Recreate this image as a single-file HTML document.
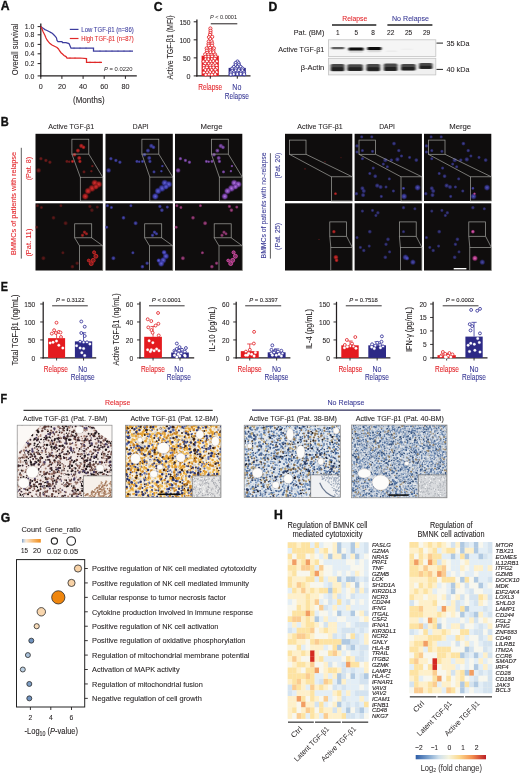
<!DOCTYPE html>
<html><head><meta charset="utf-8"><style>
html,body{margin:0;padding:0;background:#fff;}
body{width:520px;height:776px;overflow:hidden;}
svg{display:block;will-change:transform;font-family:"Liberation Sans",sans-serif;}
</style></head><body>
<svg width="520" height="776" viewBox="0 0 520 776">
<rect width="520" height="776" fill="#ffffff"/>
<text x="0.8" y="10.39" font-size="12.2" font-weight="bold" fill="#111" stroke="#111" stroke-width="0.35">A</text>
<text x="153.8" y="10.89" font-size="12.2" font-weight="bold" fill="#111" stroke="#111" stroke-width="0.35">C</text>
<text x="268.5" y="10.64" font-size="12.2" font-weight="bold" fill="#111" stroke="#111" stroke-width="0.35">D</text>
<text x="0.8" y="125.59" font-size="12.2" font-weight="bold" fill="#111" stroke="#111" stroke-width="0.35" textLength="8.0" lengthAdjust="spacingAndGlyphs">B</text>
<text x="0.8" y="291.29" font-size="12.2" font-weight="bold" fill="#111" stroke="#111" stroke-width="0.35" textLength="7.2" lengthAdjust="spacingAndGlyphs">E</text>
<text x="0.5" y="402.79" font-size="12.2" font-weight="bold" fill="#111" stroke="#111" stroke-width="0.35" textLength="6.6" lengthAdjust="spacingAndGlyphs">F</text>
<text x="0.8" y="521.89" font-size="12.2" font-weight="bold" fill="#111" stroke="#111" stroke-width="0.35">G</text>
<text x="274.0" y="518.69" font-size="12.2" font-weight="bold" fill="#111" stroke="#111" stroke-width="0.35">H</text>
<line x1="40.80" y1="23.40" x2="40.80" y2="76.40" stroke="#231f20" stroke-width="1.3" />
<line x1="40.20" y1="75.90" x2="136.80" y2="75.90" stroke="#231f20" stroke-width="1.3" />
<line x1="37.60" y1="26.60" x2="40.80" y2="26.60" stroke="#231f20" stroke-width="1.0" />
<text x="34.30" y="29.26" font-size="7.39" fill="#231f20" stroke="#231f20" stroke-width="0.08" text-anchor="end" textLength="9.60" lengthAdjust="spacingAndGlyphs" >1.0</text>
<line x1="37.60" y1="34.80" x2="40.80" y2="34.80" stroke="#231f20" stroke-width="1.0" />
<text x="34.30" y="37.46" font-size="7.39" fill="#231f20" stroke="#231f20" stroke-width="0.08" text-anchor="end" textLength="9.60" lengthAdjust="spacingAndGlyphs" >0.8</text>
<line x1="37.60" y1="44.40" x2="40.80" y2="44.40" stroke="#231f20" stroke-width="1.0" />
<text x="34.30" y="47.06" font-size="7.39" fill="#231f20" stroke="#231f20" stroke-width="0.08" text-anchor="end" textLength="9.60" lengthAdjust="spacingAndGlyphs" >0.6</text>
<line x1="37.60" y1="53.80" x2="40.80" y2="53.80" stroke="#231f20" stroke-width="1.0" />
<text x="34.30" y="56.46" font-size="7.39" fill="#231f20" stroke="#231f20" stroke-width="0.08" text-anchor="end" textLength="9.60" lengthAdjust="spacingAndGlyphs" >0.4</text>
<line x1="37.60" y1="63.60" x2="40.80" y2="63.60" stroke="#231f20" stroke-width="1.0" />
<text x="34.30" y="66.26" font-size="7.39" fill="#231f20" stroke="#231f20" stroke-width="0.08" text-anchor="end" textLength="9.60" lengthAdjust="spacingAndGlyphs" >0.2</text>
<line x1="37.60" y1="75.90" x2="40.80" y2="75.90" stroke="#231f20" stroke-width="1.0" />
<text x="34.30" y="78.56" font-size="7.39" fill="#231f20" stroke="#231f20" stroke-width="0.08" text-anchor="end" textLength="9.60" lengthAdjust="spacingAndGlyphs" >0.0</text>
<line x1="40.80" y1="75.90" x2="40.80" y2="78.90" stroke="#231f20" stroke-width="1.0" />
<text x="40.80" y="88.86" font-size="7.39" fill="#231f20" stroke="#231f20" stroke-width="0.08" text-anchor="middle" textLength="4.00" lengthAdjust="spacingAndGlyphs" >0</text>
<line x1="61.90" y1="75.90" x2="61.90" y2="78.90" stroke="#231f20" stroke-width="1.0" />
<text x="61.90" y="88.86" font-size="7.39" fill="#231f20" stroke="#231f20" stroke-width="0.08" text-anchor="middle" textLength="8.00" lengthAdjust="spacingAndGlyphs" >20</text>
<line x1="83.10" y1="75.90" x2="83.10" y2="78.90" stroke="#231f20" stroke-width="1.0" />
<text x="83.10" y="88.86" font-size="7.39" fill="#231f20" stroke="#231f20" stroke-width="0.08" text-anchor="middle" textLength="8.00" lengthAdjust="spacingAndGlyphs" >40</text>
<line x1="104.20" y1="75.90" x2="104.20" y2="78.90" stroke="#231f20" stroke-width="1.0" />
<text x="104.20" y="88.86" font-size="7.39" fill="#231f20" stroke="#231f20" stroke-width="0.08" text-anchor="middle" textLength="8.00" lengthAdjust="spacingAndGlyphs" >60</text>
<line x1="125.40" y1="75.90" x2="125.40" y2="78.90" stroke="#231f20" stroke-width="1.0" />
<text x="125.40" y="88.86" font-size="7.39" fill="#231f20" stroke="#231f20" stroke-width="0.08" text-anchor="middle" textLength="8.00" lengthAdjust="spacingAndGlyphs" >80</text>
<text x="88.80" y="102.70" font-size="9.18" fill="#231f20" stroke="#231f20" stroke-width="0.08" text-anchor="middle" textLength="31.50" lengthAdjust="spacingAndGlyphs" >(Months)</text>
<text x="14.10" y="52.95" font-size="9.86" fill="#231f20" stroke="#231f20" stroke-width="0.08" text-anchor="middle" textLength="51.50" lengthAdjust="spacingAndGlyphs" transform="rotate(-90 14.10 49.40)" >Overall survival</text>
<polyline points="41.00,26.60 42.00,27.50 43.50,28.60 45.00,29.60 46.50,30.20 48.00,31.00 49.50,31.80 51.00,32.60 52.50,33.60 54.00,35.00 55.50,36.60 56.50,38.00 57.00,40.50 58.00,41.70 62.00,41.70 62.50,42.60 66.00,42.60 69.00,43.60 70.00,45.80 71.00,48.20 93.50,48.20 93.50,51.10 133.00,51.10" fill="none" stroke="#3c3c9e" stroke-width="1.25" stroke-linejoin="miter"/>
<polyline points="41.00,26.60 42.00,29.00 43.00,31.50 44.00,33.50 45.00,35.60 46.00,38.00 47.00,40.00 48.50,41.80 50.00,43.60 52.00,45.00 55.00,46.50 57.00,47.50 58.50,49.00 59.50,50.70 61.00,52.70 62.50,54.00 64.00,55.50 66.00,56.60 67.00,58.00 80.00,58.00 86.50,58.60 86.50,62.30 102.00,62.30" fill="none" stroke="#e02828" stroke-width="1.25" stroke-linejoin="miter"/>
<line x1="100.00" y1="50.20" x2="100.00" y2="52.00" stroke="#3c3c9e" stroke-width="0.5" />
<line x1="106.00" y1="50.20" x2="106.00" y2="52.00" stroke="#3c3c9e" stroke-width="0.5" />
<line x1="112.00" y1="50.20" x2="112.00" y2="52.00" stroke="#3c3c9e" stroke-width="0.5" />
<line x1="118.00" y1="50.20" x2="118.00" y2="52.00" stroke="#3c3c9e" stroke-width="0.5" />
<line x1="124.00" y1="50.20" x2="124.00" y2="52.00" stroke="#3c3c9e" stroke-width="0.5" />
<line x1="130.00" y1="50.20" x2="130.00" y2="52.00" stroke="#3c3c9e" stroke-width="0.5" />
<line x1="74.00" y1="47.30" x2="74.00" y2="49.10" stroke="#3c3c9e" stroke-width="0.5" />
<line x1="80.00" y1="47.30" x2="80.00" y2="49.10" stroke="#3c3c9e" stroke-width="0.5" />
<line x1="86.00" y1="47.30" x2="86.00" y2="49.10" stroke="#3c3c9e" stroke-width="0.5" />
<line x1="70.00" y1="57.10" x2="70.00" y2="58.90" stroke="#e02828" stroke-width="0.5" />
<line x1="75.00" y1="57.10" x2="75.00" y2="58.90" stroke="#e02828" stroke-width="0.5" />
<line x1="90.00" y1="61.40" x2="90.00" y2="63.20" stroke="#e02828" stroke-width="0.5" />
<line x1="95.00" y1="61.40" x2="95.00" y2="63.20" stroke="#e02828" stroke-width="0.5" />
<line x1="100.00" y1="61.40" x2="100.00" y2="63.20" stroke="#e02828" stroke-width="0.5" />
<line x1="69.80" y1="29.40" x2="78.50" y2="29.40" stroke="#3c3c9e" stroke-width="1.2" />
<line x1="69.80" y1="38.50" x2="78.50" y2="38.50" stroke="#e02828" stroke-width="1.2" />
<text x="81.30" y="31.94" font-size="7.06" fill="#3c3c9e" stroke="#3c3c9e" stroke-width="0.08" textLength="52.50" lengthAdjust="spacingAndGlyphs" >Low TGF-β1 (n=86)</text>
<text x="81.30" y="41.04" font-size="7.06" fill="#e02828" stroke="#e02828" stroke-width="0.08" textLength="52.50" lengthAdjust="spacingAndGlyphs" >High TGF-β1 (n=87)</text>
<text x="104" y="70.99" font-size="5.8" fill="#231f20" textLength="28.5" lengthAdjust="spacingAndGlyphs"><tspan font-style="italic">P</tspan> = 0.0220</text>
<line x1="196.90" y1="19.60" x2="196.90" y2="76.40" stroke="#231f20" stroke-width="1.3" />
<line x1="196.30" y1="75.90" x2="250.50" y2="75.90" stroke="#231f20" stroke-width="1.3" />
<line x1="193.70" y1="75.90" x2="196.90" y2="75.90" stroke="#231f20" stroke-width="1.0" />
<text x="190.60" y="78.64" font-size="7.62" fill="#231f20" stroke="#231f20" stroke-width="0.08" text-anchor="end" textLength="4.00" lengthAdjust="spacingAndGlyphs" >0</text>
<line x1="193.70" y1="57.87" x2="196.90" y2="57.87" stroke="#231f20" stroke-width="1.0" />
<text x="190.60" y="60.61" font-size="7.62" fill="#231f20" stroke="#231f20" stroke-width="0.08" text-anchor="end" textLength="7.60" lengthAdjust="spacingAndGlyphs" >50</text>
<line x1="193.70" y1="39.83" x2="196.90" y2="39.83" stroke="#231f20" stroke-width="1.0" />
<text x="190.60" y="42.58" font-size="7.62" fill="#231f20" stroke="#231f20" stroke-width="0.08" text-anchor="end" textLength="11.20" lengthAdjust="spacingAndGlyphs" >100</text>
<line x1="193.70" y1="21.80" x2="196.90" y2="21.80" stroke="#231f20" stroke-width="1.0" />
<text x="190.60" y="24.54" font-size="7.62" fill="#231f20" stroke="#231f20" stroke-width="0.08" text-anchor="end" textLength="11.20" lengthAdjust="spacingAndGlyphs" >150</text>
<line x1="210.30" y1="75.90" x2="210.30" y2="78.70" stroke="#231f20" stroke-width="1.0" />
<line x1="237.30" y1="75.90" x2="237.30" y2="78.70" stroke="#231f20" stroke-width="1.0" />
<text x="169.60" y="50.80" font-size="9.18" fill="#231f20" stroke="#231f20" stroke-width="0.08" text-anchor="middle" textLength="64.00" lengthAdjust="spacingAndGlyphs" transform="rotate(-90 169.60 47.50)" >Active TGF-β1 (MFI)</text>
<rect x="201.60" y="55.70" width="17.20" height="20.20" fill="#e41b1f" />
<rect x="228.60" y="67.90" width="17.20" height="8.00" fill="#2d2a86" />
<circle cx="210.39" cy="28.47" r="1.60" fill="#ffffff" stroke="#e3262b" stroke-width="0.9" />
<circle cx="210.51" cy="30.80" r="1.60" fill="#ffffff" stroke="#e3262b" stroke-width="0.9" />
<circle cx="210.47" cy="32.99" r="1.60" fill="#ffffff" stroke="#e3262b" stroke-width="0.9" />
<circle cx="209.97" cy="34.86" r="1.60" fill="#ffffff" stroke="#e3262b" stroke-width="0.9" />
<circle cx="208.99" cy="37.19" r="1.60" fill="#ffffff" stroke="#e3262b" stroke-width="0.9" />
<circle cx="212.21" cy="36.81" r="1.60" fill="#ffffff" stroke="#e3262b" stroke-width="0.9" />
<circle cx="210.28" cy="39.10" r="1.60" fill="#ffffff" stroke="#e3262b" stroke-width="0.9" />
<circle cx="208.71" cy="41.52" r="1.60" fill="#ffffff" stroke="#e3262b" stroke-width="0.9" />
<circle cx="211.58" cy="41.27" r="1.60" fill="#ffffff" stroke="#e3262b" stroke-width="0.9" />
<circle cx="208.52" cy="43.96" r="1.60" fill="#ffffff" stroke="#e3262b" stroke-width="0.9" />
<circle cx="212.11" cy="43.43" r="1.60" fill="#ffffff" stroke="#e3262b" stroke-width="0.9" />
<circle cx="208.88" cy="45.61" r="1.60" fill="#ffffff" stroke="#e3262b" stroke-width="0.9" />
<circle cx="212.01" cy="45.60" r="1.60" fill="#ffffff" stroke="#e3262b" stroke-width="0.9" />
<circle cx="206.70" cy="48.32" r="1.60" fill="#ffffff" stroke="#e3262b" stroke-width="0.9" />
<circle cx="210.10" cy="47.86" r="1.60" fill="#ffffff" stroke="#e3262b" stroke-width="0.9" />
<circle cx="213.89" cy="48.32" r="1.60" fill="#ffffff" stroke="#e3262b" stroke-width="0.9" />
<circle cx="206.90" cy="50.58" r="1.60" fill="#ffffff" stroke="#e3262b" stroke-width="0.9" />
<circle cx="210.33" cy="50.38" r="1.60" fill="#ffffff" stroke="#e3262b" stroke-width="0.9" />
<circle cx="213.34" cy="50.56" r="1.60" fill="#ffffff" stroke="#e3262b" stroke-width="0.9" />
<circle cx="207.18" cy="52.77" r="1.60" fill="#ffffff" stroke="#e3262b" stroke-width="0.9" />
<circle cx="210.58" cy="52.31" r="1.60" fill="#ffffff" stroke="#e3262b" stroke-width="0.9" />
<circle cx="213.45" cy="52.21" r="1.60" fill="#ffffff" stroke="#e3262b" stroke-width="0.9" />
<circle cx="205.18" cy="54.34" r="1.60" fill="#ffffff" stroke="#e3262b" stroke-width="0.9" />
<circle cx="208.54" cy="54.72" r="1.60" fill="#ffffff" stroke="#e3262b" stroke-width="0.9" />
<circle cx="211.58" cy="54.77" r="1.60" fill="#ffffff" stroke="#e3262b" stroke-width="0.9" />
<circle cx="215.06" cy="54.51" r="1.60" fill="#ffffff" stroke="#e3262b" stroke-width="0.9" />
<circle cx="205.65" cy="56.82" r="1.60" fill="#ffffff" stroke="#e3262b" stroke-width="0.9" />
<circle cx="208.55" cy="56.82" r="1.60" fill="#ffffff" stroke="#e3262b" stroke-width="0.9" />
<circle cx="212.07" cy="56.53" r="1.60" fill="#ffffff" stroke="#e3262b" stroke-width="0.9" />
<circle cx="215.51" cy="56.50" r="1.60" fill="#ffffff" stroke="#e3262b" stroke-width="0.9" />
<circle cx="205.60" cy="59.27" r="1.60" fill="#ffffff" stroke="#e3262b" stroke-width="0.9" />
<circle cx="208.34" cy="59.23" r="1.60" fill="#ffffff" stroke="#e3262b" stroke-width="0.9" />
<circle cx="211.83" cy="59.09" r="1.60" fill="#ffffff" stroke="#e3262b" stroke-width="0.9" />
<circle cx="214.83" cy="58.72" r="1.60" fill="#ffffff" stroke="#e3262b" stroke-width="0.9" />
<circle cx="203.58" cy="61.55" r="1.60" fill="#ffffff" stroke="#e3262b" stroke-width="0.9" />
<circle cx="206.84" cy="61.41" r="1.60" fill="#ffffff" stroke="#e3262b" stroke-width="0.9" />
<circle cx="210.60" cy="61.54" r="1.60" fill="#ffffff" stroke="#e3262b" stroke-width="0.9" />
<circle cx="213.44" cy="61.13" r="1.60" fill="#ffffff" stroke="#e3262b" stroke-width="0.9" />
<circle cx="216.82" cy="61.42" r="1.60" fill="#ffffff" stroke="#e3262b" stroke-width="0.9" />
<circle cx="205.15" cy="63.60" r="1.60" fill="#ffffff" stroke="#e3262b" stroke-width="0.9" />
<circle cx="208.88" cy="63.68" r="1.60" fill="#ffffff" stroke="#e3262b" stroke-width="0.9" />
<circle cx="211.60" cy="63.74" r="1.60" fill="#ffffff" stroke="#e3262b" stroke-width="0.9" />
<circle cx="214.89" cy="63.31" r="1.60" fill="#ffffff" stroke="#e3262b" stroke-width="0.9" />
<circle cx="203.88" cy="65.91" r="1.60" fill="#ffffff" stroke="#e3262b" stroke-width="0.9" />
<circle cx="206.94" cy="65.92" r="1.60" fill="#ffffff" stroke="#e3262b" stroke-width="0.9" />
<circle cx="210.33" cy="65.49" r="1.60" fill="#ffffff" stroke="#e3262b" stroke-width="0.9" />
<circle cx="213.42" cy="65.39" r="1.60" fill="#ffffff" stroke="#e3262b" stroke-width="0.9" />
<circle cx="216.50" cy="65.37" r="1.60" fill="#ffffff" stroke="#e3262b" stroke-width="0.9" />
<circle cx="203.93" cy="68.16" r="1.60" fill="#ffffff" stroke="#e3262b" stroke-width="0.9" />
<circle cx="206.81" cy="67.50" r="1.60" fill="#ffffff" stroke="#e3262b" stroke-width="0.9" />
<circle cx="210.64" cy="67.84" r="1.60" fill="#ffffff" stroke="#e3262b" stroke-width="0.9" />
<circle cx="213.48" cy="67.63" r="1.60" fill="#ffffff" stroke="#e3262b" stroke-width="0.9" />
<circle cx="216.87" cy="68.04" r="1.60" fill="#ffffff" stroke="#e3262b" stroke-width="0.9" />
<circle cx="205.39" cy="69.95" r="1.60" fill="#ffffff" stroke="#e3262b" stroke-width="0.9" />
<circle cx="208.36" cy="70.30" r="1.60" fill="#ffffff" stroke="#e3262b" stroke-width="0.9" />
<circle cx="211.60" cy="70.01" r="1.60" fill="#ffffff" stroke="#e3262b" stroke-width="0.9" />
<circle cx="215.41" cy="69.75" r="1.60" fill="#ffffff" stroke="#e3262b" stroke-width="0.9" />
<circle cx="203.96" cy="72.52" r="1.60" fill="#ffffff" stroke="#e3262b" stroke-width="0.9" />
<circle cx="207.14" cy="72.41" r="1.60" fill="#ffffff" stroke="#e3262b" stroke-width="0.9" />
<circle cx="210.02" cy="72.16" r="1.60" fill="#ffffff" stroke="#e3262b" stroke-width="0.9" />
<circle cx="213.30" cy="72.45" r="1.60" fill="#ffffff" stroke="#e3262b" stroke-width="0.9" />
<circle cx="216.66" cy="72.17" r="1.60" fill="#ffffff" stroke="#e3262b" stroke-width="0.9" />
<circle cx="205.77" cy="74.65" r="1.60" fill="#ffffff" stroke="#e3262b" stroke-width="0.9" />
<circle cx="209.01" cy="74.37" r="1.60" fill="#ffffff" stroke="#e3262b" stroke-width="0.9" />
<circle cx="211.92" cy="74.56" r="1.60" fill="#ffffff" stroke="#e3262b" stroke-width="0.9" />
<circle cx="215.16" cy="74.25" r="1.60" fill="#ffffff" stroke="#e3262b" stroke-width="0.9" />
<circle cx="237.48" cy="61.59" r="1.65" fill="#ffffff" stroke="#34329a" stroke-width="0.9" />
<circle cx="235.64" cy="63.09" r="1.65" fill="#ffffff" stroke="#34329a" stroke-width="0.9" />
<circle cx="238.65" cy="63.33" r="1.65" fill="#ffffff" stroke="#34329a" stroke-width="0.9" />
<circle cx="235.63" cy="65.21" r="1.65" fill="#ffffff" stroke="#34329a" stroke-width="0.9" />
<circle cx="238.87" cy="65.22" r="1.65" fill="#ffffff" stroke="#34329a" stroke-width="0.9" />
<circle cx="233.86" cy="67.07" r="1.65" fill="#ffffff" stroke="#34329a" stroke-width="0.9" />
<circle cx="237.44" cy="66.83" r="1.65" fill="#ffffff" stroke="#34329a" stroke-width="0.9" />
<circle cx="240.62" cy="66.99" r="1.65" fill="#ffffff" stroke="#34329a" stroke-width="0.9" />
<circle cx="232.17" cy="68.75" r="1.65" fill="#ffffff" stroke="#34329a" stroke-width="0.9" />
<circle cx="235.83" cy="68.57" r="1.65" fill="#ffffff" stroke="#34329a" stroke-width="0.9" />
<circle cx="239.13" cy="68.83" r="1.65" fill="#ffffff" stroke="#34329a" stroke-width="0.9" />
<circle cx="242.46" cy="68.62" r="1.65" fill="#ffffff" stroke="#34329a" stroke-width="0.9" />
<circle cx="232.11" cy="70.72" r="1.65" fill="#ffffff" stroke="#34329a" stroke-width="0.9" />
<circle cx="235.83" cy="70.51" r="1.65" fill="#ffffff" stroke="#34329a" stroke-width="0.9" />
<circle cx="238.71" cy="70.36" r="1.65" fill="#ffffff" stroke="#34329a" stroke-width="0.9" />
<circle cx="242.33" cy="70.42" r="1.65" fill="#ffffff" stroke="#34329a" stroke-width="0.9" />
<circle cx="230.97" cy="72.42" r="1.65" fill="#ffffff" stroke="#34329a" stroke-width="0.9" />
<circle cx="233.82" cy="72.46" r="1.65" fill="#ffffff" stroke="#34329a" stroke-width="0.9" />
<circle cx="237.22" cy="72.63" r="1.65" fill="#ffffff" stroke="#34329a" stroke-width="0.9" />
<circle cx="240.85" cy="72.38" r="1.65" fill="#ffffff" stroke="#34329a" stroke-width="0.9" />
<circle cx="243.99" cy="72.49" r="1.65" fill="#ffffff" stroke="#34329a" stroke-width="0.9" />
<circle cx="230.88" cy="74.49" r="1.65" fill="#ffffff" stroke="#34329a" stroke-width="0.9" />
<circle cx="233.72" cy="74.12" r="1.65" fill="#ffffff" stroke="#34329a" stroke-width="0.9" />
<circle cx="237.36" cy="74.08" r="1.65" fill="#ffffff" stroke="#34329a" stroke-width="0.9" />
<circle cx="240.65" cy="73.95" r="1.65" fill="#ffffff" stroke="#34329a" stroke-width="0.9" />
<circle cx="244.13" cy="74.22" r="1.65" fill="#ffffff" stroke="#34329a" stroke-width="0.9" />
<line x1="210.80" y1="23.80" x2="237.30" y2="23.80" stroke="#231f20" stroke-width="1.0" />
<text x="223.5" y="19.36" font-size="6" fill="#231f20" text-anchor="middle" textLength="27" lengthAdjust="spacingAndGlyphs"><tspan font-style="italic">P</tspan> &lt; 0.0001</text>
<text x="210.20" y="89.78" font-size="8.29" fill="#e3262b" stroke="#e3262b" stroke-width="0.08" text-anchor="middle" textLength="24.00" lengthAdjust="spacingAndGlyphs" >Relapse</text>
<text x="236.80" y="89.78" font-size="8.29" fill="#3a3a96" stroke="#3a3a96" stroke-width="0.08" text-anchor="middle" textLength="9.00" lengthAdjust="spacingAndGlyphs" >No</text>
<text x="236.80" y="98.78" font-size="8.29" fill="#3a3a96" stroke="#3a3a96" stroke-width="0.08" text-anchor="middle" textLength="24.00" lengthAdjust="spacingAndGlyphs" >Relapse</text>
<text x="354.80" y="20.82" font-size="7.84" fill="#e3262b" stroke="#e3262b" stroke-width="0.08" text-anchor="middle" textLength="25.00" lengthAdjust="spacingAndGlyphs" >Relapse</text>
<text x="410.50" y="20.82" font-size="7.84" fill="#3a3a96" stroke="#3a3a96" stroke-width="0.08" text-anchor="middle" textLength="37.00" lengthAdjust="spacingAndGlyphs" >No Relapse</text>
<line x1="332.00" y1="25.00" x2="376.30" y2="25.00" stroke="#222" stroke-width="1.35" />
<line x1="387.40" y1="25.00" x2="432.40" y2="25.00" stroke="#222" stroke-width="1.35" />
<text x="324.30" y="35.02" font-size="7.84" fill="#231f20" stroke="#231f20" stroke-width="0.08" text-anchor="end" textLength="30.50" lengthAdjust="spacingAndGlyphs" >Pat. (BM)</text>
<text x="337.70" y="35.14" font-size="7.62" fill="#231f20" stroke="#231f20" stroke-width="0.08" text-anchor="middle" textLength="3.60" lengthAdjust="spacingAndGlyphs" >1</text>
<text x="356.20" y="35.14" font-size="7.62" fill="#231f20" stroke="#231f20" stroke-width="0.08" text-anchor="middle" textLength="3.60" lengthAdjust="spacingAndGlyphs" >5</text>
<text x="373.00" y="35.14" font-size="7.62" fill="#231f20" stroke="#231f20" stroke-width="0.08" text-anchor="middle" textLength="3.60" lengthAdjust="spacingAndGlyphs" >8</text>
<text x="390.80" y="35.14" font-size="7.62" fill="#231f20" stroke="#231f20" stroke-width="0.08" text-anchor="middle" textLength="7.40" lengthAdjust="spacingAndGlyphs" >22</text>
<text x="408.60" y="35.14" font-size="7.62" fill="#231f20" stroke="#231f20" stroke-width="0.08" text-anchor="middle" textLength="7.40" lengthAdjust="spacingAndGlyphs" >25</text>
<text x="426.60" y="35.14" font-size="7.62" fill="#231f20" stroke="#231f20" stroke-width="0.08" text-anchor="middle" textLength="7.40" lengthAdjust="spacingAndGlyphs" >29</text>
<text x="324.30" y="52.12" font-size="7.84" fill="#231f20" stroke="#231f20" stroke-width="0.08" text-anchor="end" textLength="46.00" lengthAdjust="spacingAndGlyphs" >Active TGF-β1</text>
<text x="324.30" y="70.32" font-size="7.84" fill="#231f20" stroke="#231f20" stroke-width="0.08" text-anchor="end" textLength="23.50" lengthAdjust="spacingAndGlyphs" >β-Actin</text>
<defs><filter id="blur1" x="-30%" y="-60%" width="160%" height="220%"><feGaussianBlur stdDeviation="0.9 0.7"/></filter><filter id="blur05"><feGaussianBlur stdDeviation="0.45"/></filter></defs>
<rect x="328.40" y="39.80" width="107.40" height="16.60" fill="#f5f5f5" stroke="#c4c4c4" stroke-width="0.8"/>
<rect x="328.40" y="58.30" width="107.40" height="16.60" fill="#f0f0f0" stroke="#c4c4c4" stroke-width="0.8"/>
<filter id="bb" x="-20%" y="-80%" width="140%" height="260%"><feGaussianBlur stdDeviation="0.8 0.45"/></filter>
<g filter="url(#bb)">
<rect x="331.2" y="47.0" width="13.30" height="2.2" rx="1.2" fill="#5e5e5e"/>
<rect x="348.5" y="47.4" width="15.00" height="3.6" rx="1.2" fill="#0a0a0a"/>
<rect x="367.3" y="46.9" width="14.10" height="3.4" rx="1.2" fill="#0c0c0c"/>
<rect x="349" y="50.6" width="14.00" height="2.2" rx="0.8" fill="#d8d8d8"/>
<rect x="367.5" y="50.2" width="13.50" height="2.0" rx="0.8" fill="#dadada"/>
<rect x="386" y="50.5" width="11.00" height="1.6" rx="0.8" fill="#ececec"/>
<rect x="401" y="48.5" width="12.00" height="1.4" rx="0.8" fill="#efefef"/>
<rect x="330.6" y="64.0" width="13.90" height="7.30" rx="1.6" fill="#4a4a4a"/>
<rect x="331.1" y="67.28" width="12.90" height="3.65" rx="1.2" fill="#222"/>
<rect x="347.3" y="64.2" width="15.60" height="6.80" rx="1.6" fill="#4a4a4a"/>
<rect x="347.8" y="67.26" width="14.60" height="3.40" rx="1.2" fill="#222"/>
<rect x="366.4" y="64.0" width="13.80" height="7.20" rx="1.6" fill="#4a4a4a"/>
<rect x="366.9" y="67.24" width="12.80" height="3.60" rx="1.2" fill="#222"/>
<rect x="383.8" y="63.6" width="13.70" height="7.40" rx="1.6" fill="#4a4a4a"/>
<rect x="384.3" y="66.93" width="12.70" height="3.70" rx="1.2" fill="#222"/>
<rect x="400.9" y="64.0" width="14.80" height="6.50" rx="1.6" fill="#4a4a4a"/>
<rect x="401.4" y="66.92" width="13.80" height="3.25" rx="1.2" fill="#222"/>
<rect x="419.0" y="62.9" width="13.50" height="6.10" rx="1.6" fill="#4a4a4a"/>
<rect x="419.5" y="65.64" width="12.50" height="3.05" rx="1.2" fill="#222"/>
</g>
<line x1="436.50" y1="43.10" x2="443.00" y2="43.10" stroke="#222" stroke-width="1.0" />
<line x1="436.50" y1="69.40" x2="443.00" y2="69.40" stroke="#222" stroke-width="1.0" />
<text x="446.50" y="45.94" font-size="7.62" fill="#231f20" stroke="#231f20" stroke-width="0.08" textLength="23.00" lengthAdjust="spacingAndGlyphs" >35 kDa</text>
<text x="446.50" y="71.94" font-size="7.62" fill="#231f20" stroke="#231f20" stroke-width="0.08" textLength="23.00" lengthAdjust="spacingAndGlyphs" >40 kDa</text>
<defs><filter id="gl" x="-100%" y="-100%" width="300%" height="300%"><feGaussianBlur stdDeviation="0.55"/></filter><clipPath id="cpB"><rect x="0" y="0" width="67.3" height="67.2"/></clipPath></defs>
<text x="71.20" y="129.32" font-size="7.84" fill="#231f20" stroke="#231f20" stroke-width="0.08" text-anchor="middle" textLength="46.00" lengthAdjust="spacingAndGlyphs" >Active TGF-β1</text>
<text x="140.70" y="129.32" font-size="7.84" fill="#231f20" stroke="#231f20" stroke-width="0.08" text-anchor="middle" textLength="15.70" lengthAdjust="spacingAndGlyphs" >DAPI</text>
<text x="211.50" y="129.32" font-size="7.84" fill="#231f20" stroke="#231f20" stroke-width="0.08" text-anchor="middle" textLength="22.00" lengthAdjust="spacingAndGlyphs" >Merge</text>
<text x="320.00" y="129.32" font-size="7.84" fill="#231f20" stroke="#231f20" stroke-width="0.08" text-anchor="middle" textLength="45.50" lengthAdjust="spacingAndGlyphs" >Active TGF-β1</text>
<text x="387.00" y="129.32" font-size="7.84" fill="#231f20" stroke="#231f20" stroke-width="0.08" text-anchor="middle" textLength="15.70" lengthAdjust="spacingAndGlyphs" >DAPI</text>
<text x="460.20" y="129.32" font-size="7.84" fill="#231f20" stroke="#231f20" stroke-width="0.08" text-anchor="middle" textLength="22.00" lengthAdjust="spacingAndGlyphs" >Merge</text>
<text x="13.30" y="206.22" font-size="7.84" fill="#e3262b" stroke="#e3262b" stroke-width="0.08" text-anchor="middle" textLength="103.00" lengthAdjust="spacingAndGlyphs" transform="rotate(-90 13.30 203.40)" >BMMCs of patients with relapse</text>
<line x1="21.30" y1="147.80" x2="21.30" y2="258.60" stroke="#333" stroke-width="0.8" />
<text x="28.20" y="171.42" font-size="7.84" fill="#e3262b" stroke="#e3262b" stroke-width="0.08" text-anchor="middle" textLength="23.50" lengthAdjust="spacingAndGlyphs" transform="rotate(-90 28.20 168.60)" >(Pat. 8)</text>
<text x="28.20" y="245.42" font-size="7.84" fill="#e3262b" stroke="#e3262b" stroke-width="0.08" text-anchor="middle" textLength="28.00" lengthAdjust="spacingAndGlyphs" transform="rotate(-90 28.20 242.60)" >(Pat. 11)</text>
<text x="263.20" y="208.22" font-size="7.84" fill="#3a3a96" stroke="#3a3a96" stroke-width="0.08" text-anchor="middle" textLength="106.00" lengthAdjust="spacingAndGlyphs" transform="rotate(-90 263.20 205.40)" >BMMCs of patients with no-relapse</text>
<line x1="270.40" y1="153.20" x2="270.40" y2="258.60" stroke="#333" stroke-width="0.8" />
<text x="277.20" y="168.42" font-size="7.84" fill="#3a3a96" stroke="#3a3a96" stroke-width="0.08" text-anchor="middle" textLength="26.00" lengthAdjust="spacingAndGlyphs" transform="rotate(-90 277.20 165.60)" >(Pat. 20)</text>
<text x="277.20" y="239.22" font-size="7.84" fill="#3a3a96" stroke="#3a3a96" stroke-width="0.08" text-anchor="middle" textLength="27.00" lengthAdjust="spacingAndGlyphs" transform="rotate(-90 277.20 236.40)" >(Pat. 25)</text>
<defs><radialGradient id="gR"><stop offset="0" stop-color="#dc3030"/><stop offset="0.55" stop-color="#a81e1e" stop-opacity="0.85"/><stop offset="1" stop-color="#601010" stop-opacity="0"/></radialGradient><radialGradient id="gB"><stop offset="0" stop-color="#6a6ae6"/><stop offset="0.55" stop-color="#4040b8" stop-opacity="0.85"/><stop offset="1" stop-color="#202070" stop-opacity="0"/></radialGradient><radialGradient id="gM"><stop offset="0" stop-color="#c080f0"/><stop offset="0.55" stop-color="#8848c0" stop-opacity="0.85"/><stop offset="1" stop-color="#402060" stop-opacity="0"/></radialGradient><radialGradient id="gP"><stop offset="0" stop-color="#f070c0"/><stop offset="0.55" stop-color="#b03888" stop-opacity="0.85"/><stop offset="1" stop-color="#501040" stop-opacity="0"/></radialGradient></defs>
<g transform="translate(35.50,133.80)">
<rect x="0" y="0" width="67.3" height="67.2" fill="#0f0d0d"/>
<circle cx="5.4" cy="24.9" r="2.21" fill="url(#gR)" opacity="0.52"/>
<circle cx="10.4" cy="26.6" r="2.21" fill="url(#gR)" opacity="0.52"/>
<circle cx="14.4" cy="28.4" r="2.21" fill="url(#gR)" opacity="0.52"/>
<circle cx="3.1" cy="36.6" r="2.89" fill="url(#gR)" opacity="0.52"/>
<circle cx="31.4" cy="27.6" r="2.04" fill="url(#gR)" opacity="0.52"/>
<circle cx="37" cy="27.6" r="2.04" fill="url(#gR)" opacity="0.95"/>
<circle cx="43.7" cy="24.2" r="2.55" fill="url(#gR)" opacity="0.95"/>
<circle cx="44.4" cy="27.6" r="2.21" fill="url(#gR)" opacity="0.95"/>
<circle cx="39" cy="20.9" r="2.38" fill="url(#gR)" opacity="0.95"/>
<circle cx="42.4" cy="16.8" r="2.55" fill="url(#gR)" opacity="0.95"/>
<circle cx="45.8" cy="12.1" r="2.72" fill="url(#gR)" opacity="0.95"/>
<circle cx="48" cy="13.5" r="2.38" fill="url(#gR)" opacity="0.95"/>
<circle cx="56.9" cy="32.3" r="1.70" fill="url(#gR)" opacity="0.52"/>
<circle cx="48.5" cy="38.1" r="2.04" fill="url(#gR)" opacity="0.52"/>
<circle cx="33.7" cy="27.9" r="1.70" fill="url(#gR)" opacity="0.52"/>
<circle cx="55.9" cy="37.4" r="1.70" fill="url(#gR)" opacity="0.52"/>
<rect x="44.8" y="43.5" width="22.50" height="23.70" fill="#0f0d0d"/>
<circle cx="59.2" cy="49.1" r="3.77" fill="url(#gR)" opacity="1.00"/>
<circle cx="63.3" cy="50.5" r="3.77" fill="url(#gR)" opacity="1.00"/>
<circle cx="56.5" cy="54.5" r="4.06" fill="url(#gR)" opacity="1.00"/>
<circle cx="52.5" cy="57.2" r="3.77" fill="url(#gR)" opacity="1.00"/>
<circle cx="49.8" cy="62.6" r="3.77" fill="url(#gR)" opacity="1.00"/>
<circle cx="60.5" cy="53" r="3.19" fill="url(#gR)" opacity="1.00"/>
<rect x="36.4" y="5.4" width="16.9" height="14.9" stroke="#9a9a96" stroke-width="0.75" fill="none"/>
<rect x="44.8" y="43.5" width="22.50" height="23.70" stroke="#9a9a96" stroke-width="0.75" fill="none"/>
<line x1="36.4" y1="20.3" x2="44.8" y2="43.5" stroke="#9a9a96" stroke-width="0.75" fill="none"/>
<line x1="53.3" y1="20.3" x2="67.3" y2="43.5" stroke="#9a9a96" stroke-width="0.75" fill="none"/>
</g>
<g transform="translate(105.50,133.80)">
<rect x="0" y="0" width="67.3" height="67.2" fill="#0f0d0d"/>
<circle cx="5.4" cy="24.9" r="2.21" fill="url(#gB)" opacity="0.75"/>
<circle cx="10.4" cy="26.6" r="2.21" fill="url(#gB)" opacity="0.75"/>
<circle cx="14.4" cy="28.4" r="2.21" fill="url(#gB)" opacity="0.75"/>
<circle cx="3.1" cy="36.6" r="2.89" fill="url(#gB)" opacity="0.75"/>
<circle cx="31.4" cy="27.6" r="2.04" fill="url(#gB)" opacity="0.75"/>
<circle cx="37" cy="27.6" r="2.04" fill="url(#gB)" opacity="0.75"/>
<circle cx="43.7" cy="24.2" r="2.55" fill="url(#gB)" opacity="0.75"/>
<circle cx="44.4" cy="27.6" r="2.21" fill="url(#gB)" opacity="0.75"/>
<circle cx="39" cy="20.9" r="2.38" fill="url(#gB)" opacity="0.75"/>
<circle cx="42.4" cy="16.8" r="2.55" fill="url(#gB)" opacity="0.75"/>
<circle cx="45.8" cy="12.1" r="2.72" fill="url(#gB)" opacity="0.75"/>
<circle cx="48" cy="13.5" r="2.38" fill="url(#gB)" opacity="0.75"/>
<circle cx="56.9" cy="32.3" r="1.70" fill="url(#gB)" opacity="0.75"/>
<circle cx="48.5" cy="38.1" r="2.04" fill="url(#gB)" opacity="0.75"/>
<circle cx="33.7" cy="27.9" r="1.70" fill="url(#gB)" opacity="0.75"/>
<circle cx="55.9" cy="37.4" r="1.70" fill="url(#gB)" opacity="0.75"/>
<rect x="44.3" y="43.3" width="23.00" height="23.90" fill="#0f0d0d"/>
<circle cx="59.2" cy="49.1" r="3.77" fill="url(#gB)" opacity="0.95"/>
<circle cx="63.3" cy="50.5" r="3.77" fill="url(#gB)" opacity="0.95"/>
<circle cx="56.5" cy="54.5" r="4.06" fill="url(#gB)" opacity="0.95"/>
<circle cx="52.5" cy="57.2" r="3.77" fill="url(#gB)" opacity="0.95"/>
<circle cx="49.8" cy="62.6" r="3.77" fill="url(#gB)" opacity="0.95"/>
<circle cx="60.5" cy="53" r="3.19" fill="url(#gB)" opacity="0.95"/>
<rect x="36.4" y="5.4" width="16.9" height="14.9" stroke="#9a9a96" stroke-width="0.75" fill="none"/>
<rect x="44.3" y="43.3" width="23.00" height="23.90" stroke="#9a9a96" stroke-width="0.75" fill="none"/>
<line x1="36.4" y1="20.3" x2="44.3" y2="43.3" stroke="#9a9a96" stroke-width="0.75" fill="none"/>
<line x1="53.3" y1="20.3" x2="67.3" y2="43.3" stroke="#9a9a96" stroke-width="0.75" fill="none"/>
</g>
<g transform="translate(175.00,133.80)">
<rect x="0" y="0" width="67.3" height="67.2" fill="#0f0d0d"/>
<circle cx="5.4" cy="24.9" r="2.21" fill="url(#gM)" opacity="0.75"/>
<circle cx="10.4" cy="26.6" r="2.21" fill="url(#gM)" opacity="0.75"/>
<circle cx="14.4" cy="28.4" r="2.21" fill="url(#gM)" opacity="0.75"/>
<circle cx="3.1" cy="36.6" r="2.89" fill="url(#gM)" opacity="0.75"/>
<circle cx="31.4" cy="27.6" r="2.04" fill="url(#gM)" opacity="0.75"/>
<circle cx="37" cy="27.6" r="2.04" fill="url(#gM)" opacity="0.75"/>
<circle cx="43.7" cy="24.2" r="2.55" fill="url(#gM)" opacity="0.75"/>
<circle cx="44.4" cy="27.6" r="2.21" fill="url(#gM)" opacity="0.75"/>
<circle cx="39" cy="20.9" r="2.38" fill="url(#gM)" opacity="0.75"/>
<circle cx="42.4" cy="16.8" r="2.55" fill="url(#gM)" opacity="0.75"/>
<circle cx="45.8" cy="12.1" r="2.72" fill="url(#gM)" opacity="0.75"/>
<circle cx="48" cy="13.5" r="2.38" fill="url(#gM)" opacity="0.75"/>
<circle cx="56.9" cy="32.3" r="1.70" fill="url(#gM)" opacity="0.75"/>
<circle cx="48.5" cy="38.1" r="2.04" fill="url(#gM)" opacity="0.75"/>
<circle cx="33.7" cy="27.9" r="1.70" fill="url(#gM)" opacity="0.75"/>
<circle cx="55.9" cy="37.4" r="1.70" fill="url(#gM)" opacity="0.75"/>
<rect x="44.3" y="43.3" width="23.00" height="23.90" fill="#0f0d0d"/>
<circle cx="59.2" cy="49.1" r="3.77" fill="url(#gM)" opacity="0.95"/>
<circle cx="63.3" cy="50.5" r="3.77" fill="url(#gM)" opacity="0.95"/>
<circle cx="56.5" cy="54.5" r="4.06" fill="url(#gM)" opacity="0.95"/>
<circle cx="52.5" cy="57.2" r="3.77" fill="url(#gM)" opacity="0.95"/>
<circle cx="49.8" cy="62.6" r="3.77" fill="url(#gM)" opacity="0.95"/>
<circle cx="60.5" cy="53" r="3.19" fill="url(#gM)" opacity="0.95"/>
<rect x="36.4" y="5.4" width="16.9" height="14.9" stroke="#9a9a96" stroke-width="0.75" fill="none"/>
<rect x="44.3" y="43.3" width="23.00" height="23.90" stroke="#9a9a96" stroke-width="0.75" fill="none"/>
<line x1="36.4" y1="20.3" x2="44.3" y2="43.3" stroke="#9a9a96" stroke-width="0.75" fill="none"/>
<line x1="53.3" y1="20.3" x2="67.3" y2="43.3" stroke="#9a9a96" stroke-width="0.75" fill="none"/>
</g>
<g transform="translate(35.50,203.30)">
<rect x="0" y="0" width="67.3" height="67.2" fill="#0f0d0d"/>
<circle cx="1.9" cy="2.4" r="2.04" fill="url(#gR)" opacity="0.41"/>
<circle cx="5.9" cy="4.2" r="2.04" fill="url(#gR)" opacity="0.41"/>
<circle cx="25.4" cy="2.4" r="2.04" fill="url(#gR)" opacity="0.41"/>
<circle cx="54.4" cy="3.1" r="2.21" fill="url(#gR)" opacity="0.41"/>
<circle cx="61.8" cy="3.8" r="2.04" fill="url(#gR)" opacity="0.41"/>
<circle cx="56.4" cy="6.9" r="2.38" fill="url(#gR)" opacity="0.41"/>
<circle cx="18" cy="14.5" r="2.38" fill="url(#gR)" opacity="0.41"/>
<circle cx="30.1" cy="19.9" r="2.55" fill="url(#gR)" opacity="0.41"/>
<circle cx="1.2" cy="23.9" r="2.04" fill="url(#gR)" opacity="0.41"/>
<circle cx="49" cy="28.9" r="2.21" fill="url(#gR)" opacity="0.81"/>
<circle cx="47" cy="32" r="2.21" fill="url(#gR)" opacity="0.81"/>
<circle cx="51" cy="30.5" r="2.04" fill="url(#gR)" opacity="0.81"/>
<circle cx="27.4" cy="49.5" r="2.04" fill="url(#gR)" opacity="0.41"/>
<circle cx="7.9" cy="54.9" r="2.55" fill="url(#gR)" opacity="0.41"/>
<circle cx="41.6" cy="59.9" r="2.21" fill="url(#gR)" opacity="0.41"/>
<circle cx="36.9" cy="63.4" r="2.38" fill="url(#gR)" opacity="0.41"/>
<rect x="44.0" y="42.5" width="23.30" height="24.70" fill="#0f0d0d"/>
<circle cx="60.4" cy="52.9" r="3.12" fill="url(#gR)" opacity="0.60"/>
<circle cx="60.4" cy="52.9" r="1.88" fill="none" stroke="#d02828" stroke-width="0.9" opacity="1.00"/>
<circle cx="57.7" cy="57" r="3.12" fill="url(#gR)" opacity="0.60"/>
<circle cx="57.7" cy="57" r="1.88" fill="none" stroke="#d02828" stroke-width="0.9" opacity="1.00"/>
<circle cx="55.7" cy="60.3" r="3.12" fill="url(#gR)" opacity="0.60"/>
<circle cx="55.7" cy="60.3" r="1.88" fill="none" stroke="#d02828" stroke-width="0.9" opacity="1.00"/>
<circle cx="58.6" cy="49.1" r="2.50" fill="url(#gR)" opacity="0.60"/>
<circle cx="58.6" cy="49.1" r="1.50" fill="none" stroke="#d02828" stroke-width="0.9" opacity="1.00"/>
<circle cx="53.2" cy="57.2" r="2.25" fill="url(#gR)" opacity="0.60"/>
<circle cx="53.2" cy="57.2" r="1.35" fill="none" stroke="#d02828" stroke-width="0.9" opacity="1.00"/>
<rect x="39.2" y="20.5" width="17.0" height="14.0" stroke="#9a9a96" stroke-width="0.75" fill="none"/>
<rect x="44.0" y="42.5" width="23.30" height="24.70" stroke="#9a9a96" stroke-width="0.75" fill="none"/>
<line x1="39.2" y1="34.5" x2="44.0" y2="42.5" stroke="#9a9a96" stroke-width="0.75" fill="none"/>
<line x1="56.2" y1="34.5" x2="67.3" y2="42.5" stroke="#9a9a96" stroke-width="0.75" fill="none"/>
</g>
<g transform="translate(105.50,203.30)">
<rect x="0" y="0" width="67.3" height="67.2" fill="#0f0d0d"/>
<circle cx="1.9" cy="2.4" r="2.04" fill="url(#gB)" opacity="0.75"/>
<circle cx="5.9" cy="4.2" r="2.04" fill="url(#gB)" opacity="0.75"/>
<circle cx="25.4" cy="2.4" r="2.04" fill="url(#gB)" opacity="0.75"/>
<circle cx="54.4" cy="3.1" r="2.21" fill="url(#gB)" opacity="0.75"/>
<circle cx="61.8" cy="3.8" r="2.04" fill="url(#gB)" opacity="0.75"/>
<circle cx="56.4" cy="6.9" r="2.38" fill="url(#gB)" opacity="0.75"/>
<circle cx="18" cy="14.5" r="2.38" fill="url(#gB)" opacity="0.75"/>
<circle cx="30.1" cy="19.9" r="2.55" fill="url(#gB)" opacity="0.75"/>
<circle cx="1.2" cy="23.9" r="2.04" fill="url(#gB)" opacity="0.75"/>
<circle cx="49" cy="28.9" r="2.21" fill="url(#gB)" opacity="0.75"/>
<circle cx="47" cy="32" r="2.21" fill="url(#gB)" opacity="0.75"/>
<circle cx="51" cy="30.5" r="2.04" fill="url(#gB)" opacity="0.75"/>
<circle cx="27.4" cy="49.5" r="2.04" fill="url(#gB)" opacity="0.75"/>
<circle cx="7.9" cy="54.9" r="2.55" fill="url(#gB)" opacity="0.75"/>
<circle cx="41.6" cy="59.9" r="2.21" fill="url(#gB)" opacity="0.75"/>
<circle cx="36.9" cy="63.4" r="2.38" fill="url(#gB)" opacity="0.75"/>
<rect x="44.0" y="42.5" width="23.30" height="24.70" fill="#0f0d0d"/>
<circle cx="60.4" cy="52.9" r="3.62" fill="url(#gB)" opacity="0.95"/>
<circle cx="57.7" cy="57" r="3.62" fill="url(#gB)" opacity="0.95"/>
<circle cx="55.7" cy="60.3" r="3.62" fill="url(#gB)" opacity="0.95"/>
<circle cx="58.6" cy="49.1" r="2.90" fill="url(#gB)" opacity="0.95"/>
<circle cx="53.2" cy="57.2" r="2.61" fill="url(#gB)" opacity="0.95"/>
<rect x="39.2" y="20.5" width="17.0" height="14.0" stroke="#9a9a96" stroke-width="0.75" fill="none"/>
<rect x="44.0" y="42.5" width="23.30" height="24.70" stroke="#9a9a96" stroke-width="0.75" fill="none"/>
<line x1="39.2" y1="34.5" x2="44.0" y2="42.5" stroke="#9a9a96" stroke-width="0.75" fill="none"/>
<line x1="56.2" y1="34.5" x2="67.3" y2="42.5" stroke="#9a9a96" stroke-width="0.75" fill="none"/>
</g>
<g transform="translate(175.00,203.30)">
<rect x="0" y="0" width="67.3" height="67.2" fill="#0f0d0d"/>
<circle cx="1.9" cy="2.4" r="2.04" fill="url(#gP)" opacity="0.70"/>
<circle cx="5.9" cy="4.2" r="2.04" fill="url(#gP)" opacity="0.70"/>
<circle cx="25.4" cy="2.4" r="2.04" fill="url(#gP)" opacity="0.70"/>
<circle cx="54.4" cy="3.1" r="2.21" fill="url(#gP)" opacity="0.70"/>
<circle cx="61.8" cy="3.8" r="2.04" fill="url(#gP)" opacity="0.70"/>
<circle cx="56.4" cy="6.9" r="2.38" fill="url(#gP)" opacity="0.70"/>
<circle cx="18" cy="14.5" r="2.38" fill="url(#gP)" opacity="0.70"/>
<circle cx="30.1" cy="19.9" r="2.55" fill="url(#gP)" opacity="0.70"/>
<circle cx="1.2" cy="23.9" r="2.04" fill="url(#gP)" opacity="0.70"/>
<circle cx="49" cy="28.9" r="2.21" fill="url(#gP)" opacity="0.70"/>
<circle cx="47" cy="32" r="2.21" fill="url(#gP)" opacity="0.70"/>
<circle cx="51" cy="30.5" r="2.04" fill="url(#gP)" opacity="0.70"/>
<circle cx="27.4" cy="49.5" r="2.04" fill="url(#gP)" opacity="0.70"/>
<circle cx="7.9" cy="54.9" r="2.55" fill="url(#gP)" opacity="0.70"/>
<circle cx="41.6" cy="59.9" r="2.21" fill="url(#gP)" opacity="0.70"/>
<circle cx="36.9" cy="63.4" r="2.38" fill="url(#gP)" opacity="0.70"/>
<rect x="44.0" y="42.5" width="23.30" height="24.70" fill="#0f0d0d"/>
<circle cx="60.4" cy="52.9" r="3.12" fill="url(#gP)" opacity="0.57"/>
<circle cx="60.4" cy="52.9" r="1.88" fill="none" stroke="#e050b0" stroke-width="0.9" opacity="0.95"/>
<circle cx="57.7" cy="57" r="3.12" fill="url(#gP)" opacity="0.57"/>
<circle cx="57.7" cy="57" r="1.88" fill="none" stroke="#e050b0" stroke-width="0.9" opacity="0.95"/>
<circle cx="55.7" cy="60.3" r="3.12" fill="url(#gP)" opacity="0.57"/>
<circle cx="55.7" cy="60.3" r="1.88" fill="none" stroke="#e050b0" stroke-width="0.9" opacity="0.95"/>
<circle cx="58.6" cy="49.1" r="2.50" fill="url(#gP)" opacity="0.57"/>
<circle cx="58.6" cy="49.1" r="1.50" fill="none" stroke="#e050b0" stroke-width="0.9" opacity="0.95"/>
<circle cx="53.2" cy="57.2" r="2.25" fill="url(#gP)" opacity="0.57"/>
<circle cx="53.2" cy="57.2" r="1.35" fill="none" stroke="#e050b0" stroke-width="0.9" opacity="0.95"/>
<rect x="39.2" y="20.5" width="17.0" height="14.0" stroke="#9a9a96" stroke-width="0.75" fill="none"/>
<rect x="44.0" y="42.5" width="23.30" height="24.70" stroke="#9a9a96" stroke-width="0.75" fill="none"/>
<line x1="39.2" y1="34.5" x2="44.0" y2="42.5" stroke="#9a9a96" stroke-width="0.75" fill="none"/>
<line x1="56.2" y1="34.5" x2="67.3" y2="42.5" stroke="#9a9a96" stroke-width="0.75" fill="none"/>
</g>
<g transform="translate(285.00,133.80)">
<rect x="0" y="0" width="67.3" height="67.2" fill="#0f0d0d"/>
<circle cx="20" cy="35" r="1.36" fill="url(#gR)" opacity="0.30"/>
<circle cx="40" cy="28" r="1.19" fill="url(#gR)" opacity="0.30"/>
<circle cx="56" cy="24" r="1.02" fill="url(#gR)" opacity="0.30"/>
<rect x="46.4" y="43.0" width="20.90" height="24.20" fill="#0f0d0d"/>
<circle cx="50.5" cy="59.9" r="1.89" fill="url(#gR)" opacity="0.90"/>
<rect x="4.4" y="6.3" width="16.6" height="14.2" stroke="#9a9a96" stroke-width="0.75" fill="none"/>
<rect x="46.4" y="43.0" width="20.90" height="24.20" stroke="#9a9a96" stroke-width="0.75" fill="none"/>
<line x1="4.4" y1="20.5" x2="46.4" y2="43.0" stroke="#9a9a96" stroke-width="0.75" fill="none"/>
<line x1="21.0" y1="20.5" x2="67.3" y2="43.0" stroke="#9a9a96" stroke-width="0.75" fill="none"/>
</g>
<g transform="translate(354.60,133.80)">
<rect x="0" y="0" width="67.3" height="67.2" fill="#0f0d0d"/>
<circle cx="7.1" cy="3.1" r="2.04" fill="url(#gB)" opacity="0.60"/>
<circle cx="17.2" cy="3.1" r="2.04" fill="url(#gB)" opacity="0.60"/>
<circle cx="2.4" cy="12.1" r="2.21" fill="url(#gB)" opacity="0.60"/>
<circle cx="2.4" cy="18.2" r="2.04" fill="url(#gB)" opacity="0.60"/>
<circle cx="7.8" cy="16.8" r="2.04" fill="url(#gB)" opacity="0.60"/>
<circle cx="17.9" cy="17.5" r="2.04" fill="url(#gB)" opacity="0.60"/>
<circle cx="39.4" cy="9.8" r="2.38" fill="url(#gB)" opacity="0.60"/>
<circle cx="44.2" cy="16.8" r="2.21" fill="url(#gB)" opacity="0.60"/>
<circle cx="46.9" cy="22.2" r="2.04" fill="url(#gB)" opacity="0.60"/>
<circle cx="55" cy="23.6" r="2.04" fill="url(#gB)" opacity="0.60"/>
<circle cx="61.7" cy="26.3" r="2.38" fill="url(#gB)" opacity="0.60"/>
<circle cx="30.7" cy="26.3" r="2.72" fill="url(#gB)" opacity="0.60"/>
<circle cx="36.8" cy="26.3" r="2.21" fill="url(#gB)" opacity="0.60"/>
<circle cx="42.8" cy="25.6" r="2.72" fill="url(#gB)" opacity="0.60"/>
<circle cx="28.7" cy="30.3" r="2.04" fill="url(#gB)" opacity="0.60"/>
<circle cx="32.7" cy="33" r="2.04" fill="url(#gB)" opacity="0.60"/>
<circle cx="7.8" cy="24.9" r="2.04" fill="url(#gB)" opacity="0.60"/>
<circle cx="18.6" cy="34.3" r="2.04" fill="url(#gB)" opacity="0.60"/>
<circle cx="15.2" cy="39.7" r="2.04" fill="url(#gB)" opacity="0.60"/>
<circle cx="20.6" cy="42.4" r="2.38" fill="url(#gB)" opacity="0.60"/>
<circle cx="34.7" cy="45.1" r="2.04" fill="url(#gB)" opacity="0.60"/>
<circle cx="22.6" cy="51.8" r="2.72" fill="url(#gB)" opacity="0.60"/>
<circle cx="26" cy="53.2" r="2.55" fill="url(#gB)" opacity="0.60"/>
<circle cx="31.4" cy="53.2" r="2.04" fill="url(#gB)" opacity="0.60"/>
<circle cx="7.8" cy="54.5" r="2.55" fill="url(#gB)" opacity="0.60"/>
<circle cx="9.2" cy="57.2" r="2.55" fill="url(#gB)" opacity="0.60"/>
<circle cx="1.8" cy="59.9" r="2.21" fill="url(#gB)" opacity="0.60"/>
<circle cx="8.5" cy="61.3" r="2.55" fill="url(#gB)" opacity="0.60"/>
<circle cx="38.8" cy="57.2" r="2.04" fill="url(#gB)" opacity="0.60"/>
<circle cx="26.7" cy="62.6" r="2.04" fill="url(#gB)" opacity="0.60"/>
<rect x="46.4" y="43.0" width="20.90" height="24.20" fill="#0f0d0d"/>
<circle cx="63" cy="53.8" r="3.48" fill="url(#gB)" opacity="0.80"/>
<circle cx="49.5" cy="62.6" r="3.48" fill="url(#gB)" opacity="0.80"/>
<circle cx="48.9" cy="54.5" r="1.89" fill="url(#gB)" opacity="0.80"/>
<rect x="4.4" y="6.3" width="16.6" height="14.2" stroke="#9a9a96" stroke-width="0.75" fill="none"/>
<rect x="46.4" y="43.0" width="20.90" height="24.20" stroke="#9a9a96" stroke-width="0.75" fill="none"/>
<line x1="4.4" y1="20.5" x2="46.4" y2="43.0" stroke="#9a9a96" stroke-width="0.75" fill="none"/>
<line x1="21.0" y1="20.5" x2="67.3" y2="43.0" stroke="#9a9a96" stroke-width="0.75" fill="none"/>
</g>
<g transform="translate(424.00,133.80)">
<rect x="0" y="0" width="67.3" height="67.2" fill="#0f0d0d"/>
<circle cx="7.1" cy="3.1" r="2.04" fill="url(#gB)" opacity="0.60"/>
<circle cx="17.2" cy="3.1" r="2.04" fill="url(#gB)" opacity="0.60"/>
<circle cx="2.4" cy="12.1" r="2.21" fill="url(#gB)" opacity="0.60"/>
<circle cx="2.4" cy="18.2" r="2.04" fill="url(#gB)" opacity="0.60"/>
<circle cx="7.8" cy="16.8" r="2.04" fill="url(#gB)" opacity="0.60"/>
<circle cx="17.9" cy="17.5" r="2.04" fill="url(#gB)" opacity="0.60"/>
<circle cx="39.4" cy="9.8" r="2.38" fill="url(#gB)" opacity="0.60"/>
<circle cx="44.2" cy="16.8" r="2.21" fill="url(#gB)" opacity="0.60"/>
<circle cx="46.9" cy="22.2" r="2.04" fill="url(#gB)" opacity="0.60"/>
<circle cx="55" cy="23.6" r="2.04" fill="url(#gB)" opacity="0.60"/>
<circle cx="61.7" cy="26.3" r="2.38" fill="url(#gB)" opacity="0.60"/>
<circle cx="30.7" cy="26.3" r="2.72" fill="url(#gB)" opacity="0.60"/>
<circle cx="36.8" cy="26.3" r="2.21" fill="url(#gB)" opacity="0.60"/>
<circle cx="42.8" cy="25.6" r="2.72" fill="url(#gB)" opacity="0.60"/>
<circle cx="28.7" cy="30.3" r="2.04" fill="url(#gB)" opacity="0.60"/>
<circle cx="32.7" cy="33" r="2.04" fill="url(#gB)" opacity="0.60"/>
<circle cx="7.8" cy="24.9" r="2.04" fill="url(#gB)" opacity="0.60"/>
<circle cx="18.6" cy="34.3" r="2.04" fill="url(#gB)" opacity="0.60"/>
<circle cx="15.2" cy="39.7" r="2.04" fill="url(#gB)" opacity="0.60"/>
<circle cx="20.6" cy="42.4" r="2.38" fill="url(#gB)" opacity="0.60"/>
<circle cx="34.7" cy="45.1" r="2.04" fill="url(#gB)" opacity="0.60"/>
<circle cx="22.6" cy="51.8" r="2.72" fill="url(#gB)" opacity="0.60"/>
<circle cx="26" cy="53.2" r="2.55" fill="url(#gB)" opacity="0.60"/>
<circle cx="31.4" cy="53.2" r="2.04" fill="url(#gB)" opacity="0.60"/>
<circle cx="7.8" cy="54.5" r="2.55" fill="url(#gB)" opacity="0.60"/>
<circle cx="9.2" cy="57.2" r="2.55" fill="url(#gB)" opacity="0.60"/>
<circle cx="1.8" cy="59.9" r="2.21" fill="url(#gB)" opacity="0.60"/>
<circle cx="8.5" cy="61.3" r="2.55" fill="url(#gB)" opacity="0.60"/>
<circle cx="38.8" cy="57.2" r="2.04" fill="url(#gB)" opacity="0.60"/>
<circle cx="26.7" cy="62.6" r="2.04" fill="url(#gB)" opacity="0.60"/>
<rect x="46.4" y="43.0" width="20.90" height="24.20" fill="#0f0d0d"/>
<circle cx="63" cy="53.8" r="3.48" fill="url(#gB)" opacity="0.80"/>
<circle cx="49.5" cy="62.6" r="3.48" fill="url(#gB)" opacity="0.80"/>
<circle cx="48.9" cy="54.5" r="1.89" fill="url(#gB)" opacity="0.80"/>
<circle cx="50.5" cy="59.9" r="1.74" fill="url(#gP)" opacity="0.80"/>
<rect x="4.4" y="6.3" width="16.6" height="14.2" stroke="#9a9a96" stroke-width="0.75" fill="none"/>
<rect x="46.4" y="43.0" width="20.90" height="24.20" stroke="#9a9a96" stroke-width="0.75" fill="none"/>
<line x1="4.4" y1="20.5" x2="46.4" y2="43.0" stroke="#9a9a96" stroke-width="0.75" fill="none"/>
<line x1="21.0" y1="20.5" x2="67.3" y2="43.0" stroke="#9a9a96" stroke-width="0.75" fill="none"/>
</g>
<g transform="translate(285.00,203.30)">
<rect x="0" y="0" width="67.3" height="67.2" fill="#0f0d0d"/>
<circle cx="48.9" cy="28.4" r="2.21" fill="url(#gR)" opacity="0.95"/>
<circle cx="34" cy="36" r="1.02" fill="url(#gR)" opacity="0.38"/>
<rect x="45.8" y="44.1" width="21.50" height="23.10" fill="#0f0d0d"/>
<circle cx="50.9" cy="54" r="2.90" fill="url(#gR)" opacity="1.00"/>
<circle cx="51.6" cy="57" r="2.32" fill="url(#gR)" opacity="1.00"/>
<rect x="44.8" y="18.6" width="16.8" height="14.4" stroke="#9a9a96" stroke-width="0.75" fill="none"/>
<rect x="45.8" y="44.1" width="21.50" height="23.10" stroke="#9a9a96" stroke-width="0.75" fill="none"/>
<line x1="44.8" y1="33.0" x2="45.8" y2="44.1" stroke="#9a9a96" stroke-width="0.75" fill="none"/>
<line x1="61.599999999999994" y1="33.0" x2="67.3" y2="44.1" stroke="#9a9a96" stroke-width="0.75" fill="none"/>
</g>
<g transform="translate(354.60,203.30)">
<rect x="0" y="0" width="67.3" height="67.2" fill="#0f0d0d"/>
<circle cx="7.8" cy="7.8" r="2.04" fill="url(#gB)" opacity="0.55"/>
<circle cx="17.9" cy="7.1" r="2.04" fill="url(#gB)" opacity="0.55"/>
<circle cx="23.3" cy="9.5" r="2.21" fill="url(#gB)" opacity="0.55"/>
<circle cx="21.3" cy="12.2" r="2.04" fill="url(#gB)" opacity="0.55"/>
<circle cx="48.9" cy="4.4" r="2.21" fill="url(#gB)" opacity="0.55"/>
<circle cx="60.3" cy="5.5" r="2.04" fill="url(#gB)" opacity="0.55"/>
<circle cx="15.2" cy="28.4" r="2.38" fill="url(#gB)" opacity="0.55"/>
<circle cx="2.4" cy="34.3" r="2.04" fill="url(#gB)" opacity="0.55"/>
<circle cx="33.4" cy="36" r="2.38" fill="url(#gB)" opacity="0.55"/>
<circle cx="31.4" cy="41" r="2.21" fill="url(#gB)" opacity="0.55"/>
<circle cx="14.6" cy="42.8" r="2.04" fill="url(#gB)" opacity="0.55"/>
<circle cx="5.8" cy="44.1" r="2.04" fill="url(#gB)" opacity="0.55"/>
<circle cx="9.2" cy="47.2" r="2.21" fill="url(#gB)" opacity="0.55"/>
<circle cx="35" cy="48.6" r="2.04" fill="url(#gB)" opacity="0.55"/>
<circle cx="30.7" cy="54" r="2.38" fill="url(#gB)" opacity="0.55"/>
<circle cx="48.9" cy="28.4" r="2.04" fill="url(#gB)" opacity="0.55"/>
<rect x="45.8" y="44.1" width="21.50" height="23.10" fill="#0f0d0d"/>
<circle cx="50.9" cy="54" r="3.33" fill="url(#gB)" opacity="0.75"/>
<circle cx="58.3" cy="58.9" r="3.19" fill="url(#gB)" opacity="0.75"/>
<circle cx="52.5" cy="55" r="2.61" fill="url(#gB)" opacity="0.75"/>
<rect x="44.8" y="18.6" width="16.8" height="14.4" stroke="#9a9a96" stroke-width="0.75" fill="none"/>
<rect x="45.8" y="44.1" width="21.50" height="23.10" stroke="#9a9a96" stroke-width="0.75" fill="none"/>
<line x1="44.8" y1="33.0" x2="45.8" y2="44.1" stroke="#9a9a96" stroke-width="0.75" fill="none"/>
<line x1="61.599999999999994" y1="33.0" x2="67.3" y2="44.1" stroke="#9a9a96" stroke-width="0.75" fill="none"/>
</g>
<g transform="translate(424.00,203.30)">
<rect x="0" y="0" width="67.3" height="67.2" fill="#0f0d0d"/>
<circle cx="7.8" cy="7.8" r="2.04" fill="url(#gB)" opacity="0.55"/>
<circle cx="17.9" cy="7.1" r="2.04" fill="url(#gB)" opacity="0.55"/>
<circle cx="23.3" cy="9.5" r="2.21" fill="url(#gB)" opacity="0.55"/>
<circle cx="21.3" cy="12.2" r="2.04" fill="url(#gB)" opacity="0.55"/>
<circle cx="48.9" cy="4.4" r="2.21" fill="url(#gB)" opacity="0.55"/>
<circle cx="60.3" cy="5.5" r="2.04" fill="url(#gB)" opacity="0.55"/>
<circle cx="15.2" cy="28.4" r="2.38" fill="url(#gB)" opacity="0.55"/>
<circle cx="2.4" cy="34.3" r="2.04" fill="url(#gB)" opacity="0.55"/>
<circle cx="33.4" cy="36" r="2.38" fill="url(#gB)" opacity="0.55"/>
<circle cx="31.4" cy="41" r="2.21" fill="url(#gB)" opacity="0.55"/>
<circle cx="14.6" cy="42.8" r="2.04" fill="url(#gB)" opacity="0.55"/>
<circle cx="5.8" cy="44.1" r="2.04" fill="url(#gB)" opacity="0.55"/>
<circle cx="9.2" cy="47.2" r="2.21" fill="url(#gB)" opacity="0.55"/>
<circle cx="35" cy="48.6" r="2.04" fill="url(#gB)" opacity="0.55"/>
<circle cx="30.7" cy="54" r="2.38" fill="url(#gB)" opacity="0.55"/>
<circle cx="48.9" cy="28.4" r="2.38" fill="url(#gP)" opacity="1.00"/>
<rect x="45.8" y="44.1" width="21.50" height="23.10" fill="#0f0d0d"/>
<circle cx="58.3" cy="58.9" r="3.19" fill="url(#gB)" opacity="0.70"/>
<circle cx="50.9" cy="55" r="3.33" fill="url(#gP)" opacity="1.00"/>
<rect x="44.8" y="18.6" width="16.8" height="14.4" stroke="#9a9a96" stroke-width="0.75" fill="none"/>
<rect x="45.8" y="44.1" width="21.50" height="23.10" stroke="#9a9a96" stroke-width="0.75" fill="none"/>
<line x1="44.8" y1="33.0" x2="45.8" y2="44.1" stroke="#9a9a96" stroke-width="0.75" fill="none"/>
<line x1="61.599999999999994" y1="33.0" x2="67.3" y2="44.1" stroke="#9a9a96" stroke-width="0.75" fill="none"/>
<line x1="29.70" y1="65.4" x2="42.40" y2="65.4" stroke="#ffffff" stroke-width="1.4"/>
</g>
<line x1="43.20" y1="301.80" x2="43.20" y2="358.40" stroke="#231f20" stroke-width="1.25" />
<line x1="42.60" y1="357.90" x2="96.20" y2="357.90" stroke="#231f20" stroke-width="1.25" />
<line x1="40.20" y1="357.90" x2="43.20" y2="357.90" stroke="#231f20" stroke-width="0.9" />
<text x="35.30" y="360.68" font-size="7.73" fill="#231f20" stroke="#231f20" stroke-width="0.08" text-anchor="end" textLength="3.70" lengthAdjust="spacingAndGlyphs" >0</text>
<line x1="40.20" y1="339.93" x2="43.20" y2="339.93" stroke="#231f20" stroke-width="0.9" />
<text x="35.30" y="342.72" font-size="7.73" fill="#231f20" stroke="#231f20" stroke-width="0.08" text-anchor="end" textLength="7.40" lengthAdjust="spacingAndGlyphs" >50</text>
<line x1="40.20" y1="321.97" x2="43.20" y2="321.97" stroke="#231f20" stroke-width="0.9" />
<text x="35.30" y="324.75" font-size="7.73" fill="#231f20" stroke="#231f20" stroke-width="0.08" text-anchor="end" textLength="11.00" lengthAdjust="spacingAndGlyphs" >100</text>
<line x1="40.20" y1="304.00" x2="43.20" y2="304.00" stroke="#231f20" stroke-width="0.9" />
<text x="35.30" y="306.78" font-size="7.73" fill="#231f20" stroke="#231f20" stroke-width="0.08" text-anchor="end" textLength="11.00" lengthAdjust="spacingAndGlyphs" >150</text>
<rect x="48.10" y="338.14" width="17.00" height="19.76" fill="#e41b1f" />
<rect x="74.90" y="341.37" width="17.30" height="16.53" fill="#2d2a86" />
<line x1="56.60" y1="357.90" x2="56.60" y2="360.50" stroke="#231f20" stroke-width="0.9" />
<line x1="83.55" y1="357.90" x2="83.55" y2="360.50" stroke="#231f20" stroke-width="0.9" />
<line x1="56.60" y1="338.14" x2="56.60" y2="332.75" stroke="#e3262b" stroke-width="0.8" />
<line x1="54.00" y1="332.75" x2="59.20" y2="332.75" stroke="#e3262b" stroke-width="0.8" />
<line x1="83.55" y1="341.37" x2="83.55" y2="332.75" stroke="#34329a" stroke-width="0.8" />
<line x1="80.95" y1="332.75" x2="86.15" y2="332.75" stroke="#34329a" stroke-width="0.8" />
<circle cx="56.50" cy="322.70" r="1.45" fill="#ffffff" stroke="#e3262b" stroke-width="0.85" />
<circle cx="54.10" cy="330.20" r="1.45" fill="#ffffff" stroke="#e3262b" stroke-width="0.85" />
<circle cx="58.80" cy="331.90" r="1.45" fill="#ffffff" stroke="#e3262b" stroke-width="0.85" />
<circle cx="51.80" cy="333.60" r="1.45" fill="#ffffff" stroke="#e3262b" stroke-width="0.85" />
<circle cx="55.90" cy="333.00" r="1.45" fill="#ffffff" stroke="#e3262b" stroke-width="0.85" />
<circle cx="61.00" cy="337.00" r="1.45" fill="#ffffff" stroke="#e3262b" stroke-width="0.85" />
<circle cx="50.10" cy="342.90" r="1.25" fill="#ffffff" stroke="#ffffff" stroke-width="0.3" />
<circle cx="53.00" cy="342.30" r="1.25" fill="#ffffff" stroke="#ffffff" stroke-width="0.3" />
<circle cx="56.50" cy="341.10" r="1.25" fill="#ffffff" stroke="#ffffff" stroke-width="0.3" />
<circle cx="58.80" cy="345.20" r="1.25" fill="#ffffff" stroke="#ffffff" stroke-width="0.3" />
<circle cx="62.80" cy="348.00" r="1.25" fill="#ffffff" stroke="#ffffff" stroke-width="0.3" />
<circle cx="60.50" cy="332.50" r="1.45" fill="#ffffff" stroke="#e3262b" stroke-width="0.85" />
<circle cx="81.30" cy="321.50" r="1.45" fill="#ffffff" stroke="#34329a" stroke-width="0.85" />
<circle cx="84.70" cy="326.70" r="1.45" fill="#ffffff" stroke="#34329a" stroke-width="0.85" />
<circle cx="81.30" cy="333.00" r="1.45" fill="#ffffff" stroke="#34329a" stroke-width="0.85" />
<circle cx="84.70" cy="336.00" r="1.45" fill="#ffffff" stroke="#34329a" stroke-width="0.85" />
<circle cx="76.60" cy="345.70" r="1.25" fill="#ffffff" stroke="#ffffff" stroke-width="0.3" />
<circle cx="80.10" cy="341.70" r="1.45" fill="#ffffff" stroke="#34329a" stroke-width="0.85" />
<circle cx="83.60" cy="342.30" r="1.45" fill="#ffffff" stroke="#34329a" stroke-width="0.85" />
<circle cx="87.00" cy="342.30" r="1.45" fill="#ffffff" stroke="#34329a" stroke-width="0.85" />
<circle cx="89.90" cy="344.00" r="1.25" fill="#ffffff" stroke="#ffffff" stroke-width="0.3" />
<circle cx="80.10" cy="348.00" r="1.25" fill="#ffffff" stroke="#ffffff" stroke-width="0.3" />
<circle cx="83.60" cy="348.60" r="1.25" fill="#ffffff" stroke="#ffffff" stroke-width="0.3" />
<circle cx="81.80" cy="352.70" r="1.25" fill="#ffffff" stroke="#ffffff" stroke-width="0.3" />
<circle cx="84.70" cy="355.60" r="1.25" fill="#ffffff" stroke="#ffffff" stroke-width="0.3" />
<line x1="52.10" y1="305.80" x2="87.80" y2="305.80" stroke="#231f20" stroke-width="0.9" />
<text x="70.30" y="301.83" font-size="6.2" stroke="#231f20" stroke-width="0.1" fill="#231f20" text-anchor="middle" textLength="28.5" lengthAdjust="spacingAndGlyphs"><tspan font-style="italic">P</tspan> = 0.3122</text>
<text x="55.80" y="371.78" font-size="8.29" fill="#e3262b" stroke="#e3262b" stroke-width="0.08" text-anchor="middle" textLength="24.00" lengthAdjust="spacingAndGlyphs" >Relapse</text>
<text x="82.70" y="371.78" font-size="8.29" fill="#3a3a96" stroke="#3a3a96" stroke-width="0.08" text-anchor="middle" textLength="9.00" lengthAdjust="spacingAndGlyphs" >No</text>
<text x="82.70" y="380.38" font-size="8.29" fill="#3a3a96" stroke="#3a3a96" stroke-width="0.08" text-anchor="middle" textLength="24.00" lengthAdjust="spacingAndGlyphs" >Relapse</text>
<text x="14.50" y="333.15" font-size="8.74" fill="#231f20" stroke="#231f20" stroke-width="0.08" text-anchor="middle" textLength="71.00" lengthAdjust="spacingAndGlyphs" transform="rotate(-90 14.50 330.00)" >Total TGF-β1 (ng/mL)</text>
<line x1="140.00" y1="301.80" x2="140.00" y2="358.40" stroke="#231f20" stroke-width="1.25" />
<line x1="139.40" y1="357.90" x2="194.20" y2="357.90" stroke="#231f20" stroke-width="1.25" />
<line x1="137.00" y1="357.90" x2="140.00" y2="357.90" stroke="#231f20" stroke-width="0.9" />
<text x="133.10" y="360.68" font-size="7.73" fill="#231f20" stroke="#231f20" stroke-width="0.08" text-anchor="end" textLength="3.70" lengthAdjust="spacingAndGlyphs" >0</text>
<line x1="137.00" y1="339.93" x2="140.00" y2="339.93" stroke="#231f20" stroke-width="0.9" />
<text x="133.10" y="342.72" font-size="7.73" fill="#231f20" stroke="#231f20" stroke-width="0.08" text-anchor="end" textLength="7.40" lengthAdjust="spacingAndGlyphs" >20</text>
<line x1="137.00" y1="321.97" x2="140.00" y2="321.97" stroke="#231f20" stroke-width="0.9" />
<text x="133.10" y="324.75" font-size="7.73" fill="#231f20" stroke="#231f20" stroke-width="0.08" text-anchor="end" textLength="7.40" lengthAdjust="spacingAndGlyphs" >40</text>
<line x1="137.00" y1="304.00" x2="140.00" y2="304.00" stroke="#231f20" stroke-width="0.9" />
<text x="133.10" y="306.78" font-size="7.73" fill="#231f20" stroke="#231f20" stroke-width="0.08" text-anchor="end" textLength="7.40" lengthAdjust="spacingAndGlyphs" >60</text>
<rect x="144.20" y="336.79" width="17.70" height="21.11" fill="#e41b1f" />
<rect x="171.20" y="352.51" width="17.60" height="5.39" fill="#2d2a86" />
<line x1="153.05" y1="357.90" x2="153.05" y2="360.50" stroke="#231f20" stroke-width="0.9" />
<line x1="180.00" y1="357.90" x2="180.00" y2="360.50" stroke="#231f20" stroke-width="0.9" />
<line x1="153.05" y1="336.79" x2="153.05" y2="326.46" stroke="#e3262b" stroke-width="0.8" />
<line x1="150.45" y1="326.46" x2="155.65" y2="326.46" stroke="#e3262b" stroke-width="0.8" />
<line x1="180.00" y1="352.51" x2="180.00" y2="348.92" stroke="#34329a" stroke-width="0.8" />
<line x1="177.40" y1="348.92" x2="182.60" y2="348.92" stroke="#34329a" stroke-width="0.8" />
<circle cx="158.06" cy="312.98" r="1.45" fill="#ffffff" stroke="#e3262b" stroke-width="0.85" />
<circle cx="147.71" cy="319.27" r="1.45" fill="#ffffff" stroke="#e3262b" stroke-width="0.85" />
<circle cx="151.27" cy="321.07" r="1.45" fill="#ffffff" stroke="#e3262b" stroke-width="0.85" />
<circle cx="158.38" cy="323.76" r="1.45" fill="#ffffff" stroke="#e3262b" stroke-width="0.85" />
<circle cx="155.60" cy="325.56" r="1.45" fill="#ffffff" stroke="#e3262b" stroke-width="0.85" />
<circle cx="148.28" cy="327.36" r="1.45" fill="#ffffff" stroke="#e3262b" stroke-width="0.85" />
<circle cx="151.41" cy="330.05" r="1.45" fill="#ffffff" stroke="#e3262b" stroke-width="0.85" />
<circle cx="152.61" cy="332.75" r="1.45" fill="#ffffff" stroke="#e3262b" stroke-width="0.85" />
<circle cx="158.74" cy="335.44" r="1.45" fill="#ffffff" stroke="#e3262b" stroke-width="0.85" />
<circle cx="149.12" cy="340.83" r="1.25" fill="#ffffff" stroke="#ffffff" stroke-width="0.3" />
<circle cx="152.83" cy="342.63" r="1.25" fill="#ffffff" stroke="#ffffff" stroke-width="0.3" />
<circle cx="156.60" cy="348.92" r="1.25" fill="#ffffff" stroke="#ffffff" stroke-width="0.3" />
<circle cx="151.35" cy="349.81" r="1.25" fill="#ffffff" stroke="#ffffff" stroke-width="0.3" />
<circle cx="147.62" cy="349.81" r="1.25" fill="#ffffff" stroke="#ffffff" stroke-width="0.3" />
<circle cx="154.15" cy="350.71" r="1.25" fill="#ffffff" stroke="#ffffff" stroke-width="0.3" />
<circle cx="158.95" cy="350.71" r="1.25" fill="#ffffff" stroke="#ffffff" stroke-width="0.3" />
<circle cx="150.36" cy="351.61" r="1.25" fill="#ffffff" stroke="#ffffff" stroke-width="0.3" />
<circle cx="176.82" cy="343.53" r="1.45" fill="#ffffff" stroke="#34329a" stroke-width="0.85" />
<circle cx="179.56" cy="347.12" r="1.45" fill="#ffffff" stroke="#34329a" stroke-width="0.85" />
<circle cx="185.92" cy="348.02" r="1.45" fill="#ffffff" stroke="#34329a" stroke-width="0.85" />
<circle cx="176.70" cy="348.92" r="1.45" fill="#ffffff" stroke="#34329a" stroke-width="0.85" />
<circle cx="182.02" cy="349.81" r="1.45" fill="#ffffff" stroke="#34329a" stroke-width="0.85" />
<circle cx="179.07" cy="350.71" r="1.45" fill="#ffffff" stroke="#34329a" stroke-width="0.85" />
<circle cx="174.42" cy="350.71" r="1.45" fill="#ffffff" stroke="#34329a" stroke-width="0.85" />
<circle cx="184.87" cy="351.61" r="1.45" fill="#ffffff" stroke="#34329a" stroke-width="0.85" />
<circle cx="175.58" cy="351.61" r="1.45" fill="#ffffff" stroke="#34329a" stroke-width="0.85" />
<circle cx="175.63" cy="352.51" r="1.45" fill="#ffffff" stroke="#34329a" stroke-width="0.85" />
<circle cx="181.57" cy="353.41" r="1.45" fill="#ffffff" stroke="#34329a" stroke-width="0.85" />
<circle cx="181.09" cy="353.41" r="1.45" fill="#ffffff" stroke="#34329a" stroke-width="0.85" />
<circle cx="178.27" cy="354.31" r="1.25" fill="#ffffff" stroke="#ffffff" stroke-width="0.3" />
<circle cx="174.49" cy="355.20" r="1.25" fill="#ffffff" stroke="#ffffff" stroke-width="0.3" />
<circle cx="184.65" cy="355.20" r="1.25" fill="#ffffff" stroke="#ffffff" stroke-width="0.3" />
<circle cx="179.84" cy="356.10" r="1.25" fill="#ffffff" stroke="#ffffff" stroke-width="0.3" />
<circle cx="185.18" cy="356.10" r="1.25" fill="#ffffff" stroke="#ffffff" stroke-width="0.3" />
<circle cx="176.83" cy="357.00" r="1.25" fill="#ffffff" stroke="#ffffff" stroke-width="0.3" />
<line x1="149.00" y1="305.80" x2="184.60" y2="305.80" stroke="#231f20" stroke-width="0.9" />
<text x="166.30" y="301.83" font-size="6.2" stroke="#231f20" stroke-width="0.1" fill="#231f20" text-anchor="middle" textLength="29" lengthAdjust="spacingAndGlyphs"><tspan font-style="italic">P</tspan> &lt; 0.0001</text>
<text x="152.90" y="371.78" font-size="8.29" fill="#e3262b" stroke="#e3262b" stroke-width="0.08" text-anchor="middle" textLength="24.00" lengthAdjust="spacingAndGlyphs" >Relapse</text>
<text x="178.80" y="371.78" font-size="8.29" fill="#3a3a96" stroke="#3a3a96" stroke-width="0.08" text-anchor="middle" textLength="9.00" lengthAdjust="spacingAndGlyphs" >No</text>
<text x="178.80" y="380.38" font-size="8.29" fill="#3a3a96" stroke="#3a3a96" stroke-width="0.08" text-anchor="middle" textLength="24.00" lengthAdjust="spacingAndGlyphs" >Relapse</text>
<text x="116.20" y="332.65" font-size="8.74" fill="#231f20" stroke="#231f20" stroke-width="0.08" text-anchor="middle" textLength="72.00" lengthAdjust="spacingAndGlyphs" transform="rotate(-90 116.20 329.50)" >Active TGF-β1 (ng/mL)</text>
<line x1="236.20" y1="301.80" x2="236.20" y2="358.40" stroke="#231f20" stroke-width="1.25" />
<line x1="235.60" y1="357.90" x2="290.40" y2="357.90" stroke="#231f20" stroke-width="1.25" />
<line x1="233.20" y1="357.90" x2="236.20" y2="357.90" stroke="#231f20" stroke-width="0.9" />
<text x="229.50" y="360.68" font-size="7.73" fill="#231f20" stroke="#231f20" stroke-width="0.08" text-anchor="end" textLength="3.70" lengthAdjust="spacingAndGlyphs" >0</text>
<line x1="233.20" y1="339.93" x2="236.20" y2="339.93" stroke="#231f20" stroke-width="0.9" />
<text x="229.50" y="342.72" font-size="7.73" fill="#231f20" stroke="#231f20" stroke-width="0.08" text-anchor="end" textLength="7.40" lengthAdjust="spacingAndGlyphs" >20</text>
<line x1="233.20" y1="321.97" x2="236.20" y2="321.97" stroke="#231f20" stroke-width="0.9" />
<text x="229.50" y="324.75" font-size="7.73" fill="#231f20" stroke="#231f20" stroke-width="0.08" text-anchor="end" textLength="7.40" lengthAdjust="spacingAndGlyphs" >40</text>
<line x1="233.20" y1="304.00" x2="236.20" y2="304.00" stroke="#231f20" stroke-width="0.9" />
<text x="229.50" y="306.78" font-size="7.73" fill="#231f20" stroke="#231f20" stroke-width="0.08" text-anchor="end" textLength="7.40" lengthAdjust="spacingAndGlyphs" >60</text>
<rect x="240.80" y="351.16" width="17.90" height="6.74" fill="#e41b1f" />
<rect x="267.70" y="352.33" width="17.90" height="5.57" fill="#2d2a86" />
<line x1="249.75" y1="357.90" x2="249.75" y2="360.50" stroke="#231f20" stroke-width="0.9" />
<line x1="276.65" y1="357.90" x2="276.65" y2="360.50" stroke="#231f20" stroke-width="0.9" />
<line x1="249.75" y1="351.16" x2="249.75" y2="343.98" stroke="#e3262b" stroke-width="0.8" />
<line x1="247.15" y1="343.98" x2="252.35" y2="343.98" stroke="#e3262b" stroke-width="0.8" />
<line x1="276.65" y1="352.33" x2="276.65" y2="348.92" stroke="#34329a" stroke-width="0.8" />
<line x1="274.05" y1="348.92" x2="279.25" y2="348.92" stroke="#34329a" stroke-width="0.8" />
<circle cx="254.09" cy="331.85" r="1.45" fill="#ffffff" stroke="#e3262b" stroke-width="0.85" />
<circle cx="253.85" cy="343.53" r="1.45" fill="#ffffff" stroke="#e3262b" stroke-width="0.85" />
<circle cx="249.86" cy="349.81" r="1.45" fill="#ffffff" stroke="#e3262b" stroke-width="0.85" />
<circle cx="245.91" cy="351.61" r="1.45" fill="#ffffff" stroke="#e3262b" stroke-width="0.85" />
<circle cx="255.43" cy="352.51" r="1.25" fill="#ffffff" stroke="#ffffff" stroke-width="0.3" />
<circle cx="248.69" cy="353.41" r="1.25" fill="#ffffff" stroke="#ffffff" stroke-width="0.3" />
<circle cx="251.64" cy="354.31" r="1.25" fill="#ffffff" stroke="#ffffff" stroke-width="0.3" />
<circle cx="245.68" cy="355.20" r="1.25" fill="#ffffff" stroke="#ffffff" stroke-width="0.3" />
<circle cx="247.47" cy="355.20" r="1.25" fill="#ffffff" stroke="#ffffff" stroke-width="0.3" />
<circle cx="254.11" cy="356.10" r="1.25" fill="#ffffff" stroke="#ffffff" stroke-width="0.3" />
<circle cx="272.33" cy="345.32" r="1.45" fill="#ffffff" stroke="#34329a" stroke-width="0.85" />
<circle cx="271.45" cy="349.81" r="1.45" fill="#ffffff" stroke="#34329a" stroke-width="0.85" />
<circle cx="275.19" cy="350.71" r="1.45" fill="#ffffff" stroke="#34329a" stroke-width="0.85" />
<circle cx="281.36" cy="350.71" r="1.45" fill="#ffffff" stroke="#34329a" stroke-width="0.85" />
<circle cx="277.96" cy="351.61" r="1.45" fill="#ffffff" stroke="#34329a" stroke-width="0.85" />
<circle cx="274.21" cy="351.61" r="1.45" fill="#ffffff" stroke="#34329a" stroke-width="0.85" />
<circle cx="274.04" cy="352.51" r="1.45" fill="#ffffff" stroke="#34329a" stroke-width="0.85" />
<circle cx="271.23" cy="353.41" r="1.45" fill="#ffffff" stroke="#34329a" stroke-width="0.85" />
<circle cx="282.54" cy="353.41" r="1.45" fill="#ffffff" stroke="#34329a" stroke-width="0.85" />
<circle cx="279.11" cy="354.31" r="1.25" fill="#ffffff" stroke="#ffffff" stroke-width="0.3" />
<circle cx="276.23" cy="355.20" r="1.25" fill="#ffffff" stroke="#ffffff" stroke-width="0.3" />
<circle cx="272.38" cy="355.20" r="1.25" fill="#ffffff" stroke="#ffffff" stroke-width="0.3" />
<circle cx="281.39" cy="356.10" r="1.25" fill="#ffffff" stroke="#ffffff" stroke-width="0.3" />
<line x1="245.20" y1="305.80" x2="281.20" y2="305.80" stroke="#231f20" stroke-width="0.9" />
<text x="263.50" y="301.83" font-size="6.2" stroke="#231f20" stroke-width="0.1" fill="#231f20" text-anchor="middle" textLength="28.5" lengthAdjust="spacingAndGlyphs"><tspan font-style="italic">P</tspan> = 0.3397</text>
<text x="249.60" y="371.78" font-size="8.29" fill="#e3262b" stroke="#e3262b" stroke-width="0.08" text-anchor="middle" textLength="24.00" lengthAdjust="spacingAndGlyphs" >Relapse</text>
<text x="276.50" y="371.78" font-size="8.29" fill="#3a3a96" stroke="#3a3a96" stroke-width="0.08" text-anchor="middle" textLength="9.00" lengthAdjust="spacingAndGlyphs" >No</text>
<text x="276.50" y="380.38" font-size="8.29" fill="#3a3a96" stroke="#3a3a96" stroke-width="0.08" text-anchor="middle" textLength="24.00" lengthAdjust="spacingAndGlyphs" >Relapse</text>
<text x="212.10" y="332.35" font-size="8.74" fill="#231f20" stroke="#231f20" stroke-width="0.08" text-anchor="middle" textLength="45.00" lengthAdjust="spacingAndGlyphs" transform="rotate(-90 212.10 329.20)" >IL-10 (pg/mL)</text>
<line x1="336.50" y1="301.80" x2="336.50" y2="358.40" stroke="#231f20" stroke-width="1.25" />
<line x1="335.90" y1="357.90" x2="390.40" y2="357.90" stroke="#231f20" stroke-width="1.25" />
<line x1="333.50" y1="357.90" x2="336.50" y2="357.90" stroke="#231f20" stroke-width="0.9" />
<text x="330.00" y="360.68" font-size="7.73" fill="#231f20" stroke="#231f20" stroke-width="0.08" text-anchor="end" textLength="3.70" lengthAdjust="spacingAndGlyphs" >0</text>
<line x1="333.50" y1="339.93" x2="336.50" y2="339.93" stroke="#231f20" stroke-width="0.9" />
<text x="330.00" y="342.72" font-size="7.73" fill="#231f20" stroke="#231f20" stroke-width="0.08" text-anchor="end" textLength="7.40" lengthAdjust="spacingAndGlyphs" >50</text>
<line x1="333.50" y1="321.97" x2="336.50" y2="321.97" stroke="#231f20" stroke-width="0.9" />
<text x="330.00" y="324.75" font-size="7.73" fill="#231f20" stroke="#231f20" stroke-width="0.08" text-anchor="end" textLength="11.00" lengthAdjust="spacingAndGlyphs" >100</text>
<line x1="333.50" y1="304.00" x2="336.50" y2="304.00" stroke="#231f20" stroke-width="0.9" />
<text x="330.00" y="306.78" font-size="7.73" fill="#231f20" stroke="#231f20" stroke-width="0.08" text-anchor="end" textLength="11.00" lengthAdjust="spacingAndGlyphs" >150</text>
<rect x="341.30" y="345.32" width="17.40" height="12.58" fill="#e41b1f" />
<rect x="368.30" y="345.32" width="17.70" height="12.58" fill="#2d2a86" />
<line x1="350.00" y1="357.90" x2="350.00" y2="360.50" stroke="#231f20" stroke-width="0.9" />
<line x1="377.15" y1="357.90" x2="377.15" y2="360.50" stroke="#231f20" stroke-width="0.9" />
<line x1="350.00" y1="345.32" x2="350.00" y2="341.01" stroke="#e3262b" stroke-width="0.8" />
<line x1="347.40" y1="341.01" x2="352.60" y2="341.01" stroke="#e3262b" stroke-width="0.8" />
<line x1="377.15" y1="345.32" x2="377.15" y2="341.73" stroke="#34329a" stroke-width="0.8" />
<line x1="374.55" y1="341.73" x2="379.75" y2="341.73" stroke="#34329a" stroke-width="0.8" />
<circle cx="355.29" cy="337.06" r="1.45" fill="#ffffff" stroke="#e3262b" stroke-width="0.85" />
<circle cx="346.84" cy="339.93" r="1.45" fill="#ffffff" stroke="#e3262b" stroke-width="0.85" />
<circle cx="352.01" cy="343.53" r="1.45" fill="#ffffff" stroke="#e3262b" stroke-width="0.85" />
<circle cx="344.83" cy="344.96" r="1.45" fill="#ffffff" stroke="#e3262b" stroke-width="0.85" />
<circle cx="350.40" cy="346.04" r="1.45" fill="#ffffff" stroke="#e3262b" stroke-width="0.85" />
<circle cx="353.47" cy="346.40" r="1.45" fill="#ffffff" stroke="#e3262b" stroke-width="0.85" />
<circle cx="347.34" cy="346.76" r="1.25" fill="#ffffff" stroke="#ffffff" stroke-width="0.3" />
<circle cx="344.43" cy="347.84" r="1.25" fill="#ffffff" stroke="#ffffff" stroke-width="0.3" />
<circle cx="355.93" cy="348.20" r="1.25" fill="#ffffff" stroke="#ffffff" stroke-width="0.3" />
<circle cx="381.90" cy="336.34" r="1.45" fill="#ffffff" stroke="#34329a" stroke-width="0.85" />
<circle cx="381.52" cy="341.73" r="1.45" fill="#ffffff" stroke="#34329a" stroke-width="0.85" />
<circle cx="377.19" cy="342.81" r="1.45" fill="#ffffff" stroke="#34329a" stroke-width="0.85" />
<circle cx="372.07" cy="344.25" r="1.45" fill="#ffffff" stroke="#34329a" stroke-width="0.85" />
<circle cx="380.01" cy="344.96" r="1.45" fill="#ffffff" stroke="#34329a" stroke-width="0.85" />
<circle cx="375.29" cy="345.68" r="1.45" fill="#ffffff" stroke="#34329a" stroke-width="0.85" />
<circle cx="383.02" cy="346.40" r="1.45" fill="#ffffff" stroke="#34329a" stroke-width="0.85" />
<circle cx="371.68" cy="347.12" r="1.25" fill="#ffffff" stroke="#ffffff" stroke-width="0.3" />
<circle cx="380.48" cy="347.84" r="1.25" fill="#ffffff" stroke="#ffffff" stroke-width="0.3" />
<circle cx="374.29" cy="348.56" r="1.25" fill="#ffffff" stroke="#ffffff" stroke-width="0.3" />
<line x1="345.80" y1="305.80" x2="381.70" y2="305.80" stroke="#231f20" stroke-width="0.9" />
<text x="363.50" y="301.83" font-size="6.2" stroke="#231f20" stroke-width="0.1" fill="#231f20" text-anchor="middle" textLength="28.5" lengthAdjust="spacingAndGlyphs"><tspan font-style="italic">P</tspan> = 0.7518</text>
<text x="350.40" y="371.78" font-size="8.29" fill="#e3262b" stroke="#e3262b" stroke-width="0.08" text-anchor="middle" textLength="24.00" lengthAdjust="spacingAndGlyphs" >Relapse</text>
<text x="376.90" y="371.78" font-size="8.29" fill="#3a3a96" stroke="#3a3a96" stroke-width="0.08" text-anchor="middle" textLength="9.00" lengthAdjust="spacingAndGlyphs" >No</text>
<text x="376.90" y="380.38" font-size="8.29" fill="#3a3a96" stroke="#3a3a96" stroke-width="0.08" text-anchor="middle" textLength="24.00" lengthAdjust="spacingAndGlyphs" >Relapse</text>
<text x="308.40" y="332.15" font-size="8.74" fill="#231f20" stroke="#231f20" stroke-width="0.08" text-anchor="middle" textLength="40.00" lengthAdjust="spacingAndGlyphs" transform="rotate(-90 308.40 329.00)" >IL-4 (pg/mL)</text>
<line x1="433.10" y1="301.80" x2="433.10" y2="358.40" stroke="#231f20" stroke-width="1.25" />
<line x1="432.50" y1="357.90" x2="487.50" y2="357.90" stroke="#231f20" stroke-width="1.25" />
<line x1="430.10" y1="357.90" x2="433.10" y2="357.90" stroke="#231f20" stroke-width="0.9" />
<text x="426.80" y="360.68" font-size="7.73" fill="#231f20" stroke="#231f20" stroke-width="0.08" text-anchor="end" textLength="3.70" lengthAdjust="spacingAndGlyphs" >0</text>
<line x1="430.10" y1="344.42" x2="433.10" y2="344.42" stroke="#231f20" stroke-width="0.9" />
<text x="426.80" y="347.21" font-size="7.73" fill="#231f20" stroke="#231f20" stroke-width="0.08" text-anchor="end" textLength="3.70" lengthAdjust="spacingAndGlyphs" >5</text>
<line x1="430.10" y1="330.95" x2="433.10" y2="330.95" stroke="#231f20" stroke-width="0.9" />
<text x="426.80" y="333.73" font-size="7.73" fill="#231f20" stroke="#231f20" stroke-width="0.08" text-anchor="end" textLength="7.40" lengthAdjust="spacingAndGlyphs" >10</text>
<line x1="430.10" y1="317.48" x2="433.10" y2="317.48" stroke="#231f20" stroke-width="0.9" />
<text x="426.80" y="320.26" font-size="7.73" fill="#231f20" stroke="#231f20" stroke-width="0.08" text-anchor="end" textLength="7.40" lengthAdjust="spacingAndGlyphs" >15</text>
<line x1="430.10" y1="304.00" x2="433.10" y2="304.00" stroke="#231f20" stroke-width="0.9" />
<text x="426.80" y="306.78" font-size="7.73" fill="#231f20" stroke="#231f20" stroke-width="0.08" text-anchor="end" textLength="7.40" lengthAdjust="spacingAndGlyphs" >20</text>
<rect x="437.50" y="355.20" width="18.30" height="2.69" fill="#e41b1f" />
<rect x="465.40" y="336.61" width="17.30" height="21.29" fill="#2d2a86" />
<line x1="446.65" y1="357.90" x2="446.65" y2="360.50" stroke="#231f20" stroke-width="0.9" />
<line x1="474.05" y1="357.90" x2="474.05" y2="360.50" stroke="#231f20" stroke-width="0.9" />
<line x1="446.65" y1="355.20" x2="446.65" y2="353.59" stroke="#e3262b" stroke-width="0.8" />
<line x1="444.05" y1="353.59" x2="449.25" y2="353.59" stroke="#e3262b" stroke-width="0.8" />
<line x1="474.05" y1="336.61" x2="474.05" y2="322.33" stroke="#34329a" stroke-width="0.8" />
<line x1="471.45" y1="322.33" x2="476.65" y2="322.33" stroke="#34329a" stroke-width="0.8" />
<circle cx="442.88" cy="351.97" r="1.45" fill="#ffffff" stroke="#e3262b" stroke-width="0.85" />
<circle cx="449.41" cy="353.05" r="1.45" fill="#ffffff" stroke="#e3262b" stroke-width="0.85" />
<circle cx="445.19" cy="353.86" r="1.45" fill="#ffffff" stroke="#e3262b" stroke-width="0.85" />
<circle cx="452.45" cy="354.40" r="1.45" fill="#ffffff" stroke="#e3262b" stroke-width="0.85" />
<circle cx="441.64" cy="355.20" r="1.45" fill="#ffffff" stroke="#e3262b" stroke-width="0.85" />
<circle cx="448.09" cy="355.74" r="1.45" fill="#ffffff" stroke="#e3262b" stroke-width="0.85" />
<circle cx="440.93" cy="356.28" r="1.45" fill="#ffffff" stroke="#e3262b" stroke-width="0.85" />
<circle cx="445.23" cy="356.82" r="1.25" fill="#ffffff" stroke="#ffffff" stroke-width="0.3" />
<circle cx="450.82" cy="357.09" r="1.25" fill="#ffffff" stroke="#ffffff" stroke-width="0.3" />
<circle cx="446.17" cy="357.36" r="1.25" fill="#ffffff" stroke="#ffffff" stroke-width="0.3" />
<circle cx="480.03" cy="308.85" r="1.45" fill="#ffffff" stroke="#34329a" stroke-width="0.85" />
<circle cx="471.13" cy="309.93" r="1.45" fill="#ffffff" stroke="#34329a" stroke-width="0.85" />
<circle cx="477.26" cy="310.74" r="1.45" fill="#ffffff" stroke="#34329a" stroke-width="0.85" />
<circle cx="469.75" cy="324.21" r="1.45" fill="#ffffff" stroke="#34329a" stroke-width="0.85" />
<circle cx="472.18" cy="326.10" r="1.45" fill="#ffffff" stroke="#34329a" stroke-width="0.85" />
<circle cx="470.55" cy="330.41" r="1.45" fill="#ffffff" stroke="#34329a" stroke-width="0.85" />
<circle cx="479.96" cy="333.38" r="1.45" fill="#ffffff" stroke="#34329a" stroke-width="0.85" />
<circle cx="477.69" cy="338.50" r="1.25" fill="#ffffff" stroke="#ffffff" stroke-width="0.3" />
<circle cx="479.32" cy="342.54" r="1.25" fill="#ffffff" stroke="#ffffff" stroke-width="0.3" />
<circle cx="470.74" cy="343.35" r="1.25" fill="#ffffff" stroke="#ffffff" stroke-width="0.3" />
<circle cx="474.30" cy="344.16" r="1.25" fill="#ffffff" stroke="#ffffff" stroke-width="0.3" />
<circle cx="468.16" cy="345.23" r="1.25" fill="#ffffff" stroke="#ffffff" stroke-width="0.3" />
<circle cx="474.86" cy="350.35" r="1.25" fill="#ffffff" stroke="#ffffff" stroke-width="0.3" />
<circle cx="469.51" cy="351.43" r="1.25" fill="#ffffff" stroke="#ffffff" stroke-width="0.3" />
<circle cx="479.97" cy="351.97" r="1.25" fill="#ffffff" stroke="#ffffff" stroke-width="0.3" />
<line x1="442.70" y1="305.80" x2="478.50" y2="305.80" stroke="#231f20" stroke-width="0.9" />
<text x="460.00" y="301.83" font-size="6.2" stroke="#231f20" stroke-width="0.1" fill="#231f20" text-anchor="middle" textLength="28.5" lengthAdjust="spacingAndGlyphs"><tspan font-style="italic">P</tspan> = 0.0002</text>
<text x="447.00" y="371.78" font-size="8.29" fill="#e3262b" stroke="#e3262b" stroke-width="0.08" text-anchor="middle" textLength="24.00" lengthAdjust="spacingAndGlyphs" >Relapse</text>
<text x="474.00" y="371.78" font-size="8.29" fill="#3a3a96" stroke="#3a3a96" stroke-width="0.08" text-anchor="middle" textLength="9.00" lengthAdjust="spacingAndGlyphs" >No</text>
<text x="474.00" y="380.38" font-size="8.29" fill="#3a3a96" stroke="#3a3a96" stroke-width="0.08" text-anchor="middle" textLength="24.00" lengthAdjust="spacingAndGlyphs" >Relapse</text>
<text x="408.50" y="332.65" font-size="8.74" fill="#231f20" stroke="#231f20" stroke-width="0.08" text-anchor="middle" textLength="45.00" lengthAdjust="spacingAndGlyphs" transform="rotate(-90 408.50 329.50)" >IFN-γ (pg/mL)</text>
<text x="117.70" y="405.42" font-size="7.84" fill="#e3262b" stroke="#e3262b" stroke-width="0.08" text-anchor="middle" textLength="25.50" lengthAdjust="spacingAndGlyphs" >Relapse</text>
<text x="346.00" y="405.42" font-size="7.84" fill="#3a3a96" stroke="#3a3a96" stroke-width="0.08" text-anchor="middle" textLength="37.00" lengthAdjust="spacingAndGlyphs" >No Relapse</text>
<line x1="23.50" y1="410.40" x2="212.70" y2="410.40" stroke="#3a3a3a" stroke-width="1.2" />
<line x1="252.00" y1="410.20" x2="440.50" y2="410.20" stroke="#2c2c5a" stroke-width="1.2" />
<text x="65.20" y="420.50" font-size="8.06" fill="#231f20" stroke="#231f20" stroke-width="0.08" text-anchor="middle" textLength="84.30" lengthAdjust="spacingAndGlyphs" >Active TGF-β1 (Pat. 7-BM)</text>
<text x="174.20" y="420.50" font-size="8.06" fill="#231f20" stroke="#231f20" stroke-width="0.08" text-anchor="middle" textLength="87.60" lengthAdjust="spacingAndGlyphs" >Active TGF-β1 (Pat. 12-BM)</text>
<text x="293.00" y="420.50" font-size="8.06" fill="#231f20" stroke="#231f20" stroke-width="0.08" text-anchor="middle" textLength="88.00" lengthAdjust="spacingAndGlyphs" >Active TGF-β1 (Pat. 38-BM)</text>
<text x="399.80" y="420.50" font-size="8.06" fill="#231f20" stroke="#231f20" stroke-width="0.08" text-anchor="middle" textLength="88.30" lengthAdjust="spacingAndGlyphs" >Active TGF-β1 (Pat. 40-BM)</text>
<defs><filter id="ihcb" x="0" y="0" width="100%" height="100%"><feGaussianBlur stdDeviation="0.3"/></filter></defs>
<clipPath id="cpF0"><rect x="17.2" y="425.2" width="94.8" height="72.3"/></clipPath>
<g clip-path="url(#cpF0)"><g filter="url(#ihcb)">
<rect x="17.20" y="425.20" width="94.80" height="72.30" fill="#f0e6e2" />
<path d="M22.1 424.6h0M91.9 428.1h0M37.5 430.4h0M38.3 431.9h0M93.0 434.4h0M95.3 433.3h0M32.1 434.9h0M46.6 437.6h0M65.3 438.5h0M34.7 438.9h0M69.2 439.8h0M107.2 441.4h0M29.2 444.6h0M38.0 444.5h0M47.0 445.1h0M62.6 445.7h0M51.4 446.8h0M54.4 447.6h0M90.1 445.8h0M106.0 449.7h0M16.2 451.8h0M28.3 452.1h0M38.4 453.5h0M71.9 452.6h0M40.3 453.9h0M84.8 455.7h0M41.0 457.5h0M60.1 456.1h0M96.1 456.9h0M109.8 457.3h0M54.5 460.4h0M38.5 460.4h0M30.8 462.3h0M110.4 461.8h0M31.5 464.5h0M71.9 465.8h0M87.2 466.6h0M18.6 465.8h0M75.3 468.2h0M91.8 474.4h0M109.5 477.0h0M22.1 479.9h0M29.8 482.9h0M45.3 483.0h0M94.3 484.1h0M101.3 485.4h0M110.4 486.1h0M47.0 485.9h0M73.7 487.7h0M38.2 490.6h0M77.8 490.1h0M82.3 490.7h0M90.6 490.1h0M62.7 496.2h0" stroke="#1e1418" stroke-width="2.5" stroke-linecap="round"/>
<path d="M29.5 424.2h0M30.3 424.5h0M62.7 426.3h0M81.9 426.5h0M91.0 424.0h0M51.4 426.7h0M58.5 426.6h0M66.0 425.9h0M64.0 428.1h0M79.8 430.2h0M80.9 428.3h0M47.9 431.3h0M67.3 430.0h0M73.5 432.0h0M85.7 430.6h0M88.6 433.8h0M98.8 433.7h0M36.7 435.0h0M72.7 435.6h0M91.5 434.0h0M49.3 437.3h0M38.0 439.3h0M41.0 439.3h0M51.7 440.4h0M54.5 440.2h0M55.0 438.9h0M57.2 438.6h0M66.7 438.5h0M70.5 439.7h0M85.3 438.9h0M84.3 440.7h0M100.8 442.6h0M34.6 443.6h0M110.6 443.2h0M98.3 445.4h0M36.5 446.5h0M38.6 446.5h0M59.7 446.0h0M94.7 446.8h0M108.0 447.3h0M70.6 448.6h0M79.6 449.1h0M57.1 451.0h0M67.7 451.5h0M24.8 453.3h0M104.5 454.1h0M31.4 454.5h0M34.2 453.9h0M49.6 454.3h0M51.9 455.5h0M101.5 454.3h0M40.3 457.9h0M57.3 456.7h0M91.5 456.7h0M94.2 458.1h0M102.0 457.7h0M20.1 458.2h0M26.1 460.5h0M42.3 458.1h0M64.4 458.0h0M86.1 460.2h0M87.5 460.3h0M74.6 461.1h0M84.3 460.9h0M86.7 460.9h0M26.4 463.7h0M36.4 462.2h0M73.6 462.2h0M80.4 462.8h0M90.0 463.1h0M96.0 462.1h0M51.3 464.5h0M60.0 465.3h0M84.5 465.1h0M84.3 466.3h0M32.1 466.5h0M58.9 468.0h0M89.3 466.5h0M38.5 469.7h0M51.8 469.9h0M56.2 469.6h0M61.7 470.4h0M69.8 468.0h0M40.5 469.9h0M57.8 471.9h0M71.5 471.3h0M72.7 470.4h0M100.6 472.5h0M102.1 472.4h0M104.9 470.8h0M107.5 472.1h0M110.4 471.5h0M111.2 470.0h0M20.1 474.4h0M25.6 472.2h0M46.3 473.0h0M68.1 474.4h0M84.7 472.2h0M42.2 476.2h0M68.8 474.7h0M74.0 474.6h0M23.5 477.1h0M45.5 477.6h0M53.7 476.0h0M57.7 477.9h0M80.4 477.9h0M46.2 479.2h0M32.2 481.0h0M36.2 482.4h0M54.6 480.4h0M66.3 480.3h0M82.5 481.6h0M16.5 482.9h0M22.5 483.9h0M81.3 483.9h0M108.1 484.4h0M20.8 484.7h0M36.2 486.2h0M44.5 485.4h0M49.9 486.1h0M81.7 485.8h0M82.5 486.0h0M88.2 484.3h0M102.2 485.9h0M110.7 484.4h0M30.5 485.9h0M34.2 486.5h0M37.1 487.3h0M40.6 486.6h0M66.6 486.4h0M67.9 485.9h0M106.0 485.9h0M108.2 488.3h0M58.6 490.2h0M75.3 489.7h0M27.6 489.9h0M47.1 491.6h0M90.4 491.3h0M94.4 491.4h0M108.1 491.3h0M28.0 494.2h0M36.3 494.1h0M42.8 492.5h0M110.3 494.6h0M20.6 495.9h0M20.6 495.8h0M28.1 494.3h0M98.7 495.9h0M22.4 498.5h0M72.0 496.0h0M73.9 498.3h0M81.6 498.5h0M97.9 497.3h0M107.8 498.1h0M111.0 497.4h0" stroke="#1e1418" stroke-width="2.0" stroke-linecap="round"/>
<path d="M42.7 424.4h0M86.1 425.5h0M54.5 429.8h0M87.0 436.3h0M86.0 436.9h0M95.2 439.4h0M36.6 440.1h0M57.0 442.1h0M43.2 446.3h0M49.3 445.3h0M101.1 448.0h0M112.4 448.6h0M34.8 447.9h0M21.2 450.9h0M25.2 450.7h0M37.1 451.9h0M61.4 452.8h0M28.6 454.8h0M107.3 456.2h0M32.6 455.9h0M63.6 456.8h0M77.6 456.5h0M80.4 456.6h0M87.6 458.0h0M66.9 459.4h0M68.7 459.2h0M97.9 459.1h0M28.0 462.3h0M59.8 460.9h0M76.2 461.5h0M104.6 462.5h0M49.9 464.3h0M28.5 465.6h0M58.0 464.4h0M76.6 465.5h0M56.0 467.2h0M58.7 470.5h0M37.8 472.9h0M75.5 473.9h0M28.0 475.1h0M106.3 474.8h0M36.8 476.1h0M51.5 476.9h0M71.5 479.2h0M94.2 479.5h0M92.5 480.0h0M94.1 482.3h0M56.0 482.6h0M23.3 484.2h0M87.2 483.9h0M43.8 488.0h0M55.2 487.9h0M97.1 490.4h0M100.1 489.3h0M30.5 492.6h0M74.0 492.3h0M93.7 490.0h0M99.2 491.2h0M24.1 493.7h0M36.5 495.3h0M52.2 495.3h0M89.6 494.6h0M38.0 496.9h0M61.3 498.2h0M84.5 497.5h0" stroke="#3a2630" stroke-width="1.5" stroke-linecap="round"/>
<path d="M44.9 426.2h0M59.9 430.3h0M81.2 431.7h0M50.4 433.0h0M59.1 437.9h0M75.0 437.0h0M93.9 435.9h0M45.8 438.9h0M78.1 440.3h0M37.2 440.8h0M59.6 441.5h0M40.1 441.9h0M66.5 443.4h0M16.0 445.2h0M46.0 448.4h0M102.5 447.3h0M100.1 448.6h0M27.7 452.4h0M84.3 451.1h0M95.5 450.4h0M112.3 451.7h0M66.4 454.3h0M35.0 456.6h0M47.5 457.1h0M108.6 458.0h0M49.1 460.0h0M91.2 459.9h0M90.4 459.8h0M38.8 464.5h0M58.1 462.5h0M33.9 464.6h0M34.6 470.3h0M85.9 469.1h0M87.8 472.5h0M104.5 478.2h0M96.6 481.8h0M40.8 484.0h0M99.4 482.0h0M109.9 483.6h0M85.4 484.3h0M84.8 486.8h0M110.5 487.2h0M72.4 491.1h0M98.3 490.3h0M96.5 493.9h0" stroke="#3a2630" stroke-width="2.5" stroke-linecap="round"/>
<path d="M48.4 426.3h0M44.3 427.6h0M45.7 426.4h0M84.9 429.5h0M42.3 431.0h0M64.0 437.2h0M67.5 436.5h0M99.3 436.5h0M70.2 443.7h0M53.2 443.8h0M60.6 446.0h0M40.6 446.6h0M84.4 446.0h0M101.9 452.3h0M111.8 452.3h0M81.5 454.3h0M104.1 453.9h0M26.6 457.1h0M60.6 458.6h0M76.8 459.9h0M50.0 461.8h0M55.3 462.0h0M84.6 462.6h0M101.9 462.4h0M90.3 464.8h0M100.6 465.5h0M17.9 466.3h0M50.6 468.4h0M22.5 471.0h0M96.1 472.0h0M44.4 474.3h0M64.6 474.2h0M34.3 474.7h0M93.8 474.7h0M95.8 475.8h0M34.8 479.9h0M46.9 479.1h0M36.8 482.4h0M67.2 482.6h0M69.0 484.3h0M86.6 482.2h0M26.4 485.9h0M31.3 486.4h0M48.8 484.0h0M24.0 487.6h0M112.4 486.8h0M83.9 490.6h0M92.8 488.3h0M110.5 491.0h0M52.2 494.2h0M80.1 493.2h0" stroke="#5a3a36" stroke-width="2.5" stroke-linecap="round"/>
<path d="M50.0 425.6h0M52.7 426.5h0M54.1 424.0h0M57.1 424.3h0M41.5 428.1h0M51.9 430.1h0M91.9 428.9h0M16.0 431.5h0M81.3 432.2h0M92.5 433.4h0M62.1 434.6h0M15.9 435.9h0M33.6 436.3h0M98.6 437.9h0M93.7 440.5h0M102.3 440.2h0M43.7 441.3h0M49.9 440.0h0M94.3 440.7h0M39.3 444.3h0M81.3 442.1h0M106.1 443.8h0M38.5 445.6h0M89.0 445.3h0M97.7 444.9h0M28.5 447.9h0M21.9 449.1h0M22.9 448.0h0M68.4 450.2h0M86.9 451.7h0M22.5 452.8h0M100.0 451.9h0M37.9 455.9h0M45.1 458.3h0M94.0 459.8h0M97.5 462.2h0M47.9 462.8h0M30.4 467.2h0M47.8 468.1h0M68.5 467.1h0M104.6 465.9h0M65.9 469.3h0M74.1 468.9h0M23.1 471.9h0M102.5 473.6h0M110.8 471.8h0M78.6 474.5h0M80.3 476.1h0M39.6 477.6h0M42.3 476.8h0M72.5 478.4h0M84.4 477.0h0M93.9 477.8h0M39.0 479.7h0M91.9 480.4h0M72.2 481.8h0M91.7 483.7h0M56.4 485.9h0M97.7 487.9h0M21.6 488.7h0M49.2 488.6h0M41.8 492.5h0M68.5 492.5h0M71.6 492.0h0M108.2 492.7h0M93.1 494.0h0M45.0 498.0h0M89.0 498.6h0M100.6 497.1h0M102.2 496.6h0" stroke="#f6f0ee" stroke-width="1.5" stroke-linecap="round"/>
<path d="M58.1 425.0h0M66.1 426.6h0M68.7 424.6h0M75.4 426.2h0M88.6 426.4h0M68.1 426.5h0M72.4 427.1h0M94.7 428.0h0M45.0 429.3h0M67.4 428.2h0M71.9 432.1h0M78.1 432.3h0M82.4 431.7h0M56.1 432.3h0M59.5 432.4h0M66.5 433.2h0M75.8 433.5h0M32.1 435.5h0M94.7 434.9h0M44.3 437.5h0M50.5 438.0h0M74.2 436.3h0M78.2 436.7h0M43.8 439.7h0M46.6 438.8h0M58.3 439.7h0M99.2 438.2h0M33.8 440.1h0M66.1 441.8h0M34.2 445.3h0M59.2 445.9h0M98.5 448.3h0M29.8 450.4h0M40.5 448.0h0M51.9 448.9h0M53.9 448.4h0M38.5 450.7h0M68.0 451.1h0M46.1 454.6h0M87.4 454.8h0M107.9 454.4h0M42.2 458.0h0M81.6 458.3h0M106.1 456.1h0M28.4 458.4h0M36.9 458.8h0M40.4 460.1h0M45.8 460.0h0M70.6 458.6h0M24.6 460.7h0M25.8 462.2h0M34.5 463.4h0M69.8 464.4h0M76.0 464.1h0M20.3 465.8h0M41.6 466.1h0M68.1 466.4h0M101.3 466.8h0M110.6 467.7h0M21.4 470.2h0M30.2 468.5h0M64.3 468.7h0M83.0 469.7h0M86.6 468.9h0M95.0 469.3h0M17.2 471.1h0M28.8 471.9h0M32.2 471.6h0M36.4 471.9h0M67.8 471.1h0M80.5 471.6h0M84.8 470.7h0M99.4 470.3h0M20.2 473.1h0M23.1 474.5h0M32.5 472.5h0M66.1 474.6h0M82.6 472.1h0M93.6 474.5h0M97.4 473.8h0M99.0 472.7h0M30.4 475.4h0M110.9 476.3h0M20.8 477.5h0M26.4 477.5h0M59.3 475.9h0M61.1 476.4h0M68.4 478.3h0M112.0 475.9h0M84.6 479.6h0M26.3 484.0h0M63.5 482.8h0M17.7 485.0h0M56.0 483.9h0M71.7 486.0h0M73.9 485.9h0M79.8 488.6h0M84.6 487.0h0M45.0 488.1h0M82.1 488.4h0M95.3 488.4h0M109.9 487.9h0M20.5 494.6h0M58.7 493.5h0M22.7 494.7h0M48.9 496.3h0M76.3 494.6h0M78.7 494.2h0M81.2 495.4h0M95.5 496.1h0" stroke="#1e1418" stroke-width="1.5" stroke-linecap="round"/>
<path d="M70.5 425.5h0M75.8 426.3h0M93.1 427.8h0M96.0 430.7h0M96.7 432.0h0M67.7 435.9h0M112.3 436.1h0M30.4 439.8h0M63.8 437.9h0M78.2 439.2h0M90.8 440.3h0M97.3 438.5h0M105.2 440.0h0M44.1 442.4h0M66.1 440.0h0M79.4 440.4h0M86.1 440.2h0M89.2 440.9h0M52.7 443.6h0M89.6 443.1h0M100.8 442.2h0M55.5 446.5h0M81.0 444.1h0M91.9 445.0h0M107.8 444.5h0M64.3 447.3h0M97.4 447.3h0M104.5 446.6h0M56.7 447.9h0M59.1 449.5h0M81.6 450.5h0M59.7 453.7h0M62.5 451.8h0M69.2 453.0h0M93.1 453.3h0M56.3 455.4h0M58.9 455.8h0M96.7 454.9h0M30.4 457.2h0M70.8 456.9h0M82.4 458.3h0M84.6 457.0h0M33.1 459.1h0M48.0 459.9h0M56.1 458.1h0M64.1 458.0h0M71.9 460.3h0M35.3 461.7h0M86.6 460.9h0M93.2 461.3h0M106.5 460.4h0M88.3 464.4h0M17.8 465.4h0M22.6 465.5h0M44.4 463.9h0M69.3 466.0h0M58.4 467.7h0M60.2 467.9h0M109.2 466.1h0M38.9 468.9h0M51.5 468.0h0M100.0 470.5h0M99.9 469.1h0M58.4 470.6h0M75.4 471.7h0M16.4 473.4h0M45.9 474.0h0M54.3 473.2h0M27.1 475.4h0M88.3 476.1h0M15.9 477.9h0M57.8 478.4h0M78.3 479.7h0M106.5 479.6h0M21.9 480.5h0M30.4 480.1h0M30.4 482.2h0M70.7 480.7h0M100.8 481.2h0M33.8 484.4h0M37.4 482.1h0M52.9 483.3h0M65.8 484.6h0M86.2 482.8h0M39.4 484.0h0M64.4 485.4h0M90.6 484.7h0M25.9 486.3h0M54.6 486.3h0M98.0 487.7h0M19.6 489.8h0M53.2 488.5h0M100.4 488.5h0M21.4 491.6h0M99.9 489.8h0M99.4 493.7h0M24.0 496.4h0M46.6 496.0h0M65.0 495.5h0M54.8 497.1h0" stroke="#3a2630" stroke-width="2.0" stroke-linecap="round"/>
<path d="M78.5 424.3h0M92.2 424.8h0M90.0 426.7h0M60.4 429.7h0M86.5 430.4h0M40.1 433.7h0M35.2 435.6h0M35.8 436.7h0M49.6 439.4h0M40.9 441.5h0M74.0 442.1h0M37.2 442.5h0M79.0 442.8h0M41.2 445.6h0M31.9 447.4h0M45.3 447.6h0M49.1 446.8h0M43.4 448.6h0M84.0 448.5h0M90.4 448.4h0M98.0 449.8h0M110.3 449.7h0M108.0 450.7h0M26.2 452.7h0M41.0 453.0h0M71.3 453.3h0M74.6 452.3h0M80.3 454.6h0M62.6 454.6h0M66.1 456.5h0M99.7 454.2h0M16.1 457.7h0M50.7 457.8h0M30.5 459.6h0M92.4 459.9h0M48.0 461.8h0M56.0 462.3h0M22.0 462.0h0M79.2 464.4h0M104.5 466.2h0M108.4 467.7h0M40.6 470.0h0M25.9 473.7h0M90.1 471.9h0M99.9 476.6h0M102.3 476.4h0M108.3 475.9h0M68.0 479.3h0M75.5 479.0h0M102.7 482.8h0M36.9 484.1h0M45.2 484.3h0M105.9 484.0h0M77.5 486.2h0M94.0 486.1h0M57.3 490.4h0M71.3 489.0h0M110.2 488.5h0M51.9 491.8h0M68.5 491.4h0M17.0 493.0h0M34.2 492.2h0M36.4 494.1h0M74.0 494.6h0M109.1 493.6h0M68.2 494.1h0M108.9 495.6h0M20.4 496.9h0M66.7 497.7h0" stroke="#f6f0ee" stroke-width="2.5" stroke-linecap="round"/>
<path d="M82.5 426.3h0M90.0 427.0h0M42.5 428.4h0M51.1 430.5h0M56.6 431.7h0M45.9 436.3h0M50.0 434.5h0M58.3 435.3h0M90.3 435.8h0M71.2 435.9h0M61.0 438.2h0M84.4 441.9h0M56.1 444.4h0M104.2 444.8h0M25.8 447.4h0M28.4 446.4h0M44.2 448.2h0M37.3 449.3h0M73.7 448.8h0M45.7 451.9h0M102.5 451.8h0M50.0 454.2h0M80.5 454.5h0M108.4 451.9h0M66.2 457.8h0M16.5 460.0h0M83.7 459.1h0M26.7 464.0h0M52.4 463.0h0M70.0 464.0h0M100.6 464.2h0M106.5 461.9h0M42.4 465.5h0M49.3 465.5h0M102.5 466.5h0M34.4 467.7h0M79.2 468.0h0M80.0 466.3h0M91.5 467.3h0M72.0 469.2h0M77.9 470.4h0M30.7 473.5h0M55.8 472.4h0M61.5 473.5h0M102.8 474.2h0M52.4 473.9h0M74.2 474.9h0M88.0 475.8h0M107.9 475.7h0M48.6 478.6h0M53.2 478.5h0M56.5 479.9h0M17.8 480.0h0M75.5 482.3h0M77.4 482.4h0M88.3 481.3h0M104.2 480.5h0M111.3 482.0h0M50.2 484.2h0M94.2 481.9h0M48.5 486.1h0M52.6 484.4h0M21.2 487.9h0M74.8 488.0h0M29.2 492.6h0M36.6 491.3h0M87.7 492.5h0M103.8 491.0h0M44.4 493.9h0M47.0 491.8h0M65.8 492.2h0M62.4 496.2h0M85.8 496.3h0M48.5 497.2h0M91.1 497.1h0" stroke="#7c5650" stroke-width="2.0" stroke-linecap="round"/>
<path d="M86.0 424.4h0M54.0 433.1h0M61.9 432.7h0M102.4 435.9h0M78.3 437.4h0M105.7 438.2h0M74.5 438.8h0M87.3 439.5h0M103.6 440.4h0M17.1 443.5h0M111.0 445.5h0M20.0 452.2h0M90.4 452.0h0M98.4 450.0h0M38.1 453.4h0M111.3 454.2h0M53.2 456.2h0M40.7 458.2h0M70.4 461.7h0M40.1 461.9h0M77.5 465.8h0M93.3 465.1h0M90.5 470.3h0M53.9 471.5h0M49.2 474.1h0M53.7 473.3h0M75.8 477.0h0M69.4 480.4h0M89.8 490.4h0M45.3 491.8h0M73.8 494.0h0" stroke="#7c5650" stroke-width="2.5" stroke-linecap="round"/>
<path d="M95.9 423.9h0M101.6 425.2h0M77.3 427.5h0M81.1 427.6h0M84.4 427.8h0M47.6 429.3h0M88.9 430.3h0M43.3 432.4h0M54.1 432.3h0M35.2 433.3h0M47.3 433.8h0M62.5 434.3h0M43.2 436.0h0M60.3 436.6h0M77.7 435.9h0M85.0 435.4h0M40.5 437.7h0M32.4 438.8h0M109.9 440.2h0M71.3 442.1h0M44.3 442.9h0M60.6 443.7h0M31.8 444.2h0M66.7 446.1h0M71.9 446.4h0M80.0 445.0h0M108.5 444.0h0M89.2 448.6h0M101.2 448.8h0M55.8 450.7h0M65.0 451.4h0M78.3 450.5h0M81.0 450.7h0M101.5 451.8h0M23.7 453.7h0M90.4 453.0h0M90.3 453.1h0M99.6 452.5h0M18.5 454.6h0M42.0 453.9h0M69.5 456.5h0M72.8 458.2h0M100.3 458.5h0M21.8 460.6h0M58.4 460.3h0M73.9 458.1h0M33.1 461.9h0M63.0 461.7h0M66.2 461.5h0M80.6 461.5h0M94.8 460.6h0M28.6 462.6h0M66.4 464.2h0M77.2 461.9h0M100.1 463.5h0M26.2 465.7h0M65.7 464.4h0M24.5 467.6h0M42.3 466.5h0M76.0 466.5h0M88.3 468.6h0M92.7 467.8h0M99.6 466.7h0M33.9 468.9h0M40.9 468.1h0M43.0 470.5h0M106.3 468.4h0M60.7 470.0h0M17.3 474.0h0M22.8 474.4h0M24.3 475.0h0M48.6 475.8h0M62.5 476.0h0M64.4 474.6h0M65.3 476.4h0M29.5 478.3h0M40.1 476.8h0M75.9 477.1h0M89.9 478.6h0M103.8 477.3h0M23.9 478.8h0M26.9 479.3h0M86.6 479.4h0M99.8 479.8h0M27.4 481.4h0M38.9 481.8h0M62.1 480.5h0M68.0 480.7h0M83.5 480.6h0M62.6 482.1h0M75.9 483.7h0M79.7 483.2h0M26.3 485.6h0M58.6 484.2h0M80.1 484.5h0M61.8 486.6h0M79.6 488.5h0M94.0 486.4h0M22.2 490.2h0M36.1 488.0h0M65.3 489.0h0M24.4 489.9h0M39.1 492.4h0M41.8 491.7h0M61.9 491.0h0M104.1 494.1h0M33.4 494.0h0M40.3 494.9h0M56.5 495.1h0M106.0 496.0h0M24.8 496.2h0M35.8 496.1h0M87.7 497.2h0" stroke="#f6f0ee" stroke-width="2.0" stroke-linecap="round"/>
<path d="M39.8 426.6h0M16.7 434.9h0M40.7 434.8h0M38.4 436.7h0M82.3 438.4h0M76.5 440.9h0M97.1 442.9h0M32.8 448.5h0M30.5 453.2h0M42.3 452.8h0M48.8 452.4h0M56.1 451.9h0M86.2 452.9h0M93.8 452.4h0M16.6 456.4h0M80.0 454.0h0M105.0 458.6h0M66.7 460.0h0M23.0 461.9h0M105.8 465.0h0M73.8 467.9h0M23.5 470.5h0M63.2 469.7h0M93.6 468.8h0M104.2 469.2h0M109.5 470.1h0M94.4 470.7h0M96.0 473.4h0M37.6 479.7h0M82.9 479.8h0M59.3 479.8h0M98.0 482.3h0M92.2 484.2h0M95.9 484.8h0M34.5 487.2h0M40.5 488.5h0M58.1 492.1h0M57.3 496.6h0" stroke="#a88478" stroke-width="1.5" stroke-linecap="round"/>
<path d="M58.4 427.0h0M64.2 425.9h0M38.3 428.4h0M94.4 430.4h0M47.5 430.1h0M86.8 430.1h0M40.5 436.0h0M92.9 433.9h0M60.3 437.4h0M27.7 441.0h0M82.1 440.8h0M54.3 442.2h0M60.9 442.2h0M82.8 443.8h0M102.3 443.6h0M69.9 443.9h0M82.1 446.1h0M81.2 447.5h0M41.3 452.5h0M62.0 450.6h0M90.5 451.6h0M34.2 452.4h0M68.3 453.9h0M23.6 454.9h0M58.7 457.0h0M103.2 457.8h0M20.5 461.1h0M55.7 461.7h0M58.4 461.1h0M20.5 462.2h0M79.9 465.5h0M81.4 464.1h0M98.2 463.9h0M45.7 468.6h0M63.5 467.0h0M83.6 467.4h0M95.1 467.0h0M17.4 469.4h0M18.3 469.9h0M26.3 472.0h0M80.5 472.1h0M106.7 476.5h0M18.1 477.4h0M98.3 476.2h0M48.3 478.3h0M51.2 478.9h0M60.7 479.4h0M70.8 483.8h0M76.2 483.8h0M18.5 486.4h0M28.6 488.6h0M44.5 488.4h0M72.8 488.7h0M103.1 489.4h0M106.4 491.4h0M25.9 493.6h0M55.9 491.9h0M86.9 492.9h0M44.8 495.4h0M51.6 495.7h0M28.7 498.5h0M40.2 498.2h0M68.1 496.6h0M100.2 496.9h0" stroke="#a88478" stroke-width="2.0" stroke-linecap="round"/>
<path d="M62.1 428.5h0M36.1 430.3h0M69.6 430.8h0M68.9 433.3h0M54.4 434.8h0M67.8 434.4h0M71.4 434.3h0M70.0 436.5h0M94.9 436.6h0M16.4 438.4h0M111.5 441.4h0M50.4 443.7h0M71.9 443.5h0M75.7 442.5h0M50.8 444.7h0M67.8 447.0h0M41.9 450.4h0M45.5 450.2h0M55.2 449.6h0M76.9 447.8h0M32.6 451.3h0M78.8 451.0h0M109.4 451.3h0M36.3 452.4h0M22.0 457.6h0M35.8 458.3h0M19.3 458.4h0M30.3 460.3h0M60.4 462.4h0M62.1 463.7h0M89.7 464.5h0M96.0 463.4h0M57.4 465.3h0M26.5 466.8h0M40.6 467.1h0M48.1 466.2h0M65.3 466.1h0M81.9 469.5h0M64.0 470.6h0M39.9 474.7h0M46.2 474.1h0M72.5 476.1h0M98.3 474.3h0M16.7 476.7h0M24.7 481.1h0M43.0 481.8h0M52.0 479.9h0M80.3 482.0h0M91.3 480.8h0M38.9 484.4h0M40.9 484.8h0M62.0 484.3h0M52.7 488.6h0M34.5 489.1h0M33.0 490.4h0M58.1 490.0h0M76.2 491.5h0M36.2 494.2h0M72.0 494.4h0M76.3 496.2h0M17.0 497.3h0M31.6 495.9h0M32.4 496.4h0M65.4 497.9h0M93.6 498.1h0" stroke="#5a3a36" stroke-width="1.5" stroke-linecap="round"/>
<path d="M69.1 427.6h0M84.3 430.0h0M76.1 430.8h0M52.7 432.1h0M84.5 436.2h0M50.6 442.4h0M96.1 443.6h0M75.9 445.0h0M24.0 450.4h0M103.8 455.4h0M19.4 458.2h0M24.2 457.5h0M43.8 462.5h0M59.4 463.3h0M43.4 464.5h0M26.4 469.9h0M44.0 471.9h0M51.7 473.9h0M59.1 472.1h0M21.1 475.3h0M32.3 476.1h0M84.7 476.4h0M92.1 477.3h0M79.7 479.2h0M65.2 485.6h0M80.0 492.3h0M60.4 492.1h0M76.9 493.9h0" stroke="#a88478" stroke-width="2.5" stroke-linecap="round"/>
<path d="M80.3 426.0h0M84.3 428.0h0M112.5 429.4h0M53.3 432.6h0M77.3 431.9h0M48.2 433.9h0M46.2 435.8h0M50.1 434.4h0M64.3 436.6h0M36.2 437.7h0M98.6 441.7h0M26.2 442.2h0M65.1 443.2h0M84.1 444.7h0M108.4 447.0h0M26.3 450.5h0M32.3 449.8h0M51.9 452.8h0M97.9 452.7h0M88.7 454.6h0M69.5 458.3h0M111.3 465.4h0M98.1 467.8h0M57.5 469.0h0M96.3 469.1h0M86.1 473.2h0M34.9 478.5h0M74.4 478.3h0M28.2 478.6h0M29.8 484.7h0M42.6 486.4h0M16.3 489.6h0M49.9 488.5h0M87.8 490.2h0M83.8 494.2h0M91.2 493.1h0M100.2 492.5h0M43.5 494.5h0M77.7 496.4h0" stroke="#4e4066" stroke-width="2.0" stroke-linecap="round"/>
<path d="M86.4 428.3h0M54.4 428.4h0M28.2 443.6h0M91.7 443.5h0M105.8 444.2h0M70.7 447.8h0M32.5 451.5h0M71.1 450.1h0M49.6 456.0h0M94.5 456.8h0M99.9 462.2h0M109.7 462.3h0M44.5 462.2h0M79.3 472.4h0M83.6 470.9h0M94.0 472.0h0M74.1 479.4h0M47.5 482.0h0M100.3 482.3h0M24.4 488.4h0M84.3 488.8h0M15.9 494.4h0M86.4 495.2h0" stroke="#4e4066" stroke-width="2.5" stroke-linecap="round"/>
<path d="M60.0 428.2h0M63.2 429.9h0M74.0 430.5h0M77.1 429.2h0M64.0 430.6h0M72.5 431.8h0M76.5 434.2h0M76.5 435.5h0M64.9 438.0h0M75.6 439.5h0M101.8 438.1h0M48.6 440.4h0M98.5 440.4h0M109.1 441.7h0M30.5 444.1h0M28.5 445.3h0M44.5 444.8h0M100.8 445.5h0M88.1 447.7h0M63.0 449.3h0M86.3 449.2h0M74.4 452.2h0M93.8 449.8h0M16.2 453.5h0M64.1 454.2h0M77.7 453.9h0M30.4 454.3h0M50.2 455.4h0M78.5 454.2h0M91.8 454.5h0M22.5 457.5h0M32.2 456.2h0M108.5 456.7h0M106.9 459.1h0M93.9 464.2h0M90.5 466.3h0M98.2 464.4h0M110.2 465.0h0M28.5 469.1h0M91.7 468.1h0M106.4 469.5h0M47.2 472.5h0M92.5 470.0h0M40.5 471.8h0M103.9 474.1h0M25.1 479.0h0M40.5 480.5h0M89.9 478.9h0M97.3 479.3h0M100.1 478.0h0M104.5 478.6h0M52.9 481.3h0M108.2 482.4h0M48.2 483.7h0M56.4 481.8h0M96.4 482.0h0M34.5 484.7h0M30.0 488.2h0M91.8 486.3h0M101.6 486.6h0M25.8 489.4h0M40.6 489.2h0M53.5 491.1h0M56.0 491.3h0M40.1 492.9h0M75.6 493.3h0M98.0 492.1h0M40.0 495.1h0M107.7 495.4h0M27.5 498.3h0M40.4 497.2h0M52.0 496.5h0M60.1 498.3h0" stroke="#5a3a36" stroke-width="2.0" stroke-linecap="round"/>
<path d="M64.1 434.3h0M52.5 436.6h0M81.3 436.5h0M100.7 438.5h0M37.9 438.2h0M46.7 439.9h0M108.8 443.3h0M56.6 445.5h0M64.2 448.0h0M69.4 448.5h0M51.3 452.6h0M52.0 450.2h0M25.2 454.9h0M88.0 458.0h0M35.8 458.7h0M90.5 458.3h0M101.4 461.5h0M18.1 462.1h0M63.5 465.1h0M94.7 466.5h0M25.8 471.9h0M109.0 472.0h0M19.5 474.2h0M58.5 476.6h0M64.8 479.9h0M110.4 479.0h0M27.6 481.9h0M51.3 485.9h0M60.2 488.5h0M34.3 488.6h0M47.6 490.5h0M17.3 491.9h0M62.5 490.2h0M19.8 493.4h0M69.9 494.3h0" stroke="#7c5650" stroke-width="1.5" stroke-linecap="round"/>
<path d="M91.2 437.9h0M52.3 441.2h0M72.6 443.0h0M55.4 446.1h0M84.1 448.2h0M32.1 448.6h0M71.4 448.2h0M42.5 451.1h0M73.4 450.7h0M84.2 453.2h0M90.0 460.8h0M35.5 463.5h0M50.0 471.4h0M34.0 474.3h0M71.4 474.3h0M90.8 473.2h0M90.1 476.0h0M60.2 479.3h0M57.2 481.9h0M61.4 480.9h0M20.0 486.0h0M48.4 486.8h0M62.1 489.9h0M18.4 491.1h0M64.6 491.8h0M104.7 492.0h0M84.3 496.8h0" stroke="#4e4066" stroke-width="1.5" stroke-linecap="round"/>
<polygon points="17.2,425.2 41.0,425.2 36.0,430.0 30.0,437.0 24.0,445.0 19.0,452.0 17.2,456.0" fill="#fbf8f6"/>
<polygon points="93.0,425.2 112.0,425.2 112.0,441.0 104.0,437.0 97.0,431.0" fill="#fbf8f6"/>
<ellipse cx="32.3" cy="472" rx="6.2" ry="6.0" fill="#fdfcfa" stroke="#8a7a70" stroke-width="0.4" stroke-opacity="0.5"/>
<ellipse cx="23.7" cy="483" rx="5.6" ry="5.2" fill="#fdfcfa" stroke="#8a7a70" stroke-width="0.4" stroke-opacity="0.5"/>
<ellipse cx="79.4" cy="429.8" rx="4.2" ry="3.6" fill="#fdfcfa" stroke="#8a7a70" stroke-width="0.4" stroke-opacity="0.5"/>
<ellipse cx="100" cy="468" rx="4" ry="3.5" fill="#fdfcfa" stroke="#8a7a70" stroke-width="0.4" stroke-opacity="0.5"/>
<rect x="83.30" y="475.90" width="28.70" height="21.60" fill="#f6f0ea" />
<path d="M91.4 494.0h0M106.4 497.3h0M110.9 492.2h0M111.3 496.9h0M99.2 493.9h0M95.1 495.8h0M110.8 481.9h0M99.9 496.5h0M92.0 497.3h0M97.7 490.4h0M111.2 484.5h0M99.6 492.7h0M92.3 491.1h0M104.3 492.7h0M100.0 485.6h0M96.9 488.1h0M96.1 492.5h0M93.3 496.3h0M97.8 492.1h0M93.9 497.2h0M101.2 483.7h0M98.6 493.1h0M109.3 483.7h0M104.1 494.8h0M105.7 482.4h0M100.0 485.4h0M109.9 495.3h0M94.3 496.6h0M99.0 489.1h0M92.9 491.5h0M103.5 496.0h0M105.6 483.4h0M98.2 497.0h0M98.4 494.8h0M94.8 489.9h0M97.2 491.2h0M104.4 491.4h0M102.0 493.1h0M111.2 489.9h0M105.9 494.4h0M111.5 490.1h0M98.7 487.0h0M108.8 496.9h0M92.6 493.0h0M105.7 491.2h0M93.4 492.0h0M102.9 496.9h0M105.2 492.5h0M107.2 485.1h0M102.0 486.3h0M103.6 485.4h0M107.5 488.8h0M90.0 495.7h0M95.6 489.0h0M109.2 490.7h0M110.0 488.7h0M99.0 485.5h0M106.1 497.0h0M109.4 489.0h0M88.0 494.5h0M105.0 484.0h0M92.6 495.1h0M102.5 485.0h0M86.7 494.4h0M110.0 488.7h0M95.7 493.9h0M109.9 495.7h0M84.0 493.3h0M105.6 491.3h0M104.2 490.1h0M89.2 496.0h0M106.1 481.1h0M101.0 489.2h0M109.5 493.3h0M103.1 489.3h0M97.2 487.6h0M87.4 495.0h0M101.8 490.2h0M104.7 485.5h0M109.6 490.5h0M110.1 493.1h0M100.2 491.6h0M100.9 489.4h0M99.0 493.8h0M110.3 492.4h0M100.5 496.2h0M99.5 487.1h0M95.8 493.3h0M104.1 496.0h0M102.2 495.9h0M110.5 494.9h0M86.4 494.6h0M101.5 496.2h0M103.8 492.9h0M101.3 482.0h0M99.4 495.2h0M100.2 488.8h0M94.3 492.1h0M111.1 486.1h0M101.8 487.4h0M90.6 495.5h0M109.8 488.3h0M94.0 492.1h0M102.9 489.3h0M110.6 483.9h0M110.0 491.2h0M107.9 493.8h0M105.9 493.3h0M87.8 493.8h0M103.5 488.0h0M99.0 491.8h0M110.7 492.6h0M97.5 488.0h0M106.6 481.6h0M91.4 492.2h0M94.9 494.5h0M102.5 490.0h0M104.3 493.8h0M102.1 482.8h0M104.5 495.8h0M99.3 489.3h0M100.5 496.0h0M111.2 490.2h0M102.8 486.4h0M104.8 488.2h0M91.2 496.5h0M86.0 495.0h0M86.3 494.4h0M101.9 491.2h0M85.2 495.6h0M108.4 493.1h0M109.8 483.3h0M109.6 490.6h0M106.5 485.9h0" stroke="#b78e70" stroke-width="1.6" stroke-linecap="round"/>
<path d="M91.4 494.0h0M111.3 496.9h0M110.8 481.9h0M97.7 490.4h0M92.3 491.1h0M96.9 488.1h0M97.8 492.1h0M98.6 493.1h0M105.7 482.4h0M94.3 496.6h0M103.5 496.0h0M98.4 494.8h0M104.4 491.4h0M105.9 494.4h0M108.8 496.9h0M93.4 492.0h0M107.2 485.1h0M107.5 488.8h0M109.2 490.7h0M106.1 497.0h0M105.0 484.0h0M86.7 494.4h0M109.9 495.7h0M104.2 490.1h0M101.0 489.2h0M97.2 487.6h0M104.7 485.5h0M100.2 491.6h0M110.3 492.4h0M95.8 493.3h0M110.5 494.9h0M103.8 492.9h0M100.2 488.8h0M101.8 487.4h0M94.0 492.1h0M110.0 491.2h0M87.8 493.8h0M110.7 492.6h0M91.4 492.2h0M104.3 493.8h0M99.3 489.3h0M102.8 486.4h0M86.0 495.0h0M85.2 495.6h0M109.6 490.6h0" stroke="#8a5e48" stroke-width="1.0" stroke-linecap="round"/>
<rect x="83.3" y="475.9" width="28.70" height="21.60" fill="none" stroke="#6a6a6a" stroke-width="0.6"/>
</g></g>
<rect x="17.2" y="425.2" width="94.8" height="72.3" fill="none" stroke="#8a8a8a" stroke-width="0.7"/>
<clipPath id="cpF1"><rect x="125.4" y="425.2" width="95.6" height="72.3"/></clipPath>
<g clip-path="url(#cpF1)"><g filter="url(#ihcb)">
<rect x="125.40" y="425.20" width="95.60" height="72.30" fill="#f6efe0" />
<path d="M125.8 425.7h0M133.1 426.2h0M164.2 424.8h0M218.6 425.3h0M154.4 426.0h0M141.0 428.6h0M169.3 428.4h0M194.4 428.5h0M134.0 430.3h0M151.4 431.0h0M172.0 430.0h0M146.1 434.3h0M189.1 434.9h0M200.3 434.7h0M201.4 435.1h0M171.9 435.9h0M198.9 436.4h0M134.5 440.1h0M219.7 439.6h0M138.6 439.9h0M142.0 441.8h0M174.5 440.3h0M189.3 442.2h0M199.0 440.6h0M206.1 441.4h0M218.3 441.1h0M219.4 439.9h0M197.3 442.2h0M166.7 445.9h0M187.3 447.7h0M150.6 449.3h0M179.6 450.5h0M126.2 450.1h0M151.4 450.0h0M160.1 451.2h0M169.8 451.9h0M199.9 451.2h0M186.4 452.8h0M197.3 455.5h0M214.7 454.2h0M135.0 458.4h0M205.5 458.3h0M126.0 462.3h0M176.0 462.0h0M181.1 461.1h0M184.6 461.9h0M220.8 460.5h0M165.9 462.3h0M171.0 466.0h0M144.7 467.3h0M152.5 470.1h0M173.8 471.2h0M191.0 472.2h0M145.2 475.1h0M200.8 475.4h0M205.5 473.9h0M134.7 477.5h0M210.4 477.5h0M216.3 478.3h0M138.9 478.9h0M192.9 478.1h0M212.1 480.5h0M169.3 480.7h0M183.8 481.6h0M209.9 482.4h0M190.2 481.9h0M192.9 483.7h0M195.4 484.5h0M166.1 484.0h0M178.4 485.5h0M217.3 485.8h0M147.7 487.6h0M169.6 486.0h0M215.9 487.5h0M204.6 488.7h0M125.3 492.2h0M152.1 491.5h0M166.4 492.3h0M174.3 490.8h0M147.1 492.8h0M132.7 494.0h0M207.5 496.5h0M138.5 496.1h0M140.8 496.1h0M177.6 496.8h0M218.1 496.1h0" stroke="#e4a030" stroke-width="1.5" stroke-linecap="round"/>
<path d="M126.8 426.1h0M160.7 428.5h0M170.6 427.2h0M126.6 430.9h0M202.2 432.2h0M128.2 433.0h0M134.2 433.9h0M184.7 432.1h0M129.0 436.1h0M156.7 433.9h0M179.9 435.9h0M207.1 437.9h0M212.7 437.3h0M220.2 437.3h0M177.7 441.8h0M186.1 442.4h0M203.1 442.4h0M218.8 443.3h0M139.6 446.2h0M144.7 446.5h0M149.0 446.1h0M152.3 445.0h0M160.5 446.2h0M189.3 445.6h0M194.8 445.2h0M204.6 446.0h0M134.1 447.5h0M134.5 447.7h0M172.0 448.2h0M182.1 447.9h0M152.6 450.6h0M165.4 450.9h0M182.3 451.9h0M204.0 451.5h0M134.1 453.7h0M172.4 452.6h0M199.5 453.9h0M212.8 452.0h0M220.5 451.9h0M146.1 455.7h0M131.4 457.8h0M163.3 457.1h0M208.5 457.3h0M150.2 460.0h0M168.3 458.4h0M208.5 458.8h0M137.6 460.1h0M202.6 462.0h0M138.3 463.9h0M133.9 466.6h0M137.7 468.2h0M168.6 466.9h0M175.6 467.8h0M192.7 467.8h0M124.2 471.4h0M176.1 470.1h0M192.7 472.0h0M198.6 470.8h0M144.6 473.2h0M178.5 472.2h0M198.1 474.0h0M209.1 473.6h0M177.8 474.6h0M144.1 478.8h0M197.9 478.4h0M174.0 480.1h0M204.1 481.0h0M124.1 483.7h0M135.2 483.8h0M171.2 484.3h0M206.8 484.2h0M212.7 482.5h0M176.2 486.5h0M170.3 487.6h0M172.4 488.3h0M182.2 487.9h0M197.7 487.3h0M206.6 486.5h0M159.0 488.1h0M167.3 489.2h0M138.5 491.8h0M137.6 492.3h0M166.2 493.0h0M203.3 492.7h0M207.8 493.7h0M152.4 496.6h0M174.4 493.9h0M191.3 495.1h0M168.6 496.8h0M196.6 496.8h0M205.5 498.2h0" stroke="#5a6aa8" stroke-width="2.5" stroke-linecap="round"/>
<path d="M129.9 424.2h0M218.7 430.0h0M150.1 430.8h0M152.3 430.0h0M175.7 431.0h0M198.8 435.3h0M138.1 437.1h0M208.6 439.8h0M150.1 441.8h0M187.4 440.2h0M216.5 440.1h0M130.6 447.5h0M158.3 447.3h0M166.4 447.4h0M217.4 450.2h0M172.9 453.2h0M201.4 454.9h0M155.2 457.4h0M172.6 460.3h0M182.5 462.2h0M208.6 462.6h0M131.0 463.0h0M128.2 465.2h0M188.8 470.0h0M132.4 475.7h0M180.5 475.1h0M206.6 480.1h0M148.3 484.9h0M170.8 490.5h0M215.8 490.3h0M152.3 498.0h0" stroke="#c88228" stroke-width="1.5" stroke-linecap="round"/>
<path d="M130.2 426.1h0M140.0 423.9h0M179.9 425.7h0M188.1 425.4h0M206.6 425.0h0M126.5 426.7h0M136.1 426.7h0M156.0 426.5h0M180.7 427.0h0M193.9 426.1h0M207.0 426.7h0M153.2 428.3h0M185.6 428.3h0M188.5 428.2h0M210.3 429.6h0M218.8 428.1h0M187.8 431.7h0M132.0 434.6h0M140.5 433.8h0M142.7 432.2h0M144.6 433.9h0M157.5 433.1h0M159.0 433.2h0M162.3 433.4h0M216.3 433.2h0M142.1 434.7h0M151.1 436.2h0M155.9 434.2h0M164.7 434.5h0M175.8 434.1h0M212.1 436.0h0M136.1 436.2h0M140.5 437.8h0M156.4 435.9h0M160.0 437.8h0M164.4 436.8h0M189.2 437.5h0M202.4 436.8h0M132.7 439.5h0M140.5 438.5h0M140.3 439.2h0M146.6 438.4h0M162.7 439.2h0M175.7 438.9h0M181.7 439.7h0M222.6 438.8h0M128.0 441.6h0M164.7 440.6h0M169.7 440.7h0M198.8 442.0h0M124.1 443.8h0M136.9 444.2h0M170.7 442.3h0M206.6 444.3h0M172.8 446.4h0M216.8 443.9h0M126.6 447.9h0M146.8 447.9h0M176.9 447.3h0M186.4 448.0h0M190.2 446.3h0M208.5 448.5h0M138.1 449.9h0M184.1 448.8h0M187.3 449.5h0M196.9 450.5h0M214.4 448.2h0M132.5 450.6h0M140.3 450.8h0M145.8 450.5h0M162.6 450.5h0M168.6 450.8h0M174.2 451.2h0M148.2 454.1h0M148.6 453.2h0M154.6 454.2h0M160.3 453.6h0M156.4 454.0h0M178.0 454.6h0M190.6 455.4h0M220.4 454.5h0M170.2 457.8h0M182.7 456.8h0M194.6 457.1h0M212.5 456.0h0M214.0 456.4h0M125.2 459.6h0M142.2 458.4h0M154.5 459.2h0M163.5 458.5h0M164.7 458.9h0M171.2 460.5h0M184.8 460.4h0M200.8 459.4h0M212.6 459.9h0M146.4 461.6h0M154.6 460.3h0M168.6 462.3h0M170.1 461.3h0M218.0 462.3h0M127.5 463.8h0M139.8 463.8h0M188.6 463.5h0M189.4 462.7h0M206.6 463.7h0M210.4 464.5h0M134.4 464.4h0M150.4 466.0h0M152.8 464.7h0M156.7 464.5h0M164.3 465.0h0M175.0 464.8h0M183.1 465.9h0M219.0 465.3h0M165.8 466.9h0M174.7 467.3h0M176.2 466.7h0M181.0 467.3h0M184.2 467.1h0M204.0 466.4h0M131.7 468.2h0M213.8 470.1h0M126.4 472.6h0M136.8 470.2h0M154.1 472.1h0M175.0 470.2h0M162.3 472.5h0M184.2 473.3h0M203.7 474.2h0M206.1 472.0h0M218.3 474.1h0M136.4 475.9h0M150.6 474.6h0M152.0 474.1h0M193.7 474.7h0M200.5 474.6h0M210.7 475.3h0M130.1 477.7h0M136.6 476.7h0M160.0 476.5h0M178.8 477.9h0M203.6 476.0h0M136.5 478.4h0M148.9 477.8h0M160.3 478.7h0M181.7 479.2h0M208.5 478.5h0M216.1 480.0h0M222.8 480.6h0M134.3 480.6h0M179.7 481.9h0M192.8 480.1h0M205.5 481.4h0M215.5 481.4h0M132.1 484.1h0M196.1 483.7h0M202.7 484.0h0M130.2 485.9h0M134.1 485.2h0M146.6 485.0h0M156.5 484.9h0M190.7 486.0h0M198.7 485.8h0M213.8 486.2h0M140.9 486.4h0M161.8 485.9h0M166.9 486.2h0M178.6 486.4h0M198.3 488.1h0M203.1 488.6h0M126.6 488.4h0M146.4 488.6h0M155.5 490.0h0M174.3 488.6h0M190.6 490.4h0M194.1 489.8h0M218.7 487.9h0M141.7 492.2h0M162.9 491.4h0M134.2 494.0h0M154.2 493.3h0M160.4 492.7h0M184.5 493.7h0M195.0 493.5h0M211.6 492.2h0M160.8 496.5h0M182.2 494.8h0M186.5 496.3h0M146.6 498.3h0M169.8 496.3h0M172.9 496.9h0M178.5 497.3h0M186.1 497.7h0" stroke="#e4a030" stroke-width="2.5" stroke-linecap="round"/>
<path d="M135.4 424.1h0M144.0 426.5h0M165.7 428.5h0M218.6 428.2h0M221.0 426.3h0M157.5 429.3h0M166.9 427.9h0M181.1 428.4h0M220.0 428.4h0M138.2 430.2h0M184.6 430.1h0M155.3 432.7h0M161.0 432.3h0M172.5 435.4h0M181.7 436.2h0M154.9 437.6h0M166.7 438.4h0M205.3 438.4h0M172.2 438.0h0M182.3 439.5h0M216.4 439.7h0M148.2 442.1h0M210.5 440.6h0M212.9 442.3h0M140.9 444.7h0M195.4 447.9h0M134.7 448.9h0M177.4 449.3h0M126.5 451.7h0M166.7 453.5h0M130.6 454.6h0M194.5 455.6h0M208.3 454.3h0M153.7 456.0h0M181.9 458.1h0M135.2 459.1h0M148.3 457.9h0M206.0 459.2h0M150.3 461.1h0M193.6 464.9h0M126.3 467.2h0M138.6 465.8h0M213.9 467.2h0M177.8 469.7h0M196.1 469.5h0M208.0 470.5h0M152.4 473.4h0M163.8 473.9h0M166.5 475.4h0M202.9 474.1h0M210.7 474.2h0M170.1 477.2h0M187.6 475.9h0M140.4 479.6h0M153.7 480.5h0M190.9 479.1h0M210.6 479.7h0M137.6 482.3h0M191.7 480.8h0M177.4 482.1h0M180.7 483.3h0M127.8 484.1h0M167.8 484.6h0M170.3 485.7h0M194.7 485.3h0M210.8 488.4h0M136.5 490.5h0M176.8 493.9h0M129.8 497.4h0M134.1 498.4h0M138.4 497.6h0" stroke="#d8d2c8" stroke-width="2.5" stroke-linecap="round"/>
<path d="M137.2 424.2h0M198.4 424.1h0M213.5 425.9h0M127.7 428.0h0M196.5 427.0h0M138.8 428.4h0M208.6 427.9h0M149.3 434.0h0M152.3 433.9h0M203.8 434.1h0M208.5 432.8h0M177.7 435.4h0M180.3 435.9h0M132.9 436.1h0M169.6 438.2h0M176.8 437.0h0M194.3 436.8h0M136.7 438.9h0M152.4 439.7h0M152.3 438.5h0M166.7 439.1h0M140.5 441.3h0M176.8 441.4h0M184.8 440.1h0M149.6 443.5h0M166.1 442.7h0M176.9 444.4h0M191.7 442.9h0M157.1 444.7h0M186.3 445.8h0M219.2 443.8h0M161.2 446.9h0M174.8 447.3h0M144.7 449.8h0M153.6 448.2h0M171.2 450.4h0M190.5 450.5h0M200.2 451.9h0M213.5 451.7h0M157.1 452.4h0M182.6 451.9h0M218.7 454.0h0M173.1 456.1h0M183.2 454.1h0M125.5 458.6h0M179.0 456.2h0M139.2 458.4h0M158.6 458.6h0M167.2 459.0h0M190.4 457.9h0M198.9 460.2h0M124.9 460.8h0M160.1 461.4h0M186.3 460.2h0M191.3 462.5h0M199.5 461.9h0M202.0 462.2h0M164.5 463.4h0M174.1 462.5h0M125.6 466.0h0M143.4 464.3h0M180.2 465.4h0M132.7 467.7h0M149.5 466.8h0M196.3 467.2h0M207.0 467.5h0M135.4 468.2h0M144.0 468.7h0M160.3 470.3h0M161.5 468.7h0M200.4 469.2h0M208.4 468.5h0M216.7 470.0h0M160.0 470.6h0M184.6 470.6h0M216.7 472.1h0M141.0 472.2h0M212.9 472.1h0M124.1 473.9h0M175.0 474.7h0M125.3 476.8h0M129.7 477.9h0M158.1 476.5h0M204.7 477.6h0M207.6 475.9h0M186.0 479.7h0M186.1 477.9h0M162.2 481.1h0M172.0 480.8h0M136.4 482.8h0M147.9 483.5h0M154.7 483.5h0M181.5 486.2h0M185.3 486.3h0M202.7 486.1h0M159.8 488.5h0M204.2 486.6h0M130.5 490.3h0M158.8 490.1h0M190.9 488.7h0M212.2 488.1h0M128.7 491.4h0M133.2 490.3h0M144.4 490.2h0M145.4 490.3h0M150.5 491.5h0M193.5 492.2h0M202.4 492.1h0M206.2 490.9h0M139.6 495.1h0M164.5 496.7h0M190.8 496.8h0" stroke="#f0c060" stroke-width="2.5" stroke-linecap="round"/>
<path d="M141.2 425.5h0M150.3 425.0h0M143.9 427.3h0M160.6 428.4h0M174.5 427.5h0M129.2 427.9h0M130.2 430.4h0M172.4 434.2h0M195.2 433.4h0M219.8 434.0h0M160.4 434.1h0M194.4 435.9h0M212.4 433.9h0M216.1 434.0h0M125.8 439.8h0M186.4 438.6h0M202.1 438.0h0M161.9 442.6h0M193.9 440.5h0M132.9 443.5h0M211.3 442.0h0M130.4 445.6h0M171.1 444.1h0M198.3 446.0h0M208.2 448.2h0M215.0 447.6h0M221.2 448.4h0M140.8 450.9h0M176.7 452.2h0M206.1 451.4h0M154.9 454.2h0M167.5 452.0h0M187.7 453.5h0M160.2 454.6h0M204.9 455.4h0M128.6 457.9h0M137.7 456.0h0M146.7 463.4h0M152.3 464.2h0M153.9 463.6h0M192.2 463.7h0M195.7 461.9h0M203.6 463.4h0M169.0 465.3h0M216.9 468.4h0M146.5 468.7h0M151.1 470.3h0M156.8 468.4h0M193.1 468.4h0M132.4 472.0h0M203.6 470.9h0M218.2 471.4h0M130.0 474.6h0M195.7 474.3h0M155.6 475.1h0M148.4 478.0h0M152.3 475.9h0M166.0 476.3h0M175.5 478.1h0M201.4 480.0h0M140.2 482.2h0M190.2 485.8h0M204.5 484.7h0M192.6 487.3h0M127.1 488.0h0M173.3 488.2h0M176.1 490.0h0M214.6 489.2h0M174.5 490.9h0M200.1 490.3h0M191.3 493.5h0M196.9 494.1h0M199.8 493.4h0M142.0 494.3h0M188.6 495.6h0M126.5 496.0h0" stroke="#c88228" stroke-width="2.0" stroke-linecap="round"/>
<path d="M145.0 425.7h0M144.7 428.2h0M183.8 428.2h0M146.6 432.5h0M190.4 431.3h0M219.7 432.2h0M211.5 432.4h0M195.8 435.9h0M147.4 436.2h0M135.8 442.2h0M163.1 442.9h0M180.8 446.5h0M204.0 448.2h0M216.3 454.4h0M156.6 457.4h0M220.8 458.3h0M189.4 462.6h0M216.6 463.0h0M186.3 466.1h0M208.6 464.5h0M156.2 468.6h0M164.5 468.9h0M167.5 471.4h0M169.0 471.0h0M183.3 471.3h0M200.1 469.8h0M146.8 474.0h0M176.6 474.2h0M189.8 475.5h0M185.9 476.1h0M200.3 476.7h0M165.6 478.2h0M160.9 480.1h0M146.1 483.9h0M199.2 484.9h0M206.8 486.6h0M144.9 486.4h0M156.1 490.2h0M190.3 491.7h0M184.3 492.7h0M177.1 495.0h0M184.5 496.0h0M214.2 494.8h0" stroke="#2c3670" stroke-width="1.5" stroke-linecap="round"/>
<path d="M147.0 425.2h0M172.5 424.6h0M204.3 430.9h0M125.3 432.7h0M128.8 432.2h0M182.0 432.9h0M144.8 435.1h0M204.3 436.5h0M128.9 438.0h0M154.2 438.1h0M178.6 439.8h0M156.7 441.2h0M158.9 440.0h0M200.8 440.4h0M124.8 446.0h0M127.0 449.0h0M147.5 448.4h0M206.1 448.7h0M148.8 451.7h0M197.5 454.5h0M208.9 453.6h0M218.4 453.7h0M162.3 457.2h0M187.0 458.5h0M194.6 458.8h0M142.4 463.1h0M200.1 462.2h0M159.9 467.0h0M187.2 471.2h0M222.6 473.7h0M137.1 475.2h0M170.5 476.6h0M170.6 474.4h0M172.2 477.1h0M198.1 477.7h0M146.4 479.5h0M180.3 481.9h0M144.5 484.2h0M130.1 494.6h0M170.3 494.4h0M221.0 494.4h0M207.3 496.6h0M214.1 496.5h0" stroke="#3a2414" stroke-width="2.0" stroke-linecap="round"/>
<path d="M151.1 426.0h0M153.9 423.9h0M154.1 425.1h0M177.9 425.8h0M195.5 425.5h0M204.9 426.4h0M136.6 428.3h0M177.1 427.5h0M211.2 426.7h0M164.7 428.0h0M175.9 429.5h0M192.5 428.2h0M198.3 428.2h0M200.4 428.6h0M205.5 428.0h0M126.3 432.3h0M135.7 432.6h0M136.9 430.8h0M168.9 431.8h0M198.7 432.4h0M206.2 430.4h0M210.6 430.7h0M141.7 434.3h0M164.8 432.9h0M196.9 433.7h0M209.7 433.4h0M128.2 435.5h0M135.4 436.2h0M170.8 434.9h0M185.2 435.9h0M142.1 435.9h0M150.8 436.9h0M160.1 437.5h0M185.2 437.4h0M203.1 438.3h0M214.3 436.8h0M220.7 435.9h0M190.8 440.6h0M198.8 439.4h0M211.1 438.6h0M212.0 439.7h0M214.8 440.2h0M124.1 442.6h0M128.6 442.0h0M134.6 440.1h0M152.8 441.7h0M155.1 442.0h0M162.2 440.8h0M178.5 440.0h0M202.3 441.0h0M214.3 440.1h0M130.6 442.4h0M150.7 443.5h0M157.8 442.7h0M199.5 443.2h0M200.2 443.2h0M124.5 445.1h0M153.2 446.5h0M165.6 446.6h0M216.9 444.7h0M152.6 448.2h0M173.7 446.1h0M199.1 447.1h0M218.3 446.6h0M222.6 447.0h0M124.8 448.0h0M130.0 449.7h0M166.6 448.4h0M190.5 448.5h0M200.3 448.8h0M132.7 450.5h0M180.6 451.7h0M184.7 450.0h0M196.0 451.7h0M210.8 450.3h0M217.5 450.7h0M134.4 453.1h0M174.7 453.1h0M145.5 455.3h0M166.5 455.6h0M170.6 455.4h0M180.5 455.1h0M203.6 456.2h0M222.7 454.1h0M130.3 456.8h0M140.6 458.1h0M144.4 457.4h0M151.1 456.7h0M166.4 457.5h0M132.0 459.6h0M134.1 458.1h0M142.2 460.4h0M186.2 458.4h0M188.5 458.7h0M140.1 462.1h0M193.4 462.0h0M196.4 461.5h0M214.9 461.8h0M158.5 462.0h0M132.9 465.4h0M159.2 464.6h0M161.9 464.0h0M172.2 465.9h0M180.2 465.1h0M188.2 465.7h0M205.4 465.4h0M142.0 467.2h0M144.3 466.9h0M154.1 467.1h0M172.4 467.3h0M178.7 466.8h0M183.7 466.1h0M211.7 466.1h0M216.3 466.6h0M134.7 469.5h0M137.6 469.5h0M140.3 469.0h0M145.9 468.1h0M167.6 469.1h0M180.1 468.8h0M182.5 468.5h0M134.5 471.4h0M140.4 470.3h0M146.7 471.4h0M150.7 471.9h0M190.4 470.1h0M204.4 470.8h0M166.3 473.7h0M183.9 472.5h0M204.9 472.7h0M126.2 475.4h0M148.8 476.3h0M181.0 474.0h0M186.1 474.3h0M140.5 476.3h0M150.0 478.5h0M162.0 477.4h0M174.2 476.6h0M181.7 477.3h0M191.9 476.9h0M214.6 476.5h0M218.6 478.2h0M134.8 480.2h0M152.3 481.2h0M158.9 481.7h0M152.4 482.3h0M156.2 482.9h0M169.2 484.3h0M200.2 482.7h0M209.7 482.8h0M220.6 483.2h0M129.6 484.2h0M141.1 484.6h0M220.4 485.7h0M138.4 488.6h0M140.4 486.6h0M150.2 486.9h0M152.2 487.2h0M193.0 488.3h0M212.0 486.5h0M209.8 489.0h0M220.1 490.1h0M213.5 492.6h0M156.5 492.7h0M188.1 493.1h0M193.9 494.0h0M201.4 494.3h0M216.9 493.6h0M154.2 495.1h0M160.5 494.9h0M196.7 495.0h0M212.1 495.8h0M214.5 494.9h0M220.6 494.9h0M156.8 497.1h0M160.6 498.5h0M164.3 497.7h0M182.2 496.3h0M208.5 496.1h0" stroke="#e4a030" stroke-width="2.0" stroke-linecap="round"/>
<path d="M158.7 425.1h0M160.5 425.9h0M209.1 428.5h0M160.4 428.7h0M198.5 428.0h0M156.1 431.8h0M192.5 430.0h0M194.5 430.0h0M142.5 439.9h0M154.0 442.1h0M182.9 448.6h0M179.9 452.4h0M206.4 454.2h0M153.2 455.2h0M210.2 454.0h0M168.5 462.2h0M193.7 462.5h0M127.9 468.0h0M168.6 466.4h0M205.8 467.8h0M153.6 467.9h0M153.5 473.7h0M165.4 472.4h0M128.6 475.9h0M167.4 477.3h0M194.1 479.8h0M136.5 486.5h0M140.8 485.8h0M153.6 486.8h0M210.2 491.6h0M130.3 494.1h0M172.5 495.8h0M194.7 494.8h0" stroke="#d8d2c8" stroke-width="1.5" stroke-linecap="round"/>
<path d="M165.7 426.6h0M180.7 425.0h0M190.2 426.3h0M184.9 426.8h0M189.0 426.8h0M202.7 427.1h0M171.3 430.3h0M208.2 428.5h0M214.5 429.0h0M172.5 431.4h0M168.5 433.0h0M185.0 431.9h0M202.0 432.9h0M208.7 435.9h0M131.1 436.2h0M140.8 436.9h0M216.1 438.4h0M145.4 438.3h0M149.1 439.3h0M167.2 439.9h0M176.9 438.6h0M194.9 439.6h0M138.6 443.2h0M147.9 444.1h0M160.2 444.4h0M176.4 442.6h0M210.0 443.4h0M132.1 444.2h0M191.1 445.5h0M192.2 446.1h0M170.2 448.0h0M193.0 446.9h0M148.2 450.5h0M130.7 450.7h0M170.4 451.7h0M188.4 451.2h0M215.8 452.3h0M134.5 455.0h0M174.0 456.4h0M197.5 455.9h0M126.9 459.1h0M152.7 459.0h0M175.1 458.2h0M180.3 457.8h0M205.3 457.9h0M133.7 460.2h0M210.4 462.1h0M136.4 464.5h0M149.3 464.2h0M148.7 465.0h0M157.4 464.9h0M178.1 465.7h0M195.2 465.1h0M209.5 465.8h0M217.0 466.0h0M163.3 468.2h0M202.3 467.5h0M130.0 471.2h0M145.6 470.2h0M158.6 471.8h0M162.6 471.5h0M178.5 470.8h0M140.4 473.1h0M210.7 473.2h0M218.4 472.5h0M138.1 474.2h0M138.2 478.0h0M183.0 477.3h0M194.5 477.9h0M135.0 479.3h0M168.6 480.6h0M143.9 482.5h0M165.6 482.5h0M143.1 484.5h0M125.3 484.3h0M162.1 484.4h0M125.1 486.7h0M175.8 486.2h0M176.5 486.5h0M171.6 489.9h0M210.5 491.1h0M220.4 490.0h0M150.2 494.0h0M213.2 492.3h0M220.2 492.2h0M125.7 495.4h0M134.6 495.5h0M152.5 494.9h0M156.0 497.2h0M186.6 496.9h0M198.3 497.7h0" stroke="#d8d2c8" stroke-width="2.0" stroke-linecap="round"/>
<path d="M166.9 426.0h0M210.7 425.1h0M132.1 428.1h0M140.5 426.7h0M150.6 427.2h0M127.7 428.3h0M188.3 434.4h0M173.5 438.1h0M192.3 436.4h0M142.6 442.4h0M193.9 444.2h0M222.7 443.3h0M185.4 445.9h0M213.3 447.9h0M154.7 449.9h0M174.6 449.3h0M194.5 450.4h0M154.6 452.3h0M142.7 453.9h0M195.0 453.6h0M168.7 457.9h0M172.7 458.2h0M200.2 456.5h0M202.4 458.0h0M144.3 461.3h0M157.7 460.5h0M174.7 462.5h0M215.5 463.8h0M128.3 469.0h0M138.2 470.1h0M164.0 469.9h0M221.9 468.0h0M181.9 469.9h0M126.1 474.3h0M198.3 473.0h0M140.5 474.2h0M156.4 474.2h0M136.2 477.8h0M173.1 478.3h0M197.8 480.9h0M208.0 481.8h0M186.8 484.4h0M211.1 485.5h0M201.0 487.0h0M210.6 487.5h0M188.1 490.2h0M128.1 494.2h0M161.6 491.8h0M204.2 495.6h0M221.9 497.5h0" stroke="#3a2414" stroke-width="2.5" stroke-linecap="round"/>
<path d="M169.5 425.1h0M186.5 426.0h0M203.2 424.3h0M216.7 425.4h0M220.8 426.4h0M146.2 427.2h0M178.9 430.6h0M196.7 430.3h0M137.3 433.7h0M176.7 432.4h0M191.5 434.2h0M184.6 436.9h0M128.3 438.1h0M206.6 440.2h0M160.9 444.3h0M166.1 442.6h0M187.3 441.8h0M168.8 445.9h0M184.1 443.9h0M131.2 447.8h0M202.2 447.6h0M210.4 448.2h0M129.3 449.7h0M162.8 449.2h0M206.6 449.6h0M191.2 451.9h0M197.0 451.9h0M136.4 452.2h0M190.1 452.7h0M152.2 455.9h0M200.5 454.3h0M217.5 456.6h0M137.2 458.7h0M154.5 459.7h0M157.4 460.1h0M178.3 460.0h0M220.3 459.6h0M144.2 462.3h0M154.3 463.2h0M173.7 463.7h0M218.2 463.0h0M188.1 466.3h0M135.5 466.9h0M192.8 467.6h0M195.8 467.4h0M125.2 470.1h0M176.0 469.7h0M198.0 468.6h0M200.6 471.7h0M130.7 472.4h0M136.5 472.7h0M156.1 472.6h0M156.0 473.2h0M168.8 474.3h0M166.4 476.2h0M214.1 474.1h0M127.7 476.6h0M145.3 477.6h0M161.4 479.1h0M144.6 480.5h0M217.5 482.5h0M129.2 483.7h0M182.5 483.3h0M208.3 481.9h0M218.9 484.5h0M158.6 485.9h0M182.5 486.6h0M218.8 486.7h0M142.4 487.9h0M152.0 490.0h0M158.4 490.4h0M181.5 490.8h0M207.0 491.0h0M218.7 491.4h0M142.2 492.1h0M145.2 493.2h0M170.9 493.4h0M220.2 492.5h0M157.2 496.5h0M178.5 494.2h0M196.1 496.6h0M148.5 496.3h0M153.7 497.4h0M192.8 496.1h0" stroke="#2c3670" stroke-width="2.0" stroke-linecap="round"/>
<path d="M184.6 426.5h0M138.5 426.3h0M203.0 427.8h0M136.5 427.9h0M152.1 430.1h0M162.6 429.7h0M165.9 430.6h0M146.0 430.2h0M126.3 436.6h0M149.8 434.4h0M154.7 435.4h0M160.9 435.2h0M148.9 436.5h0M158.4 438.3h0M163.6 439.3h0M170.6 438.2h0M198.1 440.3h0M168.0 441.8h0M182.4 440.3h0M128.1 443.1h0M134.5 445.7h0M158.3 444.1h0M213.2 444.5h0M138.1 450.2h0M140.2 452.1h0M170.7 452.9h0M175.1 456.6h0M180.0 454.7h0M186.0 455.5h0M210.4 456.3h0M185.5 457.6h0M219.0 458.6h0M144.3 460.1h0M162.0 461.0h0M146.6 462.3h0M162.4 464.5h0M184.4 464.1h0M198.7 464.3h0M202.1 464.1h0M141.0 466.4h0M152.6 464.8h0M162.3 466.2h0M168.5 466.0h0M201.6 465.7h0M129.6 468.4h0M198.6 467.4h0M219.7 468.0h0M170.4 470.2h0M204.5 468.4h0M156.7 471.4h0M142.0 474.8h0M176.3 476.3h0M182.5 480.3h0M194.6 480.1h0M203.7 478.2h0M149.2 482.4h0M177.8 481.0h0M201.7 479.8h0M210.7 481.4h0M138.5 482.8h0M166.3 483.3h0M174.1 483.6h0M152.5 486.1h0M215.5 485.9h0M130.6 486.2h0M130.6 488.1h0M188.1 488.1h0M205.7 489.5h0M168.3 491.7h0M152.8 493.9h0M188.9 492.9h0M166.6 495.3h0" stroke="#5a6aa8" stroke-width="2.0" stroke-linecap="round"/>
<path d="M191.1 424.1h0M197.1 424.5h0M216.9 425.2h0M129.1 426.9h0M163.2 427.3h0M187.3 426.3h0M149.1 429.7h0M154.3 429.2h0M130.1 432.1h0M130.1 432.2h0M153.2 433.8h0M170.4 432.9h0M220.5 434.4h0M131.9 435.4h0M134.3 434.6h0M167.5 436.2h0M192.7 435.9h0M212.1 436.3h0M134.4 441.1h0M149.9 439.9h0M170.6 443.9h0M176.8 444.9h0M205.5 444.5h0M205.7 446.4h0M176.1 449.9h0M135.8 451.8h0M212.0 451.8h0M127.8 451.9h0M144.7 451.8h0M184.6 453.9h0M188.1 453.2h0M126.1 456.2h0M142.3 454.0h0M185.5 454.0h0M194.4 455.3h0M146.2 455.9h0M188.8 458.5h0M160.0 460.1h0M198.1 458.5h0M210.4 458.6h0M217.2 460.6h0M129.1 461.7h0M154.4 461.2h0M176.1 460.7h0M220.7 460.9h0M166.2 462.9h0M169.4 462.0h0M213.4 462.7h0M140.1 466.6h0M199.3 464.4h0M208.2 468.2h0M195.7 471.0h0M210.2 472.6h0M218.3 472.3h0M202.6 473.2h0M160.7 476.0h0M182.8 475.8h0M185.4 474.0h0M144.1 477.8h0M210.4 478.3h0M125.2 480.6h0M147.0 479.4h0M150.0 478.2h0M155.3 478.2h0M169.3 480.5h0M218.9 480.6h0M148.4 480.0h0M189.8 482.2h0M200.0 480.6h0M214.1 480.3h0M218.1 482.3h0M150.5 483.2h0M164.7 483.4h0M167.3 483.0h0M173.9 482.9h0M222.5 483.9h0M130.1 485.9h0M132.7 488.3h0M162.3 486.5h0M164.7 488.4h0M126.8 492.4h0M150.8 491.6h0M195.4 490.6h0M204.7 492.1h0M150.7 492.1h0M164.3 493.4h0M173.6 493.7h0M144.4 494.0h0M164.6 494.3h0M209.9 494.4h0M147.3 496.6h0M190.7 497.9h0M195.8 498.3h0" stroke="#f0c060" stroke-width="2.0" stroke-linecap="round"/>
<path d="M201.8 426.4h0M212.1 426.1h0M176.4 428.4h0M213.4 431.6h0M146.3 434.0h0M182.5 436.1h0M186.6 437.6h0M132.4 440.1h0M209.7 441.9h0M154.1 444.2h0M180.7 443.6h0M156.7 445.7h0M175.8 445.0h0M198.8 444.7h0M206.7 446.2h0M210.8 445.6h0M204.7 451.9h0M205.4 451.8h0M133.4 457.9h0M178.2 457.6h0M192.0 458.4h0M206.2 460.8h0M210.1 462.8h0M152.6 466.7h0M178.1 474.1h0M158.9 474.9h0M195.4 476.1h0M127.0 482.7h0M160.2 484.6h0M189.8 483.6h0M200.6 484.5h0M133.5 486.6h0M186.9 487.4h0M140.2 489.0h0M150.8 488.1h0M154.5 488.8h0M170.7 488.5h0M135.9 489.9h0M159.9 490.7h0M164.6 492.9h0M205.0 494.2h0M203.2 496.6h0M218.1 496.5h0" stroke="#f0c060" stroke-width="1.5" stroke-linecap="round"/>
<path d="M210.0 424.3h0M147.1 427.0h0M191.8 426.9h0M216.3 426.9h0M126.2 428.5h0M163.6 431.6h0M177.0 432.6h0M186.0 431.4h0M193.7 429.9h0M202.3 431.4h0M216.7 432.3h0M147.6 433.9h0M174.4 433.2h0M199.3 431.9h0M168.4 435.5h0M221.9 434.4h0M166.6 437.8h0M205.7 441.6h0M180.1 444.4h0M183.5 442.1h0M137.5 444.9h0M139.0 448.3h0M168.5 448.1h0M180.6 447.9h0M136.2 448.3h0M169.6 448.3h0M149.9 451.6h0M172.3 450.1h0M131.2 454.3h0M141.6 453.4h0M150.2 453.3h0M214.6 454.1h0M137.0 453.9h0M160.3 455.5h0M150.7 456.5h0M195.9 458.1h0M130.1 460.6h0M220.4 459.0h0M142.8 461.9h0M180.4 463.1h0M221.9 464.6h0M126.8 465.7h0M130.5 466.1h0M190.6 466.4h0M210.1 465.2h0M212.9 465.8h0M190.7 466.4h0M126.1 470.5h0M130.8 470.0h0M142.7 471.4h0M165.9 470.4h0M148.9 474.1h0M174.2 472.6h0M174.6 475.4h0M212.7 475.4h0M160.0 476.0h0M215.3 475.9h0M164.6 479.9h0M176.9 478.8h0M222.6 480.5h0M184.0 484.4h0M185.4 484.3h0M187.3 483.3h0M212.3 482.6h0M158.1 486.5h0M170.2 484.8h0M175.8 484.0h0M190.2 487.4h0M194.2 488.3h0M139.9 488.4h0M184.3 490.0h0M184.8 490.5h0M175.7 495.7h0" stroke="#c88228" stroke-width="2.5" stroke-linecap="round"/>
<path d="M130.5 426.4h0M189.9 429.4h0M144.1 430.4h0M211.7 432.1h0M214.2 433.4h0M219.1 434.5h0M131.3 441.9h0M145.5 441.0h0M220.4 440.9h0M166.6 456.4h0M169.9 457.1h0M160.4 462.2h0M161.2 466.8h0M160.1 471.4h0M195.1 476.3h0M170.8 478.3h0M178.0 478.6h0M128.9 482.2h0M132.0 488.8h0M208.6 493.2h0M127.4 496.3h0M198.3 495.2h0M215.8 496.5h0" stroke="#e4a030" stroke-width="3.0" stroke-linecap="round"/>
<path d="M153.2 426.9h0M168.8 428.4h0M182.5 427.3h0M198.5 427.6h0M206.0 427.2h0M134.5 429.3h0M139.5 430.0h0M165.5 430.9h0M197.8 430.6h0M136.4 432.1h0M170.6 432.1h0M186.2 433.2h0M215.2 433.8h0M206.5 435.9h0M128.0 437.2h0M176.6 437.0h0M210.4 436.3h0M172.4 442.3h0M184.5 441.4h0M190.9 442.5h0M195.3 442.4h0M128.8 442.2h0M216.5 442.9h0M148.6 446.3h0M178.5 446.1h0M210.3 446.2h0M137.5 446.0h0M141.2 447.6h0M139.2 449.8h0M164.3 450.4h0M189.5 449.0h0M198.1 450.2h0M220.6 448.7h0M162.2 450.6h0M194.5 450.5h0M222.0 450.5h0M130.3 453.6h0M128.6 454.0h0M133.5 454.9h0M144.6 455.1h0M149.4 454.1h0M211.1 455.9h0M177.9 458.3h0M166.0 461.6h0M178.9 460.8h0M128.5 464.3h0M132.4 463.8h0M156.4 466.3h0M148.1 469.9h0M126.7 474.4h0M180.1 472.3h0M187.5 472.3h0M190.6 472.5h0M194.7 473.2h0M162.2 474.2h0M198.3 474.8h0M208.4 474.9h0M217.1 474.0h0M189.3 476.6h0M221.5 477.9h0M127.3 478.9h0M129.2 480.3h0M172.8 479.8h0M131.4 482.2h0M167.7 481.7h0M176.2 481.0h0M131.9 482.4h0M140.7 481.8h0M172.2 485.2h0M126.6 486.9h0M136.3 485.9h0M218.5 486.6h0M146.8 490.6h0M168.9 489.0h0M179.1 488.7h0M194.1 489.5h0M201.6 488.2h0M210.9 490.2h0M220.8 489.7h0M136.0 491.8h0M198.2 490.0h0M182.1 493.3h0M216.7 491.8h0M136.3 494.8h0M148.2 495.4h0M166.5 494.0h0M217.2 495.1h0M142.7 498.0h0M160.7 497.8h0M172.7 497.3h0" stroke="#2c3670" stroke-width="2.5" stroke-linecap="round"/>
<path d="M173.0 426.9h0M146.5 430.1h0M221.0 431.4h0M193.9 439.1h0M142.4 448.6h0M194.8 449.7h0" stroke="#3a2414" stroke-width="3.0" stroke-linecap="round"/>
<path d="M173.3 430.0h0M126.7 444.1h0M208.8 448.6h0" stroke="#5a6aa8" stroke-width="3.0" stroke-linecap="round"/>
<path d="M157.2 430.0h0M124.8 436.8h0M206.7 439.1h0M142.6 441.9h0M184.2 447.5h0M159.7 448.9h0M158.1 453.0h0M140.1 461.4h0M137.3 464.4h0M184.6 464.5h0M191.3 468.6h0M200.1 468.7h0M217.3 468.2h0M218.8 470.6h0M206.1 479.6h0M126.4 480.9h0M162.4 482.9h0M217.5 483.6h0M184.5 484.9h0M204.6 484.9h0M182.7 490.0h0M184.4 488.6h0M176.4 497.3h0" stroke="#3a2414" stroke-width="1.5" stroke-linecap="round"/>
<path d="M162.8 430.0h0M216.0 434.3h0M186.4 439.7h0M190.5 439.6h0M142.6 445.8h0M164.5 453.3h0M132.2 455.2h0M132.1 479.0h0M197.4 490.5h0" stroke="#d8d2c8" stroke-width="3.0" stroke-linecap="round"/>
<path d="M217.9 430.1h0M192.3 433.7h0M130.1 437.8h0M142.1 450.3h0M163.2 453.9h0M206.6 462.6h0M146.1 465.3h0M204.3 464.0h0M221.7 464.8h0M168.1 469.0h0M171.8 472.1h0M154.5 474.8h0M124.5 480.2h0M152.8 481.8h0M146.2 483.9h0M149.5 483.4h0M152.6 486.6h0M185.2 486.0h0M177.3 491.5h0" stroke="#5a6aa8" stroke-width="1.5" stroke-linecap="round"/>
<path d="M138.2 434.0h0M133.8 445.1h0M221.9 446.5h0M156.2 448.0h0M142.2 449.9h0M172.6 455.3h0M194.7 460.2h0M221.8 467.5h0M222.4 474.4h0M188.2 481.5h0" stroke="#c88228" stroke-width="3.0" stroke-linecap="round"/>
<path d="M211.7 453.2h0M159.4 462.1h0M157.4 481.9h0M191.8 490.1h0M177.4 494.1h0M178.1 492.5h0M143.1 494.4h0M202.5 494.5h0" stroke="#2c3670" stroke-width="3.0" stroke-linecap="round"/>
<path d="M172.1 463.3h0M209.5 468.5h0M214.3 483.4h0M160.3 485.4h0M199.2 488.0h0M185.4 491.8h0M150.3 494.9h0M201.9 496.5h0" stroke="#f0c060" stroke-width="3.0" stroke-linecap="round"/>
<ellipse cx="163.4" cy="448" rx="6.2" ry="5.6" fill="#fdfcfa" stroke="#8a7a70" stroke-width="0.4" stroke-opacity="0.5"/>
<ellipse cx="135.5" cy="458.6" rx="5" ry="5.2" fill="#fdfcfa" stroke="#8a7a70" stroke-width="0.4" stroke-opacity="0.5"/>
<ellipse cx="180.7" cy="457.6" rx="4.6" ry="4.4" fill="#fdfcfa" stroke="#8a7a70" stroke-width="0.4" stroke-opacity="0.5"/>
<ellipse cx="199.9" cy="434.5" rx="4" ry="4.4" fill="#fdfcfa" stroke="#8a7a70" stroke-width="0.4" stroke-opacity="0.5"/>
<ellipse cx="215.3" cy="441.3" rx="4" ry="4.8" fill="#fdfcfa" stroke="#8a7a70" stroke-width="0.4" stroke-opacity="0.5"/>
<ellipse cx="153.8" cy="474" rx="4" ry="3.6" fill="#fdfcfa" stroke="#8a7a70" stroke-width="0.4" stroke-opacity="0.5"/>
<ellipse cx="160" cy="467" rx="3" ry="2.6" fill="#fdfcfa" stroke="#8a7a70" stroke-width="0.4" stroke-opacity="0.5"/>
<ellipse cx="140" cy="440" rx="2.5" ry="2.5" fill="#fdfcfa" stroke="#8a7a70" stroke-width="0.4" stroke-opacity="0.5"/>
<rect x="192.20" y="475.90" width="28.80" height="21.60" fill="#e2e2e2" />
<path d="M206.9 482.6h0M212.2 479.2h0M204.1 478.5h0M205.9 494.8h0M200.8 493.3h0M212.7 481.5h0M220.6 493.0h0M219.8 477.8h0M195.3 480.8h0M200.3 480.7h0M204.9 480.1h0M215.7 491.2h0M195.0 484.7h0M217.0 493.1h0M212.6 494.0h0M202.2 479.9h0M216.2 487.6h0M203.8 495.8h0M197.4 479.5h0M200.1 492.4h0M209.8 487.7h0M207.2 491.3h0M207.2 490.6h0M219.5 489.2h0M206.1 488.1h0M206.8 479.2h0M218.5 491.3h0M192.6 491.6h0M213.9 494.1h0M200.0 479.6h0M200.8 489.0h0M196.0 492.7h0M215.9 496.2h0M214.0 478.3h0M193.9 495.9h0M218.1 492.4h0M219.5 495.0h0M215.0 482.4h0M219.4 488.0h0M195.9 490.8h0M202.5 491.2h0M217.2 485.7h0M194.9 478.3h0M218.0 490.4h0M205.6 481.0h0M212.3 488.1h0M199.9 489.1h0M203.6 481.2h0M215.3 486.3h0M218.8 479.8h0M218.7 489.7h0M214.0 477.2h0M192.5 486.7h0M209.4 494.3h0M198.8 494.5h0M202.2 495.9h0M197.3 496.4h0M198.4 492.4h0M208.1 494.7h0M216.2 479.9h0M217.1 485.4h0M200.8 492.5h0M206.2 491.8h0M217.4 490.4h0M202.6 495.6h0M211.6 493.4h0M192.5 479.6h0M204.4 479.5h0M197.0 487.5h0M207.6 481.0h0M211.8 480.4h0M207.8 486.9h0M218.0 479.8h0M194.4 478.3h0M198.9 497.0h0M193.0 477.5h0M201.4 480.7h0M206.5 482.8h0M200.5 491.5h0M199.3 479.8h0M203.8 485.0h0M219.5 482.6h0M208.8 494.6h0M194.9 489.5h0M216.3 486.6h0M194.5 481.8h0M193.0 495.0h0M208.4 487.0h0M219.1 480.4h0M217.4 493.1h0M194.3 496.2h0M202.2 495.0h0M196.8 494.5h0M211.9 496.1h0M199.9 490.7h0M207.1 489.4h0M202.4 477.7h0M205.0 477.1h0M216.1 483.7h0M214.6 484.1h0M214.6 495.7h0M214.5 496.3h0M197.9 489.5h0M196.4 496.1h0M208.2 489.6h0M194.7 487.8h0M209.6 478.9h0M204.1 495.3h0M199.6 493.0h0M213.1 489.0h0M197.0 478.5h0M200.4 477.5h0M199.1 493.5h0M220.1 478.9h0M200.5 485.4h0M205.6 494.9h0M199.9 489.1h0M220.3 480.2h0M208.1 477.1h0M194.0 481.1h0M207.0 479.9h0M207.8 494.4h0M199.5 484.2h0M205.6 482.2h0M193.6 489.2h0M201.9 484.1h0M213.7 482.4h0M202.5 481.9h0M213.5 482.7h0M216.7 476.1h0M200.8 497.3h0M205.5 483.9h0M204.7 483.4h0M213.0 494.0h0M208.9 483.9h0M208.7 479.1h0M218.6 487.1h0M193.4 479.6h0M209.0 493.0h0M207.2 484.2h0M192.6 483.3h0M196.3 486.3h0M210.6 494.6h0M216.2 485.1h0M210.0 492.5h0M197.3 495.4h0M202.4 493.4h0M207.5 494.8h0M207.5 483.3h0M199.5 491.3h0M193.6 489.2h0M213.5 483.7h0M192.4 489.9h0M201.6 477.5h0M200.8 484.9h0M207.1 492.0h0M207.6 483.4h0M212.6 479.5h0M209.9 490.0h0M199.4 490.5h0M219.9 488.4h0M201.6 489.2h0M192.5 485.9h0M211.2 481.2h0M207.3 492.3h0M205.9 480.3h0M202.9 483.1h0M215.9 485.4h0M218.5 480.8h0M193.6 479.6h0M215.9 487.9h0M195.3 476.1h0M211.8 489.4h0M215.3 488.5h0M214.0 478.5h0M218.1 490.6h0M194.3 487.1h0M199.9 489.1h0M216.1 483.0h0M215.3 485.2h0M214.9 484.8h0M213.0 480.6h0M199.1 489.3h0M198.7 478.9h0M208.2 484.0h0M202.5 485.9h0M204.1 480.9h0M211.2 490.7h0M208.4 487.6h0M202.1 491.1h0M211.1 489.1h0M208.4 486.2h0M219.8 489.1h0M210.7 476.1h0M216.1 482.5h0M194.4 479.6h0M195.5 488.2h0M206.3 490.7h0M208.4 483.3h0M195.1 482.0h0" stroke="#9a9ca4" stroke-width="0.9" stroke-linecap="round"/>
<path d="M197.4 487.0h0M209.8 489.7h0M216.3 479.4h0M204.2 481.3h0M203.2 478.7h0M206.2 481.5h0M193.2 479.8h0M198.0 486.2h0M198.9 486.7h0M210.9 478.2h0M210.2 480.1h0M198.0 489.8h0M202.8 491.6h0M199.8 490.8h0M195.7 482.6h0M200.9 489.7h0M215.7 484.9h0M200.1 477.9h0M203.2 492.3h0M195.4 496.3h0M216.1 479.1h0M200.4 487.5h0M194.8 483.0h0M203.5 485.8h0M200.9 493.3h0M196.6 493.1h0M209.9 489.5h0M215.0 488.1h0M194.6 479.9h0M209.9 480.8h0M193.3 478.5h0M204.7 487.9h0M207.5 484.0h0M199.4 495.0h0M199.5 479.2h0M195.4 484.1h0M216.7 482.7h0M198.5 482.5h0M210.0 490.8h0M218.0 479.1h0M217.3 476.8h0M220.9 486.6h0M193.2 496.0h0M209.7 496.6h0M203.4 490.9h0M206.5 478.4h0M202.9 491.0h0M204.2 491.5h0M203.0 486.4h0M199.7 491.9h0M196.6 483.7h0M199.8 478.8h0M216.5 495.9h0M207.6 484.2h0M209.5 494.6h0M195.0 485.5h0M201.7 478.5h0M216.5 490.6h0M207.3 480.6h0M216.9 490.5h0" stroke="#f8f8f8" stroke-width="1.2" stroke-linecap="round"/>
<rect x="192.2" y="475.9" width="28.80" height="21.60" fill="none" stroke="#6a6a6a" stroke-width="0.6"/>
<line x1="157.60" y1="494.30" x2="180.70" y2="494.30" stroke="#111" stroke-width="1.6" />
</g></g>
<rect x="125.4" y="425.2" width="95.6" height="72.3" fill="none" stroke="#8a8a8a" stroke-width="0.7"/>
<clipPath id="cpF2"><rect x="244.2" y="425.2" width="96.2" height="72.3"/></clipPath>
<g clip-path="url(#cpF2)"><g filter="url(#ihcb)">
<rect x="244.20" y="425.20" width="96.20" height="72.30" fill="#e4e9ee" />
<path d="M244.7 425.7h0M301.7 426.1h0M326.4 424.8h0M340.5 424.3h0M261.5 426.9h0M291.8 427.8h0M320.1 426.8h0M258.0 427.9h0M268.5 429.0h0M299.1 427.8h0M261.8 431.5h0M289.6 431.1h0M296.3 431.8h0M297.3 430.2h0M256.8 433.5h0M291.5 433.6h0M300.7 431.5h0M317.1 431.2h0M323.7 432.8h0M333.9 432.3h0M305.0 433.8h0M326.3 435.2h0M245.4 436.7h0M262.1 435.3h0M267.7 437.1h0M304.8 436.5h0M284.8 437.1h0M293.4 436.7h0M316.5 438.8h0M318.8 438.7h0M273.1 439.4h0M301.7 439.9h0M304.5 440.8h0M319.3 439.0h0M320.7 438.7h0M244.9 442.5h0M270.3 441.6h0M309.9 442.2h0M318.9 441.8h0M324.0 440.2h0M328.7 441.7h0M247.6 442.2h0M259.2 443.0h0M266.8 443.2h0M277.9 442.4h0M297.0 443.4h0M300.2 442.5h0M320.8 444.1h0M324.5 442.2h0M340.6 442.9h0M246.5 444.4h0M257.2 445.9h0M296.6 444.0h0M331.6 445.5h0M255.6 445.9h0M328.2 447.7h0M333.5 447.1h0M253.5 447.4h0M254.4 447.6h0M279.6 448.8h0M246.7 453.1h0M286.4 451.3h0M317.3 453.3h0M270.4 454.0h0M273.6 455.0h0M283.0 453.9h0M303.9 454.2h0M309.7 455.0h0M334.6 454.7h0M257.0 454.6h0M303.4 456.5h0M333.7 456.2h0M335.8 456.3h0M288.6 458.0h0M290.2 456.9h0M292.1 456.9h0M295.6 458.5h0M311.4 456.5h0M259.4 459.4h0M262.3 459.3h0M266.9 459.8h0M263.5 460.7h0M316.2 460.8h0M322.2 460.7h0M248.0 464.1h0M282.7 463.2h0M290.2 463.9h0M317.6 463.1h0M284.6 465.3h0M324.0 465.8h0M331.2 464.6h0M333.4 464.6h0M255.5 466.7h0M261.1 466.4h0M289.2 466.1h0M293.6 467.4h0M245.3 468.7h0M267.2 467.9h0M284.9 467.4h0M314.4 467.7h0M250.7 470.5h0M258.4 470.6h0M275.6 470.7h0M288.1 471.0h0M323.9 469.9h0M338.6 469.6h0M261.8 472.5h0M285.3 471.1h0M289.3 473.1h0M295.7 472.9h0M255.4 473.5h0M286.9 473.1h0M315.8 474.8h0M319.4 474.7h0M340.2 472.7h0M286.2 475.6h0M312.8 476.4h0M320.8 475.3h0M272.3 477.2h0M246.2 479.7h0M264.1 479.7h0M277.5 479.5h0M288.5 479.3h0M304.6 480.2h0M306.9 478.3h0M317.4 478.3h0M325.8 477.9h0M250.4 480.2h0M271.9 480.0h0M285.7 480.3h0M301.0 480.3h0M327.0 480.4h0M328.1 481.7h0M331.3 482.2h0M243.0 481.8h0M246.6 483.9h0M271.9 481.9h0M322.4 481.7h0M328.0 482.6h0M331.7 482.8h0M252.8 485.8h0M297.4 484.9h0M322.5 483.3h0M244.7 486.2h0M314.9 486.6h0M320.6 485.7h0M334.9 486.6h0M283.6 488.4h0M307.0 488.5h0M311.3 487.3h0M252.5 490.0h0M279.3 492.3h0M282.1 492.7h0M294.9 491.3h0M323.8 490.9h0M257.5 494.4h0M276.0 494.6h0M292.2 493.5h0M335.6 493.0h0M245.4 496.5h0M275.9 494.8h0M281.5 496.3h0M295.0 494.3h0M330.1 495.6h0M256.1 497.7h0M335.4 498.1h0M339.2 498.0h0" stroke="#c8d4e2" stroke-width="1.5" stroke-linecap="round"/>
<path d="M245.1 424.5h0M265.6 427.2h0M272.1 425.8h0M317.8 425.8h0M268.3 429.0h0M289.5 427.6h0M317.4 431.5h0M329.5 433.4h0M250.8 435.0h0M255.0 435.0h0M272.8 434.0h0M293.6 433.5h0M245.0 436.7h0M265.2 435.2h0M277.7 435.2h0M314.6 436.0h0M244.7 438.6h0M254.0 438.7h0M289.7 437.7h0M259.0 438.5h0M269.2 438.8h0M255.1 440.4h0M261.9 440.3h0M285.0 448.0h0M308.0 446.2h0M319.9 445.7h0M266.0 448.4h0M297.7 449.7h0M281.1 450.0h0M294.6 449.4h0M250.8 452.7h0M268.7 451.9h0M278.5 452.4h0M298.7 453.0h0M264.8 455.8h0M271.4 457.8h0M314.9 458.1h0M338.7 460.3h0M274.4 469.6h0M295.1 468.9h0M329.9 467.6h0M255.0 471.4h0M272.1 472.4h0M306.6 474.8h0M274.5 476.3h0M284.9 475.9h0M338.0 476.7h0M307.4 476.5h0M329.0 478.1h0M247.5 477.9h0M263.3 479.7h0M270.5 478.9h0M266.7 485.0h0M333.6 485.8h0M333.8 487.7h0M264.6 490.7h0M297.2 490.2h0M286.3 494.8h0M295.6 493.5h0M325.9 497.2h0" stroke="#b8a070" stroke-width="1.5" stroke-linecap="round"/>
<path d="M247.1 424.7h0M252.6 426.1h0M307.1 424.9h0M337.0 425.2h0M257.2 427.3h0M258.3 427.8h0M297.4 425.8h0M297.2 427.6h0M302.1 427.7h0M313.6 425.8h0M324.6 427.2h0M245.1 428.1h0M261.4 427.8h0M263.2 428.0h0M310.4 429.0h0M245.4 431.6h0M252.2 429.9h0M255.7 430.1h0M257.2 429.5h0M300.2 430.8h0M313.1 429.9h0M314.8 429.5h0M328.2 429.6h0M329.5 431.8h0M338.8 430.6h0M259.4 431.8h0M269.0 431.3h0M273.9 432.7h0M281.4 433.1h0M286.7 431.5h0M289.1 432.5h0M318.7 431.7h0M332.5 431.5h0M257.3 434.4h0M261.5 434.8h0M261.1 434.0h0M276.7 433.6h0M278.6 435.3h0M289.9 435.2h0M297.9 434.6h0M321.0 434.1h0M323.5 433.4h0M259.7 435.5h0M275.7 435.9h0M282.9 435.4h0M287.2 436.5h0M324.2 437.0h0M331.4 436.8h0M339.5 436.4h0M251.9 438.1h0M261.3 436.8h0M261.5 438.1h0M280.3 438.0h0M295.8 437.9h0M300.8 437.7h0M337.8 438.0h0M244.8 439.3h0M254.2 440.2h0M292.0 438.6h0M299.3 439.4h0M310.6 439.2h0M338.5 438.9h0M266.8 440.4h0M277.4 442.3h0M290.1 440.5h0M295.6 440.4h0M315.0 441.7h0M334.9 440.2h0M255.0 443.3h0M255.6 442.9h0M275.0 442.3h0M293.8 442.7h0M306.4 444.4h0M315.1 444.3h0M248.4 444.1h0M252.1 445.4h0M280.9 445.6h0M308.6 445.2h0M330.2 444.6h0M258.3 446.6h0M268.7 446.6h0M280.8 447.4h0M293.3 446.9h0M295.7 447.5h0M301.6 446.4h0M313.2 446.5h0M316.3 447.6h0M245.0 449.0h0M258.3 449.8h0M261.2 447.6h0M268.0 449.2h0M283.3 448.5h0M300.8 447.6h0M332.8 447.7h0M245.4 449.4h0M248.6 450.3h0M313.6 450.9h0M324.4 451.5h0M246.9 451.4h0M257.0 452.5h0M258.3 451.2h0M274.5 451.2h0M275.3 452.4h0M295.8 453.1h0M322.3 453.4h0M324.7 451.9h0M331.0 451.5h0M332.4 452.1h0M277.7 454.0h0M288.2 455.2h0M312.6 454.8h0M320.3 452.8h0M328.8 454.7h0M265.6 456.8h0M271.1 455.6h0M275.3 455.4h0M290.1 456.1h0M245.0 457.8h0M245.7 458.4h0M255.9 456.5h0M280.4 457.5h0M305.7 457.6h0M323.2 457.1h0M331.0 457.3h0M261.2 458.7h0M290.7 459.1h0M248.8 461.5h0M257.7 460.0h0M268.3 462.1h0M271.0 461.6h0M280.3 462.1h0M285.8 462.1h0M295.8 460.8h0M312.1 461.8h0M338.6 461.5h0M263.6 462.9h0M267.2 461.7h0M274.9 462.5h0M286.8 462.8h0M298.2 462.2h0M315.3 462.2h0M318.7 463.9h0M253.7 464.5h0M258.6 464.9h0M261.6 464.6h0M265.3 463.7h0M268.1 465.3h0M277.1 465.0h0M319.6 463.8h0M247.3 466.4h0M282.7 467.7h0M286.4 466.7h0M297.9 466.8h0M324.5 465.9h0M245.2 469.4h0M262.6 468.4h0M273.1 467.8h0M281.4 469.1h0M289.8 467.6h0M305.5 469.6h0M306.7 469.5h0M313.0 468.5h0M318.8 467.6h0M261.2 469.0h0M263.7 470.9h0M301.0 470.2h0M310.2 470.3h0M320.2 470.1h0M325.8 470.8h0M331.3 471.1h0M264.7 471.3h0M290.5 472.4h0M295.6 470.9h0M310.4 472.7h0M328.8 470.9h0M247.4 473.4h0M259.0 474.8h0M261.9 473.0h0M280.2 474.8h0M291.3 474.4h0M243.3 474.3h0M309.7 474.7h0M316.8 475.3h0M324.5 475.7h0M245.2 477.5h0M258.3 477.2h0M266.8 477.3h0M281.4 476.3h0M283.3 476.5h0M285.3 477.6h0M333.4 476.7h0M335.0 477.4h0M258.0 479.5h0M258.6 479.6h0M298.7 479.9h0M314.8 478.1h0M320.4 479.6h0M243.4 481.0h0M257.9 480.9h0M273.7 480.9h0M287.6 481.1h0M305.6 481.4h0M315.0 480.4h0M250.7 482.2h0M256.0 482.5h0M265.0 481.8h0M281.1 481.8h0M294.9 483.7h0M305.5 484.0h0M310.1 482.9h0M283.7 484.4h0M313.1 484.5h0M320.6 483.4h0M255.4 487.3h0M274.3 485.3h0M283.8 485.4h0M304.8 486.6h0M312.1 487.0h0M317.0 486.2h0M322.2 487.0h0M325.8 487.4h0M246.8 489.3h0M275.0 487.9h0M284.4 488.1h0M294.5 488.9h0M317.2 489.5h0M337.8 487.0h0M243.9 488.9h0M253.9 490.6h0M279.0 491.2h0M328.9 489.9h0M335.5 489.7h0M339.5 490.0h0M273.7 492.6h0M297.6 491.7h0M298.3 492.8h0M330.0 491.5h0M284.0 492.6h0M291.6 493.7h0M295.0 494.1h0M306.3 493.6h0M322.2 494.7h0M332.7 494.8h0M245.1 494.2h0M262.6 496.1h0M296.2 495.1h0M306.4 494.3h0M332.5 495.9h0M338.0 496.2h0M252.4 497.1h0M266.5 497.3h0M295.5 496.8h0M299.2 498.4h0M301.8 497.7h0M306.4 497.9h0M337.7 496.6h0" stroke="#7a98c0" stroke-width="2.0" stroke-linecap="round"/>
<path d="M248.4 424.6h0M259.7 425.3h0M272.2 426.0h0M290.2 425.8h0M297.3 426.1h0M302.7 426.0h0M304.5 424.0h0M332.1 425.1h0M335.0 424.4h0M244.2 428.1h0M250.6 427.6h0M282.1 428.0h0M327.6 427.8h0M334.2 427.3h0M249.9 428.2h0M250.4 428.7h0M271.0 428.0h0M295.2 428.1h0M301.0 428.8h0M315.2 429.4h0M318.0 428.9h0M332.2 428.0h0M250.9 430.0h0M264.1 430.1h0M320.4 430.1h0M336.3 429.8h0M338.8 429.9h0M245.4 432.8h0M252.9 433.6h0M271.4 431.2h0M273.5 431.7h0M281.3 432.4h0M293.5 432.4h0M329.4 431.7h0M245.3 433.7h0M250.2 433.8h0M252.8 433.0h0M269.4 434.6h0M285.0 434.2h0M311.4 434.6h0M317.7 434.0h0M330.5 435.1h0M334.4 434.2h0M337.2 434.2h0M253.9 435.0h0M269.2 436.7h0M271.5 435.7h0M279.2 436.1h0M290.0 436.6h0M293.8 437.0h0M296.3 435.5h0M298.2 435.1h0M308.2 435.8h0M308.4 436.8h0M337.0 435.9h0M270.4 438.0h0M272.1 439.0h0M285.8 438.3h0M308.5 437.8h0M327.7 438.9h0M336.5 436.6h0M255.6 438.9h0M261.1 438.4h0M277.3 439.0h0M248.1 441.5h0M280.0 440.5h0M293.5 441.9h0M318.9 440.7h0M327.5 441.0h0M331.6 440.4h0M337.0 442.6h0M243.3 444.4h0M263.1 443.9h0M270.9 444.1h0M272.6 442.1h0M282.3 443.1h0M289.1 443.7h0M315.3 443.5h0M329.9 442.8h0M335.0 443.3h0M249.0 445.5h0M259.3 445.2h0M260.6 445.3h0M268.7 445.6h0M270.8 444.2h0M272.9 445.1h0M279.7 444.1h0M299.1 446.2h0M333.4 444.4h0M338.7 444.2h0M249.7 447.6h0M259.6 446.1h0M273.9 447.7h0M275.8 446.9h0M282.0 446.5h0M286.4 445.8h0M328.5 446.9h0M334.1 446.7h0M270.2 447.6h0M277.7 449.8h0M288.9 448.3h0M290.2 448.8h0M322.4 448.3h0M279.0 449.4h0M288.5 450.0h0M293.0 450.6h0M305.2 450.8h0M308.1 449.2h0M331.8 451.2h0M260.4 453.4h0M271.6 453.2h0M337.9 453.3h0M259.2 455.0h0M261.6 453.2h0M266.6 454.5h0M301.3 454.5h0M306.6 454.3h0M317.0 453.0h0M247.0 454.6h0M251.6 456.7h0M253.4 455.2h0M326.4 454.6h0M248.2 457.7h0M273.7 458.1h0M276.1 456.8h0M300.9 456.9h0M306.8 456.9h0M314.1 456.9h0M335.4 458.6h0M293.7 458.2h0M312.6 458.3h0M331.0 460.2h0M245.8 460.5h0M248.8 460.2h0M303.9 461.6h0M326.2 461.2h0M331.8 460.6h0M284.0 463.9h0M297.4 462.9h0M307.1 463.6h0M313.9 463.8h0M324.1 463.4h0M256.1 465.1h0M264.7 465.8h0M269.0 466.0h0M275.5 464.7h0M300.1 464.5h0M331.9 466.0h0M287.6 467.6h0M293.7 467.8h0M302.4 465.4h0M302.5 467.8h0M311.8 465.8h0M314.2 467.0h0M332.8 467.5h0M336.5 466.9h0M247.8 468.2h0M253.1 468.5h0M259.3 467.4h0M279.5 469.2h0M280.7 469.1h0M317.3 468.9h0M319.6 468.8h0M321.3 468.9h0M246.5 471.1h0M249.4 470.6h0M284.3 471.2h0M247.6 470.9h0M273.6 472.3h0M297.0 471.5h0M302.7 472.6h0M316.9 472.0h0M327.2 471.7h0M331.8 471.3h0M333.8 472.1h0M336.8 473.0h0M339.0 471.8h0M255.6 472.8h0M278.8 474.0h0M293.1 472.6h0M309.8 474.2h0M313.2 474.6h0M247.0 474.7h0M250.8 475.9h0M252.0 475.3h0M254.6 476.0h0M261.1 476.9h0M267.2 475.1h0M303.4 475.0h0M329.1 474.3h0M334.7 475.2h0M256.8 477.9h0M270.3 476.7h0M277.5 476.4h0M297.6 476.7h0M303.2 477.1h0M318.9 476.6h0M320.7 477.8h0M328.0 477.5h0M323.4 479.2h0M338.7 479.8h0M269.8 481.2h0M275.2 481.5h0M288.8 480.6h0M311.3 482.2h0M283.8 481.6h0M291.0 482.9h0M309.7 481.8h0M319.5 483.7h0M334.3 481.6h0M263.5 484.2h0M290.9 483.5h0M257.9 485.9h0M262.8 486.3h0M269.8 486.9h0M282.8 486.4h0M288.4 486.2h0M293.5 485.6h0M298.1 486.6h0M317.4 487.3h0M263.8 487.2h0M270.4 489.0h0M288.1 488.9h0M298.3 488.0h0M308.7 489.3h0M312.8 488.1h0M333.5 488.1h0M250.7 488.8h0M254.6 490.5h0M276.7 491.0h0M280.7 490.6h0M284.6 490.5h0M309.9 489.1h0M245.4 492.7h0M271.9 492.8h0M283.7 492.4h0M304.7 490.6h0M250.2 494.0h0M263.1 494.2h0M289.8 493.0h0M299.1 494.0h0M318.5 492.7h0M248.4 494.6h0M252.9 495.9h0M256.2 496.1h0M264.9 494.5h0M286.8 494.8h0M288.0 495.3h0M326.2 496.4h0M243.6 498.4h0M249.1 496.4h0M263.2 496.8h0M270.5 496.9h0M273.8 498.4h0M279.1 497.7h0M286.8 497.0h0M324.2 496.7h0M329.6 498.4h0" stroke="#4a6a9a" stroke-width="2.0" stroke-linecap="round"/>
<path d="M252.2 426.0h0M318.6 424.2h0M254.0 427.5h0M254.4 426.1h0M309.6 427.6h0M248.0 427.7h0M284.6 430.9h0M312.6 433.0h0M314.7 433.4h0M264.0 433.9h0M316.9 433.8h0M294.3 438.4h0M310.5 437.1h0M280.9 438.4h0M306.2 440.4h0M328.0 440.2h0M331.5 440.7h0M308.4 443.8h0M317.9 444.3h0M336.6 443.1h0M267.0 444.3h0M247.8 446.1h0M292.3 448.9h0M334.0 449.6h0M259.8 449.5h0M265.3 450.4h0M300.9 451.4h0M327.5 452.0h0M248.3 454.1h0M250.4 457.0h0M299.1 456.1h0M307.9 454.8h0M262.9 458.5h0M303.1 458.5h0M248.7 459.9h0M297.2 458.6h0M265.1 460.1h0M252.4 462.7h0M323.5 462.0h0M245.7 466.8h0M254.7 467.5h0M339.4 469.0h0M245.0 473.1h0M301.6 470.8h0M266.5 472.8h0M317.5 472.6h0M324.0 473.6h0M244.6 478.3h0M262.5 477.2h0M311.6 476.4h0M338.8 476.2h0M308.8 480.0h0M311.0 478.1h0M247.9 480.8h0M261.3 480.3h0M306.1 481.3h0M313.8 480.3h0M246.7 485.4h0M258.3 484.6h0M268.5 484.7h0M333.6 487.0h0M336.7 486.6h0M313.6 489.3h0M286.5 490.9h0M332.6 489.3h0M286.8 491.8h0M306.0 492.4h0M271.5 494.1h0M286.2 494.4h0M320.2 492.7h0M290.5 495.3h0M310.1 495.7h0M286.4 496.1h0" stroke="#b8a070" stroke-width="2.0" stroke-linecap="round"/>
<path d="M254.8 424.9h0M261.9 424.3h0M280.3 424.0h0M284.0 424.1h0M290.4 425.4h0M324.6 425.9h0M263.2 427.5h0M286.4 427.5h0M288.5 426.6h0M293.7 425.7h0M305.2 426.5h0M336.6 425.9h0M252.6 429.4h0M305.2 428.5h0M306.7 429.3h0M319.7 428.6h0M322.5 430.0h0M328.7 428.4h0M339.3 429.5h0M248.7 431.2h0M273.7 431.6h0M275.2 430.2h0M278.7 430.9h0M293.0 430.2h0M294.2 430.5h0M322.0 431.5h0M331.8 429.4h0M325.7 431.5h0M281.3 434.4h0M304.1 435.4h0M337.2 434.9h0M249.1 435.8h0M273.8 437.1h0M284.6 436.5h0M327.2 436.8h0M338.3 435.4h0M274.3 437.2h0M314.3 437.6h0M326.1 438.6h0M246.7 438.9h0M247.7 439.2h0M274.2 440.6h0M286.6 440.5h0M290.2 438.6h0M318.0 439.2h0M325.3 440.7h0M276.0 442.5h0M284.1 442.3h0M299.7 441.4h0M335.8 440.5h0M250.5 444.2h0M268.5 443.5h0M302.9 444.2h0M308.2 444.4h0M313.7 442.3h0M255.1 444.2h0M262.9 444.5h0M315.9 445.1h0M327.4 446.0h0M276.7 446.3h0M318.1 447.4h0M330.1 447.4h0M261.3 449.1h0M272.8 448.3h0M313.2 449.2h0M250.3 449.7h0M270.1 449.3h0M285.2 451.3h0M306.8 450.9h0M317.3 450.6h0M245.4 453.4h0M264.3 451.1h0M295.8 452.3h0M340.7 452.3h0M274.1 453.9h0M285.1 453.2h0M306.6 454.4h0M324.0 453.8h0M331.1 453.7h0M285.3 456.0h0M311.6 454.9h0M329.8 456.2h0M260.6 458.1h0M265.3 457.9h0M268.5 458.6h0M294.1 458.5h0M318.7 457.8h0M338.5 457.5h0M284.2 460.2h0M291.6 458.6h0M295.6 458.2h0M308.4 459.0h0M324.0 458.5h0M336.6 459.9h0M274.5 462.3h0M278.1 461.9h0M292.3 460.6h0M278.3 463.0h0M286.6 463.1h0M294.8 462.3h0M322.7 462.6h0M331.3 463.4h0M291.4 464.1h0M326.3 463.8h0M336.0 464.9h0M255.7 466.6h0M262.4 467.4h0M268.8 465.5h0M272.6 466.1h0M274.5 467.6h0M279.4 465.8h0M296.8 465.5h0M316.8 466.1h0M247.9 470.9h0M266.4 469.1h0M268.3 471.0h0M270.8 470.6h0M297.5 470.5h0M243.4 472.1h0M263.4 470.8h0M279.6 472.1h0M284.3 472.4h0M315.1 471.7h0M337.6 472.8h0M268.9 474.5h0M272.1 475.1h0M304.7 473.0h0M331.3 473.7h0M247.6 475.9h0M262.7 475.1h0M278.9 474.5h0M289.9 475.0h0M292.6 476.8h0M301.0 474.9h0M306.3 476.7h0M330.7 474.9h0M255.0 478.4h0M261.6 477.6h0M291.6 478.0h0M293.8 477.2h0M314.2 476.9h0M332.6 477.5h0M243.1 478.8h0M272.3 478.8h0M280.6 478.1h0M286.4 479.4h0M336.5 480.2h0M246.9 480.9h0M250.6 482.0h0M260.0 481.4h0M292.5 481.4h0M295.6 481.1h0M257.0 482.9h0M270.3 483.6h0M273.7 483.0h0M288.8 483.9h0M296.4 482.1h0M245.2 484.9h0M285.8 485.8h0M286.9 483.4h0M304.9 485.5h0M315.9 484.3h0M249.5 485.9h0M271.2 485.6h0M291.4 487.2h0M305.6 487.2h0M339.2 487.5h0M251.4 488.2h0M291.8 487.3h0M302.6 487.1h0M259.7 490.9h0M262.1 488.9h0M302.8 490.6h0M249.4 491.9h0M254.2 492.1h0M315.6 492.4h0M333.5 492.1h0M335.1 492.1h0M335.6 491.4h0M340.3 491.5h0M256.0 492.5h0M256.2 494.8h0M268.7 494.3h0M311.8 494.2h0M338.9 492.5h0M259.8 495.6h0M269.5 494.2h0M277.2 495.2h0M301.6 495.8h0M306.6 494.9h0M320.0 496.1h0M334.1 494.4h0M276.5 496.2h0M278.0 497.5h0" stroke="#7a98c0" stroke-width="1.5" stroke-linecap="round"/>
<path d="M257.6 426.0h0M273.5 424.3h0M309.6 425.6h0M312.8 425.5h0M313.5 425.3h0M321.4 425.5h0M329.7 425.0h0M330.0 425.1h0M315.1 426.8h0M325.2 425.9h0M326.0 426.8h0M331.8 426.1h0M266.4 428.4h0M271.9 428.3h0M277.6 428.4h0M286.7 428.4h0M309.9 428.4h0M313.7 429.8h0M250.5 430.9h0M266.6 431.6h0M270.2 430.3h0M284.9 430.9h0M308.8 430.0h0M317.5 429.7h0M248.6 432.5h0M290.1 431.8h0M305.3 432.1h0M266.0 434.1h0M288.6 433.1h0M333.4 434.2h0M260.0 436.7h0M292.1 436.1h0M324.4 435.7h0M277.8 437.8h0M249.3 439.0h0M268.2 440.5h0M271.7 439.9h0M305.9 440.4h0M317.4 439.6h0M328.3 440.6h0M253.1 441.9h0M272.6 440.3h0M297.9 442.9h0M322.8 443.1h0M323.3 443.1h0M269.0 445.7h0M288.6 445.1h0M313.8 445.3h0M335.1 444.9h0M286.3 445.9h0M320.5 445.7h0M338.8 447.1h0M252.3 449.0h0M284.6 449.2h0M306.6 448.2h0M315.0 447.8h0M280.5 449.3h0M291.1 450.0h0M300.9 449.3h0M302.6 449.6h0M311.5 451.5h0M320.1 451.6h0M322.8 450.7h0M261.7 451.0h0M266.7 452.6h0M304.5 451.7h0M308.2 452.5h0M312.8 451.5h0M315.5 451.9h0M293.6 453.2h0M294.2 453.5h0M297.8 454.7h0M326.8 453.3h0M337.1 454.3h0M268.4 456.4h0M268.4 454.6h0M301.1 456.7h0M323.6 456.6h0M340.6 456.9h0M257.5 458.5h0M268.6 456.4h0M272.5 456.4h0M286.7 457.1h0M309.7 457.3h0M252.2 458.6h0M254.4 459.1h0M280.3 458.5h0M332.9 458.2h0M243.3 462.2h0M268.8 462.1h0M277.4 459.9h0M301.7 460.8h0M309.7 460.9h0M335.1 461.8h0M243.1 462.5h0M257.0 462.6h0M275.5 463.6h0M299.1 463.6h0M335.4 463.3h0M277.8 463.7h0M337.3 464.9h0M339.2 464.9h0M259.7 465.9h0M266.5 465.9h0M277.7 467.6h0M290.7 466.5h0M306.1 465.7h0M316.5 466.1h0M324.0 466.1h0M286.6 467.5h0M299.3 468.3h0M308.9 467.8h0M268.7 471.1h0M277.8 469.8h0M280.2 471.1h0M302.5 471.2h0M315.4 471.2h0M255.2 471.2h0M277.3 472.8h0M281.4 471.8h0M313.8 472.6h0M320.7 471.8h0M324.4 472.0h0M275.5 473.3h0M277.5 472.8h0M297.1 475.0h0M301.6 474.6h0M307.0 473.4h0M333.9 474.2h0M268.2 475.8h0M290.9 474.6h0M303.0 476.7h0M314.3 476.0h0M315.5 474.5h0M323.5 477.2h0M330.0 477.9h0M271.3 478.4h0M284.0 478.3h0M338.7 478.2h0M256.4 479.8h0M265.1 480.4h0M277.8 480.3h0M302.2 480.0h0M326.1 481.4h0M253.5 483.9h0M298.6 482.5h0M301.9 482.3h0M314.4 483.5h0M331.4 483.0h0M335.9 482.6h0M250.8 484.8h0M257.5 483.4h0M260.4 483.9h0M265.3 484.1h0M273.1 485.7h0M281.5 484.4h0M293.1 484.4h0M325.4 485.0h0M326.4 483.3h0M245.6 485.6h0M248.4 485.7h0M255.5 486.2h0M277.5 485.3h0M295.3 485.9h0M250.2 487.5h0M277.6 487.0h0M297.5 488.6h0M323.6 489.3h0M328.5 488.6h0M340.0 488.1h0M272.3 490.5h0M273.4 490.3h0M294.7 489.2h0M297.2 490.2h0M313.9 491.2h0M318.4 489.0h0M327.6 488.9h0M244.8 492.8h0M261.9 492.3h0M266.5 491.0h0M266.7 490.7h0M305.1 491.2h0M244.2 493.7h0M268.1 492.5h0M281.5 494.7h0M335.1 494.4h0M249.6 495.3h0M258.0 494.2h0M263.7 494.6h0M298.7 496.3h0M304.8 494.5h0M311.5 495.1h0M257.5 497.2h0M261.2 496.1h0M292.7 496.3h0M303.0 497.0h0M311.3 497.5h0M333.6 497.2h0" stroke="#c8d4e2" stroke-width="2.0" stroke-linecap="round"/>
<path d="M259.2 424.3h0M255.1 429.6h0M274.6 427.7h0M268.9 431.2h0M310.4 431.5h0M335.0 433.2h0M257.5 435.1h0M284.7 435.3h0M297.1 434.0h0M327.9 433.9h0M306.5 435.2h0M309.6 437.0h0M318.3 436.6h0M319.0 437.2h0M333.8 436.6h0M320.9 436.8h0M260.9 438.7h0M263.5 439.0h0M308.4 439.2h0M333.0 439.1h0M337.1 439.1h0M340.4 440.8h0M248.6 440.3h0M304.2 441.0h0M292.0 442.9h0M310.4 443.3h0M251.3 445.8h0M300.9 446.2h0M321.6 445.5h0M339.0 445.4h0M245.0 446.9h0M308.3 446.1h0M295.7 447.9h0M330.1 448.7h0M339.9 448.6h0M276.5 450.4h0M332.0 451.2h0M337.8 450.3h0M280.7 451.7h0M289.2 451.5h0M316.9 454.8h0M292.1 455.6h0M321.0 455.0h0M291.4 457.0h0M279.2 460.2h0M302.3 460.5h0M324.1 458.5h0M254.1 460.4h0M313.9 460.9h0M339.3 461.8h0M261.3 464.1h0M273.2 463.2h0M301.2 464.0h0M326.2 464.1h0M251.4 464.2h0M288.6 464.3h0M313.2 464.3h0M253.0 466.8h0M309.0 465.4h0M310.3 467.3h0M333.3 467.6h0M335.1 468.0h0M297.8 471.0h0M312.7 471.0h0M334.0 471.0h0M337.1 471.2h0M268.0 471.2h0M292.7 473.2h0M272.2 473.2h0M295.4 476.4h0M279.9 476.9h0M301.1 476.1h0M255.4 480.1h0M266.7 480.0h0M273.7 480.3h0M285.5 479.9h0M280.6 482.1h0M282.9 481.8h0M261.2 482.9h0M300.3 484.3h0M329.5 484.3h0M332.6 485.7h0M261.5 486.5h0M295.5 485.6h0M337.0 486.2h0M287.3 489.0h0M286.9 491.0h0M334.5 490.7h0M338.0 492.8h0M274.1 494.6h0M252.1 494.5h0M273.9 496.5h0M245.9 496.0h0M282.3 497.8h0M312.4 496.8h0" stroke="#8a7050" stroke-width="1.5" stroke-linecap="round"/>
<path d="M263.2 424.9h0M277.4 424.5h0M295.3 425.5h0M247.4 426.3h0M303.9 426.7h0M276.9 429.2h0M299.6 428.0h0M329.8 428.1h0M248.5 431.8h0M283.1 433.0h0M273.8 435.4h0M308.2 432.9h0M254.1 435.8h0M330.6 435.3h0M254.1 439.0h0M340.4 436.6h0M300.8 439.8h0M259.0 442.6h0M306.5 441.3h0M264.9 442.0h0M285.2 443.6h0M283.2 444.2h0M310.9 445.1h0M252.4 446.1h0M261.3 446.4h0M277.3 446.5h0M288.1 449.5h0M308.3 448.7h0M317.6 449.3h0M259.0 450.1h0M267.1 450.9h0M319.1 451.1h0M303.6 453.0h0M283.3 453.0h0M292.1 454.4h0M299.7 455.2h0M276.8 456.5h0M293.9 457.0h0M306.4 454.6h0M309.6 454.8h0M317.8 456.7h0M282.8 456.9h0M282.7 457.0h0M326.1 457.4h0M248.6 460.3h0M256.6 460.6h0M267.6 458.3h0M254.0 462.0h0M291.6 460.4h0M298.3 460.7h0M306.4 460.8h0M318.4 460.9h0M253.5 462.1h0M261.2 462.3h0M279.8 461.9h0M305.0 462.2h0M334.4 463.4h0M245.4 465.0h0M320.8 464.4h0M259.0 467.9h0M274.1 469.2h0M285.6 471.3h0M287.7 470.8h0M308.3 469.5h0M314.4 469.5h0M331.7 469.4h0M286.5 471.8h0M330.1 472.0h0M337.9 474.4h0M281.3 474.9h0M288.5 478.4h0M252.2 480.3h0M265.0 480.9h0M261.2 482.8h0M300.0 483.3h0M274.4 484.0h0M296.5 485.1h0M337.2 485.5h0M263.5 485.6h0M279.2 486.4h0M288.1 487.6h0M329.5 486.8h0M255.8 487.3h0M268.0 488.5h0M247.8 490.6h0M257.5 490.5h0M300.6 490.7h0M317.1 491.1h0M317.3 490.7h0M265.6 492.5h0M329.5 493.1h0M273.2 495.7h0M323.1 495.4h0M256.2 497.9h0M308.3 498.2h0M314.9 498.0h0" stroke="#2a3a60" stroke-width="2.0" stroke-linecap="round"/>
<path d="M268.2 426.3h0M292.1 424.8h0M299.5 424.9h0M317.4 424.7h0M245.4 427.1h0M270.2 426.1h0M295.9 429.0h0M326.5 429.0h0M337.9 428.6h0M311.5 431.6h0M244.1 431.4h0M288.2 431.4h0M321.2 433.3h0M247.0 433.9h0M300.2 437.0h0M279.0 438.6h0M291.8 437.4h0M252.3 440.4h0M290.8 441.2h0M245.3 443.0h0M252.6 443.4h0M265.7 443.6h0M276.3 442.7h0M326.9 444.0h0M243.6 444.7h0M276.2 444.5h0M288.3 444.2h0M294.9 443.9h0M301.2 446.1h0M324.1 443.9h0M270.3 447.9h0M275.9 449.7h0M282.8 447.9h0M302.4 449.9h0M310.2 448.0h0M324.3 449.5h0M252.4 450.3h0M275.9 449.8h0M328.0 451.3h0M334.6 450.8h0M253.2 452.6h0M274.0 453.2h0M283.8 451.8h0M290.9 452.1h0M321.8 452.8h0M333.5 452.5h0M255.4 453.2h0M265.4 455.1h0M310.4 455.1h0M315.6 454.4h0M248.2 456.8h0M260.9 455.1h0M261.3 455.0h0M320.1 455.3h0M329.3 455.8h0M251.9 458.6h0M333.1 457.2h0M334.4 457.9h0M265.1 460.1h0M306.0 458.9h0M307.1 458.7h0M329.9 460.1h0M304.5 463.2h0M311.0 461.8h0M339.6 461.9h0M313.2 464.2h0M248.4 466.0h0M300.2 466.0h0M255.8 468.9h0M264.5 469.4h0M324.5 468.2h0M328.3 467.5h0M299.4 469.0h0M254.1 471.7h0M253.0 474.1h0M313.4 472.8h0M321.1 473.6h0M326.8 474.1h0M329.9 472.7h0M272.3 476.1h0M337.0 475.7h0M269.9 476.3h0M325.0 477.7h0M248.9 478.2h0M252.1 478.7h0M260.4 479.4h0M276.4 479.3h0M302.9 479.3h0M275.7 480.5h0M309.7 481.4h0M321.1 480.3h0M337.6 481.0h0M268.5 481.7h0M286.3 482.2h0M255.8 484.9h0M293.5 484.2h0M309.0 485.1h0M335.0 484.7h0M320.2 488.5h0M256.2 489.8h0M260.2 490.7h0M291.8 491.0h0M271.2 490.5h0M301.9 492.8h0M321.8 491.4h0M254.3 492.5h0M260.7 494.9h0M303.8 493.4h0M290.1 495.7h0M321.2 494.8h0M272.8 498.0h0M288.3 497.0h0M298.8 497.8h0" stroke="#2a3a60" stroke-width="1.5" stroke-linecap="round"/>
<path d="M270.3 425.6h0M277.2 424.8h0M280.7 426.5h0M287.3 425.6h0M296.4 425.3h0M277.3 427.9h0M280.0 426.8h0M286.4 426.3h0M310.9 426.2h0M257.0 428.6h0M284.7 428.8h0M324.3 428.2h0M279.8 429.5h0M305.9 430.2h0M335.4 431.8h0M299.4 433.0h0M302.8 433.5h0M327.1 431.5h0M338.6 433.0h0M281.0 434.5h0M288.0 433.5h0M309.6 432.9h0M251.1 437.1h0M272.6 435.7h0M302.3 436.8h0M246.6 438.0h0M262.9 438.6h0M302.5 438.4h0M304.6 437.7h0M308.3 436.6h0M318.1 438.8h0M284.7 438.7h0M286.1 440.7h0M285.3 440.2h0M301.4 441.2h0M322.4 441.8h0M279.8 444.2h0M283.3 442.2h0M300.7 442.4h0M330.2 444.3h0M336.7 444.3h0M285.2 446.2h0M308.3 444.4h0M320.0 445.6h0M268.2 446.0h0M304.7 447.8h0M310.3 446.6h0M312.2 447.8h0M323.1 446.1h0M337.2 446.4h0M338.4 447.7h0M299.4 447.8h0M320.8 449.7h0M321.4 449.4h0M327.3 448.5h0M246.9 449.2h0M250.6 449.2h0M283.1 451.4h0M287.6 451.0h0M295.5 451.4h0M326.6 451.5h0M335.0 451.3h0M340.2 449.5h0M286.3 452.9h0M292.9 451.7h0M302.4 453.2h0M310.2 451.1h0M316.4 452.0h0M328.3 451.3h0M250.2 454.7h0M263.1 454.8h0M269.0 454.7h0M296.7 453.3h0M335.4 454.1h0M278.0 456.3h0M284.6 455.9h0M295.7 455.5h0M313.3 456.9h0M331.8 456.0h0M256.6 457.4h0M322.0 456.8h0M327.6 458.3h0M271.9 459.2h0M299.7 459.8h0M304.3 458.8h0M315.7 459.4h0M272.9 461.7h0M288.4 460.7h0M289.7 462.0h0M336.7 460.9h0M259.1 464.2h0M270.8 463.6h0M257.8 465.0h0M293.8 464.3h0M303.9 464.6h0M323.3 465.4h0M268.2 466.2h0M304.9 466.2h0M319.1 466.0h0M320.7 467.5h0M327.8 467.1h0M330.8 466.1h0M338.9 467.3h0M250.0 469.2h0M266.7 469.2h0M275.4 468.0h0M300.7 469.2h0M324.4 467.2h0M325.8 467.7h0M319.0 469.9h0M324.4 470.4h0M329.9 469.4h0M338.9 469.7h0M252.2 472.9h0M268.5 471.9h0M273.7 471.7h0M279.4 471.4h0M305.9 470.9h0M326.1 471.9h0M295.2 472.6h0M300.6 474.8h0M325.3 473.1h0M335.7 473.5h0M259.4 476.3h0M285.5 476.2h0M294.2 475.2h0M311.4 475.8h0M250.7 476.5h0M299.3 477.6h0M298.8 478.1h0M338.6 477.2h0M266.4 479.6h0M280.8 479.5h0M292.2 478.8h0M293.7 480.3h0M317.8 479.3h0M331.9 480.2h0M254.0 479.9h0M255.5 480.5h0M281.0 481.5h0M339.2 481.8h0M247.2 483.8h0M287.6 481.9h0M292.6 482.5h0M317.3 482.3h0M272.3 484.9h0M276.9 484.6h0M278.8 484.9h0M303.6 484.1h0M318.0 485.8h0M321.1 484.2h0M300.2 486.8h0M303.0 487.0h0M307.5 485.2h0M311.1 486.3h0M326.5 486.9h0M244.5 489.2h0M254.3 488.5h0M281.7 489.4h0M248.5 489.5h0M265.9 489.4h0M268.3 489.0h0M288.0 489.9h0M306.2 489.1h0M320.8 488.8h0M260.3 493.0h0M270.2 493.0h0M275.6 490.8h0M278.8 491.4h0M289.9 490.7h0M289.9 492.9h0M320.7 492.1h0M328.0 492.5h0M261.0 494.1h0M272.2 493.7h0M278.5 494.4h0M309.9 494.7h0M310.6 493.6h0M293.3 496.2h0M312.7 495.6h0M313.3 494.9h0M315.0 495.1h0M330.6 494.5h0M268.5 498.3h0M294.7 497.4h0M319.6 498.4h0M322.2 496.6h0M332.4 497.7h0" stroke="#4a6a9a" stroke-width="1.5" stroke-linecap="round"/>
<path d="M274.1 425.5h0M275.0 428.0h0M336.7 425.8h0M245.4 427.9h0M324.3 428.1h0M301.5 429.9h0M308.3 431.1h0M316.2 431.0h0M324.4 430.8h0M268.5 432.3h0M303.9 433.6h0M338.9 431.9h0M315.5 433.6h0M315.0 434.9h0M304.7 436.7h0M313.8 437.4h0M324.2 438.4h0M277.9 440.3h0M315.5 440.8h0M252.1 441.4h0M272.1 441.7h0M304.6 440.8h0M313.3 440.9h0M275.8 445.5h0M290.5 444.6h0M305.0 444.2h0M257.2 446.6h0M295.3 446.7h0M248.8 448.8h0M306.1 447.8h0M329.2 447.8h0M282.8 451.9h0M274.0 455.9h0M324.5 454.7h0M338.8 456.5h0M254.3 458.2h0M297.3 457.4h0M311.7 458.1h0M316.5 456.9h0M317.4 457.0h0M340.0 456.4h0M268.4 459.5h0M311.7 459.3h0M319.9 458.8h0M260.3 461.8h0M308.0 460.2h0M264.7 463.8h0M248.5 464.4h0M329.4 464.5h0M243.2 466.1h0M263.5 467.3h0M271.8 467.6h0M325.8 466.2h0M288.9 469.5h0M292.8 468.7h0M295.6 469.3h0M298.4 467.7h0M256.5 470.6h0M321.5 469.5h0M245.0 475.0h0M247.2 472.8h0M249.9 474.9h0M263.2 474.5h0M252.2 475.5h0M280.9 476.0h0M308.1 475.1h0M327.9 475.9h0M250.3 477.6h0M252.9 477.7h0M266.2 477.6h0M311.8 478.5h0M321.2 479.5h0M266.6 480.1h0M303.7 480.6h0M316.9 479.8h0M264.7 481.9h0M280.9 482.7h0M312.5 483.9h0M325.9 482.9h0M248.7 483.5h0M301.9 484.4h0M314.0 484.3h0M267.5 487.0h0M273.8 487.1h0M319.2 485.3h0M317.1 487.2h0M335.1 487.5h0M302.6 490.1h0M315.8 489.0h0M253.3 492.2h0M315.0 493.8h0M317.1 493.3h0M326.5 492.5h0M316.7 496.1h0" stroke="#8a7050" stroke-width="2.0" stroke-linecap="round"/>
<path d="M284.4 424.8h0M338.4 425.6h0M265.9 429.4h0M296.6 432.0h0M259.8 442.3h0M323.9 444.7h0M266.5 446.4h0M319.7 453.0h0M252.5 453.5h0M288.5 452.8h0M277.5 457.9h0M297.6 460.5h0M261.4 472.7h0M298.8 475.4h0M323.5 474.7h0M306.4 476.6h0M306.2 484.0h0M262.8 484.4h0M307.4 484.2h0M310.6 484.1h0M340.8 484.6h0M310.2 485.6h0M324.7 489.3h0M291.8 488.8h0M323.9 489.1h0M264.6 491.3h0M312.5 491.7h0M248.4 493.7h0M322.7 494.6h0M331.6 492.9h0" stroke="#7a98c0" stroke-width="2.5" stroke-linecap="round"/>
<path d="M324.1 424.2h0M266.7 426.6h0M270.5 426.5h0M280.0 429.8h0M264.4 432.4h0M249.0 436.5h0M255.6 436.7h0M250.4 436.6h0M335.9 449.3h0M336.0 453.0h0M279.5 457.0h0M264.3 458.1h0M282.2 458.5h0M285.9 459.4h0M289.1 458.9h0M249.8 464.1h0M310.7 463.6h0M308.0 470.8h0M251.4 473.6h0M263.8 478.0h0M286.2 477.1h0M324.8 480.2h0M331.4 478.5h0M252.7 487.0h0M277.7 485.7h0M278.9 487.2h0M283.0 494.4h0M247.4 496.5h0" stroke="#4a6a9a" stroke-width="2.5" stroke-linecap="round"/>
<path d="M263.8 427.8h0M294.7 477.9h0" stroke="#1a1e28" stroke-width="2.5" stroke-linecap="round"/>
<path d="M278.4 427.1h0M307.4 427.1h0M315.3 426.1h0M310.7 441.3h0M292.9 444.6h0M302.6 445.8h0M298.1 449.9h0M300.1 449.4h0M245.2 454.8h0M324.6 453.2h0M286.4 455.5h0M315.9 455.3h0M275.6 459.3h0M326.5 458.2h0M293.7 469.1h0M306.4 469.6h0M300.4 473.2h0M288.2 473.4h0M311.1 493.0h0" stroke="#1a1e28" stroke-width="1.5" stroke-linecap="round"/>
<path d="M284.2 426.1h0M303.3 430.0h0M255.1 431.9h0M322.0 435.4h0M338.1 449.0h0M263.0 449.2h0M284.6 460.4h0M317.9 464.8h0M264.6 475.0h0M274.1 478.2h0M284.5 486.2h0M330.5 488.6h0M300.9 492.5h0M263.8 497.2h0M291.4 497.5h0" stroke="#c8d4e2" stroke-width="2.5" stroke-linecap="round"/>
<path d="M332.6 426.5h0M264.5 428.7h0M251.8 433.5h0M264.1 441.8h0M287.5 443.8h0M318.8 444.4h0M252.1 447.9h0M290.3 447.9h0M329.8 462.0h0M251.8 467.8h0M285.3 468.7h0M254.4 469.7h0M281.1 469.6h0M309.0 473.2h0M321.9 478.2h0M253.3 488.7h0M336.0 494.8h0" stroke="#b8a070" stroke-width="2.5" stroke-linecap="round"/>
<path d="M281.1 429.4h0M312.4 433.1h0M270.2 437.4h0M332.3 437.0h0M322.5 439.7h0M245.1 440.9h0M298.0 442.4h0M313.4 440.2h0M332.3 442.2h0M312.0 448.4h0M280.9 456.4h0M302.4 457.4h0M274.6 458.4h0M331.3 462.0h0M246.3 463.9h0M339.4 465.7h0M309.2 471.3h0M331.2 475.2h0M312.1 477.2h0M258.0 491.5h0M329.6 491.8h0M301.0 493.4h0M339.1 496.3h0" stroke="#1a1e28" stroke-width="2.0" stroke-linecap="round"/>
<path d="M321.5 435.5h0M286.7 437.6h0M294.3 439.6h0M277.3 453.4h0M299.0 454.9h0M294.4 465.0h0M304.5 468.6h0M291.0 469.7h0M299.2 480.4h0M278.9 487.4h0M247.0 492.4h0M340.9 492.8h0" stroke="#8a7050" stroke-width="2.5" stroke-linecap="round"/>
<path d="M339.2 440.4h0M320.4 454.3h0M287.7 465.9h0M305.5 463.8h0M333.5 466.3h0M331.4 468.7h0M255.8 471.8h0M283.4 472.6h0M275.6 477.3h0M247.1 489.4h0" stroke="#2a3a60" stroke-width="2.5" stroke-linecap="round"/>
<ellipse cx="290.1" cy="434.5" rx="3.6" ry="6.2" fill="#fdfcfa" stroke="#8a7a70" stroke-width="0.4" stroke-opacity="0.5"/>
<ellipse cx="300.7" cy="451.8" rx="4.2" ry="6.6" fill="#fdfcfa" stroke="#8a7a70" stroke-width="0.4" stroke-opacity="0.5"/>
<ellipse cx="257.4" cy="473" rx="5.2" ry="5" fill="#fdfcfa" stroke="#8a7a70" stroke-width="0.4" stroke-opacity="0.5"/>
<ellipse cx="288.2" cy="478.8" rx="4.6" ry="4.8" fill="#fdfcfa" stroke="#8a7a70" stroke-width="0.4" stroke-opacity="0.5"/>
<ellipse cx="275.7" cy="485" rx="3.6" ry="3.6" fill="#fdfcfa" stroke="#8a7a70" stroke-width="0.4" stroke-opacity="0.5"/>
<ellipse cx="249.7" cy="446" rx="2.5" ry="2.5" fill="#fdfcfa" stroke="#8a7a70" stroke-width="0.4" stroke-opacity="0.5"/>
<ellipse cx="336.2" cy="430.7" rx="3" ry="3.2" fill="#fdfcfa" stroke="#8a7a70" stroke-width="0.4" stroke-opacity="0.5"/>
<ellipse cx="320.8" cy="461.5" rx="3" ry="3.5" fill="#fdfcfa" stroke="#8a7a70" stroke-width="0.4" stroke-opacity="0.5"/>
<rect x="310.80" y="474.90" width="29.60" height="22.60" fill="#f0f1f3" />
<path d="M333.8 488.6h0M334.1 478.4h0M328.9 482.2h0M323.7 478.4h0M338.6 480.2h0M335.9 480.4h0M337.5 494.1h0M325.9 479.6h0M328.3 476.6h0M337.1 478.1h0M325.2 475.0h0M321.7 476.2h0M326.2 475.3h0M336.8 487.0h0M337.6 497.4h0M335.9 477.5h0M336.5 493.7h0M333.9 480.0h0M338.7 488.0h0M336.0 479.2h0M331.5 481.8h0M329.3 482.9h0M335.7 492.3h0M333.3 483.5h0M338.7 476.4h0M335.8 489.7h0M339.7 480.0h0M335.7 481.6h0M332.4 476.9h0M334.6 488.8h0M337.2 497.2h0M338.0 481.4h0M322.9 478.6h0M337.8 483.9h0M333.9 486.0h0M331.2 478.2h0M338.0 483.3h0M324.1 478.4h0M327.9 481.5h0M339.6 484.6h0M322.3 477.2h0M339.5 476.3h0M333.7 481.0h0M340.1 494.2h0M329.7 478.8h0M337.4 475.3h0M327.3 478.0h0M338.6 488.0h0M329.1 478.0h0M337.4 484.9h0M338.5 491.4h0M333.9 477.9h0M337.2 490.6h0M340.4 491.5h0M335.2 484.0h0M328.6 480.1h0M337.6 497.1h0M325.5 480.6h0M340.2 494.1h0M335.3 490.5h0M340.0 491.7h0M324.4 476.8h0M338.9 483.1h0M338.6 488.4h0M323.8 475.1h0M331.7 485.0h0M330.0 477.6h0M332.2 487.6h0M338.4 477.8h0M331.5 478.8h0M339.5 486.9h0M338.0 484.0h0M334.1 479.5h0M339.4 491.0h0M326.3 477.6h0M322.2 479.2h0M335.5 481.9h0M330.8 484.4h0M336.0 491.6h0M336.9 486.8h0M328.4 475.0h0M339.0 496.5h0M334.7 494.7h0M337.7 489.8h0M336.2 490.9h0M337.7 477.8h0M322.9 479.4h0M334.5 479.9h0M335.1 495.7h0M335.7 481.7h0M336.4 483.1h0M339.0 495.1h0M338.4 475.4h0M340.0 476.0h0M336.9 490.6h0M336.7 478.4h0M334.7 478.0h0M338.6 483.6h0M333.7 490.4h0M327.2 477.7h0M330.4 474.9h0M336.9 490.3h0" stroke="#9aa6b8" stroke-width="1.3" stroke-linecap="round"/>
<path d="M319.7 482.8 Q324.1 494.1 336.0 497.5" stroke="#6a7890" stroke-width="1.2" fill="none"/>
<rect x="310.8" y="474.9" width="29.60" height="22.60" fill="none" stroke="#6a6a6a" stroke-width="0.6"/>
</g></g>
<rect x="244.2" y="425.2" width="96.2" height="72.3" fill="none" stroke="#8a8a8a" stroke-width="0.7"/>
<clipPath id="cpF3"><rect x="351.5" y="425.0" width="95.5" height="72.8"/></clipPath>
<g clip-path="url(#cpF3)"><g filter="url(#ihcb)">
<rect x="351.50" y="425.00" width="95.50" height="72.80" fill="#d2dae4" />
<path d="M351.9 425.3h0M358.3 424.4h0M373.7 425.4h0M386.9 424.7h0M407.4 424.6h0M409.2 423.9h0M418.0 425.4h0M439.5 425.7h0M357.2 426.5h0M366.4 425.8h0M381.9 426.6h0M382.8 425.5h0M385.3 426.0h0M428.5 426.7h0M362.3 427.7h0M374.3 428.1h0M431.5 427.2h0M374.0 429.6h0M378.3 430.5h0M390.7 429.8h0M399.0 430.6h0M409.5 428.6h0M407.8 432.0h0M422.0 433.5h0M393.2 434.2h0M416.4 434.1h0M447.0 434.8h0M351.8 436.6h0M389.4 435.8h0M398.1 436.3h0M410.0 435.0h0M422.3 434.9h0M431.0 435.4h0M447.7 435.6h0M365.4 438.0h0M368.4 438.2h0M397.7 437.6h0M435.2 437.1h0M377.8 439.5h0M395.9 438.7h0M402.1 438.4h0M425.7 439.0h0M435.3 438.8h0M441.6 439.4h0M447.8 438.3h0M367.9 441.0h0M396.4 441.2h0M418.9 441.3h0M447.5 439.5h0M356.9 441.4h0M421.4 441.3h0M425.5 442.2h0M380.4 442.6h0M356.7 445.9h0M373.3 446.0h0M373.9 445.8h0M377.3 445.7h0M422.3 444.4h0M357.0 445.9h0M401.6 446.6h0M403.5 446.5h0M352.1 448.7h0M354.6 448.1h0M399.9 448.6h0M428.2 449.3h0M441.9 448.9h0M391.3 450.8h0M361.4 450.9h0M364.4 450.9h0M385.4 451.7h0M407.6 450.9h0M408.6 451.5h0M364.8 453.7h0M367.7 451.8h0M371.5 452.2h0M405.1 452.9h0M364.3 455.3h0M390.8 455.5h0M407.9 454.5h0M441.5 453.4h0M443.6 455.5h0M375.5 456.0h0M384.7 456.2h0M419.2 455.0h0M427.7 456.5h0M408.7 456.9h0M423.1 457.3h0M428.0 457.6h0M365.9 458.3h0M369.0 458.8h0M404.8 460.0h0M416.2 458.2h0M436.8 459.6h0M352.5 459.8h0M374.0 460.2h0M397.3 460.7h0M420.7 461.2h0M434.2 461.1h0M445.9 459.9h0M361.6 462.2h0M370.3 463.3h0M405.4 461.3h0M361.7 463.0h0M408.5 464.4h0M411.2 464.1h0M425.9 462.7h0M431.1 463.7h0M437.5 464.0h0M358.0 466.1h0M376.8 466.4h0M419.2 464.5h0M431.8 465.0h0M371.9 467.7h0M399.9 465.9h0M408.8 466.1h0M427.1 466.0h0M434.4 468.5h0M440.8 467.9h0M360.2 468.9h0M369.4 470.4h0M386.6 470.7h0M398.3 469.3h0M411.2 470.6h0M423.7 469.0h0M362.6 471.3h0M372.5 472.1h0M416.8 472.5h0M417.5 471.2h0M442.5 472.0h0M446.1 471.0h0M359.2 472.8h0M436.0 472.7h0M405.2 474.5h0M440.1 474.8h0M350.9 476.1h0M360.2 476.1h0M393.9 476.3h0M411.2 475.9h0M354.7 478.2h0M409.3 476.8h0M440.2 477.1h0M445.4 476.9h0M377.0 479.6h0M396.1 479.6h0M434.5 478.5h0M440.7 478.9h0M390.4 481.6h0M442.7 481.0h0M358.4 482.6h0M385.1 482.3h0M389.8 482.9h0M359.0 484.9h0M365.0 483.7h0M370.9 486.5h0M382.0 486.3h0M391.7 486.1h0M398.1 486.5h0M403.5 486.5h0M434.2 484.6h0M436.5 484.7h0M355.1 486.2h0M371.2 486.7h0M382.2 487.0h0M390.6 487.8h0M412.5 487.6h0M423.3 487.4h0M438.5 487.4h0M400.1 487.6h0M402.3 488.9h0M364.0 489.5h0M425.2 489.9h0M371.1 492.7h0M376.0 491.2h0M417.5 492.0h0M420.5 490.9h0M437.5 491.8h0M369.3 495.1h0M378.5 495.2h0M379.2 495.2h0M397.1 495.2h0M402.2 494.4h0M414.5 493.8h0M425.4 495.5h0M427.1 497.2h0M353.7 497.5h0M366.1 498.5h0M392.7 498.3h0M401.1 496.8h0M429.2 497.6h0M447.1 497.2h0" stroke="#e8eaec" stroke-width="1.5" stroke-linecap="round"/>
<path d="M353.6 425.3h0M370.5 425.1h0M371.9 424.1h0M405.9 423.9h0M412.8 425.8h0M417.5 424.1h0M418.7 425.8h0M427.2 425.4h0M436.9 425.9h0M443.7 425.6h0M353.7 426.5h0M360.2 425.7h0M376.3 427.5h0M383.6 426.2h0M388.1 426.3h0M389.1 426.1h0M413.5 427.2h0M434.2 426.1h0M436.7 425.7h0M378.4 429.2h0M386.6 428.8h0M397.9 428.8h0M403.3 429.1h0M405.2 428.0h0M423.5 427.4h0M431.3 428.5h0M434.0 428.5h0M439.0 428.6h0M359.8 429.7h0M377.1 430.7h0M386.7 429.2h0M392.6 429.3h0M397.6 429.7h0M440.4 430.2h0M352.7 431.1h0M364.1 430.7h0M369.6 430.5h0M372.0 431.1h0M373.0 431.3h0M377.3 430.9h0M379.3 431.1h0M396.5 431.1h0M401.8 432.1h0M405.2 430.5h0M415.2 431.6h0M425.8 431.2h0M428.1 431.0h0M432.0 430.4h0M437.6 430.3h0M376.2 432.0h0M387.9 432.9h0M395.7 432.1h0M399.0 432.7h0M408.1 433.0h0M417.4 432.2h0M419.9 432.1h0M434.4 432.0h0M446.0 431.7h0M350.9 433.3h0M358.6 434.4h0M384.3 435.1h0M399.0 433.4h0M399.3 433.2h0M423.4 434.3h0M425.6 433.8h0M430.5 434.8h0M445.2 434.3h0M357.1 435.8h0M360.9 436.9h0M364.0 435.1h0M372.8 435.9h0M379.9 436.0h0M392.6 435.8h0M403.5 435.8h0M404.8 436.1h0M417.2 436.0h0M424.7 435.9h0M434.5 435.8h0M355.6 436.5h0M361.6 437.2h0M362.8 437.7h0M367.9 438.0h0M374.3 437.6h0M381.0 437.7h0M384.6 436.6h0M389.2 437.4h0M405.9 437.7h0M408.0 438.3h0M412.6 437.9h0M419.1 438.2h0M423.1 438.3h0M428.6 436.7h0M438.7 436.9h0M440.8 438.1h0M357.0 438.3h0M358.3 438.3h0M369.4 439.3h0M391.0 438.6h0M406.6 439.7h0M430.4 438.9h0M433.0 438.4h0M446.2 438.6h0M360.4 441.3h0M363.1 439.6h0M373.8 440.0h0M379.8 440.7h0M389.0 441.0h0M423.5 440.4h0M428.0 439.8h0M443.4 441.2h0M351.8 443.0h0M354.0 441.5h0M363.6 441.4h0M376.8 442.0h0M382.9 442.3h0M384.7 441.3h0M388.0 442.6h0M389.2 441.3h0M395.6 442.1h0M417.4 441.4h0M431.7 441.3h0M437.8 441.4h0M439.9 441.5h0M442.9 442.3h0M382.6 442.6h0M423.7 443.1h0M439.6 443.6h0M447.4 443.3h0M401.7 445.4h0M403.6 444.3h0M412.0 446.1h0M419.2 445.5h0M445.4 444.2h0M359.8 445.7h0M412.5 445.7h0M423.6 447.7h0M435.2 446.6h0M438.7 447.5h0M352.9 449.2h0M363.1 448.2h0M364.7 447.4h0M375.5 449.0h0M376.5 447.7h0M377.2 448.7h0M387.8 447.9h0M395.1 448.8h0M408.4 448.4h0M414.2 447.7h0M418.1 447.9h0M423.8 447.9h0M424.9 447.6h0M435.2 448.0h0M447.0 448.1h0M351.1 449.6h0M374.5 450.6h0M377.0 449.6h0M405.0 449.9h0M413.7 448.7h0M422.2 450.8h0M428.8 450.6h0M438.1 450.1h0M369.2 451.7h0M376.8 452.0h0M380.1 452.3h0M392.7 451.2h0M398.7 451.8h0M414.4 450.6h0M419.2 452.3h0M436.9 451.6h0M438.9 451.0h0M440.9 450.5h0M442.1 451.6h0M448.0 450.6h0M352.8 452.1h0M369.1 452.0h0M375.1 453.5h0M394.6 452.4h0M396.2 453.6h0M401.9 452.7h0M412.9 453.0h0M417.4 452.3h0M419.1 452.3h0M435.9 453.9h0M437.2 452.6h0M442.5 452.4h0M445.5 451.9h0M448.6 452.1h0M368.8 454.5h0M373.1 455.2h0M382.5 455.0h0M395.7 454.9h0M415.0 454.6h0M421.6 455.1h0M437.5 453.8h0M445.7 454.1h0M364.9 456.4h0M369.5 456.8h0M382.0 456.4h0M386.3 457.0h0M391.0 456.0h0M392.8 455.2h0M432.9 455.2h0M434.4 455.7h0M440.5 456.7h0M351.0 458.3h0M355.7 457.0h0M360.1 458.3h0M366.8 458.3h0M377.1 457.0h0M396.4 457.4h0M400.5 458.3h0M403.6 457.5h0M406.8 457.8h0M421.6 457.1h0M432.2 458.5h0M438.5 456.5h0M444.0 458.3h0M384.0 458.9h0M413.3 459.4h0M415.9 458.6h0M417.6 459.8h0M359.2 459.7h0M381.1 460.5h0M383.8 461.2h0M401.6 460.5h0M403.4 460.8h0M403.5 461.2h0M423.6 461.2h0M428.0 461.1h0M430.9 461.5h0M444.4 461.2h0M374.8 461.1h0M387.4 462.6h0M393.5 462.5h0M418.6 462.1h0M420.6 461.9h0M427.8 461.4h0M431.0 461.2h0M354.3 464.5h0M358.4 463.3h0M361.4 464.0h0M367.6 462.8h0M395.9 463.4h0M400.9 464.7h0M403.1 464.6h0M412.8 464.8h0M415.5 463.2h0M419.7 463.9h0M428.8 464.1h0M442.1 464.8h0M352.2 465.9h0M356.3 464.9h0M368.4 465.6h0M383.1 465.0h0M405.6 466.1h0M428.4 466.3h0M355.1 467.2h0M361.4 467.3h0M394.2 466.3h0M417.5 467.8h0M431.1 466.5h0M434.6 466.2h0M438.2 466.5h0M447.9 467.3h0M355.1 467.4h0M364.5 467.4h0M369.6 467.4h0M377.5 467.9h0M387.4 469.0h0M405.1 469.0h0M416.9 468.8h0M442.4 467.9h0M355.2 469.3h0M361.4 470.1h0M368.0 470.6h0M377.5 470.5h0M386.2 469.5h0M389.5 469.2h0M389.6 469.5h0M400.3 470.0h0M412.3 470.4h0M413.2 469.0h0M438.2 469.3h0M389.4 471.6h0M392.7 472.1h0M395.7 470.6h0M400.0 471.0h0M410.6 471.6h0M413.8 472.0h0M415.4 472.3h0M438.1 471.6h0M353.4 472.6h0M354.7 472.5h0M366.2 473.4h0M369.2 473.2h0M378.8 474.1h0M388.8 473.7h0M389.3 473.9h0M397.0 472.9h0M405.0 473.3h0M408.1 472.1h0M410.3 473.6h0M425.7 472.8h0M428.6 474.1h0M356.9 473.7h0M361.4 474.4h0M376.8 475.2h0M390.5 475.4h0M398.7 475.6h0M408.1 474.3h0M425.3 474.5h0M436.3 474.0h0M447.0 475.6h0M357.7 477.2h0M363.6 476.2h0M365.5 476.5h0M367.3 476.9h0M379.8 475.6h0M383.3 475.9h0M390.6 477.2h0M396.7 477.0h0M398.6 476.7h0M401.0 477.2h0M405.0 477.0h0M415.8 477.1h0M423.0 476.8h0M442.4 476.7h0M351.5 477.8h0M396.3 478.3h0M403.8 477.7h0M423.0 477.8h0M425.4 477.5h0M442.3 477.9h0M448.0 476.9h0M367.5 478.3h0M375.6 480.0h0M385.3 478.6h0M399.1 479.4h0M420.6 478.4h0M422.1 479.3h0M436.5 478.9h0M438.6 480.0h0M442.5 478.5h0M445.5 479.1h0M356.8 481.0h0M369.6 480.9h0M395.4 481.6h0M402.5 480.8h0M410.0 480.4h0M419.5 480.7h0M422.1 481.2h0M425.7 479.9h0M433.2 479.8h0M440.7 480.7h0M444.4 480.4h0M445.3 480.7h0M366.0 483.0h0M367.0 483.1h0M372.8 483.1h0M382.4 483.0h0M395.8 482.2h0M397.6 482.2h0M406.7 481.7h0M411.2 481.5h0M420.6 482.8h0M422.6 482.3h0M423.3 482.9h0M426.7 481.4h0M353.6 482.9h0M367.9 483.6h0M373.0 484.5h0M384.8 484.1h0M418.6 484.3h0M422.6 484.7h0M435.8 482.8h0M356.3 485.7h0M358.2 486.1h0M372.4 484.6h0M388.1 485.2h0M405.6 486.2h0M414.5 485.4h0M438.2 486.0h0M448.5 484.4h0M362.8 486.6h0M371.5 487.9h0M377.3 487.4h0M379.7 487.2h0M384.4 487.5h0M419.6 486.8h0M432.2 487.0h0M434.0 487.4h0M436.2 487.5h0M441.0 486.2h0M444.6 487.2h0M379.3 488.1h0M384.5 487.8h0M387.8 487.7h0M400.3 487.6h0M405.4 487.8h0M422.1 488.9h0M429.9 488.0h0M432.8 488.9h0M438.8 487.9h0M445.5 488.1h0M447.7 489.4h0M358.2 490.9h0M362.3 491.1h0M370.2 489.2h0M373.0 491.1h0M373.7 491.2h0M377.1 489.6h0M389.5 489.0h0M402.1 489.9h0M409.4 490.3h0M414.4 490.8h0M420.5 490.2h0M441.5 489.5h0M379.0 492.6h0M383.0 491.7h0M390.2 492.0h0M402.2 492.5h0M426.8 492.7h0M427.8 492.4h0M430.8 492.4h0M445.4 491.9h0M351.7 493.0h0M359.1 493.6h0M378.8 492.1h0M381.5 493.1h0M398.1 494.0h0M399.8 493.2h0M405.4 493.6h0M418.7 494.1h0M421.3 493.1h0M435.9 493.6h0M354.8 495.3h0M356.8 495.1h0M358.5 494.5h0M363.3 495.6h0M366.5 495.6h0M372.3 495.8h0M384.0 493.8h0M391.5 494.2h0M395.0 495.1h0M400.4 494.0h0M412.5 493.7h0M421.9 495.6h0M424.4 495.3h0M428.5 493.9h0M442.5 494.1h0M372.3 496.8h0M377.0 496.2h0M385.8 495.9h0M387.9 496.0h0M390.5 495.6h0M396.2 495.9h0M402.3 495.3h0M404.8 495.5h0M406.3 497.0h0M409.6 496.8h0M412.8 496.2h0M413.5 496.5h0M414.8 495.7h0M418.2 497.3h0M422.3 495.3h0M430.4 497.2h0M353.7 497.4h0M360.3 497.4h0M367.6 498.2h0M378.7 498.3h0M420.0 498.4h0M422.1 497.9h0M425.4 498.4h0M430.1 498.3h0" stroke="#7c96ba" stroke-width="1.5" stroke-linecap="round"/>
<path d="M355.2 424.2h0M364.2 424.3h0M414.4 424.0h0M429.8 425.3h0M363.3 426.4h0M374.1 426.7h0M375.4 427.2h0M404.7 426.6h0M411.0 426.2h0M429.8 426.8h0M417.3 428.8h0M428.4 428.6h0M425.0 432.2h0M411.4 432.1h0M426.7 432.1h0M357.7 435.3h0M367.6 435.9h0M408.1 435.9h0M412.9 435.5h0M395.0 437.3h0M432.7 437.3h0M359.6 439.8h0M369.8 438.3h0M353.9 439.6h0M357.8 440.8h0M380.4 440.9h0M391.2 441.6h0M434.4 441.3h0M436.9 439.8h0M373.6 442.1h0M400.9 441.2h0M401.9 442.2h0M414.6 442.3h0M417.0 442.8h0M357.7 444.4h0M384.8 442.8h0M399.1 442.7h0M407.3 442.8h0M433.8 444.6h0M382.6 444.8h0M416.9 445.9h0M430.0 445.5h0M440.0 446.2h0M355.0 446.9h0M384.2 446.5h0M420.7 446.3h0M428.3 446.7h0M356.1 449.2h0M366.1 448.3h0M428.5 448.3h0M429.8 448.1h0M371.2 448.7h0M406.2 450.1h0M415.8 450.3h0M381.5 452.2h0M443.7 451.9h0M415.8 452.9h0M420.5 452.1h0M434.7 453.2h0M351.2 454.3h0M375.8 455.2h0M417.4 453.8h0M381.8 455.2h0M417.0 455.1h0M435.8 456.8h0M378.9 458.6h0M358.5 458.7h0M385.7 459.4h0M378.1 460.9h0M397.9 460.9h0M409.6 459.7h0M431.8 461.5h0M448.3 461.6h0M350.6 462.1h0M357.0 462.2h0M442.9 461.9h0M371.1 464.6h0M379.5 463.5h0M422.3 464.4h0M438.7 464.2h0M359.9 466.2h0M380.9 466.0h0M427.5 466.1h0M440.1 466.0h0M367.9 467.6h0M394.3 467.9h0M420.5 466.1h0M367.2 469.2h0M395.5 469.0h0M408.5 469.4h0M422.0 469.3h0M424.7 467.6h0M392.3 470.8h0M431.1 470.1h0M354.9 471.9h0M367.9 472.1h0M398.4 470.7h0M431.0 471.7h0M375.1 473.8h0M383.9 473.9h0M393.7 472.4h0M441.0 473.1h0M377.1 474.2h0M411.7 474.9h0M422.3 475.5h0M429.0 474.2h0M445.7 475.2h0M378.2 476.8h0M426.2 475.4h0M447.4 476.1h0M361.0 478.2h0M395.9 477.4h0M406.6 477.0h0M431.9 478.1h0M392.8 480.0h0M352.0 481.1h0M352.4 481.7h0M365.3 480.4h0M379.1 479.9h0M400.1 481.0h0M437.4 481.7h0M350.6 483.1h0M380.3 482.4h0M393.4 481.5h0M394.9 483.2h0M432.8 481.9h0M394.7 484.5h0M396.4 482.9h0M420.9 483.1h0M431.1 483.2h0M420.6 486.3h0M355.9 486.3h0M367.8 486.9h0M368.5 487.8h0M399.9 486.4h0M447.4 487.7h0M390.7 488.3h0M397.4 489.6h0M416.3 489.6h0M352.2 489.3h0M353.7 490.5h0M419.2 491.1h0M396.0 491.8h0M444.6 491.9h0M395.9 493.2h0M363.5 495.1h0M370.8 495.1h0M397.0 494.6h0M411.9 493.9h0M371.6 496.0h0M382.9 495.8h0M366.1 497.8h0M416.0 497.2h0M416.0 497.3h0" stroke="#4e6e9c" stroke-width="2.0" stroke-linecap="round"/>
<path d="M355.6 425.7h0M358.1 424.3h0M398.9 425.3h0M401.5 425.9h0M406.4 426.4h0M369.4 427.9h0M389.3 429.1h0M411.9 429.2h0M425.9 429.1h0M369.2 429.1h0M446.8 429.8h0M389.7 430.3h0M440.9 430.5h0M388.7 432.6h0M400.3 431.8h0M405.0 432.9h0M435.1 431.8h0M435.1 434.6h0M429.4 436.1h0M387.1 439.5h0M417.9 439.7h0M359.4 441.5h0M361.4 440.8h0M361.7 443.6h0M414.9 444.1h0M418.4 443.9h0M393.4 444.2h0M438.4 444.3h0M362.0 445.9h0M369.4 446.0h0M370.8 447.1h0M422.3 446.7h0M384.7 449.0h0M400.8 451.1h0M406.6 450.4h0M410.3 451.7h0M363.3 452.3h0M355.6 454.1h0M396.1 454.9h0M421.7 455.3h0M430.2 457.4h0M362.9 459.2h0M370.3 458.7h0M370.8 461.5h0M440.8 461.6h0M436.2 463.1h0M396.9 465.7h0M420.0 465.1h0M432.7 464.8h0M356.0 470.2h0M375.7 473.0h0M397.2 473.6h0M431.7 474.3h0M418.0 475.3h0M357.0 477.3h0M363.1 479.8h0M428.0 480.7h0M435.9 480.3h0M401.3 481.8h0M366.0 485.7h0M411.9 485.9h0M439.4 485.3h0M414.3 487.7h0M446.7 486.4h0M412.5 487.8h0M442.4 488.9h0M386.7 491.8h0M412.9 490.7h0M434.3 494.0h0M387.4 494.2h0M436.3 494.4h0M424.1 496.8h0" stroke="#34507a" stroke-width="1.0" stroke-linecap="round"/>
<path d="M362.6 425.8h0M374.6 428.2h0M407.7 429.0h0M412.2 429.8h0M437.5 429.1h0M446.9 428.6h0M368.8 430.5h0M397.5 431.9h0M378.7 433.7h0M387.5 433.6h0M412.9 435.3h0M372.1 436.1h0M437.4 435.1h0M386.7 437.8h0M416.4 439.0h0M424.8 439.9h0M372.6 441.7h0M359.9 443.6h0M426.9 443.4h0M355.6 445.7h0M394.1 447.2h0M424.0 449.8h0M350.5 451.5h0M433.0 451.6h0M380.5 452.6h0M387.2 453.0h0M400.2 453.0h0M416.6 453.4h0M427.0 453.3h0M354.6 454.8h0M423.1 455.2h0M433.1 455.5h0M361.8 456.4h0M396.3 456.2h0M366.0 457.9h0M391.3 457.6h0M381.8 458.2h0M411.1 458.7h0M428.1 458.5h0M362.9 460.0h0M394.4 461.0h0M438.9 461.1h0M387.7 463.0h0M354.3 465.4h0M361.9 467.6h0M363.2 469.3h0M375.0 468.6h0M397.2 469.3h0M409.9 467.8h0M436.1 468.9h0M378.9 469.8h0M401.9 469.6h0M359.3 472.1h0M360.0 471.7h0M403.6 472.2h0M443.5 473.6h0M370.9 475.3h0M382.2 475.1h0M434.1 475.4h0M419.2 475.6h0M420.9 476.7h0M353.0 477.1h0M373.8 478.4h0M387.9 477.2h0M352.6 478.2h0M389.2 478.8h0M407.1 478.7h0M397.5 481.1h0M370.3 484.5h0M390.6 485.3h0M415.3 487.9h0M429.2 487.2h0M364.0 489.3h0M380.3 489.6h0M384.9 488.7h0M409.7 487.9h0M420.4 488.4h0M432.3 488.5h0M442.2 490.7h0M397.8 490.8h0M422.2 492.1h0M362.6 492.9h0M388.0 492.3h0M393.6 492.7h0M440.8 492.3h0M370.6 497.2h0M444.8 497.4h0M412.4 497.0h0M440.1 497.3h0" stroke="#a8b4c4" stroke-width="1.0" stroke-linecap="round"/>
<path d="M364.8 424.9h0M366.1 425.7h0M374.2 424.1h0M376.5 426.0h0M378.1 424.9h0M381.9 425.8h0M392.2 424.2h0M393.1 425.6h0M394.1 424.4h0M420.4 424.4h0M433.0 425.1h0M441.0 425.9h0M442.1 425.8h0M369.5 426.8h0M403.7 425.5h0M408.0 426.2h0M430.2 427.5h0M432.9 425.9h0M438.6 427.5h0M444.6 426.5h0M363.8 427.3h0M392.4 428.9h0M400.8 429.2h0M409.3 428.9h0M412.8 429.0h0M414.9 428.2h0M419.2 428.3h0M420.9 428.0h0M435.3 427.8h0M443.5 427.7h0M350.7 429.4h0M355.5 430.1h0M362.1 430.7h0M365.8 429.1h0M366.8 429.7h0M381.6 429.3h0M383.7 430.4h0M393.8 429.4h0M394.9 429.1h0M404.9 428.8h0M413.9 430.7h0M415.2 430.2h0M417.7 428.7h0M428.1 429.2h0M431.6 429.7h0M434.6 430.7h0M440.9 430.0h0M352.1 431.9h0M355.1 430.6h0M367.4 431.1h0M378.2 431.5h0M380.3 431.4h0M383.5 431.5h0M385.6 431.5h0M391.1 430.7h0M394.7 430.7h0M407.0 430.9h0M411.6 430.9h0M412.6 430.7h0M422.0 431.6h0M429.2 432.1h0M365.1 433.2h0M370.6 433.1h0M390.4 432.0h0M399.1 432.3h0M411.4 432.3h0M356.9 433.7h0M359.9 434.8h0M373.8 435.3h0M374.8 434.7h0M377.1 433.6h0M378.6 435.0h0M387.6 433.5h0M389.6 434.9h0M411.3 433.2h0M427.5 434.1h0M442.2 434.6h0M443.4 435.2h0M368.0 435.7h0M370.4 435.5h0M377.1 435.4h0M384.4 436.3h0M391.2 436.0h0M406.3 436.7h0M415.6 435.1h0M418.8 435.5h0M426.7 436.8h0M435.9 436.0h0M443.8 436.8h0M386.1 438.3h0M390.6 437.1h0M396.6 436.4h0M399.9 437.7h0M410.3 437.7h0M413.0 436.7h0M445.7 438.4h0M362.8 440.0h0M363.5 439.8h0M365.8 439.6h0M372.6 438.9h0M373.3 438.3h0M382.0 439.1h0M383.1 438.3h0M386.5 439.2h0M393.0 438.2h0M443.7 439.5h0M370.4 439.5h0M375.2 441.2h0M395.8 439.7h0M397.9 440.6h0M401.2 440.1h0M406.7 439.5h0M410.2 439.5h0M419.7 439.5h0M434.7 440.5h0M440.8 440.3h0M440.9 439.4h0M445.8 440.6h0M352.6 442.9h0M358.4 441.6h0M379.8 442.4h0M400.5 442.6h0M407.7 442.0h0M407.8 441.7h0M424.7 441.3h0M433.8 443.1h0M434.7 441.3h0M355.3 444.2h0M357.2 443.1h0M366.9 443.7h0M387.3 443.7h0M390.9 443.8h0M392.4 442.8h0M410.7 443.4h0M412.5 443.7h0M420.5 443.1h0M445.4 443.6h0M351.0 445.4h0M364.4 444.4h0M372.2 445.3h0M378.2 445.6h0M395.9 444.5h0M414.0 445.0h0M441.3 444.1h0M364.4 447.3h0M373.3 446.3h0M381.4 446.9h0M415.7 447.6h0M426.1 446.1h0M427.5 445.9h0M433.0 447.3h0M437.7 446.1h0M440.7 446.9h0M358.4 447.4h0M405.4 447.3h0M407.0 447.5h0M413.7 448.9h0M436.1 448.3h0M355.6 450.2h0M361.5 449.5h0M362.6 450.6h0M365.5 450.5h0M375.6 450.1h0M384.8 450.8h0M389.5 449.6h0M403.4 449.5h0M406.2 449.0h0M411.4 449.5h0M418.7 449.8h0M423.6 448.8h0M433.0 450.2h0M435.2 450.5h0M440.5 449.4h0M446.8 449.0h0M355.2 451.2h0M370.6 450.4h0M374.4 451.2h0M390.5 452.0h0M394.7 451.0h0M412.6 450.5h0M416.3 451.7h0M425.0 451.7h0M426.4 452.2h0M430.1 451.0h0M358.0 453.8h0M360.9 452.8h0M380.3 452.1h0M386.5 453.4h0M389.3 453.8h0M399.7 452.1h0M403.7 452.9h0M407.5 453.9h0M431.4 451.9h0M442.4 454.0h0M356.9 453.7h0M370.3 454.0h0M371.3 453.4h0M379.9 454.1h0M384.9 455.5h0M384.7 454.6h0M393.6 453.6h0M397.5 453.5h0M419.4 454.1h0M423.3 453.7h0M425.7 453.5h0M435.0 453.9h0M440.6 454.8h0M354.3 456.7h0M367.8 456.5h0M371.0 455.4h0M376.3 456.4h0M388.7 456.3h0M400.6 456.6h0M403.5 456.0h0M410.2 455.9h0M411.0 456.5h0M412.8 456.0h0M417.8 455.0h0M437.5 455.0h0M442.2 455.7h0M446.6 456.2h0M363.5 458.2h0M369.4 458.5h0M369.9 457.6h0M374.5 457.7h0M394.0 458.1h0M397.7 457.7h0M424.4 458.3h0M434.9 457.9h0M444.2 457.6h0M445.0 456.8h0M358.4 458.2h0M362.4 459.5h0M364.8 459.0h0M386.5 459.7h0M395.9 459.5h0M399.9 459.3h0M401.9 459.9h0M408.1 458.2h0M412.8 460.1h0M421.8 458.8h0M421.9 458.0h0M425.3 459.0h0M430.9 458.9h0M434.1 459.5h0M440.3 458.2h0M354.4 461.7h0M368.5 459.7h0M375.8 460.2h0M381.9 460.6h0M384.8 460.0h0M386.1 459.7h0M407.3 461.2h0M440.7 460.2h0M441.8 461.0h0M354.7 462.0h0M359.8 462.1h0M364.2 462.7h0M365.8 461.8h0M383.5 461.4h0M399.5 461.6h0M400.2 461.9h0M406.5 461.5h0M409.9 462.5h0M424.4 463.0h0M429.6 462.2h0M432.8 462.9h0M354.1 463.6h0M364.9 463.9h0M376.8 463.3h0M387.8 463.0h0M403.9 463.1h0M406.8 463.8h0M413.5 462.7h0M425.0 464.5h0M433.0 463.6h0M446.8 463.2h0M361.8 465.9h0M365.4 464.5h0M387.7 464.3h0M403.0 464.6h0M403.5 464.9h0M407.8 466.2h0M412.8 465.5h0M416.1 465.6h0M435.2 464.5h0M446.6 465.2h0M357.5 467.6h0M366.3 467.8h0M367.6 466.8h0M386.3 466.5h0M391.2 467.5h0M398.4 467.3h0M404.2 466.2h0M405.5 467.6h0M406.4 466.1h0M419.6 467.2h0M428.1 466.7h0M435.4 466.2h0M437.3 467.7h0M445.3 466.7h0M360.3 468.6h0M372.4 467.7h0M379.2 468.1h0M381.7 468.6h0M384.9 469.1h0M406.6 467.6h0M432.0 468.6h0M443.0 467.5h0M443.5 467.8h0M358.8 470.1h0M366.0 470.6h0M375.0 470.4h0M376.9 468.9h0M405.2 469.7h0M407.2 469.2h0M408.8 470.4h0M417.3 470.8h0M426.8 469.1h0M431.0 469.8h0M436.7 469.5h0M440.5 470.0h0M446.3 469.6h0M351.1 471.8h0M358.1 472.6h0M374.3 471.1h0M391.3 470.5h0M394.0 471.5h0M400.7 470.6h0M408.0 472.0h0M420.3 471.1h0M420.8 470.6h0M423.6 470.8h0M441.4 472.0h0M448.0 470.6h0M356.0 473.8h0M360.4 472.2h0M386.5 472.7h0M401.8 474.0h0M411.3 474.0h0M417.2 473.8h0M420.5 474.1h0M420.8 473.8h0M434.2 473.0h0M437.4 473.1h0M350.7 475.5h0M352.2 475.5h0M363.1 475.0h0M364.3 474.4h0M369.3 474.1h0M371.3 473.7h0M372.2 474.2h0M380.1 474.2h0M384.1 474.0h0M403.3 474.2h0M409.6 475.4h0M416.8 475.5h0M419.3 475.1h0M423.4 475.4h0M438.3 474.1h0M443.3 473.9h0M381.7 476.3h0M386.0 476.0h0M399.7 475.6h0M403.3 477.2h0M407.2 476.0h0M429.1 476.5h0M429.9 476.4h0M444.9 476.0h0M363.4 478.5h0M366.8 477.2h0M379.2 476.7h0M384.5 477.0h0M410.5 477.1h0M415.7 478.6h0M417.6 477.1h0M420.9 477.5h0M428.2 477.2h0M429.1 477.8h0M433.4 478.1h0M356.7 478.2h0M371.0 479.1h0M371.6 479.5h0M372.2 480.0h0M379.9 478.8h0M404.8 479.6h0M408.9 479.1h0M411.3 479.3h0M418.4 479.2h0M422.3 478.9h0M428.4 479.9h0M431.2 478.3h0M447.3 480.1h0M359.9 479.9h0M371.1 480.2h0M373.8 480.1h0M378.5 480.4h0M391.0 481.7h0M394.3 480.3h0M395.0 481.7h0M408.0 479.8h0M416.1 481.6h0M423.2 480.6h0M431.6 480.3h0M439.8 481.0h0M354.1 482.4h0M416.0 481.6h0M417.2 483.1h0M420.7 483.2h0M427.4 483.2h0M430.6 481.6h0M443.7 482.7h0M447.4 482.5h0M354.5 483.6h0M357.1 483.1h0M361.6 483.3h0M363.0 483.5h0M368.0 483.3h0M375.0 483.2h0M380.7 483.2h0M381.8 484.6h0M383.0 484.9h0M420.6 483.7h0M429.6 483.3h0M433.6 484.2h0M446.6 483.7h0M447.8 484.3h0M359.1 485.0h0M363.6 486.0h0M367.3 485.5h0M369.3 484.7h0M374.6 486.4h0M379.0 484.5h0M389.0 485.0h0M394.7 484.6h0M418.6 484.7h0M420.4 486.0h0M423.1 484.5h0M426.6 484.5h0M432.6 485.4h0M353.1 488.1h0M357.9 487.1h0M365.4 487.2h0M373.6 486.5h0M387.2 486.4h0M424.5 488.1h0M428.4 487.6h0M430.3 487.4h0M439.8 487.0h0M444.0 487.5h0M356.2 489.4h0M359.5 487.8h0M374.3 487.6h0M390.1 488.2h0M394.4 487.7h0M405.0 488.8h0M407.5 489.6h0M410.3 488.4h0M422.3 488.0h0M437.2 488.4h0M442.7 488.8h0M352.7 490.9h0M355.8 489.5h0M376.9 491.1h0M388.8 491.1h0M392.4 490.5h0M396.6 490.1h0M406.6 489.0h0M411.8 489.4h0M426.4 490.4h0M440.4 491.1h0M355.0 490.7h0M364.4 490.8h0M367.4 492.1h0M383.0 491.5h0M390.8 492.5h0M404.9 491.9h0M414.3 491.8h0M433.1 491.6h0M436.9 491.9h0M442.2 492.4h0M365.1 494.1h0M368.6 494.0h0M369.8 493.3h0M376.6 493.5h0M387.4 492.4h0M390.3 493.4h0M404.7 492.5h0M408.2 494.2h0M412.5 494.1h0M414.3 493.1h0M420.7 493.7h0M436.2 493.7h0M442.1 493.0h0M446.1 492.8h0M366.2 494.8h0M383.2 495.8h0M389.3 494.6h0M403.2 495.6h0M405.2 494.6h0M409.1 494.7h0M417.2 493.8h0M420.5 495.0h0M425.4 494.1h0M430.7 494.8h0M431.7 495.7h0M354.2 496.0h0M359.6 497.1h0M364.7 497.4h0M374.6 495.5h0M376.7 495.7h0M389.5 496.7h0M371.5 498.3h0M380.2 497.5h0M381.0 498.5h0M382.4 498.4h0M387.5 496.9h0M389.6 497.3h0M399.8 496.9h0M436.3 498.8h0" stroke="#4e6e9c" stroke-width="1.5" stroke-linecap="round"/>
<path d="M369.1 424.2h0M403.3 425.6h0M435.8 424.0h0M366.6 426.0h0M393.9 426.3h0M414.1 426.9h0M422.5 425.7h0M364.8 428.1h0M376.9 427.1h0M428.9 428.9h0M387.1 429.0h0M407.9 428.8h0M431.0 428.9h0M404.2 430.3h0M441.7 431.4h0M361.0 432.7h0M381.8 432.1h0M440.8 432.4h0M444.1 432.0h0M420.3 434.6h0M353.4 434.8h0M362.0 435.4h0M405.0 435.6h0M420.8 435.6h0M404.3 436.9h0M426.2 437.2h0M432.6 439.8h0M445.3 439.2h0M390.3 441.5h0M360.9 441.9h0M369.5 443.0h0M364.4 444.3h0M417.2 444.0h0M384.9 446.0h0M388.1 445.9h0M406.7 445.0h0M414.5 444.7h0M420.6 445.9h0M432.4 445.6h0M446.2 445.5h0M371.1 449.1h0M383.2 449.2h0M387.1 448.5h0M404.3 449.2h0M433.1 448.2h0M360.3 450.6h0M397.1 449.6h0M368.9 451.1h0M421.7 452.0h0M433.0 450.9h0M354.4 453.2h0M406.1 454.1h0M414.1 455.1h0M361.3 458.2h0M379.5 456.5h0M416.4 458.1h0M419.5 457.2h0M448.5 458.1h0M376.3 459.0h0M412.9 461.7h0M432.7 461.3h0M371.2 461.3h0M391.9 463.2h0M447.7 462.6h0M373.5 463.8h0M426.6 463.2h0M373.6 466.0h0M383.8 464.7h0M395.6 464.6h0M402.0 464.8h0M430.7 465.9h0M382.9 466.0h0M440.5 466.1h0M445.9 466.4h0M398.9 468.2h0M414.7 468.6h0M421.0 468.0h0M430.1 468.7h0M446.3 468.8h0M351.1 470.2h0M358.4 470.8h0M372.8 469.4h0M369.6 472.5h0M382.1 471.8h0M387.9 471.7h0M435.0 472.2h0M358.5 473.5h0M373.4 472.9h0M415.2 473.7h0M438.8 472.3h0M405.6 474.8h0M413.5 475.0h0M406.7 476.4h0M358.4 478.7h0M424.9 477.4h0M441.9 478.4h0M360.5 479.8h0M384.3 478.5h0M400.1 482.9h0M408.9 483.0h0M410.8 483.4h0M418.8 482.8h0M371.8 484.9h0M399.1 483.8h0M405.6 483.4h0M408.2 483.1h0M425.0 483.1h0M425.5 483.9h0M427.4 484.6h0M361.4 486.4h0M396.2 485.3h0M407.5 486.1h0M446.0 484.8h0M362.7 486.5h0M426.7 487.7h0M370.9 489.5h0M378.5 487.7h0M389.5 487.9h0M425.7 489.0h0M360.8 489.4h0M397.5 489.4h0M372.9 492.4h0M383.1 492.3h0M385.5 492.9h0M395.5 492.7h0M356.0 493.9h0M427.1 493.8h0M437.6 494.8h0M391.5 496.5h0M397.5 496.3h0M432.6 496.2h0M408.3 497.5h0M418.2 498.3h0M431.3 498.4h0" stroke="#7c96ba" stroke-width="1.0" stroke-linecap="round"/>
<path d="M379.0 426.0h0M388.3 425.9h0M396.8 424.4h0M424.7 425.4h0M425.3 425.5h0M353.6 425.7h0M426.4 426.8h0M439.1 426.0h0M445.8 425.5h0M354.3 428.5h0M360.2 428.5h0M387.4 428.6h0M392.9 427.5h0M419.7 427.9h0M423.6 428.1h0M424.8 429.3h0M426.6 429.7h0M436.6 428.7h0M403.4 432.1h0M443.1 431.5h0M361.9 433.5h0M369.1 432.3h0M379.5 433.7h0M380.4 432.5h0M413.0 432.8h0M423.5 432.5h0M424.5 432.1h0M352.3 433.2h0M366.2 433.9h0M386.3 434.0h0M411.4 433.3h0M414.4 433.3h0M437.6 433.6h0M388.2 434.8h0M352.4 437.4h0M356.9 438.3h0M371.1 438.5h0M375.3 437.0h0M403.3 437.2h0M407.8 436.7h0M415.7 437.6h0M419.2 437.7h0M426.8 437.9h0M351.2 438.9h0M399.9 439.7h0M401.2 438.5h0M415.2 439.4h0M423.6 439.6h0M366.2 440.4h0M407.7 440.5h0M415.9 440.5h0M426.9 440.9h0M431.2 440.1h0M366.0 441.9h0M380.1 441.2h0M404.9 442.0h0M426.6 442.1h0M428.1 442.8h0M363.0 444.6h0M377.4 443.0h0M378.6 443.0h0M392.9 443.3h0M405.4 443.6h0M442.7 444.2h0M354.8 445.0h0M355.1 445.3h0M358.8 446.2h0M359.8 444.3h0M423.6 444.9h0M424.6 445.3h0M435.8 444.3h0M378.6 446.8h0M395.5 447.5h0M406.2 446.9h0M409.7 446.4h0M445.8 446.7h0M384.9 448.3h0M423.0 448.2h0M394.5 450.4h0M411.2 449.1h0M428.2 450.3h0M357.8 450.8h0M373.1 450.3h0M399.3 452.2h0M365.0 452.7h0M377.7 453.2h0M393.4 452.6h0M409.3 453.2h0M411.4 452.6h0M354.1 453.5h0M358.6 455.1h0M400.4 454.0h0M404.3 453.6h0M410.4 455.5h0M393.3 455.3h0M438.1 455.8h0M443.8 455.0h0M355.1 456.7h0M371.5 457.0h0M373.0 456.8h0M394.6 458.4h0M355.3 458.1h0M376.8 458.8h0M397.2 458.3h0M356.8 460.8h0M357.1 460.1h0M391.6 460.4h0M394.0 460.4h0M404.9 461.4h0M418.4 461.7h0M423.7 460.7h0M372.4 462.6h0M384.2 461.5h0M422.8 463.0h0M439.0 462.1h0M350.8 463.4h0M394.1 464.0h0M431.2 464.7h0M440.4 462.7h0M371.4 465.0h0M388.3 464.9h0M392.3 465.4h0M422.7 466.3h0M369.8 467.3h0M401.8 467.3h0M409.7 467.8h0M440.2 466.5h0M376.3 467.6h0M420.6 469.4h0M442.2 470.3h0M356.4 471.8h0M366.3 472.4h0M370.4 472.4h0M381.2 471.1h0M427.1 472.2h0M350.6 472.5h0M370.9 472.6h0M371.3 472.5h0M382.1 473.1h0M385.2 473.1h0M392.0 473.6h0M396.7 473.7h0M412.5 474.1h0M386.1 474.0h0M386.4 473.7h0M389.4 475.3h0M428.1 474.5h0M358.7 475.9h0M363.0 475.9h0M426.4 476.1h0M435.5 476.3h0M365.7 476.9h0M375.2 478.2h0M381.1 477.4h0M397.1 477.9h0M431.2 476.6h0M356.9 479.5h0M416.1 479.2h0M442.2 479.5h0M369.1 480.3h0M400.7 479.9h0M424.7 479.9h0M433.0 481.2h0M356.1 481.8h0M364.7 482.7h0M375.7 481.7h0M405.5 481.3h0M376.8 484.1h0M392.6 483.8h0M408.0 483.2h0M381.0 485.1h0M408.4 486.0h0M415.5 485.3h0M443.7 485.1h0M378.1 487.2h0M385.5 487.1h0M353.1 488.5h0M363.1 487.9h0M395.7 488.3h0M413.3 488.6h0M435.7 489.5h0M446.4 488.1h0M369.2 490.0h0M379.8 490.1h0M382.9 489.7h0M387.4 491.1h0M400.2 490.7h0M400.9 489.0h0M423.1 489.9h0M423.7 490.6h0M430.9 489.8h0M434.1 489.9h0M353.3 490.8h0M363.8 490.8h0M366.8 493.2h0M377.5 494.3h0M384.8 493.6h0M411.0 492.4h0M414.3 493.2h0M427.6 493.0h0M369.3 493.7h0M439.7 495.8h0M442.1 495.7h0M443.8 494.4h0M362.8 496.3h0M380.5 496.4h0M432.7 496.0h0M357.1 498.1h0M383.1 497.7h0M407.9 498.3h0M443.5 498.4h0M444.7 497.9h0" stroke="#34507a" stroke-width="1.5" stroke-linecap="round"/>
<path d="M380.6 424.5h0M390.2 424.7h0M358.3 426.4h0M420.8 425.5h0M355.2 428.0h0M388.5 427.2h0M394.4 429.1h0M402.7 428.7h0M358.0 431.1h0M375.3 432.2h0M392.6 430.9h0M397.0 431.8h0M399.1 431.2h0M410.4 432.0h0M358.7 432.8h0M431.0 431.9h0M438.3 432.6h0M442.0 433.7h0M372.4 435.2h0M404.9 434.9h0M409.8 434.5h0M440.1 434.7h0M376.2 435.7h0M384.7 434.8h0M420.0 436.0h0M439.0 436.4h0M363.8 437.0h0M394.4 436.5h0M421.4 437.4h0M375.0 439.4h0M383.1 439.9h0M420.3 441.3h0M371.0 442.4h0M385.0 441.6h0M392.8 441.9h0M351.0 442.9h0M386.7 443.8h0M409.2 443.9h0M420.1 442.5h0M432.8 442.6h0M427.5 444.9h0M429.6 444.2h0M435.2 444.8h0M353.8 446.1h0M363.1 446.7h0M390.5 447.4h0M391.5 446.1h0M394.4 446.1h0M422.6 446.7h0M440.3 447.0h0M381.9 449.2h0M391.3 449.0h0M402.7 448.3h0M438.2 449.3h0M357.9 449.6h0M379.6 450.4h0M386.4 450.9h0M409.5 450.7h0M416.1 450.0h0M433.2 450.8h0M428.9 450.9h0M446.3 452.3h0M431.8 452.9h0M439.3 453.4h0M439.8 452.0h0M409.5 456.9h0M421.9 456.1h0M430.5 455.1h0M389.0 457.1h0M412.5 458.4h0M416.0 456.6h0M417.3 457.5h0M352.1 460.1h0M432.4 458.6h0M410.2 461.2h0M369.0 463.0h0M390.2 461.3h0M396.3 461.2h0M404.8 461.4h0M367.8 463.0h0M381.2 463.5h0M384.9 463.4h0M392.5 464.7h0M378.3 466.3h0M440.5 465.6h0M444.6 465.8h0M358.5 466.6h0M377.1 466.6h0M381.7 467.2h0M352.7 468.8h0M379.9 467.7h0M447.9 467.6h0M415.8 470.1h0M421.7 470.7h0M428.8 469.0h0M376.1 471.3h0M403.2 470.6h0M408.5 471.0h0M429.7 472.4h0M434.6 471.7h0M380.5 472.9h0M358.6 474.4h0M364.4 473.7h0M373.1 475.8h0M387.3 475.5h0M387.8 476.1h0M433.1 475.6h0M437.4 476.0h0M437.2 476.1h0M446.9 475.3h0M362.5 478.2h0M369.9 477.4h0M415.9 478.8h0M398.7 479.0h0M403.2 479.2h0M429.8 478.4h0M381.8 481.5h0M408.2 481.3h0M411.4 481.6h0M412.7 480.2h0M379.0 482.6h0M440.6 481.7h0M442.5 482.4h0M412.9 484.9h0M354.9 484.4h0M385.0 484.6h0M430.0 485.2h0M442.0 484.5h0M350.7 486.2h0M394.1 486.1h0M403.2 486.4h0M409.0 487.1h0M366.3 489.0h0M375.7 488.7h0M440.1 488.7h0M414.5 490.1h0M432.3 489.6h0M445.5 489.8h0M351.0 492.6h0M356.4 491.8h0M374.8 491.4h0M407.9 492.4h0M356.6 492.7h0M364.2 492.6h0M417.0 493.2h0M426.8 493.6h0M404.7 495.4h0M411.2 494.5h0M421.5 495.0h0M408.3 495.7h0M446.6 497.3h0M388.5 498.1h0M396.1 498.7h0M402.1 498.1h0M412.8 498.8h0M437.3 496.9h0" stroke="#4e6e9c" stroke-width="1.0" stroke-linecap="round"/>
<path d="M385.0 424.5h0M385.8 426.0h0M447.0 425.1h0M371.1 425.5h0M378.7 426.5h0M403.8 426.7h0M421.8 427.6h0M448.5 426.0h0M353.7 427.4h0M358.7 427.1h0M367.0 429.0h0M375.8 429.1h0M383.0 428.1h0M445.5 428.1h0M353.8 428.8h0M372.4 430.3h0M405.2 429.7h0M417.1 430.0h0M421.6 430.5h0M434.8 430.3h0M442.0 428.7h0M355.6 430.4h0M360.8 431.6h0M362.1 430.4h0M437.3 431.1h0M352.9 431.9h0M368.7 432.2h0M385.3 432.0h0M402.8 433.4h0M406.4 432.7h0M415.9 433.0h0M428.6 433.0h0M431.5 432.9h0M435.7 433.0h0M361.8 435.2h0M366.9 433.9h0M423.9 434.8h0M359.9 436.5h0M374.5 436.0h0M382.7 436.5h0M395.2 436.7h0M397.2 435.5h0M402.0 434.8h0M426.6 436.1h0M445.7 436.6h0M377.2 436.6h0M391.5 436.6h0M401.4 436.4h0M447.3 437.3h0M354.7 438.0h0M359.9 439.3h0M366.1 438.6h0M398.0 438.9h0M405.3 439.8h0M411.7 439.0h0M414.0 439.8h0M424.7 438.3h0M436.5 439.7h0M438.1 438.4h0M385.1 441.3h0M400.5 440.5h0M408.3 439.8h0M412.2 441.1h0M439.2 439.4h0M361.6 442.4h0M393.5 441.1h0M409.4 441.8h0M411.8 443.0h0M441.2 442.1h0M360.4 443.5h0M395.5 443.0h0M396.1 444.3h0M400.1 443.3h0M426.5 443.4h0M441.6 443.7h0M444.3 444.4h0M352.1 446.1h0M363.6 444.8h0M380.1 444.8h0M386.6 444.9h0M390.2 444.4h0M405.2 445.7h0M409.2 445.7h0M367.3 446.4h0M376.2 447.5h0M386.3 447.3h0M403.9 445.6h0M406.9 446.3h0M414.5 445.9h0M356.8 447.8h0M360.8 447.2h0M367.0 447.8h0M367.6 448.8h0M378.4 448.6h0M383.3 447.2h0M409.5 448.2h0M416.0 447.7h0M418.7 448.3h0M429.6 450.3h0M352.6 452.2h0M360.6 450.8h0M365.7 450.4h0M367.6 452.3h0M380.1 452.3h0M389.5 452.2h0M392.1 452.2h0M396.0 450.9h0M376.3 452.0h0M360.7 453.4h0M361.4 454.3h0M367.7 454.1h0M375.4 455.1h0M386.9 455.1h0M389.4 454.9h0M409.0 455.4h0M411.0 455.3h0M426.9 454.8h0M428.2 455.4h0M437.8 453.5h0M358.8 456.9h0M361.7 455.4h0M363.2 455.5h0M406.6 456.7h0M353.0 457.0h0M401.7 457.4h0M425.4 457.6h0M426.4 458.2h0M439.0 457.4h0M371.0 458.8h0M392.5 459.5h0M448.2 458.9h0M364.5 460.0h0M366.8 459.8h0M369.3 460.5h0M376.7 460.3h0M387.6 459.6h0M425.3 461.3h0M438.1 461.4h0M442.6 460.8h0M367.2 461.1h0M378.9 461.6h0M395.0 463.1h0M398.3 462.6h0M431.1 462.8h0M436.0 463.3h0M436.4 463.0h0M446.7 461.9h0M364.4 463.6h0M397.9 463.0h0M405.2 464.7h0M361.6 464.9h0M363.3 464.8h0M367.1 464.2h0M379.4 464.6h0M391.2 464.3h0M446.9 466.2h0M353.3 467.7h0M356.5 466.4h0M364.6 465.8h0M372.2 467.4h0M374.2 466.6h0M383.9 465.8h0M387.7 466.4h0M396.0 467.5h0M401.2 466.8h0M412.3 466.9h0M412.5 466.2h0M414.7 467.5h0M422.1 467.4h0M358.0 467.7h0M417.8 468.4h0M372.0 471.0h0M381.5 469.4h0M383.9 470.5h0M395.7 470.2h0M402.2 469.3h0M424.0 470.6h0M363.9 470.8h0M374.0 471.0h0M378.7 472.0h0M405.6 471.4h0M429.0 471.8h0M366.6 472.2h0M400.2 473.9h0M406.1 473.7h0M408.9 473.3h0M433.0 473.1h0M443.6 473.4h0M354.1 474.5h0M358.1 474.5h0M374.2 475.2h0M390.9 475.6h0M401.7 475.6h0M414.0 474.7h0M417.1 474.4h0M423.6 475.1h0M435.2 474.2h0M444.8 475.4h0M356.7 476.3h0M368.1 475.7h0M395.0 475.2h0M408.7 476.3h0M414.0 476.2h0M414.9 476.1h0M423.4 475.9h0M432.8 477.0h0M439.7 476.3h0M391.0 476.8h0M399.3 477.9h0M401.8 476.7h0M419.9 478.3h0M444.5 478.3h0M351.7 480.3h0M361.7 479.0h0M364.5 478.4h0M380.9 479.0h0M400.4 480.2h0M405.6 479.8h0M411.5 478.5h0M426.9 478.4h0M429.3 478.4h0M376.5 479.9h0M387.1 480.8h0M417.1 481.9h0M435.0 480.4h0M372.1 482.0h0M385.0 483.0h0M386.8 483.1h0M438.7 482.7h0M445.4 482.4h0M417.4 483.1h0M435.5 483.3h0M443.1 484.9h0M445.4 484.1h0M351.0 485.0h0M362.1 485.2h0M377.4 484.9h0M384.6 486.0h0M409.4 484.5h0M430.3 486.0h0M434.6 485.9h0M358.2 488.1h0M389.1 487.2h0M391.9 486.1h0M403.3 487.3h0M406.2 486.8h0M406.9 487.2h0M419.0 487.6h0M437.1 487.3h0M354.5 487.9h0M359.9 488.8h0M371.0 487.9h0M373.8 488.6h0M382.4 488.3h0M393.5 488.4h0M414.4 487.7h0M418.5 489.3h0M429.8 488.8h0M357.7 490.0h0M416.9 490.9h0M439.4 490.7h0M447.5 490.5h0M360.2 492.6h0M361.7 491.9h0M367.9 492.2h0M380.6 490.7h0M411.3 491.7h0M428.8 492.0h0M432.3 491.4h0M440.7 491.9h0M447.5 491.5h0M352.2 493.1h0M374.9 494.0h0M423.6 494.2h0M430.5 494.2h0M374.9 495.8h0M377.0 494.8h0M351.8 495.7h0M384.9 495.7h0M399.3 495.2h0M400.1 496.4h0M435.5 496.9h0M441.2 495.5h0M443.0 495.5h0M447.3 497.3h0M352.3 498.9h0M357.0 498.6h0M360.6 497.4h0M370.4 498.3h0M373.2 497.0h0M375.1 496.8h0M420.6 498.0h0M438.5 497.7h0" stroke="#a8b4c4" stroke-width="1.5" stroke-linecap="round"/>
<path d="M399.0 424.9h0M390.8 426.5h0M416.7 426.2h0M433.0 431.0h0M426.5 432.4h0M437.7 434.9h0M441.1 436.8h0M378.1 440.9h0M403.2 440.3h0M413.3 439.6h0M412.5 441.5h0M419.7 443.0h0M437.4 441.7h0M405.3 443.4h0M447.2 445.2h0M358.7 446.4h0M388.3 446.4h0M400.6 445.8h0M418.0 446.6h0M420.8 448.2h0M443.8 447.9h0M355.1 448.7h0M352.1 452.1h0M377.5 455.3h0M444.2 455.3h0M398.9 455.8h0M414.3 457.0h0M424.6 455.7h0M400.8 457.9h0M435.9 456.6h0M361.2 458.6h0M423.6 459.5h0M378.9 461.5h0M390.0 462.7h0M423.8 463.2h0M425.1 466.2h0M426.8 467.5h0M355.7 468.0h0M370.7 467.5h0M412.8 468.0h0M439.4 471.0h0M444.6 472.4h0M380.4 474.1h0M366.6 474.9h0M370.0 477.2h0M375.4 477.1h0M437.0 478.5h0M395.3 479.8h0M413.1 478.2h0M373.9 481.3h0M437.3 482.2h0M370.2 484.6h0M398.8 483.9h0M414.0 484.2h0M428.7 484.7h0M401.5 485.5h0M415.5 484.5h0M368.5 488.3h0M367.1 491.2h0M392.5 497.5h0" stroke="#e8eaec" stroke-width="2.0" stroke-linecap="round"/>
<path d="M402.5 426.0h0M448.5 427.4h0M388.5 430.8h0M355.1 431.7h0M367.9 433.0h0M394.2 433.5h0M358.2 438.0h0M444.2 437.0h0M394.0 437.9h0M375.3 440.2h0M445.0 442.4h0M398.0 443.0h0M433.4 444.9h0M379.0 447.1h0M372.3 450.2h0M391.9 450.0h0M445.1 449.5h0M428.3 450.9h0M417.8 454.2h0M358.5 457.8h0M389.3 456.9h0M443.9 459.2h0M415.8 459.6h0M437.5 464.2h0M443.3 464.3h0M390.9 469.3h0M435.0 468.5h0M444.7 470.2h0M446.6 470.9h0M411.2 471.8h0M353.1 475.9h0M382.0 477.8h0M368.8 479.6h0M403.4 482.5h0M429.7 481.4h0M389.2 483.3h0M392.8 490.3h0M442.2 490.6h0M355.3 492.2h0M415.9 495.4h0M398.2 497.5h0" stroke="#9a8668" stroke-width="2.0" stroke-linecap="round"/>
<path d="M415.5 426.0h0M429.6 424.7h0M433.6 425.3h0M438.5 424.7h0M356.5 427.6h0M392.3 426.5h0M418.3 425.5h0M443.0 426.1h0M351.4 428.6h0M368.0 427.8h0M427.1 427.4h0M358.3 429.2h0M389.4 429.3h0M397.2 430.2h0M400.4 430.6h0M420.5 428.6h0M423.4 429.7h0M364.7 430.1h0M383.2 431.0h0M417.3 431.8h0M435.9 430.8h0M364.9 433.5h0M442.0 433.1h0M355.0 435.1h0M396.1 434.0h0M405.2 434.0h0M429.4 435.2h0M414.2 435.0h0M443.9 435.4h0M359.5 437.2h0M375.8 437.2h0M380.3 436.6h0M392.4 438.5h0M409.7 438.6h0M381.9 439.4h0M386.9 441.3h0M431.6 442.8h0M367.5 443.0h0M376.0 443.9h0M401.6 443.8h0M435.8 443.8h0M438.2 442.9h0M362.3 445.1h0M388.2 444.4h0M399.0 446.1h0M426.4 445.5h0M380.5 445.8h0M431.0 446.4h0M433.0 447.5h0M370.7 448.9h0M396.1 447.5h0M398.6 447.6h0M411.7 447.8h0M440.5 448.9h0M364.2 448.9h0M380.5 450.8h0M439.1 450.5h0M402.1 450.5h0M434.5 452.2h0M358.9 452.9h0M370.2 453.1h0M372.8 452.3h0M431.4 455.5h0M377.3 455.1h0M400.4 455.0h0M425.1 455.1h0M440.2 455.9h0M383.0 457.9h0M386.1 458.0h0M434.3 457.1h0M374.8 458.1h0M394.0 458.0h0M418.9 459.8h0M441.1 460.0h0M446.8 459.9h0M351.4 460.9h0M360.8 460.6h0M362.6 461.3h0M353.9 462.1h0M359.8 462.1h0M376.7 462.9h0M416.0 462.4h0M426.2 461.4h0M359.7 463.3h0M399.6 463.5h0M417.4 463.4h0M444.0 463.4h0M374.8 465.0h0M414.5 465.6h0M437.9 465.1h0M378.0 466.4h0M360.4 467.5h0M402.4 468.8h0M404.3 467.4h0M353.8 470.9h0M365.2 469.6h0M433.3 469.9h0M439.9 471.7h0M427.1 472.7h0M436.8 473.3h0M377.1 476.4h0M382.6 476.1h0M386.4 477.5h0M403.2 478.6h0M366.3 480.2h0M358.7 481.8h0M426.7 480.1h0M448.0 480.2h0M353.9 485.1h0M425.2 486.3h0M443.6 486.2h0M381.4 486.3h0M411.3 486.2h0M352.6 488.2h0M372.3 489.8h0M386.3 489.5h0M436.2 489.1h0M377.6 491.0h0M400.2 490.9h0M401.0 492.4h0M405.4 492.2h0M420.4 491.6h0M360.2 493.8h0M431.3 493.4h0M384.8 494.1h0M432.6 495.4h0M353.6 495.6h0M361.1 497.3h0M423.1 495.5h0M440.7 497.0h0M386.3 498.0h0M447.8 497.2h0" stroke="#7c96ba" stroke-width="2.0" stroke-linecap="round"/>
<path d="M422.3 424.1h0M445.1 425.7h0M413.0 426.4h0M424.4 426.3h0M434.4 426.7h0M440.7 426.5h0M371.8 427.1h0M381.6 428.3h0M441.6 429.1h0M352.3 429.6h0M363.0 430.6h0M370.4 429.0h0M387.5 432.1h0M430.7 432.0h0M377.5 433.1h0M384.8 432.0h0M447.2 432.2h0M363.8 433.4h0M369.2 433.9h0M418.5 434.2h0M433.2 433.7h0M365.5 436.2h0M392.7 435.1h0M439.8 436.9h0M352.5 438.2h0M381.7 438.0h0M415.3 438.1h0M433.0 437.3h0M440.7 438.8h0M351.5 439.7h0M428.3 441.2h0M367.8 441.7h0M375.8 442.0h0M445.1 441.6h0M447.7 441.8h0M375.4 443.0h0M422.1 443.7h0M429.8 442.6h0M430.0 444.6h0M378.9 445.5h0M395.8 444.3h0M375.5 447.5h0M410.7 447.2h0M416.4 446.2h0M373.3 448.0h0M392.7 449.2h0M439.6 448.9h0M427.0 450.8h0M443.2 449.0h0M356.1 451.8h0M383.0 451.0h0M438.0 450.6h0M392.5 452.1h0M447.0 453.2h0M358.6 456.8h0M379.4 456.3h0M388.1 456.1h0M358.0 457.0h0M384.5 458.4h0M407.0 457.7h0M442.1 458.1h0M400.9 459.9h0M408.7 459.9h0M416.5 459.8h0M419.5 459.9h0M378.3 461.3h0M412.4 461.5h0M413.5 462.8h0M356.4 464.2h0M369.6 464.1h0M352.0 464.7h0M370.7 464.7h0M390.7 465.3h0M420.7 465.7h0M380.0 467.3h0M387.5 467.6h0M383.9 469.4h0M389.7 469.0h0M392.4 468.6h0M412.7 469.1h0M426.2 469.1h0M396.1 470.8h0M353.0 470.7h0M390.5 470.5h0M424.7 472.5h0M394.7 475.4h0M378.2 477.2h0M412.6 476.7h0M376.2 479.3h0M381.5 479.8h0M388.0 480.0h0M425.4 478.4h0M364.9 481.4h0M375.0 479.9h0M389.3 480.7h0M405.4 481.5h0M353.2 481.5h0M358.4 481.5h0M388.5 482.9h0M391.1 482.0h0M439.7 482.9h0M351.2 484.3h0M386.8 483.9h0M400.3 484.8h0M401.7 484.0h0M440.2 484.7h0M428.5 486.1h0M396.3 486.6h0M397.1 486.6h0M421.0 487.3h0M357.5 488.6h0M365.5 489.3h0M381.4 490.6h0M404.7 489.9h0M358.6 492.7h0M358.6 491.9h0M386.6 492.7h0M406.7 491.5h0M411.9 492.3h0M436.0 492.1h0M357.3 493.9h0M401.4 492.1h0M429.4 493.0h0M446.6 492.5h0M360.6 494.9h0M355.7 496.9h0M393.2 496.4h0M404.7 495.8h0M425.6 498.6h0M433.8 498.7h0" stroke="#9a8668" stroke-width="1.5" stroke-linecap="round"/>
<path d="M350.7 427.3h0M363.6 427.3h0M398.9 427.3h0M409.0 431.5h0M355.7 433.7h0M373.0 432.7h0M380.2 435.0h0M391.5 434.5h0M400.3 436.9h0M409.9 439.2h0M428.1 439.6h0M393.5 441.5h0M414.8 440.3h0M374.6 441.2h0M389.7 444.5h0M366.6 445.6h0M391.7 444.5h0M448.5 447.8h0M436.4 449.5h0M448.6 449.7h0M378.6 452.4h0M421.4 451.9h0M381.9 452.8h0M383.8 453.4h0M414.3 452.0h0M366.2 454.7h0M402.0 454.6h0M353.0 455.2h0M356.0 456.4h0M412.9 457.4h0M356.9 459.3h0M413.6 461.4h0M386.2 462.9h0M388.9 461.2h0M417.5 463.1h0M398.9 465.0h0M400.7 469.3h0M439.0 468.3h0M425.2 470.6h0M416.5 472.8h0M445.6 473.1h0M358.8 478.3h0M415.1 479.0h0M354.5 480.6h0M404.5 481.7h0M413.0 481.6h0M389.8 484.8h0M391.9 484.6h0M410.1 482.9h0M440.4 484.3h0M375.8 487.5h0M429.7 490.4h0M371.2 491.4h0M445.0 492.2h0M446.6 495.6h0M447.4 495.5h0M394.9 496.0h0M420.2 496.9h0M427.7 497.2h0" stroke="#34507a" stroke-width="2.0" stroke-linecap="round"/>
<path d="M394.4 426.5h0M380.5 427.2h0M396.9 427.2h0M436.2 427.3h0M357.7 429.0h0M419.6 432.2h0M406.8 435.1h0M419.0 433.9h0M354.4 435.3h0M436.5 437.3h0M389.2 439.7h0M357.0 441.4h0M432.0 439.7h0M388.9 441.1h0M398.4 442.3h0M370.8 443.7h0M372.4 443.2h0M368.0 444.4h0M351.9 447.3h0M445.3 447.2h0M401.0 448.8h0M392.9 448.8h0M397.4 449.0h0M359.2 452.1h0M386.7 451.8h0M411.5 450.5h0M422.0 452.1h0M428.9 453.8h0M446.6 454.6h0M374.3 456.1h0M448.4 456.9h0M426.6 460.1h0M400.5 461.3h0M436.5 460.0h0M440.6 464.4h0M385.7 466.4h0M398.6 465.8h0M408.4 465.4h0M416.7 465.6h0M431.9 465.8h0M350.6 468.8h0M372.0 467.6h0M390.7 468.0h0M383.3 470.4h0M392.2 469.0h0M405.1 470.3h0M422.7 470.7h0M380.1 473.8h0M397.2 475.5h0M408.3 473.5h0M441.9 473.9h0M388.9 478.4h0M389.9 477.7h0M414.2 477.2h0M383.2 481.6h0M405.0 480.3h0M370.2 482.1h0M377.2 483.2h0M439.4 485.0h0M393.7 485.5h0M403.3 485.9h0M425.2 487.8h0M428.4 488.4h0M384.4 489.4h0M394.6 490.6h0M409.1 489.9h0M437.6 489.2h0M393.7 490.8h0M370.8 494.2h0M391.8 494.2h0M381.1 494.3h0M406.9 494.2h0M369.2 497.1h0M438.6 497.3h0M363.2 497.0h0M404.2 496.8h0" stroke="#a8b4c4" stroke-width="2.0" stroke-linecap="round"/>
<path d="M396.8 426.0h0M398.6 426.1h0M360.0 427.3h0M409.5 427.2h0M440.9 427.3h0M444.4 428.7h0M380.2 430.0h0M408.0 429.0h0M421.9 430.4h0M358.7 432.3h0M391.6 431.7h0M400.8 434.3h0M418.8 439.4h0M402.0 440.8h0M443.9 440.5h0M355.5 442.1h0M372.7 442.7h0M369.3 446.1h0M442.1 444.4h0M383.5 450.6h0M387.7 452.6h0M403.0 456.5h0M387.8 458.4h0M409.6 456.8h0M372.2 458.8h0M435.4 459.6h0M403.3 462.1h0M448.6 463.1h0M409.6 466.3h0M389.5 466.5h0M416.2 470.9h0M436.9 472.4h0M363.2 472.8h0M394.3 474.7h0M431.0 475.2h0M371.1 475.9h0M391.7 475.6h0M376.9 478.3h0M353.8 480.1h0M366.5 480.4h0M360.0 482.1h0M362.3 484.1h0M403.6 484.2h0M376.8 486.5h0M402.1 486.4h0M366.4 488.2h0M373.9 490.8h0M408.3 493.1h0M393.8 495.6h0M367.3 497.0h0M379.7 496.9h0M416.1 496.9h0" stroke="#e8eaec" stroke-width="1.0" stroke-linecap="round"/>
<path d="M401.1 425.9h0M400.6 427.5h0M444.9 430.8h0M369.4 435.3h0M431.1 434.3h0M424.7 436.5h0M376.5 438.0h0M378.4 438.1h0M381.6 438.0h0M421.8 439.7h0M367.8 441.3h0M405.5 442.6h0M399.9 444.4h0M369.2 447.5h0M442.1 446.8h0M429.6 455.6h0M389.5 459.6h0M439.2 459.1h0M381.5 461.4h0M418.1 462.1h0M429.1 468.4h0M384.0 471.7h0M365.0 472.4h0M447.0 472.0h0M353.6 475.3h0M410.7 476.5h0M437.4 478.3h0M445.5 480.1h0M356.9 481.3h0M434.7 483.2h0M360.5 486.2h0M351.9 495.1h0M387.9 494.1h0M364.6 497.1h0M376.0 498.0h0M406.5 498.0h0" stroke="#9a8668" stroke-width="1.0" stroke-linecap="round"/>
<ellipse cx="364.4" cy="473.4" rx="6.6" ry="4.6" fill="#fdfcfa" stroke="#8a7a70" stroke-width="0.4" stroke-opacity="0.5"/>
<ellipse cx="380.7" cy="482.6" rx="8.6" ry="7.6" fill="#fdfcfa" stroke="#8a7a70" stroke-width="0.4" stroke-opacity="0.5"/>
<ellipse cx="406.7" cy="463.4" rx="2.2" ry="2.2" fill="#fdfcfa" stroke="#8a7a70" stroke-width="0.4" stroke-opacity="0.5"/>
<rect x="418.20" y="474.90" width="28.80" height="22.90" fill="#d9dbde" />
<path d="M419.9 486.0h0M442.2 485.9h0M442.8 495.3h0M444.6 478.6h0M421.1 477.6h0M428.9 478.0h0M429.3 485.6h0M443.1 494.2h0M420.9 487.9h0M435.2 477.7h0M421.5 482.2h0M425.1 491.9h0M443.2 475.2h0M424.9 484.2h0M419.7 497.5h0M422.4 487.8h0M433.8 483.3h0M442.2 490.0h0M426.6 491.1h0M444.3 481.9h0M431.4 482.0h0M432.3 482.5h0M425.6 488.8h0M440.1 479.0h0M429.2 488.1h0M427.6 488.2h0M431.1 489.4h0M443.4 482.6h0M420.4 482.7h0M443.6 477.2h0M419.3 485.9h0M444.4 488.0h0M428.7 491.9h0M425.8 497.6h0M420.1 492.5h0M423.5 491.3h0M421.8 481.1h0M440.3 492.4h0M421.4 488.3h0M438.3 495.5h0M429.1 497.7h0M420.5 494.6h0M446.2 476.1h0M422.6 485.7h0M445.2 485.7h0M430.8 478.9h0M443.7 484.6h0M435.0 491.1h0M423.3 487.4h0M431.5 482.6h0M443.2 488.3h0M430.4 482.6h0M446.5 492.6h0M435.7 478.8h0M418.6 490.4h0M435.1 495.1h0M427.5 493.1h0M429.4 477.9h0M425.5 494.6h0M435.8 483.6h0M434.4 476.9h0M440.3 483.8h0M423.2 482.1h0M444.7 490.1h0M444.4 490.4h0M429.6 493.6h0M419.8 491.0h0M431.4 479.1h0M440.8 479.2h0M435.2 493.5h0M421.1 491.7h0M427.3 488.1h0M435.2 481.6h0M438.4 487.6h0M419.2 495.7h0M442.5 486.7h0M425.5 478.6h0M429.6 494.0h0M429.8 488.3h0M440.5 494.2h0M441.2 495.1h0M424.0 492.5h0M439.6 495.8h0M424.9 475.2h0M437.1 496.3h0M440.1 490.4h0M422.3 496.1h0M422.3 485.6h0M421.7 487.9h0M446.5 483.9h0M441.0 477.4h0M433.4 488.1h0M426.1 476.1h0M425.0 480.2h0M435.6 493.5h0M431.6 476.5h0M444.2 480.7h0M429.2 480.6h0M445.2 496.9h0M433.8 495.8h0M426.5 490.9h0M441.4 494.0h0M428.8 475.2h0M420.2 476.2h0M433.0 497.7h0M419.9 492.0h0M437.5 487.2h0M439.8 478.2h0M441.1 490.3h0M434.6 479.7h0M439.6 483.2h0M427.9 491.2h0M428.0 482.2h0M427.4 497.6h0M438.5 489.7h0M446.4 479.9h0M440.9 493.2h0M438.6 493.8h0M429.4 488.8h0M434.0 479.0h0M422.1 485.0h0M424.0 488.4h0M438.8 475.7h0M446.4 480.7h0M443.4 483.9h0M425.8 484.0h0M431.0 497.0h0M435.7 489.6h0M425.2 478.1h0M440.8 484.8h0M438.4 495.5h0M422.5 492.7h0M436.2 482.5h0M435.0 494.6h0M427.3 489.4h0M440.6 484.1h0M441.5 477.4h0M440.1 490.0h0M423.2 484.5h0M437.9 476.0h0M428.1 482.0h0M442.0 492.6h0M440.1 494.9h0M431.1 493.0h0M439.6 497.2h0M430.1 483.5h0M424.2 478.4h0M433.8 475.4h0M424.9 484.1h0M430.9 486.4h0M434.9 493.3h0M440.9 487.3h0M428.5 494.5h0M423.6 481.7h0M420.5 481.8h0M433.3 478.9h0M419.3 497.4h0M438.6 490.4h0M434.6 496.3h0M434.3 478.9h0M445.5 476.7h0M433.3 480.0h0M442.4 478.7h0M444.6 493.4h0M442.9 481.9h0M435.5 489.4h0M439.5 496.0h0M432.9 496.2h0M437.5 485.8h0M425.5 475.3h0M421.8 486.5h0M439.4 493.7h0M443.9 482.7h0M440.3 480.3h0M431.7 489.3h0M430.4 485.2h0M426.7 482.6h0M429.3 483.9h0M445.2 493.2h0M443.7 497.6h0M436.5 475.1h0M425.7 488.3h0M423.0 491.9h0M437.1 482.8h0M438.8 486.3h0M443.6 486.0h0M436.1 477.3h0M437.5 493.9h0M434.4 491.3h0M430.3 483.2h0M421.8 485.5h0M440.7 485.4h0M421.3 479.5h0M422.4 496.6h0M438.3 494.7h0M427.6 484.8h0M442.6 479.4h0M445.8 480.9h0M438.0 478.5h0M440.2 484.2h0M446.3 497.5h0M427.5 490.7h0M433.5 488.8h0M439.7 485.4h0M421.6 491.2h0M440.6 486.9h0M440.0 488.1h0M423.9 491.8h0M424.9 476.9h0M446.7 495.9h0M437.9 494.7h0M425.7 496.7h0M424.6 483.7h0M445.1 496.0h0M445.1 482.7h0M428.7 493.7h0M428.2 488.6h0M444.5 478.0h0M441.6 476.3h0M418.4 494.1h0" stroke="#b0b4ba" stroke-width="1.0" stroke-linecap="round"/>
<path d="M434.0 477.4h0M420.7 490.3h0M420.8 497.7h0M436.9 483.0h0M430.5 480.6h0M438.2 491.3h0M442.8 478.1h0M426.0 477.8h0M419.4 482.5h0M438.9 493.4h0M425.6 487.2h0M439.4 480.3h0M443.0 479.4h0M440.8 493.7h0M431.5 476.6h0M419.4 492.9h0M425.5 477.1h0M426.8 475.8h0M443.1 479.9h0M440.3 495.5h0M434.4 489.8h0M429.9 478.9h0M429.3 482.3h0M426.6 485.1h0M421.0 493.9h0" stroke="#ffffff" stroke-width="1.3" stroke-linecap="round"/>
<rect x="418.2" y="474.9" width="28.80" height="22.90" fill="none" stroke="#6a6a6a" stroke-width="0.6"/>
<line x1="388.40" y1="495.10" x2="408.60" y2="495.10" stroke="#111" stroke-width="1.6" />
</g></g>
<rect x="351.5" y="425.0" width="95.5" height="72.8" fill="none" stroke="#8a8a8a" stroke-width="0.7"/>
<text x="31.40" y="532.42" font-size="7.84" fill="#231f20" stroke="#231f20" stroke-width="0.08" text-anchor="middle" textLength="19.80" lengthAdjust="spacingAndGlyphs" >Count</text>
<text x="63.00" y="532.42" font-size="7.84" fill="#231f20" stroke="#231f20" stroke-width="0.08" text-anchor="middle" textLength="35.60" lengthAdjust="spacingAndGlyphs" >Gene_ratio</text>
<defs><linearGradient id="gcnt" x1="0" x2="1" y1="0" y2="0"><stop offset="0" stop-color="#7f9cc0"/><stop offset="0.1" stop-color="#c9d5e0"/><stop offset="0.22" stop-color="#fbe7d2"/><stop offset="0.6" stop-color="#f5b870"/><stop offset="1" stop-color="#ef8c1c"/></linearGradient></defs>
<rect x="22.00" y="539.00" width="18.80" height="3.60" fill="url(#gcnt)" />
<circle cx="54.40" cy="541.00" r="3.10" fill="#ffffff" stroke="#222" stroke-width="1.1" />
<circle cx="71.20" cy="541.00" r="4.30" fill="#ffffff" stroke="#222" stroke-width="1.1" />
<text x="24.50" y="553.04" font-size="7.62" fill="#231f20" stroke="#231f20" stroke-width="0.08" text-anchor="middle" textLength="7.00" lengthAdjust="spacingAndGlyphs" >15</text>
<text x="37.00" y="553.04" font-size="7.62" fill="#231f20" stroke="#231f20" stroke-width="0.08" text-anchor="middle" textLength="8.00" lengthAdjust="spacingAndGlyphs" >20</text>
<text x="54.20" y="553.74" font-size="7.62" fill="#231f20" stroke="#231f20" stroke-width="0.08" text-anchor="middle" textLength="14.50" lengthAdjust="spacingAndGlyphs" >0.02</text>
<text x="70.80" y="553.74" font-size="7.62" fill="#231f20" stroke="#231f20" stroke-width="0.08" text-anchor="middle" textLength="14.50" lengthAdjust="spacingAndGlyphs" >0.05</text>
<rect x="16.5" y="559.6" width="68.2" height="147.4" fill="none" stroke="#222" stroke-width="1.0"/>
<line x1="84.70" y1="568.50" x2="87.80" y2="568.50" stroke="#231f20" stroke-width="0.9" />
<text x="92.10" y="571.32" font-size="7.84" fill="#231f20" stroke="#231f20" stroke-width="0.08" textLength="164.40" lengthAdjust="spacingAndGlyphs" >Positive regulation of NK cell mediated cytotoxicity</text>
<line x1="84.70" y1="582.93" x2="87.80" y2="582.93" stroke="#231f20" stroke-width="0.9" />
<text x="92.10" y="585.75" font-size="7.84" fill="#231f20" stroke="#231f20" stroke-width="0.08" textLength="156.80" lengthAdjust="spacingAndGlyphs" >Positive regulation of NK cell mediated immunity</text>
<line x1="84.70" y1="597.36" x2="87.80" y2="597.36" stroke="#231f20" stroke-width="0.9" />
<text x="92.10" y="600.18" font-size="7.84" fill="#231f20" stroke="#231f20" stroke-width="0.08" textLength="133.90" lengthAdjust="spacingAndGlyphs" >Cellular response to tumor necrosis factor</text>
<line x1="84.70" y1="611.79" x2="87.80" y2="611.79" stroke="#231f20" stroke-width="0.9" />
<text x="92.10" y="614.61" font-size="7.84" fill="#231f20" stroke="#231f20" stroke-width="0.08" textLength="160.90" lengthAdjust="spacingAndGlyphs" >Cytokine production involved in immune response</text>
<line x1="84.70" y1="626.22" x2="87.80" y2="626.22" stroke="#231f20" stroke-width="0.9" />
<text x="92.10" y="629.04" font-size="7.84" fill="#231f20" stroke="#231f20" stroke-width="0.08" textLength="126.30" lengthAdjust="spacingAndGlyphs" >Positive regulation of NK cell activation</text>
<line x1="84.70" y1="640.65" x2="87.80" y2="640.65" stroke="#231f20" stroke-width="0.9" />
<text x="92.10" y="643.47" font-size="7.84" fill="#231f20" stroke="#231f20" stroke-width="0.08" textLength="153.30" lengthAdjust="spacingAndGlyphs" >Positive regulation of oxidative phosphorylation</text>
<line x1="84.70" y1="655.08" x2="87.80" y2="655.08" stroke="#231f20" stroke-width="0.9" />
<text x="92.10" y="657.90" font-size="7.84" fill="#231f20" stroke="#231f20" stroke-width="0.08" textLength="157.40" lengthAdjust="spacingAndGlyphs" >Regulation of mitochondrial membrane potential</text>
<line x1="84.70" y1="669.51" x2="87.80" y2="669.51" stroke="#231f20" stroke-width="0.9" />
<text x="92.10" y="672.33" font-size="7.84" fill="#231f20" stroke="#231f20" stroke-width="0.08" textLength="87.50" lengthAdjust="spacingAndGlyphs" >Activation of MAPK activity</text>
<line x1="84.70" y1="683.94" x2="87.80" y2="683.94" stroke="#231f20" stroke-width="0.9" />
<text x="92.10" y="686.76" font-size="7.84" fill="#231f20" stroke="#231f20" stroke-width="0.08" textLength="110.70" lengthAdjust="spacingAndGlyphs" >Regulation of mitochondrial fusion</text>
<line x1="84.70" y1="698.37" x2="87.80" y2="698.37" stroke="#231f20" stroke-width="0.9" />
<text x="92.10" y="701.19" font-size="7.84" fill="#231f20" stroke="#231f20" stroke-width="0.08" textLength="109.70" lengthAdjust="spacingAndGlyphs" >Negative regulation of cell growth</text>
<circle cx="78.00" cy="568.50" r="3.60" fill="#f8d2a6" stroke="#2a2a2a" stroke-width="0.8" />
<circle cx="71.50" cy="582.93" r="3.60" fill="#f8d2a6" stroke="#2a2a2a" stroke-width="0.8" />
<circle cx="58.30" cy="597.36" r="6.60" fill="#ef860e" stroke="#2a2a2a" stroke-width="0.8" />
<circle cx="41.30" cy="611.79" r="4.20" fill="#f8d6ae" stroke="#2a2a2a" stroke-width="0.8" />
<circle cx="36.70" cy="626.22" r="2.60" fill="#f8dcba" stroke="#2a2a2a" stroke-width="0.8" />
<circle cx="31.30" cy="640.65" r="2.50" fill="#6f93bf" stroke="#2a2a2a" stroke-width="0.8" />
<circle cx="27.90" cy="655.08" r="2.50" fill="#a9c1da" stroke="#2a2a2a" stroke-width="0.8" />
<circle cx="22.80" cy="669.51" r="2.50" fill="#bcd0e3" stroke="#2a2a2a" stroke-width="0.8" />
<circle cx="29.30" cy="683.94" r="2.50" fill="#7e9fc6" stroke="#2a2a2a" stroke-width="0.8" />
<circle cx="29.30" cy="698.37" r="2.50" fill="#7193bf" stroke="#2a2a2a" stroke-width="0.8" />
<line x1="30.40" y1="707.00" x2="30.40" y2="710.00" stroke="#231f20" stroke-width="0.9" />
<text x="30.40" y="720.14" font-size="7.62" fill="#231f20" stroke="#231f20" stroke-width="0.08" text-anchor="middle" textLength="3.80" lengthAdjust="spacingAndGlyphs" >2</text>
<line x1="50.80" y1="707.00" x2="50.80" y2="710.00" stroke="#231f20" stroke-width="0.9" />
<text x="50.80" y="720.14" font-size="7.62" fill="#231f20" stroke="#231f20" stroke-width="0.08" text-anchor="middle" textLength="3.80" lengthAdjust="spacingAndGlyphs" >4</text>
<line x1="71.50" y1="707.00" x2="71.50" y2="710.00" stroke="#231f20" stroke-width="0.9" />
<text x="71.50" y="720.14" font-size="7.62" fill="#231f20" stroke="#231f20" stroke-width="0.08" text-anchor="middle" textLength="3.80" lengthAdjust="spacingAndGlyphs" >6</text>
<text x="51.3" y="733.98" font-size="9.4" fill="#231f20" stroke="#231f20" stroke-width="0.1" text-anchor="middle" textLength="53.5" lengthAdjust="spacingAndGlyphs">-Log<tspan font-size="6.6" dy="2.0">10</tspan><tspan dy="-2.0"> (</tspan><tspan font-style="italic">P</tspan>-value)</text>
<text x="327.50" y="527.98" font-size="8.29" fill="#231f20" stroke="#231f20" stroke-width="0.08" text-anchor="middle" textLength="80.00" lengthAdjust="spacingAndGlyphs" >Regulation of BMNK cell</text>
<text x="327.50" y="537.28" font-size="8.29" fill="#231f20" stroke="#231f20" stroke-width="0.08" text-anchor="middle" textLength="70.00" lengthAdjust="spacingAndGlyphs" >mediated cytotoxicity</text>
<text x="451.20" y="527.98" font-size="8.29" fill="#231f20" stroke="#231f20" stroke-width="0.08" text-anchor="middle" textLength="42.50" lengthAdjust="spacingAndGlyphs" >Regulation of</text>
<text x="451.00" y="537.28" font-size="8.29" fill="#231f20" stroke="#231f20" stroke-width="0.08" text-anchor="middle" textLength="67.00" lengthAdjust="spacingAndGlyphs" >BMNK cell activation</text>
<defs><filter id="hmb" x="-2%" y="-2%" width="104%" height="104%"><feGaussianBlur stdDeviation="0.55"/></filter></defs>
<g filter="url(#hmb)">
<rect x="287.7" y="542.3" width="80.80" height="176.50" fill="#f6f4e8"/>
<rect x="287.70" y="542.30" width="4.54" height="5.74" fill="#fde3a2"/>
<rect x="292.19" y="542.30" width="4.54" height="5.74" fill="#fde3a2"/>
<rect x="296.68" y="542.30" width="4.54" height="5.74" fill="#fef0ca"/>
<rect x="301.17" y="542.30" width="4.54" height="5.74" fill="#fde3a2"/>
<rect x="305.66" y="542.30" width="4.54" height="5.74" fill="#fde3a2"/>
<rect x="310.14" y="542.30" width="4.54" height="5.74" fill="#e3eef6"/>
<rect x="314.63" y="542.30" width="4.54" height="5.74" fill="#fde3a2"/>
<rect x="319.12" y="542.30" width="4.54" height="5.74" fill="#e3eef6"/>
<rect x="323.61" y="542.30" width="4.54" height="5.74" fill="#f8f7ee"/>
<rect x="328.10" y="542.30" width="4.54" height="5.74" fill="#f8f7ee"/>
<rect x="332.59" y="542.30" width="4.54" height="5.74" fill="#fef0ca"/>
<rect x="337.08" y="542.30" width="4.54" height="5.74" fill="#b0c9e2"/>
<rect x="341.57" y="542.30" width="4.54" height="5.74" fill="#e3eef6"/>
<rect x="346.06" y="542.30" width="4.54" height="5.74" fill="#e3eef6"/>
<rect x="350.54" y="542.30" width="4.54" height="5.74" fill="#b0c9e2"/>
<rect x="355.03" y="542.30" width="4.54" height="5.74" fill="#fef0ca"/>
<rect x="359.52" y="542.30" width="4.54" height="5.74" fill="#e3eef6"/>
<rect x="364.01" y="542.30" width="4.54" height="5.74" fill="#d4e3f0"/>
<rect x="287.70" y="547.99" width="4.54" height="5.74" fill="#e3eef6"/>
<rect x="292.19" y="547.99" width="4.54" height="5.74" fill="#fde3a2"/>
<rect x="296.68" y="547.99" width="4.54" height="5.74" fill="#fde3a2"/>
<rect x="301.17" y="547.99" width="4.54" height="5.74" fill="#fde3a2"/>
<rect x="305.66" y="547.99" width="4.54" height="5.74" fill="#fde3a2"/>
<rect x="310.14" y="547.99" width="4.54" height="5.74" fill="#fde3a2"/>
<rect x="314.63" y="547.99" width="4.54" height="5.74" fill="#e3eef6"/>
<rect x="319.12" y="547.99" width="4.54" height="5.74" fill="#fef0ca"/>
<rect x="323.61" y="547.99" width="4.54" height="5.74" fill="#fde3a2"/>
<rect x="328.10" y="547.99" width="4.54" height="5.74" fill="#f8f7ee"/>
<rect x="332.59" y="547.99" width="4.54" height="5.74" fill="#fef0ca"/>
<rect x="337.08" y="547.99" width="4.54" height="5.74" fill="#b0c9e2"/>
<rect x="341.57" y="547.99" width="4.54" height="5.74" fill="#f8f7ee"/>
<rect x="346.06" y="547.99" width="4.54" height="5.74" fill="#e3eef6"/>
<rect x="350.54" y="547.99" width="4.54" height="5.74" fill="#b0c9e2"/>
<rect x="355.03" y="547.99" width="4.54" height="5.74" fill="#e3eef6"/>
<rect x="359.52" y="547.99" width="4.54" height="5.74" fill="#e3eef6"/>
<rect x="364.01" y="547.99" width="4.54" height="5.74" fill="#d4e3f0"/>
<rect x="287.70" y="553.69" width="4.54" height="5.74" fill="#fde3a2"/>
<rect x="292.19" y="553.69" width="4.54" height="5.74" fill="#f8f7ee"/>
<rect x="296.68" y="553.69" width="4.54" height="5.74" fill="#fde3a2"/>
<rect x="301.17" y="553.69" width="4.54" height="5.74" fill="#fde3a2"/>
<rect x="305.66" y="553.69" width="4.54" height="5.74" fill="#f8f7ee"/>
<rect x="310.14" y="553.69" width="4.54" height="5.74" fill="#fef0ca"/>
<rect x="314.63" y="553.69" width="4.54" height="5.74" fill="#f8f7ee"/>
<rect x="319.12" y="553.69" width="4.54" height="5.74" fill="#e3eef6"/>
<rect x="323.61" y="553.69" width="4.54" height="5.74" fill="#fef0ca"/>
<rect x="328.10" y="553.69" width="4.54" height="5.74" fill="#b0c9e2"/>
<rect x="332.59" y="553.69" width="4.54" height="5.74" fill="#fef0ca"/>
<rect x="337.08" y="553.69" width="4.54" height="5.74" fill="#fef0ca"/>
<rect x="341.57" y="553.69" width="4.54" height="5.74" fill="#b0c9e2"/>
<rect x="346.06" y="553.69" width="4.54" height="5.74" fill="#e3eef6"/>
<rect x="350.54" y="553.69" width="4.54" height="5.74" fill="#fef0ca"/>
<rect x="355.03" y="553.69" width="4.54" height="5.74" fill="#b0c9e2"/>
<rect x="359.52" y="553.69" width="4.54" height="5.74" fill="#e3eef6"/>
<rect x="364.01" y="553.69" width="4.54" height="5.74" fill="#f8f7ee"/>
<rect x="287.70" y="559.38" width="4.54" height="5.74" fill="#fef0ca"/>
<rect x="292.19" y="559.38" width="4.54" height="5.74" fill="#f29e64"/>
<rect x="296.68" y="559.38" width="4.54" height="5.74" fill="#fef0ca"/>
<rect x="301.17" y="559.38" width="4.54" height="5.74" fill="#fde3a2"/>
<rect x="305.66" y="559.38" width="4.54" height="5.74" fill="#f29e64"/>
<rect x="310.14" y="559.38" width="4.54" height="5.74" fill="#fef0ca"/>
<rect x="314.63" y="559.38" width="4.54" height="5.74" fill="#fde3a2"/>
<rect x="319.12" y="559.38" width="4.54" height="5.74" fill="#f8f7ee"/>
<rect x="323.61" y="559.38" width="4.54" height="5.74" fill="#e3eef6"/>
<rect x="328.10" y="559.38" width="4.54" height="5.74" fill="#e3eef6"/>
<rect x="332.59" y="559.38" width="4.54" height="5.74" fill="#e3eef6"/>
<rect x="337.08" y="559.38" width="4.54" height="5.74" fill="#e3eef6"/>
<rect x="341.57" y="559.38" width="4.54" height="5.74" fill="#e3eef6"/>
<rect x="346.06" y="559.38" width="4.54" height="5.74" fill="#f8f7ee"/>
<rect x="350.54" y="559.38" width="4.54" height="5.74" fill="#f8f7ee"/>
<rect x="355.03" y="559.38" width="4.54" height="5.74" fill="#e3eef6"/>
<rect x="359.52" y="559.38" width="4.54" height="5.74" fill="#f8f7ee"/>
<rect x="364.01" y="559.38" width="4.54" height="5.74" fill="#e3eef6"/>
<rect x="287.70" y="565.07" width="4.54" height="5.74" fill="#fde3a2"/>
<rect x="292.19" y="565.07" width="4.54" height="5.74" fill="#fde3a2"/>
<rect x="296.68" y="565.07" width="4.54" height="5.74" fill="#fef0ca"/>
<rect x="301.17" y="565.07" width="4.54" height="5.74" fill="#fbcc90"/>
<rect x="305.66" y="565.07" width="4.54" height="5.74" fill="#fbcc90"/>
<rect x="310.14" y="565.07" width="4.54" height="5.74" fill="#fde3a2"/>
<rect x="314.63" y="565.07" width="4.54" height="5.74" fill="#e3eef6"/>
<rect x="319.12" y="565.07" width="4.54" height="5.74" fill="#fbcc90"/>
<rect x="323.61" y="565.07" width="4.54" height="5.74" fill="#f8f7ee"/>
<rect x="328.10" y="565.07" width="4.54" height="5.74" fill="#f8f7ee"/>
<rect x="332.59" y="565.07" width="4.54" height="5.74" fill="#e3eef6"/>
<rect x="337.08" y="565.07" width="4.54" height="5.74" fill="#e3eef6"/>
<rect x="341.57" y="565.07" width="4.54" height="5.74" fill="#e3eef6"/>
<rect x="346.06" y="565.07" width="4.54" height="5.74" fill="#e3eef6"/>
<rect x="350.54" y="565.07" width="4.54" height="5.74" fill="#f8f7ee"/>
<rect x="355.03" y="565.07" width="4.54" height="5.74" fill="#f8f7ee"/>
<rect x="359.52" y="565.07" width="4.54" height="5.74" fill="#f8f7ee"/>
<rect x="364.01" y="565.07" width="4.54" height="5.74" fill="#e3eef6"/>
<rect x="287.70" y="570.77" width="4.54" height="5.74" fill="#fef0ca"/>
<rect x="292.19" y="570.77" width="4.54" height="5.74" fill="#fde3a2"/>
<rect x="296.68" y="570.77" width="4.54" height="5.74" fill="#f8f7ee"/>
<rect x="301.17" y="570.77" width="4.54" height="5.74" fill="#f8f7ee"/>
<rect x="305.66" y="570.77" width="4.54" height="5.74" fill="#f8f7ee"/>
<rect x="310.14" y="570.77" width="4.54" height="5.74" fill="#fde3a2"/>
<rect x="314.63" y="570.77" width="4.54" height="5.74" fill="#f29e64"/>
<rect x="319.12" y="570.77" width="4.54" height="5.74" fill="#fef0ca"/>
<rect x="323.61" y="570.77" width="4.54" height="5.74" fill="#f8f7ee"/>
<rect x="328.10" y="570.77" width="4.54" height="5.74" fill="#f8f7ee"/>
<rect x="332.59" y="570.77" width="4.54" height="5.74" fill="#e3eef6"/>
<rect x="337.08" y="570.77" width="4.54" height="5.74" fill="#f8f7ee"/>
<rect x="341.57" y="570.77" width="4.54" height="5.74" fill="#e3eef6"/>
<rect x="346.06" y="570.77" width="4.54" height="5.74" fill="#f8f7ee"/>
<rect x="350.54" y="570.77" width="4.54" height="5.74" fill="#e3eef6"/>
<rect x="355.03" y="570.77" width="4.54" height="5.74" fill="#fef0ca"/>
<rect x="359.52" y="570.77" width="4.54" height="5.74" fill="#f8f7ee"/>
<rect x="364.01" y="570.77" width="4.54" height="5.74" fill="#e3eef6"/>
<rect x="287.70" y="576.46" width="4.54" height="5.74" fill="#fde3a2"/>
<rect x="292.19" y="576.46" width="4.54" height="5.74" fill="#fef0ca"/>
<rect x="296.68" y="576.46" width="4.54" height="5.74" fill="#fef0ca"/>
<rect x="301.17" y="576.46" width="4.54" height="5.74" fill="#fef0ca"/>
<rect x="305.66" y="576.46" width="4.54" height="5.74" fill="#fde3a2"/>
<rect x="310.14" y="576.46" width="4.54" height="5.74" fill="#fde3a2"/>
<rect x="314.63" y="576.46" width="4.54" height="5.74" fill="#e3eef6"/>
<rect x="319.12" y="576.46" width="4.54" height="5.74" fill="#fde3a2"/>
<rect x="323.61" y="576.46" width="4.54" height="5.74" fill="#e3eef6"/>
<rect x="328.10" y="576.46" width="4.54" height="5.74" fill="#fef0ca"/>
<rect x="332.59" y="576.46" width="4.54" height="5.74" fill="#fef0ca"/>
<rect x="337.08" y="576.46" width="4.54" height="5.74" fill="#b0c9e2"/>
<rect x="341.57" y="576.46" width="4.54" height="5.74" fill="#e3eef6"/>
<rect x="346.06" y="576.46" width="4.54" height="5.74" fill="#b0c9e2"/>
<rect x="350.54" y="576.46" width="4.54" height="5.74" fill="#b0c9e2"/>
<rect x="355.03" y="576.46" width="4.54" height="5.74" fill="#d4e3f0"/>
<rect x="359.52" y="576.46" width="4.54" height="5.74" fill="#e3eef6"/>
<rect x="364.01" y="576.46" width="4.54" height="5.74" fill="#d4e3f0"/>
<rect x="287.70" y="582.15" width="4.54" height="5.74" fill="#fde3a2"/>
<rect x="292.19" y="582.15" width="4.54" height="5.74" fill="#fef0ca"/>
<rect x="296.68" y="582.15" width="4.54" height="5.74" fill="#fbcc90"/>
<rect x="301.17" y="582.15" width="4.54" height="5.74" fill="#fde3a2"/>
<rect x="305.66" y="582.15" width="4.54" height="5.74" fill="#fef0ca"/>
<rect x="310.14" y="582.15" width="4.54" height="5.74" fill="#f8f7ee"/>
<rect x="314.63" y="582.15" width="4.54" height="5.74" fill="#f8f7ee"/>
<rect x="319.12" y="582.15" width="4.54" height="5.74" fill="#f8f7ee"/>
<rect x="323.61" y="582.15" width="4.54" height="5.74" fill="#e3eef6"/>
<rect x="328.10" y="582.15" width="4.54" height="5.74" fill="#d4e3f0"/>
<rect x="332.59" y="582.15" width="4.54" height="5.74" fill="#fef0ca"/>
<rect x="337.08" y="582.15" width="4.54" height="5.74" fill="#fef0ca"/>
<rect x="341.57" y="582.15" width="4.54" height="5.74" fill="#d4e3f0"/>
<rect x="346.06" y="582.15" width="4.54" height="5.74" fill="#fef0ca"/>
<rect x="350.54" y="582.15" width="4.54" height="5.74" fill="#f8f7ee"/>
<rect x="355.03" y="582.15" width="4.54" height="5.74" fill="#b0c9e2"/>
<rect x="359.52" y="582.15" width="4.54" height="5.74" fill="#f8f7ee"/>
<rect x="364.01" y="582.15" width="4.54" height="5.74" fill="#e3eef6"/>
<rect x="287.70" y="587.85" width="4.54" height="5.74" fill="#e3eef6"/>
<rect x="292.19" y="587.85" width="4.54" height="5.74" fill="#fde3a2"/>
<rect x="296.68" y="587.85" width="4.54" height="5.74" fill="#fef0ca"/>
<rect x="301.17" y="587.85" width="4.54" height="5.74" fill="#fbcc90"/>
<rect x="305.66" y="587.85" width="4.54" height="5.74" fill="#fef0ca"/>
<rect x="310.14" y="587.85" width="4.54" height="5.74" fill="#fde3a2"/>
<rect x="314.63" y="587.85" width="4.54" height="5.74" fill="#fef0ca"/>
<rect x="319.12" y="587.85" width="4.54" height="5.74" fill="#fde3a2"/>
<rect x="323.61" y="587.85" width="4.54" height="5.74" fill="#fde3a2"/>
<rect x="328.10" y="587.85" width="4.54" height="5.74" fill="#b0c9e2"/>
<rect x="332.59" y="587.85" width="4.54" height="5.74" fill="#fde3a2"/>
<rect x="337.08" y="587.85" width="4.54" height="5.74" fill="#fef0ca"/>
<rect x="341.57" y="587.85" width="4.54" height="5.74" fill="#e3eef6"/>
<rect x="346.06" y="587.85" width="4.54" height="5.74" fill="#f8f7ee"/>
<rect x="350.54" y="587.85" width="4.54" height="5.74" fill="#fef0ca"/>
<rect x="355.03" y="587.85" width="4.54" height="5.74" fill="#d4e3f0"/>
<rect x="359.52" y="587.85" width="4.54" height="5.74" fill="#fef0ca"/>
<rect x="364.01" y="587.85" width="4.54" height="5.74" fill="#d4e3f0"/>
<rect x="287.70" y="593.54" width="4.54" height="5.74" fill="#fef0ca"/>
<rect x="292.19" y="593.54" width="4.54" height="5.74" fill="#fef0ca"/>
<rect x="296.68" y="593.54" width="4.54" height="5.74" fill="#fef0ca"/>
<rect x="301.17" y="593.54" width="4.54" height="5.74" fill="#fef0ca"/>
<rect x="305.66" y="593.54" width="4.54" height="5.74" fill="#fde3a2"/>
<rect x="310.14" y="593.54" width="4.54" height="5.74" fill="#fef0ca"/>
<rect x="314.63" y="593.54" width="4.54" height="5.74" fill="#fef0ca"/>
<rect x="319.12" y="593.54" width="4.54" height="5.74" fill="#f8f7ee"/>
<rect x="323.61" y="593.54" width="4.54" height="5.74" fill="#e3eef6"/>
<rect x="328.10" y="593.54" width="4.54" height="5.74" fill="#d4e3f0"/>
<rect x="332.59" y="593.54" width="4.54" height="5.74" fill="#fef0ca"/>
<rect x="337.08" y="593.54" width="4.54" height="5.74" fill="#d4e3f0"/>
<rect x="341.57" y="593.54" width="4.54" height="5.74" fill="#e3eef6"/>
<rect x="346.06" y="593.54" width="4.54" height="5.74" fill="#f8f7ee"/>
<rect x="350.54" y="593.54" width="4.54" height="5.74" fill="#d4e3f0"/>
<rect x="355.03" y="593.54" width="4.54" height="5.74" fill="#e3eef6"/>
<rect x="359.52" y="593.54" width="4.54" height="5.74" fill="#e3eef6"/>
<rect x="364.01" y="593.54" width="4.54" height="5.74" fill="#e3eef6"/>
<rect x="287.70" y="599.24" width="4.54" height="5.74" fill="#e3eef6"/>
<rect x="292.19" y="599.24" width="4.54" height="5.74" fill="#f8f7ee"/>
<rect x="296.68" y="599.24" width="4.54" height="5.74" fill="#fef0ca"/>
<rect x="301.17" y="599.24" width="4.54" height="5.74" fill="#fef0ca"/>
<rect x="305.66" y="599.24" width="4.54" height="5.74" fill="#fde3a2"/>
<rect x="310.14" y="599.24" width="4.54" height="5.74" fill="#fef0ca"/>
<rect x="314.63" y="599.24" width="4.54" height="5.74" fill="#fbcc90"/>
<rect x="319.12" y="599.24" width="4.54" height="5.74" fill="#e3eef6"/>
<rect x="323.61" y="599.24" width="4.54" height="5.74" fill="#f8f7ee"/>
<rect x="328.10" y="599.24" width="4.54" height="5.74" fill="#d4e3f0"/>
<rect x="332.59" y="599.24" width="4.54" height="5.74" fill="#e3eef6"/>
<rect x="337.08" y="599.24" width="4.54" height="5.74" fill="#fde3a2"/>
<rect x="341.57" y="599.24" width="4.54" height="5.74" fill="#e3eef6"/>
<rect x="346.06" y="599.24" width="4.54" height="5.74" fill="#d4e3f0"/>
<rect x="350.54" y="599.24" width="4.54" height="5.74" fill="#f8f7ee"/>
<rect x="355.03" y="599.24" width="4.54" height="5.74" fill="#e3eef6"/>
<rect x="359.52" y="599.24" width="4.54" height="5.74" fill="#f8f7ee"/>
<rect x="364.01" y="599.24" width="4.54" height="5.74" fill="#e3eef6"/>
<rect x="287.70" y="604.93" width="4.54" height="5.74" fill="#f8f7ee"/>
<rect x="292.19" y="604.93" width="4.54" height="5.74" fill="#f8f7ee"/>
<rect x="296.68" y="604.93" width="4.54" height="5.74" fill="#fde3a2"/>
<rect x="301.17" y="604.93" width="4.54" height="5.74" fill="#fef0ca"/>
<rect x="305.66" y="604.93" width="4.54" height="5.74" fill="#fde3a2"/>
<rect x="310.14" y="604.93" width="4.54" height="5.74" fill="#fef0ca"/>
<rect x="314.63" y="604.93" width="4.54" height="5.74" fill="#f8f7ee"/>
<rect x="319.12" y="604.93" width="4.54" height="5.74" fill="#fbcc90"/>
<rect x="323.61" y="604.93" width="4.54" height="5.74" fill="#d4e3f0"/>
<rect x="328.10" y="604.93" width="4.54" height="5.74" fill="#e3eef6"/>
<rect x="332.59" y="604.93" width="4.54" height="5.74" fill="#fef0ca"/>
<rect x="337.08" y="604.93" width="4.54" height="5.74" fill="#e3eef6"/>
<rect x="341.57" y="604.93" width="4.54" height="5.74" fill="#e3eef6"/>
<rect x="346.06" y="604.93" width="4.54" height="5.74" fill="#fef0ca"/>
<rect x="350.54" y="604.93" width="4.54" height="5.74" fill="#e3eef6"/>
<rect x="355.03" y="604.93" width="4.54" height="5.74" fill="#e3eef6"/>
<rect x="359.52" y="604.93" width="4.54" height="5.74" fill="#e3eef6"/>
<rect x="364.01" y="604.93" width="4.54" height="5.74" fill="#e3eef6"/>
<rect x="287.70" y="610.62" width="4.54" height="5.74" fill="#f8f7ee"/>
<rect x="292.19" y="610.62" width="4.54" height="5.74" fill="#fde3a2"/>
<rect x="296.68" y="610.62" width="4.54" height="5.74" fill="#fde3a2"/>
<rect x="301.17" y="610.62" width="4.54" height="5.74" fill="#fde3a2"/>
<rect x="305.66" y="610.62" width="4.54" height="5.74" fill="#f29e64"/>
<rect x="310.14" y="610.62" width="4.54" height="5.74" fill="#fde3a2"/>
<rect x="314.63" y="610.62" width="4.54" height="5.74" fill="#e3eef6"/>
<rect x="319.12" y="610.62" width="4.54" height="5.74" fill="#f8f7ee"/>
<rect x="323.61" y="610.62" width="4.54" height="5.74" fill="#f8f7ee"/>
<rect x="328.10" y="610.62" width="4.54" height="5.74" fill="#e3eef6"/>
<rect x="332.59" y="610.62" width="4.54" height="5.74" fill="#f8f7ee"/>
<rect x="337.08" y="610.62" width="4.54" height="5.74" fill="#b0c9e2"/>
<rect x="341.57" y="610.62" width="4.54" height="5.74" fill="#e3eef6"/>
<rect x="346.06" y="610.62" width="4.54" height="5.74" fill="#e3eef6"/>
<rect x="350.54" y="610.62" width="4.54" height="5.74" fill="#b0c9e2"/>
<rect x="355.03" y="610.62" width="4.54" height="5.74" fill="#f8f7ee"/>
<rect x="359.52" y="610.62" width="4.54" height="5.74" fill="#fef0ca"/>
<rect x="364.01" y="610.62" width="4.54" height="5.74" fill="#d4e3f0"/>
<rect x="287.70" y="616.32" width="4.54" height="5.74" fill="#fde3a2"/>
<rect x="292.19" y="616.32" width="4.54" height="5.74" fill="#fbcc90"/>
<rect x="296.68" y="616.32" width="4.54" height="5.74" fill="#fbcc90"/>
<rect x="301.17" y="616.32" width="4.54" height="5.74" fill="#fef0ca"/>
<rect x="305.66" y="616.32" width="4.54" height="5.74" fill="#fde3a2"/>
<rect x="310.14" y="616.32" width="4.54" height="5.74" fill="#fef0ca"/>
<rect x="314.63" y="616.32" width="4.54" height="5.74" fill="#b0c9e2"/>
<rect x="319.12" y="616.32" width="4.54" height="5.74" fill="#e3eef6"/>
<rect x="323.61" y="616.32" width="4.54" height="5.74" fill="#fef0ca"/>
<rect x="328.10" y="616.32" width="4.54" height="5.74" fill="#e3eef6"/>
<rect x="332.59" y="616.32" width="4.54" height="5.74" fill="#e3eef6"/>
<rect x="337.08" y="616.32" width="4.54" height="5.74" fill="#f8f7ee"/>
<rect x="341.57" y="616.32" width="4.54" height="5.74" fill="#f8f7ee"/>
<rect x="346.06" y="616.32" width="4.54" height="5.74" fill="#e3eef6"/>
<rect x="350.54" y="616.32" width="4.54" height="5.74" fill="#e3eef6"/>
<rect x="355.03" y="616.32" width="4.54" height="5.74" fill="#e3eef6"/>
<rect x="359.52" y="616.32" width="4.54" height="5.74" fill="#f8f7ee"/>
<rect x="364.01" y="616.32" width="4.54" height="5.74" fill="#fef0ca"/>
<rect x="287.70" y="622.01" width="4.54" height="5.74" fill="#e3eef6"/>
<rect x="292.19" y="622.01" width="4.54" height="5.74" fill="#fef0ca"/>
<rect x="296.68" y="622.01" width="4.54" height="5.74" fill="#e3eef6"/>
<rect x="301.17" y="622.01" width="4.54" height="5.74" fill="#fef0ca"/>
<rect x="305.66" y="622.01" width="4.54" height="5.74" fill="#fde3a2"/>
<rect x="310.14" y="622.01" width="4.54" height="5.74" fill="#fde3a2"/>
<rect x="314.63" y="622.01" width="4.54" height="5.74" fill="#fef0ca"/>
<rect x="319.12" y="622.01" width="4.54" height="5.74" fill="#f8f7ee"/>
<rect x="323.61" y="622.01" width="4.54" height="5.74" fill="#d4e3f0"/>
<rect x="328.10" y="622.01" width="4.54" height="5.74" fill="#fef0ca"/>
<rect x="332.59" y="622.01" width="4.54" height="5.74" fill="#fef0ca"/>
<rect x="337.08" y="622.01" width="4.54" height="5.74" fill="#e3eef6"/>
<rect x="341.57" y="622.01" width="4.54" height="5.74" fill="#e3eef6"/>
<rect x="346.06" y="622.01" width="4.54" height="5.74" fill="#f8f7ee"/>
<rect x="350.54" y="622.01" width="4.54" height="5.74" fill="#e3eef6"/>
<rect x="355.03" y="622.01" width="4.54" height="5.74" fill="#d4e3f0"/>
<rect x="359.52" y="622.01" width="4.54" height="5.74" fill="#d4e3f0"/>
<rect x="364.01" y="622.01" width="4.54" height="5.74" fill="#d4e3f0"/>
<rect x="287.70" y="627.70" width="4.54" height="5.74" fill="#d4e3f0"/>
<rect x="292.19" y="627.70" width="4.54" height="5.74" fill="#e3eef6"/>
<rect x="296.68" y="627.70" width="4.54" height="5.74" fill="#fde3a2"/>
<rect x="301.17" y="627.70" width="4.54" height="5.74" fill="#fde3a2"/>
<rect x="305.66" y="627.70" width="4.54" height="5.74" fill="#fde3a2"/>
<rect x="310.14" y="627.70" width="4.54" height="5.74" fill="#fbcc90"/>
<rect x="314.63" y="627.70" width="4.54" height="5.74" fill="#f8f7ee"/>
<rect x="319.12" y="627.70" width="4.54" height="5.74" fill="#fef0ca"/>
<rect x="323.61" y="627.70" width="4.54" height="5.74" fill="#fde3a2"/>
<rect x="328.10" y="627.70" width="4.54" height="5.74" fill="#fef0ca"/>
<rect x="332.59" y="627.70" width="4.54" height="5.74" fill="#fef0ca"/>
<rect x="337.08" y="627.70" width="4.54" height="5.74" fill="#e3eef6"/>
<rect x="341.57" y="627.70" width="4.54" height="5.74" fill="#d4e3f0"/>
<rect x="346.06" y="627.70" width="4.54" height="5.74" fill="#d4e3f0"/>
<rect x="350.54" y="627.70" width="4.54" height="5.74" fill="#d4e3f0"/>
<rect x="355.03" y="627.70" width="4.54" height="5.74" fill="#e3eef6"/>
<rect x="359.52" y="627.70" width="4.54" height="5.74" fill="#d4e3f0"/>
<rect x="364.01" y="627.70" width="4.54" height="5.74" fill="#e3eef6"/>
<rect x="287.70" y="633.40" width="4.54" height="5.74" fill="#fef0ca"/>
<rect x="292.19" y="633.40" width="4.54" height="5.74" fill="#fde3a2"/>
<rect x="296.68" y="633.40" width="4.54" height="5.74" fill="#fbcc90"/>
<rect x="301.17" y="633.40" width="4.54" height="5.74" fill="#fbcc90"/>
<rect x="305.66" y="633.40" width="4.54" height="5.74" fill="#fde3a2"/>
<rect x="310.14" y="633.40" width="4.54" height="5.74" fill="#fef0ca"/>
<rect x="314.63" y="633.40" width="4.54" height="5.74" fill="#f8f7ee"/>
<rect x="319.12" y="633.40" width="4.54" height="5.74" fill="#f8f7ee"/>
<rect x="323.61" y="633.40" width="4.54" height="5.74" fill="#f8f7ee"/>
<rect x="328.10" y="633.40" width="4.54" height="5.74" fill="#fef0ca"/>
<rect x="332.59" y="633.40" width="4.54" height="5.74" fill="#d4e3f0"/>
<rect x="337.08" y="633.40" width="4.54" height="5.74" fill="#e3eef6"/>
<rect x="341.57" y="633.40" width="4.54" height="5.74" fill="#d4e3f0"/>
<rect x="346.06" y="633.40" width="4.54" height="5.74" fill="#f8f7ee"/>
<rect x="350.54" y="633.40" width="4.54" height="5.74" fill="#fde3a2"/>
<rect x="355.03" y="633.40" width="4.54" height="5.74" fill="#d4e3f0"/>
<rect x="359.52" y="633.40" width="4.54" height="5.74" fill="#e3eef6"/>
<rect x="364.01" y="633.40" width="4.54" height="5.74" fill="#fef0ca"/>
<rect x="287.70" y="639.09" width="4.54" height="5.74" fill="#fde3a2"/>
<rect x="292.19" y="639.09" width="4.54" height="5.74" fill="#fde3a2"/>
<rect x="296.68" y="639.09" width="4.54" height="5.74" fill="#fef0ca"/>
<rect x="301.17" y="639.09" width="4.54" height="5.74" fill="#fef0ca"/>
<rect x="305.66" y="639.09" width="4.54" height="5.74" fill="#f8f7ee"/>
<rect x="310.14" y="639.09" width="4.54" height="5.74" fill="#fde3a2"/>
<rect x="314.63" y="639.09" width="4.54" height="5.74" fill="#fbcc90"/>
<rect x="319.12" y="639.09" width="4.54" height="5.74" fill="#fde3a2"/>
<rect x="323.61" y="639.09" width="4.54" height="5.74" fill="#fde3a2"/>
<rect x="328.10" y="639.09" width="4.54" height="5.74" fill="#fde3a2"/>
<rect x="332.59" y="639.09" width="4.54" height="5.74" fill="#fde3a2"/>
<rect x="337.08" y="639.09" width="4.54" height="5.74" fill="#fde3a2"/>
<rect x="341.57" y="639.09" width="4.54" height="5.74" fill="#b0c9e2"/>
<rect x="346.06" y="639.09" width="4.54" height="5.74" fill="#b0c9e2"/>
<rect x="350.54" y="639.09" width="4.54" height="5.74" fill="#d4e3f0"/>
<rect x="355.03" y="639.09" width="4.54" height="5.74" fill="#d4e3f0"/>
<rect x="359.52" y="639.09" width="4.54" height="5.74" fill="#e3eef6"/>
<rect x="364.01" y="639.09" width="4.54" height="5.74" fill="#fef0ca"/>
<rect x="287.70" y="644.78" width="4.54" height="5.74" fill="#f8f7ee"/>
<rect x="292.19" y="644.78" width="4.54" height="5.74" fill="#f8f7ee"/>
<rect x="296.68" y="644.78" width="4.54" height="5.74" fill="#fde3a2"/>
<rect x="301.17" y="644.78" width="4.54" height="5.74" fill="#e3eef6"/>
<rect x="305.66" y="644.78" width="4.54" height="5.74" fill="#f8f7ee"/>
<rect x="310.14" y="644.78" width="4.54" height="5.74" fill="#fef0ca"/>
<rect x="314.63" y="644.78" width="4.54" height="5.74" fill="#fef0ca"/>
<rect x="319.12" y="644.78" width="4.54" height="5.74" fill="#fef0ca"/>
<rect x="323.61" y="644.78" width="4.54" height="5.74" fill="#e3eef6"/>
<rect x="328.10" y="644.78" width="4.54" height="5.74" fill="#f8f7ee"/>
<rect x="332.59" y="644.78" width="4.54" height="5.74" fill="#fde3a2"/>
<rect x="337.08" y="644.78" width="4.54" height="5.74" fill="#b0c9e2"/>
<rect x="341.57" y="644.78" width="4.54" height="5.74" fill="#f8f7ee"/>
<rect x="346.06" y="644.78" width="4.54" height="5.74" fill="#d4e3f0"/>
<rect x="350.54" y="644.78" width="4.54" height="5.74" fill="#b0c9e2"/>
<rect x="355.03" y="644.78" width="4.54" height="5.74" fill="#e3eef6"/>
<rect x="359.52" y="644.78" width="4.54" height="5.74" fill="#d4e3f0"/>
<rect x="364.01" y="644.78" width="4.54" height="5.74" fill="#d4e3f0"/>
<rect x="287.70" y="650.48" width="4.54" height="5.74" fill="#fde3a2"/>
<rect x="292.19" y="650.48" width="4.54" height="5.74" fill="#fef0ca"/>
<rect x="296.68" y="650.48" width="4.54" height="5.74" fill="#fef0ca"/>
<rect x="301.17" y="650.48" width="4.54" height="5.74" fill="#fde3a2"/>
<rect x="305.66" y="650.48" width="4.54" height="5.74" fill="#fef0ca"/>
<rect x="310.14" y="650.48" width="4.54" height="5.74" fill="#d42a22"/>
<rect x="314.63" y="650.48" width="4.54" height="5.74" fill="#fef0ca"/>
<rect x="319.12" y="650.48" width="4.54" height="5.74" fill="#f8f7ee"/>
<rect x="323.61" y="650.48" width="4.54" height="5.74" fill="#f8f7ee"/>
<rect x="328.10" y="650.48" width="4.54" height="5.74" fill="#fde3a2"/>
<rect x="332.59" y="650.48" width="4.54" height="5.74" fill="#fbcc90"/>
<rect x="337.08" y="650.48" width="4.54" height="5.74" fill="#fef0ca"/>
<rect x="341.57" y="650.48" width="4.54" height="5.74" fill="#e3eef6"/>
<rect x="346.06" y="650.48" width="4.54" height="5.74" fill="#f8f7ee"/>
<rect x="350.54" y="650.48" width="4.54" height="5.74" fill="#e3eef6"/>
<rect x="355.03" y="650.48" width="4.54" height="5.74" fill="#e3eef6"/>
<rect x="359.52" y="650.48" width="4.54" height="5.74" fill="#d4e3f0"/>
<rect x="364.01" y="650.48" width="4.54" height="5.74" fill="#e3eef6"/>
<rect x="287.70" y="656.17" width="4.54" height="5.74" fill="#fef0ca"/>
<rect x="292.19" y="656.17" width="4.54" height="5.74" fill="#fbcc90"/>
<rect x="296.68" y="656.17" width="4.54" height="5.74" fill="#fef0ca"/>
<rect x="301.17" y="656.17" width="4.54" height="5.74" fill="#f8f7ee"/>
<rect x="305.66" y="656.17" width="4.54" height="5.74" fill="#f8f7ee"/>
<rect x="310.14" y="656.17" width="4.54" height="5.74" fill="#d42a22"/>
<rect x="314.63" y="656.17" width="4.54" height="5.74" fill="#fef0ca"/>
<rect x="319.12" y="656.17" width="4.54" height="5.74" fill="#fde3a2"/>
<rect x="323.61" y="656.17" width="4.54" height="5.74" fill="#e3eef6"/>
<rect x="328.10" y="656.17" width="4.54" height="5.74" fill="#e3eef6"/>
<rect x="332.59" y="656.17" width="4.54" height="5.74" fill="#e3eef6"/>
<rect x="337.08" y="656.17" width="4.54" height="5.74" fill="#e3eef6"/>
<rect x="341.57" y="656.17" width="4.54" height="5.74" fill="#f8f7ee"/>
<rect x="346.06" y="656.17" width="4.54" height="5.74" fill="#fde3a2"/>
<rect x="350.54" y="656.17" width="4.54" height="5.74" fill="#fef0ca"/>
<rect x="355.03" y="656.17" width="4.54" height="5.74" fill="#d4e3f0"/>
<rect x="359.52" y="656.17" width="4.54" height="5.74" fill="#d4e3f0"/>
<rect x="364.01" y="656.17" width="4.54" height="5.74" fill="#e3eef6"/>
<rect x="287.70" y="661.86" width="4.54" height="5.74" fill="#f8f7ee"/>
<rect x="292.19" y="661.86" width="4.54" height="5.74" fill="#fef0ca"/>
<rect x="296.68" y="661.86" width="4.54" height="5.74" fill="#fde3a2"/>
<rect x="301.17" y="661.86" width="4.54" height="5.74" fill="#fde3a2"/>
<rect x="305.66" y="661.86" width="4.54" height="5.74" fill="#fef0ca"/>
<rect x="310.14" y="661.86" width="4.54" height="5.74" fill="#fbcc90"/>
<rect x="314.63" y="661.86" width="4.54" height="5.74" fill="#f8f7ee"/>
<rect x="319.12" y="661.86" width="4.54" height="5.74" fill="#f8f7ee"/>
<rect x="323.61" y="661.86" width="4.54" height="5.74" fill="#fef0ca"/>
<rect x="328.10" y="661.86" width="4.54" height="5.74" fill="#d4e3f0"/>
<rect x="332.59" y="661.86" width="4.54" height="5.74" fill="#f8f7ee"/>
<rect x="337.08" y="661.86" width="4.54" height="5.74" fill="#e3eef6"/>
<rect x="341.57" y="661.86" width="4.54" height="5.74" fill="#d4e3f0"/>
<rect x="346.06" y="661.86" width="4.54" height="5.74" fill="#f29e64"/>
<rect x="350.54" y="661.86" width="4.54" height="5.74" fill="#fde3a2"/>
<rect x="355.03" y="661.86" width="4.54" height="5.74" fill="#fde3a2"/>
<rect x="359.52" y="661.86" width="4.54" height="5.74" fill="#f8f7ee"/>
<rect x="364.01" y="661.86" width="4.54" height="5.74" fill="#fef0ca"/>
<rect x="287.70" y="667.56" width="4.54" height="5.74" fill="#fde3a2"/>
<rect x="292.19" y="667.56" width="4.54" height="5.74" fill="#fde3a2"/>
<rect x="296.68" y="667.56" width="4.54" height="5.74" fill="#fef0ca"/>
<rect x="301.17" y="667.56" width="4.54" height="5.74" fill="#f8f7ee"/>
<rect x="305.66" y="667.56" width="4.54" height="5.74" fill="#fde3a2"/>
<rect x="310.14" y="667.56" width="4.54" height="5.74" fill="#fde3a2"/>
<rect x="314.63" y="667.56" width="4.54" height="5.74" fill="#f29e64"/>
<rect x="319.12" y="667.56" width="4.54" height="5.74" fill="#f8f7ee"/>
<rect x="323.61" y="667.56" width="4.54" height="5.74" fill="#fef0ca"/>
<rect x="328.10" y="667.56" width="4.54" height="5.74" fill="#fde3a2"/>
<rect x="332.59" y="667.56" width="4.54" height="5.74" fill="#fde3a2"/>
<rect x="337.08" y="667.56" width="4.54" height="5.74" fill="#fef0ca"/>
<rect x="341.57" y="667.56" width="4.54" height="5.74" fill="#d4e3f0"/>
<rect x="346.06" y="667.56" width="4.54" height="5.74" fill="#e3eef6"/>
<rect x="350.54" y="667.56" width="4.54" height="5.74" fill="#d4e3f0"/>
<rect x="355.03" y="667.56" width="4.54" height="5.74" fill="#e3eef6"/>
<rect x="359.52" y="667.56" width="4.54" height="5.74" fill="#e3eef6"/>
<rect x="364.01" y="667.56" width="4.54" height="5.74" fill="#fef0ca"/>
<rect x="287.70" y="673.25" width="4.54" height="5.74" fill="#fde3a2"/>
<rect x="292.19" y="673.25" width="4.54" height="5.74" fill="#fde3a2"/>
<rect x="296.68" y="673.25" width="4.54" height="5.74" fill="#fde3a2"/>
<rect x="301.17" y="673.25" width="4.54" height="5.74" fill="#fde3a2"/>
<rect x="305.66" y="673.25" width="4.54" height="5.74" fill="#fbcc90"/>
<rect x="310.14" y="673.25" width="4.54" height="5.74" fill="#fde3a2"/>
<rect x="314.63" y="673.25" width="4.54" height="5.74" fill="#e3eef6"/>
<rect x="319.12" y="673.25" width="4.54" height="5.74" fill="#e3eef6"/>
<rect x="323.61" y="673.25" width="4.54" height="5.74" fill="#fef0ca"/>
<rect x="328.10" y="673.25" width="4.54" height="5.74" fill="#e3eef6"/>
<rect x="332.59" y="673.25" width="4.54" height="5.74" fill="#fef0ca"/>
<rect x="337.08" y="673.25" width="4.54" height="5.74" fill="#b0c9e2"/>
<rect x="341.57" y="673.25" width="4.54" height="5.74" fill="#d4e3f0"/>
<rect x="346.06" y="673.25" width="4.54" height="5.74" fill="#f8f7ee"/>
<rect x="350.54" y="673.25" width="4.54" height="5.74" fill="#b0c9e2"/>
<rect x="355.03" y="673.25" width="4.54" height="5.74" fill="#e3eef6"/>
<rect x="359.52" y="673.25" width="4.54" height="5.74" fill="#d4e3f0"/>
<rect x="364.01" y="673.25" width="4.54" height="5.74" fill="#b0c9e2"/>
<rect x="287.70" y="678.95" width="4.54" height="5.74" fill="#fef0ca"/>
<rect x="292.19" y="678.95" width="4.54" height="5.74" fill="#fde3a2"/>
<rect x="296.68" y="678.95" width="4.54" height="5.74" fill="#fbcc90"/>
<rect x="301.17" y="678.95" width="4.54" height="5.74" fill="#fef0ca"/>
<rect x="305.66" y="678.95" width="4.54" height="5.74" fill="#fde3a2"/>
<rect x="310.14" y="678.95" width="4.54" height="5.74" fill="#fde3a2"/>
<rect x="314.63" y="678.95" width="4.54" height="5.74" fill="#e3eef6"/>
<rect x="319.12" y="678.95" width="4.54" height="5.74" fill="#d4e3f0"/>
<rect x="323.61" y="678.95" width="4.54" height="5.74" fill="#fbcc90"/>
<rect x="328.10" y="678.95" width="4.54" height="5.74" fill="#fde3a2"/>
<rect x="332.59" y="678.95" width="4.54" height="5.74" fill="#e3eef6"/>
<rect x="337.08" y="678.95" width="4.54" height="5.74" fill="#b0c9e2"/>
<rect x="341.57" y="678.95" width="4.54" height="5.74" fill="#fef0ca"/>
<rect x="346.06" y="678.95" width="4.54" height="5.74" fill="#e3eef6"/>
<rect x="350.54" y="678.95" width="4.54" height="5.74" fill="#e3eef6"/>
<rect x="355.03" y="678.95" width="4.54" height="5.74" fill="#e3eef6"/>
<rect x="359.52" y="678.95" width="4.54" height="5.74" fill="#d4e3f0"/>
<rect x="364.01" y="678.95" width="4.54" height="5.74" fill="#d4e3f0"/>
<rect x="287.70" y="684.64" width="4.54" height="5.74" fill="#d4e3f0"/>
<rect x="292.19" y="684.64" width="4.54" height="5.74" fill="#fbcc90"/>
<rect x="296.68" y="684.64" width="4.54" height="5.74" fill="#fde3a2"/>
<rect x="301.17" y="684.64" width="4.54" height="5.74" fill="#fef0ca"/>
<rect x="305.66" y="684.64" width="4.54" height="5.74" fill="#e3eef6"/>
<rect x="310.14" y="684.64" width="4.54" height="5.74" fill="#fbcc90"/>
<rect x="314.63" y="684.64" width="4.54" height="5.74" fill="#fef0ca"/>
<rect x="319.12" y="684.64" width="4.54" height="5.74" fill="#fde3a2"/>
<rect x="323.61" y="684.64" width="4.54" height="5.74" fill="#fef0ca"/>
<rect x="328.10" y="684.64" width="4.54" height="5.74" fill="#f8f7ee"/>
<rect x="332.59" y="684.64" width="4.54" height="5.74" fill="#d4e3f0"/>
<rect x="337.08" y="684.64" width="4.54" height="5.74" fill="#e3eef6"/>
<rect x="341.57" y="684.64" width="4.54" height="5.74" fill="#d4e3f0"/>
<rect x="346.06" y="684.64" width="4.54" height="5.74" fill="#e3eef6"/>
<rect x="350.54" y="684.64" width="4.54" height="5.74" fill="#e3eef6"/>
<rect x="355.03" y="684.64" width="4.54" height="5.74" fill="#e3eef6"/>
<rect x="359.52" y="684.64" width="4.54" height="5.74" fill="#f8f7ee"/>
<rect x="364.01" y="684.64" width="4.54" height="5.74" fill="#e3eef6"/>
<rect x="287.70" y="690.33" width="4.54" height="5.74" fill="#d4e3f0"/>
<rect x="292.19" y="690.33" width="4.54" height="5.74" fill="#e3eef6"/>
<rect x="296.68" y="690.33" width="4.54" height="5.74" fill="#fef0ca"/>
<rect x="301.17" y="690.33" width="4.54" height="5.74" fill="#fef0ca"/>
<rect x="305.66" y="690.33" width="4.54" height="5.74" fill="#fef0ca"/>
<rect x="310.14" y="690.33" width="4.54" height="5.74" fill="#fde3a2"/>
<rect x="314.63" y="690.33" width="4.54" height="5.74" fill="#e3eef6"/>
<rect x="319.12" y="690.33" width="4.54" height="5.74" fill="#e3eef6"/>
<rect x="323.61" y="690.33" width="4.54" height="5.74" fill="#e3eef6"/>
<rect x="328.10" y="690.33" width="4.54" height="5.74" fill="#e3eef6"/>
<rect x="332.59" y="690.33" width="4.54" height="5.74" fill="#fef0ca"/>
<rect x="337.08" y="690.33" width="4.54" height="5.74" fill="#fde3a2"/>
<rect x="341.57" y="690.33" width="4.54" height="5.74" fill="#e3eef6"/>
<rect x="346.06" y="690.33" width="4.54" height="5.74" fill="#fef0ca"/>
<rect x="350.54" y="690.33" width="4.54" height="5.74" fill="#e3eef6"/>
<rect x="355.03" y="690.33" width="4.54" height="5.74" fill="#d4e3f0"/>
<rect x="359.52" y="690.33" width="4.54" height="5.74" fill="#d4e3f0"/>
<rect x="364.01" y="690.33" width="4.54" height="5.74" fill="#d4e3f0"/>
<rect x="287.70" y="696.03" width="4.54" height="5.74" fill="#fef0ca"/>
<rect x="292.19" y="696.03" width="4.54" height="5.74" fill="#fef0ca"/>
<rect x="296.68" y="696.03" width="4.54" height="5.74" fill="#f29e64"/>
<rect x="301.17" y="696.03" width="4.54" height="5.74" fill="#fde3a2"/>
<rect x="305.66" y="696.03" width="4.54" height="5.74" fill="#f8f7ee"/>
<rect x="310.14" y="696.03" width="4.54" height="5.74" fill="#fde3a2"/>
<rect x="314.63" y="696.03" width="4.54" height="5.74" fill="#fef0ca"/>
<rect x="319.12" y="696.03" width="4.54" height="5.74" fill="#f8f7ee"/>
<rect x="323.61" y="696.03" width="4.54" height="5.74" fill="#fbcc90"/>
<rect x="328.10" y="696.03" width="4.54" height="5.74" fill="#e3eef6"/>
<rect x="332.59" y="696.03" width="4.54" height="5.74" fill="#f8f7ee"/>
<rect x="337.08" y="696.03" width="4.54" height="5.74" fill="#fef0ca"/>
<rect x="341.57" y="696.03" width="4.54" height="5.74" fill="#d4e3f0"/>
<rect x="346.06" y="696.03" width="4.54" height="5.74" fill="#e3eef6"/>
<rect x="350.54" y="696.03" width="4.54" height="5.74" fill="#e3eef6"/>
<rect x="355.03" y="696.03" width="4.54" height="5.74" fill="#e3eef6"/>
<rect x="359.52" y="696.03" width="4.54" height="5.74" fill="#fef0ca"/>
<rect x="364.01" y="696.03" width="4.54" height="5.74" fill="#e3eef6"/>
<rect x="287.70" y="701.72" width="4.54" height="5.74" fill="#fef0ca"/>
<rect x="292.19" y="701.72" width="4.54" height="5.74" fill="#fef0ca"/>
<rect x="296.68" y="701.72" width="4.54" height="5.74" fill="#f8f7ee"/>
<rect x="301.17" y="701.72" width="4.54" height="5.74" fill="#f29e64"/>
<rect x="305.66" y="701.72" width="4.54" height="5.74" fill="#fef0ca"/>
<rect x="310.14" y="701.72" width="4.54" height="5.74" fill="#fef0ca"/>
<rect x="314.63" y="701.72" width="4.54" height="5.74" fill="#d4e3f0"/>
<rect x="319.12" y="701.72" width="4.54" height="5.74" fill="#fde3a2"/>
<rect x="323.61" y="701.72" width="4.54" height="5.74" fill="#e3eef6"/>
<rect x="328.10" y="701.72" width="4.54" height="5.74" fill="#f8f7ee"/>
<rect x="332.59" y="701.72" width="4.54" height="5.74" fill="#fef0ca"/>
<rect x="337.08" y="701.72" width="4.54" height="5.74" fill="#b0c9e2"/>
<rect x="341.57" y="701.72" width="4.54" height="5.74" fill="#e3eef6"/>
<rect x="346.06" y="701.72" width="4.54" height="5.74" fill="#d4e3f0"/>
<rect x="350.54" y="701.72" width="4.54" height="5.74" fill="#e3eef6"/>
<rect x="355.03" y="701.72" width="4.54" height="5.74" fill="#d4e3f0"/>
<rect x="359.52" y="701.72" width="4.54" height="5.74" fill="#e3eef6"/>
<rect x="364.01" y="701.72" width="4.54" height="5.74" fill="#fde3a2"/>
<rect x="287.70" y="707.41" width="4.54" height="5.74" fill="#fef0ca"/>
<rect x="292.19" y="707.41" width="4.54" height="5.74" fill="#fde3a2"/>
<rect x="296.68" y="707.41" width="4.54" height="5.74" fill="#f8f7ee"/>
<rect x="301.17" y="707.41" width="4.54" height="5.74" fill="#fef0ca"/>
<rect x="305.66" y="707.41" width="4.54" height="5.74" fill="#fbcc90"/>
<rect x="310.14" y="707.41" width="4.54" height="5.74" fill="#fde3a2"/>
<rect x="314.63" y="707.41" width="4.54" height="5.74" fill="#f8f7ee"/>
<rect x="319.12" y="707.41" width="4.54" height="5.74" fill="#fde3a2"/>
<rect x="323.61" y="707.41" width="4.54" height="5.74" fill="#fef0ca"/>
<rect x="328.10" y="707.41" width="4.54" height="5.74" fill="#fef0ca"/>
<rect x="332.59" y="707.41" width="4.54" height="5.74" fill="#d4e3f0"/>
<rect x="337.08" y="707.41" width="4.54" height="5.74" fill="#fef0ca"/>
<rect x="341.57" y="707.41" width="4.54" height="5.74" fill="#e3eef6"/>
<rect x="346.06" y="707.41" width="4.54" height="5.74" fill="#b0c9e2"/>
<rect x="350.54" y="707.41" width="4.54" height="5.74" fill="#f8f7ee"/>
<rect x="355.03" y="707.41" width="4.54" height="5.74" fill="#d4e3f0"/>
<rect x="359.52" y="707.41" width="4.54" height="5.74" fill="#b0c9e2"/>
<rect x="364.01" y="707.41" width="4.54" height="5.74" fill="#e3eef6"/>
<rect x="287.70" y="713.11" width="4.54" height="5.74" fill="#fef0ca"/>
<rect x="292.19" y="713.11" width="4.54" height="5.74" fill="#f8f7ee"/>
<rect x="296.68" y="713.11" width="4.54" height="5.74" fill="#fbcc90"/>
<rect x="301.17" y="713.11" width="4.54" height="5.74" fill="#fde3a2"/>
<rect x="305.66" y="713.11" width="4.54" height="5.74" fill="#e3eef6"/>
<rect x="310.14" y="713.11" width="4.54" height="5.74" fill="#fde3a2"/>
<rect x="314.63" y="713.11" width="4.54" height="5.74" fill="#fef0ca"/>
<rect x="319.12" y="713.11" width="4.54" height="5.74" fill="#e3eef6"/>
<rect x="323.61" y="713.11" width="4.54" height="5.74" fill="#fbcc90"/>
<rect x="328.10" y="713.11" width="4.54" height="5.74" fill="#fef0ca"/>
<rect x="332.59" y="713.11" width="4.54" height="5.74" fill="#fef0ca"/>
<rect x="337.08" y="713.11" width="4.54" height="5.74" fill="#fef0ca"/>
<rect x="341.57" y="713.11" width="4.54" height="5.74" fill="#fde3a2"/>
<rect x="346.06" y="713.11" width="4.54" height="5.74" fill="#d4e3f0"/>
<rect x="350.54" y="713.11" width="4.54" height="5.74" fill="#d4e3f0"/>
<rect x="355.03" y="713.11" width="4.54" height="5.74" fill="#e3eef6"/>
<rect x="359.52" y="713.11" width="4.54" height="5.74" fill="#d4e3f0"/>
<rect x="364.01" y="713.11" width="4.54" height="5.74" fill="#f8f7ee"/>
</g>
<text x="371.9" y="547.29" font-size="5.95" font-style="italic" fill="#231f20" stroke="#231f20" stroke-width="0.12">FASLG</text>
<text x="371.9" y="552.98" font-size="5.95" font-style="italic" fill="#231f20" stroke="#231f20" stroke-width="0.12">GZMA</text>
<text x="371.9" y="558.68" font-size="5.95" font-style="italic" fill="#231f20" stroke="#231f20" stroke-width="0.12">NRAS</text>
<text x="371.9" y="564.37" font-size="5.95" font-style="italic" fill="#231f20" stroke="#231f20" stroke-width="0.12">PRF1</text>
<text x="371.9" y="570.06" font-size="5.95" font-style="italic" fill="#231f20" stroke="#231f20" stroke-width="0.12">TNF</text>
<text x="371.9" y="575.76" font-size="5.95" font-style="italic" fill="#231f20" stroke="#231f20" stroke-width="0.12">GZMB</text>
<text x="371.9" y="581.45" font-size="5.95" font-style="italic" fill="#231f20" stroke="#231f20" stroke-width="0.12">LCK</text>
<text x="371.9" y="587.14" font-size="5.95" font-style="italic" fill="#231f20" stroke="#231f20" stroke-width="0.12">SH2D1A</text>
<text x="371.9" y="592.84" font-size="5.95" font-style="italic" fill="#231f20" stroke="#231f20" stroke-width="0.12">KIR2DL3</text>
<text x="371.9" y="598.53" font-size="5.95" font-style="italic" fill="#231f20" stroke="#231f20" stroke-width="0.12">NCR3</text>
<text x="371.9" y="604.22" font-size="5.95" font-style="italic" fill="#231f20" stroke="#231f20" stroke-width="0.12">CD244</text>
<text x="371.9" y="609.92" font-size="5.95" font-style="italic" fill="#231f20" stroke="#231f20" stroke-width="0.12">IFNG</text>
<text x="371.9" y="615.61" font-size="5.95" font-style="italic" fill="#231f20" stroke="#231f20" stroke-width="0.12">ITGAL</text>
<text x="371.9" y="621.30" font-size="5.95" font-style="italic" fill="#231f20" stroke="#231f20" stroke-width="0.12">CSF2</text>
<text x="371.9" y="627.00" font-size="5.95" font-style="italic" fill="#231f20" stroke="#231f20" stroke-width="0.12">IFNA1</text>
<text x="371.9" y="632.69" font-size="5.95" font-style="italic" fill="#231f20" stroke="#231f20" stroke-width="0.12">KIR3DL1</text>
<text x="371.9" y="638.39" font-size="5.95" font-style="italic" fill="#231f20" stroke="#231f20" stroke-width="0.12">NCR2</text>
<text x="371.9" y="644.08" font-size="5.95" font-style="italic" fill="#231f20" stroke="#231f20" stroke-width="0.12">GNLY</text>
<text x="371.9" y="649.77" font-size="5.95" font-style="italic" fill="#231f20" stroke="#231f20" stroke-width="0.12">HLA-B</text>
<text x="371.9" y="655.47" font-size="5.95" font-style="italic" fill="#231f20" stroke="#231f20" stroke-width="0.12">TRAIL</text>
<text x="371.9" y="661.16" font-size="5.95" font-style="italic" fill="#231f20" stroke="#231f20" stroke-width="0.12">ITGB2</text>
<text x="371.9" y="666.85" font-size="5.95" font-style="italic" fill="#231f20" stroke="#231f20" stroke-width="0.12">GZMK</text>
<text x="371.9" y="672.55" font-size="5.95" font-style="italic" fill="#231f20" stroke="#231f20" stroke-width="0.12">LAMP1</text>
<text x="371.9" y="678.24" font-size="5.95" font-style="italic" fill="#231f20" stroke="#231f20" stroke-width="0.12">HLA-C</text>
<text x="371.9" y="683.93" font-size="5.95" font-style="italic" fill="#231f20" stroke="#231f20" stroke-width="0.12">IFNAR1</text>
<text x="371.9" y="689.63" font-size="5.95" font-style="italic" fill="#231f20" stroke="#231f20" stroke-width="0.12">VAV3</text>
<text x="371.9" y="695.32" font-size="5.95" font-style="italic" fill="#231f20" stroke="#231f20" stroke-width="0.12">VAV2</text>
<text x="371.9" y="701.01" font-size="5.95" font-style="italic" fill="#231f20" stroke="#231f20" stroke-width="0.12">ICAM1</text>
<text x="371.9" y="706.71" font-size="5.95" font-style="italic" fill="#231f20" stroke="#231f20" stroke-width="0.12">IFNB1</text>
<text x="371.9" y="712.40" font-size="5.95" font-style="italic" fill="#231f20" stroke="#231f20" stroke-width="0.12">CD48</text>
<text x="371.9" y="718.10" font-size="5.95" font-style="italic" fill="#231f20" stroke="#231f20" stroke-width="0.12">NKG7</text>
<line x1="288.00" y1="722.20" x2="313.83" y2="722.20" stroke="#5a5a5a" stroke-width="1.5" />
<line x1="315.03" y1="722.20" x2="340.77" y2="722.20" stroke="#5a5a5a" stroke-width="1.5" />
<line x1="341.97" y1="722.20" x2="368.20" y2="722.20" stroke="#5a5a5a" stroke-width="1.5" />
<text x="302.67" y="729.50" font-size="7.4" fill="#231f20" text-anchor="end" textLength="12.5" lengthAdjust="spacingAndGlyphs" transform="rotate(-45 302.67 729.50)">Ctrl</text>
<text x="329.60" y="729.50" font-size="7.4" fill="#231f20" text-anchor="end" textLength="46" lengthAdjust="spacingAndGlyphs" transform="rotate(-45 329.60 729.50)">Latent TGF-β1</text>
<text x="356.53" y="729.50" font-size="7.4" fill="#231f20" text-anchor="end" textLength="46" lengthAdjust="spacingAndGlyphs" transform="rotate(-45 356.53 729.50)">Active TGF-β1</text>
<g filter="url(#hmb)">
<rect x="409.5" y="542.0" width="82.80" height="151.20" fill="#f6f4e8"/>
<rect x="409.50" y="542.00" width="4.65" height="5.87" fill="#fde3a2"/>
<rect x="414.10" y="542.00" width="4.65" height="5.87" fill="#fde3a2"/>
<rect x="418.70" y="542.00" width="4.65" height="5.87" fill="#f8f7ee"/>
<rect x="423.30" y="542.00" width="4.65" height="5.87" fill="#fef0ca"/>
<rect x="427.90" y="542.00" width="4.65" height="5.87" fill="#fde3a2"/>
<rect x="432.50" y="542.00" width="4.65" height="5.87" fill="#fef0ca"/>
<rect x="437.10" y="542.00" width="4.65" height="5.87" fill="#fde3a2"/>
<rect x="441.70" y="542.00" width="4.65" height="5.87" fill="#fef0ca"/>
<rect x="446.30" y="542.00" width="4.65" height="5.87" fill="#f8f7ee"/>
<rect x="450.90" y="542.00" width="4.65" height="5.87" fill="#d4e3f0"/>
<rect x="455.50" y="542.00" width="4.65" height="5.87" fill="#fef0ca"/>
<rect x="460.10" y="542.00" width="4.65" height="5.87" fill="#b0c9e2"/>
<rect x="464.70" y="542.00" width="4.65" height="5.87" fill="#d4e3f0"/>
<rect x="469.30" y="542.00" width="4.65" height="5.87" fill="#e3eef6"/>
<rect x="473.90" y="542.00" width="4.65" height="5.87" fill="#b0c9e2"/>
<rect x="478.50" y="542.00" width="4.65" height="5.87" fill="#f8f7ee"/>
<rect x="483.10" y="542.00" width="4.65" height="5.87" fill="#e3eef6"/>
<rect x="487.70" y="542.00" width="4.65" height="5.87" fill="#d4e3f0"/>
<rect x="409.50" y="547.82" width="4.65" height="5.87" fill="#fef0ca"/>
<rect x="414.10" y="547.82" width="4.65" height="5.87" fill="#fef0ca"/>
<rect x="418.70" y="547.82" width="4.65" height="5.87" fill="#fde3a2"/>
<rect x="423.30" y="547.82" width="4.65" height="5.87" fill="#f8f7ee"/>
<rect x="427.90" y="547.82" width="4.65" height="5.87" fill="#fef0ca"/>
<rect x="432.50" y="547.82" width="4.65" height="5.87" fill="#fde3a2"/>
<rect x="437.10" y="547.82" width="4.65" height="5.87" fill="#e3eef6"/>
<rect x="441.70" y="547.82" width="4.65" height="5.87" fill="#fef0ca"/>
<rect x="446.30" y="547.82" width="4.65" height="5.87" fill="#fde3a2"/>
<rect x="450.90" y="547.82" width="4.65" height="5.87" fill="#fde3a2"/>
<rect x="455.50" y="547.82" width="4.65" height="5.87" fill="#f8f7ee"/>
<rect x="460.10" y="547.82" width="4.65" height="5.87" fill="#b0c9e2"/>
<rect x="464.70" y="547.82" width="4.65" height="5.87" fill="#fef0ca"/>
<rect x="469.30" y="547.82" width="4.65" height="5.87" fill="#fef0ca"/>
<rect x="473.90" y="547.82" width="4.65" height="5.87" fill="#b0c9e2"/>
<rect x="478.50" y="547.82" width="4.65" height="5.87" fill="#e3eef6"/>
<rect x="483.10" y="547.82" width="4.65" height="5.87" fill="#e3eef6"/>
<rect x="487.70" y="547.82" width="4.65" height="5.87" fill="#d4e3f0"/>
<rect x="409.50" y="553.63" width="4.65" height="5.87" fill="#fde3a2"/>
<rect x="414.10" y="553.63" width="4.65" height="5.87" fill="#f8f7ee"/>
<rect x="418.70" y="553.63" width="4.65" height="5.87" fill="#fde3a2"/>
<rect x="423.30" y="553.63" width="4.65" height="5.87" fill="#fef0ca"/>
<rect x="427.90" y="553.63" width="4.65" height="5.87" fill="#fbcc90"/>
<rect x="432.50" y="553.63" width="4.65" height="5.87" fill="#fde3a2"/>
<rect x="437.10" y="553.63" width="4.65" height="5.87" fill="#fde3a2"/>
<rect x="441.70" y="553.63" width="4.65" height="5.87" fill="#e3eef6"/>
<rect x="446.30" y="553.63" width="4.65" height="5.87" fill="#e3eef6"/>
<rect x="450.90" y="553.63" width="4.65" height="5.87" fill="#b0c9e2"/>
<rect x="455.50" y="553.63" width="4.65" height="5.87" fill="#e3eef6"/>
<rect x="460.10" y="553.63" width="4.65" height="5.87" fill="#fde3a2"/>
<rect x="464.70" y="553.63" width="4.65" height="5.87" fill="#b0c9e2"/>
<rect x="469.30" y="553.63" width="4.65" height="5.87" fill="#e3eef6"/>
<rect x="473.90" y="553.63" width="4.65" height="5.87" fill="#e3eef6"/>
<rect x="478.50" y="553.63" width="4.65" height="5.87" fill="#b0c9e2"/>
<rect x="483.10" y="553.63" width="4.65" height="5.87" fill="#d4e3f0"/>
<rect x="487.70" y="553.63" width="4.65" height="5.87" fill="#e3eef6"/>
<rect x="409.50" y="559.45" width="4.65" height="5.87" fill="#fde3a2"/>
<rect x="414.10" y="559.45" width="4.65" height="5.87" fill="#f29e64"/>
<rect x="418.70" y="559.45" width="4.65" height="5.87" fill="#fde3a2"/>
<rect x="423.30" y="559.45" width="4.65" height="5.87" fill="#f8f7ee"/>
<rect x="427.90" y="559.45" width="4.65" height="5.87" fill="#f29e64"/>
<rect x="432.50" y="559.45" width="4.65" height="5.87" fill="#fde3a2"/>
<rect x="437.10" y="559.45" width="4.65" height="5.87" fill="#d4e3f0"/>
<rect x="441.70" y="559.45" width="4.65" height="5.87" fill="#fef0ca"/>
<rect x="446.30" y="559.45" width="4.65" height="5.87" fill="#f8f7ee"/>
<rect x="450.90" y="559.45" width="4.65" height="5.87" fill="#e3eef6"/>
<rect x="455.50" y="559.45" width="4.65" height="5.87" fill="#e3eef6"/>
<rect x="460.10" y="559.45" width="4.65" height="5.87" fill="#f8f7ee"/>
<rect x="464.70" y="559.45" width="4.65" height="5.87" fill="#fef0ca"/>
<rect x="469.30" y="559.45" width="4.65" height="5.87" fill="#e3eef6"/>
<rect x="473.90" y="559.45" width="4.65" height="5.87" fill="#e3eef6"/>
<rect x="478.50" y="559.45" width="4.65" height="5.87" fill="#e3eef6"/>
<rect x="483.10" y="559.45" width="4.65" height="5.87" fill="#e3eef6"/>
<rect x="487.70" y="559.45" width="4.65" height="5.87" fill="#e3eef6"/>
<rect x="409.50" y="565.26" width="4.65" height="5.87" fill="#fde3a2"/>
<rect x="414.10" y="565.26" width="4.65" height="5.87" fill="#fde3a2"/>
<rect x="418.70" y="565.26" width="4.65" height="5.87" fill="#fef0ca"/>
<rect x="423.30" y="565.26" width="4.65" height="5.87" fill="#fbcc90"/>
<rect x="427.90" y="565.26" width="4.65" height="5.87" fill="#fef0ca"/>
<rect x="432.50" y="565.26" width="4.65" height="5.87" fill="#fef0ca"/>
<rect x="437.10" y="565.26" width="4.65" height="5.87" fill="#fde3a2"/>
<rect x="441.70" y="565.26" width="4.65" height="5.87" fill="#fbcc90"/>
<rect x="446.30" y="565.26" width="4.65" height="5.87" fill="#f8f7ee"/>
<rect x="450.90" y="565.26" width="4.65" height="5.87" fill="#e3eef6"/>
<rect x="455.50" y="565.26" width="4.65" height="5.87" fill="#e3eef6"/>
<rect x="460.10" y="565.26" width="4.65" height="5.87" fill="#fef0ca"/>
<rect x="464.70" y="565.26" width="4.65" height="5.87" fill="#f8f7ee"/>
<rect x="469.30" y="565.26" width="4.65" height="5.87" fill="#e3eef6"/>
<rect x="473.90" y="565.26" width="4.65" height="5.87" fill="#fef0ca"/>
<rect x="478.50" y="565.26" width="4.65" height="5.87" fill="#fef0ca"/>
<rect x="483.10" y="565.26" width="4.65" height="5.87" fill="#e3eef6"/>
<rect x="487.70" y="565.26" width="4.65" height="5.87" fill="#fef0ca"/>
<rect x="409.50" y="571.08" width="4.65" height="5.87" fill="#fde3a2"/>
<rect x="414.10" y="571.08" width="4.65" height="5.87" fill="#fde3a2"/>
<rect x="418.70" y="571.08" width="4.65" height="5.87" fill="#fbcc90"/>
<rect x="423.30" y="571.08" width="4.65" height="5.87" fill="#fde3a2"/>
<rect x="427.90" y="571.08" width="4.65" height="5.87" fill="#fbcc90"/>
<rect x="432.50" y="571.08" width="4.65" height="5.87" fill="#fef0ca"/>
<rect x="437.10" y="571.08" width="4.65" height="5.87" fill="#f29e64"/>
<rect x="441.70" y="571.08" width="4.65" height="5.87" fill="#fbcc90"/>
<rect x="446.30" y="571.08" width="4.65" height="5.87" fill="#e3eef6"/>
<rect x="450.90" y="571.08" width="4.65" height="5.87" fill="#f8f7ee"/>
<rect x="455.50" y="571.08" width="4.65" height="5.87" fill="#e3eef6"/>
<rect x="460.10" y="571.08" width="4.65" height="5.87" fill="#f8f7ee"/>
<rect x="464.70" y="571.08" width="4.65" height="5.87" fill="#e3eef6"/>
<rect x="469.30" y="571.08" width="4.65" height="5.87" fill="#e3eef6"/>
<rect x="473.90" y="571.08" width="4.65" height="5.87" fill="#f8f7ee"/>
<rect x="478.50" y="571.08" width="4.65" height="5.87" fill="#e3eef6"/>
<rect x="483.10" y="571.08" width="4.65" height="5.87" fill="#e3eef6"/>
<rect x="487.70" y="571.08" width="4.65" height="5.87" fill="#e3eef6"/>
<rect x="409.50" y="576.89" width="4.65" height="5.87" fill="#fef0ca"/>
<rect x="414.10" y="576.89" width="4.65" height="5.87" fill="#fef0ca"/>
<rect x="418.70" y="576.89" width="4.65" height="5.87" fill="#fef0ca"/>
<rect x="423.30" y="576.89" width="4.65" height="5.87" fill="#fef0ca"/>
<rect x="427.90" y="576.89" width="4.65" height="5.87" fill="#fde3a2"/>
<rect x="432.50" y="576.89" width="4.65" height="5.87" fill="#fde3a2"/>
<rect x="437.10" y="576.89" width="4.65" height="5.87" fill="#f8f7ee"/>
<rect x="441.70" y="576.89" width="4.65" height="5.87" fill="#fde3a2"/>
<rect x="446.30" y="576.89" width="4.65" height="5.87" fill="#fde3a2"/>
<rect x="450.90" y="576.89" width="4.65" height="5.87" fill="#fde3a2"/>
<rect x="455.50" y="576.89" width="4.65" height="5.87" fill="#f8f7ee"/>
<rect x="460.10" y="576.89" width="4.65" height="5.87" fill="#b0c9e2"/>
<rect x="464.70" y="576.89" width="4.65" height="5.87" fill="#fde3a2"/>
<rect x="469.30" y="576.89" width="4.65" height="5.87" fill="#f8f7ee"/>
<rect x="473.90" y="576.89" width="4.65" height="5.87" fill="#b0c9e2"/>
<rect x="478.50" y="576.89" width="4.65" height="5.87" fill="#e3eef6"/>
<rect x="483.10" y="576.89" width="4.65" height="5.87" fill="#e3eef6"/>
<rect x="487.70" y="576.89" width="4.65" height="5.87" fill="#d4e3f0"/>
<rect x="409.50" y="582.71" width="4.65" height="5.87" fill="#fef0ca"/>
<rect x="414.10" y="582.71" width="4.65" height="5.87" fill="#f8f7ee"/>
<rect x="418.70" y="582.71" width="4.65" height="5.87" fill="#fde3a2"/>
<rect x="423.30" y="582.71" width="4.65" height="5.87" fill="#fef0ca"/>
<rect x="427.90" y="582.71" width="4.65" height="5.87" fill="#fde3a2"/>
<rect x="432.50" y="582.71" width="4.65" height="5.87" fill="#fef0ca"/>
<rect x="437.10" y="582.71" width="4.65" height="5.87" fill="#e3eef6"/>
<rect x="441.70" y="582.71" width="4.65" height="5.87" fill="#f8f7ee"/>
<rect x="446.30" y="582.71" width="4.65" height="5.87" fill="#e3eef6"/>
<rect x="450.90" y="582.71" width="4.65" height="5.87" fill="#b0c9e2"/>
<rect x="455.50" y="582.71" width="4.65" height="5.87" fill="#fef0ca"/>
<rect x="460.10" y="582.71" width="4.65" height="5.87" fill="#f8f7ee"/>
<rect x="464.70" y="582.71" width="4.65" height="5.87" fill="#d4e3f0"/>
<rect x="469.30" y="582.71" width="4.65" height="5.87" fill="#f8f7ee"/>
<rect x="473.90" y="582.71" width="4.65" height="5.87" fill="#f8f7ee"/>
<rect x="478.50" y="582.71" width="4.65" height="5.87" fill="#b0c9e2"/>
<rect x="483.10" y="582.71" width="4.65" height="5.87" fill="#e3eef6"/>
<rect x="487.70" y="582.71" width="4.65" height="5.87" fill="#f8f7ee"/>
<rect x="409.50" y="588.52" width="4.65" height="5.87" fill="#fef0ca"/>
<rect x="414.10" y="588.52" width="4.65" height="5.87" fill="#fde3a2"/>
<rect x="418.70" y="588.52" width="4.65" height="5.87" fill="#fef0ca"/>
<rect x="423.30" y="588.52" width="4.65" height="5.87" fill="#fde3a2"/>
<rect x="427.90" y="588.52" width="4.65" height="5.87" fill="#fef0ca"/>
<rect x="432.50" y="588.52" width="4.65" height="5.87" fill="#e3eef6"/>
<rect x="437.10" y="588.52" width="4.65" height="5.87" fill="#f8f7ee"/>
<rect x="441.70" y="588.52" width="4.65" height="5.87" fill="#f8f7ee"/>
<rect x="446.30" y="588.52" width="4.65" height="5.87" fill="#e3eef6"/>
<rect x="450.90" y="588.52" width="4.65" height="5.87" fill="#b0c9e2"/>
<rect x="455.50" y="588.52" width="4.65" height="5.87" fill="#f8f7ee"/>
<rect x="460.10" y="588.52" width="4.65" height="5.87" fill="#f8f7ee"/>
<rect x="464.70" y="588.52" width="4.65" height="5.87" fill="#e3eef6"/>
<rect x="469.30" y="588.52" width="4.65" height="5.87" fill="#d4e3f0"/>
<rect x="473.90" y="588.52" width="4.65" height="5.87" fill="#f8f7ee"/>
<rect x="478.50" y="588.52" width="4.65" height="5.87" fill="#f8f7ee"/>
<rect x="483.10" y="588.52" width="4.65" height="5.87" fill="#e3eef6"/>
<rect x="487.70" y="588.52" width="4.65" height="5.87" fill="#e3eef6"/>
<rect x="409.50" y="594.34" width="4.65" height="5.87" fill="#fde3a2"/>
<rect x="414.10" y="594.34" width="4.65" height="5.87" fill="#fef0ca"/>
<rect x="418.70" y="594.34" width="4.65" height="5.87" fill="#fef0ca"/>
<rect x="423.30" y="594.34" width="4.65" height="5.87" fill="#f8f7ee"/>
<rect x="427.90" y="594.34" width="4.65" height="5.87" fill="#fef0ca"/>
<rect x="432.50" y="594.34" width="4.65" height="5.87" fill="#fef0ca"/>
<rect x="437.10" y="594.34" width="4.65" height="5.87" fill="#f8f7ee"/>
<rect x="441.70" y="594.34" width="4.65" height="5.87" fill="#fef0ca"/>
<rect x="446.30" y="594.34" width="4.65" height="5.87" fill="#d4e3f0"/>
<rect x="450.90" y="594.34" width="4.65" height="5.87" fill="#f8f7ee"/>
<rect x="455.50" y="594.34" width="4.65" height="5.87" fill="#fef0ca"/>
<rect x="460.10" y="594.34" width="4.65" height="5.87" fill="#d4e3f0"/>
<rect x="464.70" y="594.34" width="4.65" height="5.87" fill="#f8f7ee"/>
<rect x="469.30" y="594.34" width="4.65" height="5.87" fill="#d4e3f0"/>
<rect x="473.90" y="594.34" width="4.65" height="5.87" fill="#d4e3f0"/>
<rect x="478.50" y="594.34" width="4.65" height="5.87" fill="#fde3a2"/>
<rect x="483.10" y="594.34" width="4.65" height="5.87" fill="#fef0ca"/>
<rect x="487.70" y="594.34" width="4.65" height="5.87" fill="#d4e3f0"/>
<rect x="409.50" y="600.15" width="4.65" height="5.87" fill="#d4e3f0"/>
<rect x="414.10" y="600.15" width="4.65" height="5.87" fill="#f8f7ee"/>
<rect x="418.70" y="600.15" width="4.65" height="5.87" fill="#fef0ca"/>
<rect x="423.30" y="600.15" width="4.65" height="5.87" fill="#fef0ca"/>
<rect x="427.90" y="600.15" width="4.65" height="5.87" fill="#fef0ca"/>
<rect x="432.50" y="600.15" width="4.65" height="5.87" fill="#fde3a2"/>
<rect x="437.10" y="600.15" width="4.65" height="5.87" fill="#f8f7ee"/>
<rect x="441.70" y="600.15" width="4.65" height="5.87" fill="#f8f7ee"/>
<rect x="446.30" y="600.15" width="4.65" height="5.87" fill="#e3eef6"/>
<rect x="450.90" y="600.15" width="4.65" height="5.87" fill="#fef0ca"/>
<rect x="455.50" y="600.15" width="4.65" height="5.87" fill="#d4e3f0"/>
<rect x="460.10" y="600.15" width="4.65" height="5.87" fill="#e3eef6"/>
<rect x="464.70" y="600.15" width="4.65" height="5.87" fill="#f8f7ee"/>
<rect x="469.30" y="600.15" width="4.65" height="5.87" fill="#e3eef6"/>
<rect x="473.90" y="600.15" width="4.65" height="5.87" fill="#d4e3f0"/>
<rect x="478.50" y="600.15" width="4.65" height="5.87" fill="#fef0ca"/>
<rect x="483.10" y="600.15" width="4.65" height="5.87" fill="#f8f7ee"/>
<rect x="487.70" y="600.15" width="4.65" height="5.87" fill="#e3eef6"/>
<rect x="409.50" y="605.97" width="4.65" height="5.87" fill="#fde3a2"/>
<rect x="414.10" y="605.97" width="4.65" height="5.87" fill="#fde3a2"/>
<rect x="418.70" y="605.97" width="4.65" height="5.87" fill="#fbcc90"/>
<rect x="423.30" y="605.97" width="4.65" height="5.87" fill="#fef0ca"/>
<rect x="427.90" y="605.97" width="4.65" height="5.87" fill="#fef0ca"/>
<rect x="432.50" y="605.97" width="4.65" height="5.87" fill="#fef0ca"/>
<rect x="437.10" y="605.97" width="4.65" height="5.87" fill="#e3eef6"/>
<rect x="441.70" y="605.97" width="4.65" height="5.87" fill="#f29e64"/>
<rect x="446.30" y="605.97" width="4.65" height="5.87" fill="#fef0ca"/>
<rect x="450.90" y="605.97" width="4.65" height="5.87" fill="#fef0ca"/>
<rect x="455.50" y="605.97" width="4.65" height="5.87" fill="#d4e3f0"/>
<rect x="460.10" y="605.97" width="4.65" height="5.87" fill="#fde3a2"/>
<rect x="464.70" y="605.97" width="4.65" height="5.87" fill="#b0c9e2"/>
<rect x="469.30" y="605.97" width="4.65" height="5.87" fill="#e3eef6"/>
<rect x="473.90" y="605.97" width="4.65" height="5.87" fill="#e3eef6"/>
<rect x="478.50" y="605.97" width="4.65" height="5.87" fill="#e3eef6"/>
<rect x="483.10" y="605.97" width="4.65" height="5.87" fill="#d4e3f0"/>
<rect x="487.70" y="605.97" width="4.65" height="5.87" fill="#e3eef6"/>
<rect x="409.50" y="611.78" width="4.65" height="5.87" fill="#fde3a2"/>
<rect x="414.10" y="611.78" width="4.65" height="5.87" fill="#fde3a2"/>
<rect x="418.70" y="611.78" width="4.65" height="5.87" fill="#fde3a2"/>
<rect x="423.30" y="611.78" width="4.65" height="5.87" fill="#fef0ca"/>
<rect x="427.90" y="611.78" width="4.65" height="5.87" fill="#fef0ca"/>
<rect x="432.50" y="611.78" width="4.65" height="5.87" fill="#fef0ca"/>
<rect x="437.10" y="611.78" width="4.65" height="5.87" fill="#fde3a2"/>
<rect x="441.70" y="611.78" width="4.65" height="5.87" fill="#fef0ca"/>
<rect x="446.30" y="611.78" width="4.65" height="5.87" fill="#f8f7ee"/>
<rect x="450.90" y="611.78" width="4.65" height="5.87" fill="#fef0ca"/>
<rect x="455.50" y="611.78" width="4.65" height="5.87" fill="#f8f7ee"/>
<rect x="460.10" y="611.78" width="4.65" height="5.87" fill="#b0c9e2"/>
<rect x="464.70" y="611.78" width="4.65" height="5.87" fill="#e3eef6"/>
<rect x="469.30" y="611.78" width="4.65" height="5.87" fill="#d4e3f0"/>
<rect x="473.90" y="611.78" width="4.65" height="5.87" fill="#b0c9e2"/>
<rect x="478.50" y="611.78" width="4.65" height="5.87" fill="#fef0ca"/>
<rect x="483.10" y="611.78" width="4.65" height="5.87" fill="#e3eef6"/>
<rect x="487.70" y="611.78" width="4.65" height="5.87" fill="#d4e3f0"/>
<rect x="409.50" y="617.60" width="4.65" height="5.87" fill="#fef0ca"/>
<rect x="414.10" y="617.60" width="4.65" height="5.87" fill="#fef0ca"/>
<rect x="418.70" y="617.60" width="4.65" height="5.87" fill="#e3eef6"/>
<rect x="423.30" y="617.60" width="4.65" height="5.87" fill="#f8f7ee"/>
<rect x="427.90" y="617.60" width="4.65" height="5.87" fill="#f29e64"/>
<rect x="432.50" y="617.60" width="4.65" height="5.87" fill="#fde3a2"/>
<rect x="437.10" y="617.60" width="4.65" height="5.87" fill="#e3eef6"/>
<rect x="441.70" y="617.60" width="4.65" height="5.87" fill="#f8f7ee"/>
<rect x="446.30" y="617.60" width="4.65" height="5.87" fill="#e3eef6"/>
<rect x="450.90" y="617.60" width="4.65" height="5.87" fill="#e3eef6"/>
<rect x="455.50" y="617.60" width="4.65" height="5.87" fill="#e3eef6"/>
<rect x="460.10" y="617.60" width="4.65" height="5.87" fill="#f8f7ee"/>
<rect x="464.70" y="617.60" width="4.65" height="5.87" fill="#e3eef6"/>
<rect x="469.30" y="617.60" width="4.65" height="5.87" fill="#fef0ca"/>
<rect x="473.90" y="617.60" width="4.65" height="5.87" fill="#d4e3f0"/>
<rect x="478.50" y="617.60" width="4.65" height="5.87" fill="#f8f7ee"/>
<rect x="483.10" y="617.60" width="4.65" height="5.87" fill="#fef0ca"/>
<rect x="487.70" y="617.60" width="4.65" height="5.87" fill="#f8f7ee"/>
<rect x="409.50" y="623.42" width="4.65" height="5.87" fill="#fde3a2"/>
<rect x="414.10" y="623.42" width="4.65" height="5.87" fill="#fde3a2"/>
<rect x="418.70" y="623.42" width="4.65" height="5.87" fill="#fbcc90"/>
<rect x="423.30" y="623.42" width="4.65" height="5.87" fill="#d4e3f0"/>
<rect x="427.90" y="623.42" width="4.65" height="5.87" fill="#fef0ca"/>
<rect x="432.50" y="623.42" width="4.65" height="5.87" fill="#fde3a2"/>
<rect x="437.10" y="623.42" width="4.65" height="5.87" fill="#b0c9e2"/>
<rect x="441.70" y="623.42" width="4.65" height="5.87" fill="#f8f7ee"/>
<rect x="446.30" y="623.42" width="4.65" height="5.87" fill="#e3eef6"/>
<rect x="450.90" y="623.42" width="4.65" height="5.87" fill="#fef0ca"/>
<rect x="455.50" y="623.42" width="4.65" height="5.87" fill="#fef0ca"/>
<rect x="460.10" y="623.42" width="4.65" height="5.87" fill="#d4e3f0"/>
<rect x="464.70" y="623.42" width="4.65" height="5.87" fill="#f8f7ee"/>
<rect x="469.30" y="623.42" width="4.65" height="5.87" fill="#f8f7ee"/>
<rect x="473.90" y="623.42" width="4.65" height="5.87" fill="#e3eef6"/>
<rect x="478.50" y="623.42" width="4.65" height="5.87" fill="#d4e3f0"/>
<rect x="483.10" y="623.42" width="4.65" height="5.87" fill="#e3eef6"/>
<rect x="487.70" y="623.42" width="4.65" height="5.87" fill="#fef0ca"/>
<rect x="409.50" y="629.23" width="4.65" height="5.87" fill="#d4e3f0"/>
<rect x="414.10" y="629.23" width="4.65" height="5.87" fill="#e3eef6"/>
<rect x="418.70" y="629.23" width="4.65" height="5.87" fill="#f8f7ee"/>
<rect x="423.30" y="629.23" width="4.65" height="5.87" fill="#fde3a2"/>
<rect x="427.90" y="629.23" width="4.65" height="5.87" fill="#e3eef6"/>
<rect x="432.50" y="629.23" width="4.65" height="5.87" fill="#fef0ca"/>
<rect x="437.10" y="629.23" width="4.65" height="5.87" fill="#fef0ca"/>
<rect x="441.70" y="629.23" width="4.65" height="5.87" fill="#fde3a2"/>
<rect x="446.30" y="629.23" width="4.65" height="5.87" fill="#fef0ca"/>
<rect x="450.90" y="629.23" width="4.65" height="5.87" fill="#f8f7ee"/>
<rect x="455.50" y="629.23" width="4.65" height="5.87" fill="#f8f7ee"/>
<rect x="460.10" y="629.23" width="4.65" height="5.87" fill="#fde3a2"/>
<rect x="464.70" y="629.23" width="4.65" height="5.87" fill="#fde3a2"/>
<rect x="469.30" y="629.23" width="4.65" height="5.87" fill="#e3eef6"/>
<rect x="473.90" y="629.23" width="4.65" height="5.87" fill="#d4e3f0"/>
<rect x="478.50" y="629.23" width="4.65" height="5.87" fill="#d4e3f0"/>
<rect x="483.10" y="629.23" width="4.65" height="5.87" fill="#f8f7ee"/>
<rect x="487.70" y="629.23" width="4.65" height="5.87" fill="#d4e3f0"/>
<rect x="409.50" y="635.05" width="4.65" height="5.87" fill="#f8f7ee"/>
<rect x="414.10" y="635.05" width="4.65" height="5.87" fill="#fef0ca"/>
<rect x="418.70" y="635.05" width="4.65" height="5.87" fill="#fef0ca"/>
<rect x="423.30" y="635.05" width="4.65" height="5.87" fill="#fef0ca"/>
<rect x="427.90" y="635.05" width="4.65" height="5.87" fill="#fde3a2"/>
<rect x="432.50" y="635.05" width="4.65" height="5.87" fill="#fde3a2"/>
<rect x="437.10" y="635.05" width="4.65" height="5.87" fill="#fde3a2"/>
<rect x="441.70" y="635.05" width="4.65" height="5.87" fill="#fef0ca"/>
<rect x="446.30" y="635.05" width="4.65" height="5.87" fill="#e3eef6"/>
<rect x="450.90" y="635.05" width="4.65" height="5.87" fill="#e3eef6"/>
<rect x="455.50" y="635.05" width="4.65" height="5.87" fill="#fde3a2"/>
<rect x="460.10" y="635.05" width="4.65" height="5.87" fill="#fef0ca"/>
<rect x="464.70" y="635.05" width="4.65" height="5.87" fill="#e3eef6"/>
<rect x="469.30" y="635.05" width="4.65" height="5.87" fill="#f8f7ee"/>
<rect x="473.90" y="635.05" width="4.65" height="5.87" fill="#f8f7ee"/>
<rect x="478.50" y="635.05" width="4.65" height="5.87" fill="#d4e3f0"/>
<rect x="483.10" y="635.05" width="4.65" height="5.87" fill="#e3eef6"/>
<rect x="487.70" y="635.05" width="4.65" height="5.87" fill="#fef0ca"/>
<rect x="409.50" y="640.86" width="4.65" height="5.87" fill="#fef0ca"/>
<rect x="414.10" y="640.86" width="4.65" height="5.87" fill="#fde3a2"/>
<rect x="418.70" y="640.86" width="4.65" height="5.87" fill="#fde3a2"/>
<rect x="423.30" y="640.86" width="4.65" height="5.87" fill="#f29e64"/>
<rect x="427.90" y="640.86" width="4.65" height="5.87" fill="#fde3a2"/>
<rect x="432.50" y="640.86" width="4.65" height="5.87" fill="#fef0ca"/>
<rect x="437.10" y="640.86" width="4.65" height="5.87" fill="#e3eef6"/>
<rect x="441.70" y="640.86" width="4.65" height="5.87" fill="#e3eef6"/>
<rect x="446.30" y="640.86" width="4.65" height="5.87" fill="#e3eef6"/>
<rect x="450.90" y="640.86" width="4.65" height="5.87" fill="#f8f7ee"/>
<rect x="455.50" y="640.86" width="4.65" height="5.87" fill="#d4e3f0"/>
<rect x="460.10" y="640.86" width="4.65" height="5.87" fill="#f8f7ee"/>
<rect x="464.70" y="640.86" width="4.65" height="5.87" fill="#fef0ca"/>
<rect x="469.30" y="640.86" width="4.65" height="5.87" fill="#e3eef6"/>
<rect x="473.90" y="640.86" width="4.65" height="5.87" fill="#f8f7ee"/>
<rect x="478.50" y="640.86" width="4.65" height="5.87" fill="#e3eef6"/>
<rect x="483.10" y="640.86" width="4.65" height="5.87" fill="#d4e3f0"/>
<rect x="487.70" y="640.86" width="4.65" height="5.87" fill="#d4e3f0"/>
<rect x="409.50" y="646.68" width="4.65" height="5.87" fill="#fde3a2"/>
<rect x="414.10" y="646.68" width="4.65" height="5.87" fill="#fde3a2"/>
<rect x="418.70" y="646.68" width="4.65" height="5.87" fill="#fef0ca"/>
<rect x="423.30" y="646.68" width="4.65" height="5.87" fill="#e3eef6"/>
<rect x="427.90" y="646.68" width="4.65" height="5.87" fill="#fde3a2"/>
<rect x="432.50" y="646.68" width="4.65" height="5.87" fill="#fef0ca"/>
<rect x="437.10" y="646.68" width="4.65" height="5.87" fill="#fde3a2"/>
<rect x="441.70" y="646.68" width="4.65" height="5.87" fill="#fde3a2"/>
<rect x="446.30" y="646.68" width="4.65" height="5.87" fill="#fde3a2"/>
<rect x="450.90" y="646.68" width="4.65" height="5.87" fill="#f8f7ee"/>
<rect x="455.50" y="646.68" width="4.65" height="5.87" fill="#f8f7ee"/>
<rect x="460.10" y="646.68" width="4.65" height="5.87" fill="#f8f7ee"/>
<rect x="464.70" y="646.68" width="4.65" height="5.87" fill="#b0c9e2"/>
<rect x="469.30" y="646.68" width="4.65" height="5.87" fill="#d4e3f0"/>
<rect x="473.90" y="646.68" width="4.65" height="5.87" fill="#f8f7ee"/>
<rect x="478.50" y="646.68" width="4.65" height="5.87" fill="#f8f7ee"/>
<rect x="483.10" y="646.68" width="4.65" height="5.87" fill="#d4e3f0"/>
<rect x="487.70" y="646.68" width="4.65" height="5.87" fill="#e3eef6"/>
<rect x="409.50" y="652.49" width="4.65" height="5.87" fill="#f8f7ee"/>
<rect x="414.10" y="652.49" width="4.65" height="5.87" fill="#fde3a2"/>
<rect x="418.70" y="652.49" width="4.65" height="5.87" fill="#fbcc90"/>
<rect x="423.30" y="652.49" width="4.65" height="5.87" fill="#f8f7ee"/>
<rect x="427.90" y="652.49" width="4.65" height="5.87" fill="#f8f7ee"/>
<rect x="432.50" y="652.49" width="4.65" height="5.87" fill="#f8f7ee"/>
<rect x="437.10" y="652.49" width="4.65" height="5.87" fill="#fde3a2"/>
<rect x="441.70" y="652.49" width="4.65" height="5.87" fill="#fde3a2"/>
<rect x="446.30" y="652.49" width="4.65" height="5.87" fill="#fef0ca"/>
<rect x="450.90" y="652.49" width="4.65" height="5.87" fill="#fde3a2"/>
<rect x="455.50" y="652.49" width="4.65" height="5.87" fill="#fde3a2"/>
<rect x="460.10" y="652.49" width="4.65" height="5.87" fill="#b0c9e2"/>
<rect x="464.70" y="652.49" width="4.65" height="5.87" fill="#d4e3f0"/>
<rect x="469.30" y="652.49" width="4.65" height="5.87" fill="#e3eef6"/>
<rect x="473.90" y="652.49" width="4.65" height="5.87" fill="#b0c9e2"/>
<rect x="478.50" y="652.49" width="4.65" height="5.87" fill="#e3eef6"/>
<rect x="483.10" y="652.49" width="4.65" height="5.87" fill="#fef0ca"/>
<rect x="487.70" y="652.49" width="4.65" height="5.87" fill="#d4e3f0"/>
<rect x="409.50" y="658.31" width="4.65" height="5.87" fill="#fde3a2"/>
<rect x="414.10" y="658.31" width="4.65" height="5.87" fill="#fbcc90"/>
<rect x="418.70" y="658.31" width="4.65" height="5.87" fill="#fef0ca"/>
<rect x="423.30" y="658.31" width="4.65" height="5.87" fill="#fef0ca"/>
<rect x="427.90" y="658.31" width="4.65" height="5.87" fill="#f8f7ee"/>
<rect x="432.50" y="658.31" width="4.65" height="5.87" fill="#d42a22"/>
<rect x="437.10" y="658.31" width="4.65" height="5.87" fill="#fde3a2"/>
<rect x="441.70" y="658.31" width="4.65" height="5.87" fill="#fef0ca"/>
<rect x="446.30" y="658.31" width="4.65" height="5.87" fill="#fef0ca"/>
<rect x="450.90" y="658.31" width="4.65" height="5.87" fill="#e3eef6"/>
<rect x="455.50" y="658.31" width="4.65" height="5.87" fill="#fef0ca"/>
<rect x="460.10" y="658.31" width="4.65" height="5.87" fill="#fef0ca"/>
<rect x="464.70" y="658.31" width="4.65" height="5.87" fill="#e3eef6"/>
<rect x="469.30" y="658.31" width="4.65" height="5.87" fill="#f8f7ee"/>
<rect x="473.90" y="658.31" width="4.65" height="5.87" fill="#e3eef6"/>
<rect x="478.50" y="658.31" width="4.65" height="5.87" fill="#fef0ca"/>
<rect x="483.10" y="658.31" width="4.65" height="5.87" fill="#e3eef6"/>
<rect x="487.70" y="658.31" width="4.65" height="5.87" fill="#f8f7ee"/>
<rect x="409.50" y="664.12" width="4.65" height="5.87" fill="#e3eef6"/>
<rect x="414.10" y="664.12" width="4.65" height="5.87" fill="#fde3a2"/>
<rect x="418.70" y="664.12" width="4.65" height="5.87" fill="#fde3a2"/>
<rect x="423.30" y="664.12" width="4.65" height="5.87" fill="#f8f7ee"/>
<rect x="427.90" y="664.12" width="4.65" height="5.87" fill="#fde3a2"/>
<rect x="432.50" y="664.12" width="4.65" height="5.87" fill="#d42a22"/>
<rect x="437.10" y="664.12" width="4.65" height="5.87" fill="#f8f7ee"/>
<rect x="441.70" y="664.12" width="4.65" height="5.87" fill="#fef0ca"/>
<rect x="446.30" y="664.12" width="4.65" height="5.87" fill="#fef0ca"/>
<rect x="450.90" y="664.12" width="4.65" height="5.87" fill="#fef0ca"/>
<rect x="455.50" y="664.12" width="4.65" height="5.87" fill="#e3eef6"/>
<rect x="460.10" y="664.12" width="4.65" height="5.87" fill="#f8f7ee"/>
<rect x="464.70" y="664.12" width="4.65" height="5.87" fill="#e3eef6"/>
<rect x="469.30" y="664.12" width="4.65" height="5.87" fill="#f8f7ee"/>
<rect x="473.90" y="664.12" width="4.65" height="5.87" fill="#b0c9e2"/>
<rect x="478.50" y="664.12" width="4.65" height="5.87" fill="#e3eef6"/>
<rect x="483.10" y="664.12" width="4.65" height="5.87" fill="#fef0ca"/>
<rect x="487.70" y="664.12" width="4.65" height="5.87" fill="#e3eef6"/>
<rect x="409.50" y="669.94" width="4.65" height="5.87" fill="#fde3a2"/>
<rect x="414.10" y="669.94" width="4.65" height="5.87" fill="#fde3a2"/>
<rect x="418.70" y="669.94" width="4.65" height="5.87" fill="#fef0ca"/>
<rect x="423.30" y="669.94" width="4.65" height="5.87" fill="#fef0ca"/>
<rect x="427.90" y="669.94" width="4.65" height="5.87" fill="#fef0ca"/>
<rect x="432.50" y="669.94" width="4.65" height="5.87" fill="#fbcc90"/>
<rect x="437.10" y="669.94" width="4.65" height="5.87" fill="#f8f7ee"/>
<rect x="441.70" y="669.94" width="4.65" height="5.87" fill="#f8f7ee"/>
<rect x="446.30" y="669.94" width="4.65" height="5.87" fill="#fef0ca"/>
<rect x="450.90" y="669.94" width="4.65" height="5.87" fill="#d4e3f0"/>
<rect x="455.50" y="669.94" width="4.65" height="5.87" fill="#fef0ca"/>
<rect x="460.10" y="669.94" width="4.65" height="5.87" fill="#fde3a2"/>
<rect x="464.70" y="669.94" width="4.65" height="5.87" fill="#b0c9e2"/>
<rect x="469.30" y="669.94" width="4.65" height="5.87" fill="#f29e64"/>
<rect x="473.90" y="669.94" width="4.65" height="5.87" fill="#e3eef6"/>
<rect x="478.50" y="669.94" width="4.65" height="5.87" fill="#d4e3f0"/>
<rect x="483.10" y="669.94" width="4.65" height="5.87" fill="#e3eef6"/>
<rect x="487.70" y="669.94" width="4.65" height="5.87" fill="#d4e3f0"/>
<rect x="409.50" y="675.75" width="4.65" height="5.87" fill="#fef0ca"/>
<rect x="414.10" y="675.75" width="4.65" height="5.87" fill="#fde3a2"/>
<rect x="418.70" y="675.75" width="4.65" height="5.87" fill="#e3eef6"/>
<rect x="423.30" y="675.75" width="4.65" height="5.87" fill="#f8f7ee"/>
<rect x="427.90" y="675.75" width="4.65" height="5.87" fill="#f8f7ee"/>
<rect x="432.50" y="675.75" width="4.65" height="5.87" fill="#fde3a2"/>
<rect x="437.10" y="675.75" width="4.65" height="5.87" fill="#f29e64"/>
<rect x="441.70" y="675.75" width="4.65" height="5.87" fill="#f8f7ee"/>
<rect x="446.30" y="675.75" width="4.65" height="5.87" fill="#fde3a2"/>
<rect x="450.90" y="675.75" width="4.65" height="5.87" fill="#f8f7ee"/>
<rect x="455.50" y="675.75" width="4.65" height="5.87" fill="#fef0ca"/>
<rect x="460.10" y="675.75" width="4.65" height="5.87" fill="#fde3a2"/>
<rect x="464.70" y="675.75" width="4.65" height="5.87" fill="#f8f7ee"/>
<rect x="469.30" y="675.75" width="4.65" height="5.87" fill="#e3eef6"/>
<rect x="473.90" y="675.75" width="4.65" height="5.87" fill="#d4e3f0"/>
<rect x="478.50" y="675.75" width="4.65" height="5.87" fill="#f8f7ee"/>
<rect x="483.10" y="675.75" width="4.65" height="5.87" fill="#f8f7ee"/>
<rect x="487.70" y="675.75" width="4.65" height="5.87" fill="#d4e3f0"/>
<rect x="409.50" y="681.57" width="4.65" height="5.87" fill="#d4e3f0"/>
<rect x="414.10" y="681.57" width="4.65" height="5.87" fill="#fde3a2"/>
<rect x="418.70" y="681.57" width="4.65" height="5.87" fill="#fef0ca"/>
<rect x="423.30" y="681.57" width="4.65" height="5.87" fill="#fef0ca"/>
<rect x="427.90" y="681.57" width="4.65" height="5.87" fill="#fde3a2"/>
<rect x="432.50" y="681.57" width="4.65" height="5.87" fill="#fbcc90"/>
<rect x="437.10" y="681.57" width="4.65" height="5.87" fill="#e3eef6"/>
<rect x="441.70" y="681.57" width="4.65" height="5.87" fill="#fef0ca"/>
<rect x="446.30" y="681.57" width="4.65" height="5.87" fill="#fef0ca"/>
<rect x="450.90" y="681.57" width="4.65" height="5.87" fill="#f8f7ee"/>
<rect x="455.50" y="681.57" width="4.65" height="5.87" fill="#fef0ca"/>
<rect x="460.10" y="681.57" width="4.65" height="5.87" fill="#b0c9e2"/>
<rect x="464.70" y="681.57" width="4.65" height="5.87" fill="#fde3a2"/>
<rect x="469.30" y="681.57" width="4.65" height="5.87" fill="#d4e3f0"/>
<rect x="473.90" y="681.57" width="4.65" height="5.87" fill="#b0c9e2"/>
<rect x="478.50" y="681.57" width="4.65" height="5.87" fill="#e3eef6"/>
<rect x="483.10" y="681.57" width="4.65" height="5.87" fill="#d4e3f0"/>
<rect x="487.70" y="681.57" width="4.65" height="5.87" fill="#d4e3f0"/>
<rect x="409.50" y="687.38" width="4.65" height="5.87" fill="#f8f7ee"/>
<rect x="414.10" y="687.38" width="4.65" height="5.87" fill="#fbcc90"/>
<rect x="418.70" y="687.38" width="4.65" height="5.87" fill="#fbcc90"/>
<rect x="423.30" y="687.38" width="4.65" height="5.87" fill="#fef0ca"/>
<rect x="427.90" y="687.38" width="4.65" height="5.87" fill="#fde3a2"/>
<rect x="432.50" y="687.38" width="4.65" height="5.87" fill="#fef0ca"/>
<rect x="437.10" y="687.38" width="4.65" height="5.87" fill="#fef0ca"/>
<rect x="441.70" y="687.38" width="4.65" height="5.87" fill="#e3eef6"/>
<rect x="446.30" y="687.38" width="4.65" height="5.87" fill="#fbcc90"/>
<rect x="450.90" y="687.38" width="4.65" height="5.87" fill="#fde3a2"/>
<rect x="455.50" y="687.38" width="4.65" height="5.87" fill="#f8f7ee"/>
<rect x="460.10" y="687.38" width="4.65" height="5.87" fill="#b0c9e2"/>
<rect x="464.70" y="687.38" width="4.65" height="5.87" fill="#e3eef6"/>
<rect x="469.30" y="687.38" width="4.65" height="5.87" fill="#f8f7ee"/>
<rect x="473.90" y="687.38" width="4.65" height="5.87" fill="#e3eef6"/>
<rect x="478.50" y="687.38" width="4.65" height="5.87" fill="#e3eef6"/>
<rect x="483.10" y="687.38" width="4.65" height="5.87" fill="#d4e3f0"/>
<rect x="487.70" y="687.38" width="4.65" height="5.87" fill="#d4e3f0"/>
</g>
<text x="495.6" y="547.05" font-size="5.95" font-style="italic" fill="#231f20" stroke="#231f20" stroke-width="0.12">MTOR</text>
<text x="495.6" y="552.87" font-size="5.95" font-style="italic" fill="#231f20" stroke="#231f20" stroke-width="0.12">TBX21</text>
<text x="495.6" y="558.68" font-size="5.95" font-style="italic" fill="#231f20" stroke="#231f20" stroke-width="0.12">EOMES</text>
<text x="495.6" y="564.50" font-size="5.95" font-style="italic" fill="#231f20" stroke="#231f20" stroke-width="0.12">IL12RB1</text>
<text x="495.6" y="570.31" font-size="5.95" font-style="italic" fill="#231f20" stroke="#231f20" stroke-width="0.12">ITFG2</text>
<text x="495.6" y="576.13" font-size="5.95" font-style="italic" fill="#231f20" stroke="#231f20" stroke-width="0.12">GZMB</text>
<text x="495.6" y="581.94" font-size="5.95" font-style="italic" fill="#231f20" stroke="#231f20" stroke-width="0.12">DOCK10</text>
<text x="495.6" y="587.76" font-size="5.95" font-style="italic" fill="#231f20" stroke="#231f20" stroke-width="0.12">MDK</text>
<text x="495.6" y="593.57" font-size="5.95" font-style="italic" fill="#231f20" stroke="#231f20" stroke-width="0.12">EIF2AK4</text>
<text x="495.6" y="599.39" font-size="5.95" font-style="italic" fill="#231f20" stroke="#231f20" stroke-width="0.12">LOXL3</text>
<text x="495.6" y="605.20" font-size="5.95" font-style="italic" fill="#231f20" stroke="#231f20" stroke-width="0.12">SHLD3</text>
<text x="495.6" y="611.02" font-size="5.95" font-style="italic" fill="#231f20" stroke="#231f20" stroke-width="0.12">LAMP1</text>
<text x="495.6" y="616.83" font-size="5.95" font-style="italic" fill="#231f20" stroke="#231f20" stroke-width="0.12">CD244</text>
<text x="495.6" y="622.65" font-size="5.95" font-style="italic" fill="#231f20" stroke="#231f20" stroke-width="0.12">FGL2</text>
<text x="495.6" y="628.47" font-size="5.95" font-style="italic" fill="#231f20" stroke="#231f20" stroke-width="0.12">IFNG</text>
<text x="495.6" y="634.28" font-size="5.95" font-style="italic" fill="#231f20" stroke="#231f20" stroke-width="0.12">ZNF683</text>
<text x="495.6" y="640.10" font-size="5.95" font-style="italic" fill="#231f20" stroke="#231f20" stroke-width="0.12">CD40</text>
<text x="495.6" y="645.91" font-size="5.95" font-style="italic" fill="#231f20" stroke="#231f20" stroke-width="0.12">LILRB1</text>
<text x="495.6" y="651.73" font-size="5.95" font-style="italic" fill="#231f20" stroke="#231f20" stroke-width="0.12">ITM2A</text>
<text x="495.6" y="657.54" font-size="5.95" font-style="italic" fill="#231f20" stroke="#231f20" stroke-width="0.12">CCR6</text>
<text x="495.6" y="663.36" font-size="5.95" font-style="italic" fill="#231f20" stroke="#231f20" stroke-width="0.12">SMAD7</text>
<text x="495.6" y="669.17" font-size="5.95" font-style="italic" fill="#231f20" stroke="#231f20" stroke-width="0.12">IRF4</text>
<text x="495.6" y="674.99" font-size="5.95" font-style="italic" fill="#231f20" stroke="#231f20" stroke-width="0.12">CD28</text>
<text x="495.6" y="680.80" font-size="5.95" font-style="italic" fill="#231f20" stroke="#231f20" stroke-width="0.12">CD180</text>
<text x="495.6" y="686.62" font-size="5.95" font-style="italic" fill="#231f20" stroke="#231f20" stroke-width="0.12">JAK3</text>
<text x="495.6" y="692.43" font-size="5.95" font-style="italic" fill="#231f20" stroke="#231f20" stroke-width="0.12">BCL3</text>
<line x1="409.80" y1="696.80" x2="436.30" y2="696.80" stroke="#5a5a5a" stroke-width="1.5" />
<line x1="437.50" y1="696.80" x2="463.90" y2="696.80" stroke="#5a5a5a" stroke-width="1.5" />
<line x1="465.10" y1="696.80" x2="492.00" y2="696.80" stroke="#5a5a5a" stroke-width="1.5" />
<text x="424.80" y="704.00" font-size="7.4" fill="#231f20" text-anchor="end" textLength="12.5" lengthAdjust="spacingAndGlyphs" transform="rotate(-45 424.80 704.00)">Ctrl</text>
<text x="452.40" y="704.00" font-size="7.4" fill="#231f20" text-anchor="end" textLength="46" lengthAdjust="spacingAndGlyphs" transform="rotate(-45 452.40 704.00)">Latent TGF-β1</text>
<text x="480.00" y="704.00" font-size="7.4" fill="#231f20" text-anchor="end" textLength="46" lengthAdjust="spacingAndGlyphs" transform="rotate(-45 480.00 704.00)">Active TGF-β1</text>
<defs><linearGradient id="lgd" x1="0" x2="1" y1="0" y2="0"><stop offset="0" stop-color="#2e5da6"/><stop offset="0.18" stop-color="#7ea4cf"/><stop offset="0.33" stop-color="#cfe0ec"/><stop offset="0.47" stop-color="#f6f4dc"/><stop offset="0.62" stop-color="#fcd98e"/><stop offset="0.8" stop-color="#f49050"/><stop offset="1" stop-color="#bb1e26"/></linearGradient></defs>
<rect x="415.70" y="755.00" width="70.30" height="4.30" fill="url(#lgd)" />
<text x="419.00" y="750.22" font-size="7.84" fill="#231f20" stroke="#231f20" stroke-width="0.08" text-anchor="middle" textLength="7.50" lengthAdjust="spacingAndGlyphs" >−2</text>
<text x="434.50" y="750.22" font-size="7.84" fill="#231f20" stroke="#231f20" stroke-width="0.08" text-anchor="middle" textLength="7.00" lengthAdjust="spacingAndGlyphs" >−1</text>
<text x="449.50" y="750.22" font-size="7.84" fill="#231f20" stroke="#231f20" stroke-width="0.08" text-anchor="middle" textLength="3.80" lengthAdjust="spacingAndGlyphs" >0</text>
<text x="463.10" y="750.22" font-size="7.84" fill="#231f20" stroke="#231f20" stroke-width="0.08" text-anchor="middle" textLength="3.50" lengthAdjust="spacingAndGlyphs" >1</text>
<text x="476.70" y="750.22" font-size="7.84" fill="#231f20" stroke="#231f20" stroke-width="0.08" text-anchor="middle" textLength="3.80" lengthAdjust="spacingAndGlyphs" >2</text>
<text x="451.3" y="770.62" font-size="8.4" fill="#231f20" text-anchor="middle" textLength="61.3" lengthAdjust="spacingAndGlyphs">Log<tspan font-size="5.8" dy="1.8">2</tspan><tspan dy="-1.8"> (fold change)</tspan></text>
</svg></body></html>
